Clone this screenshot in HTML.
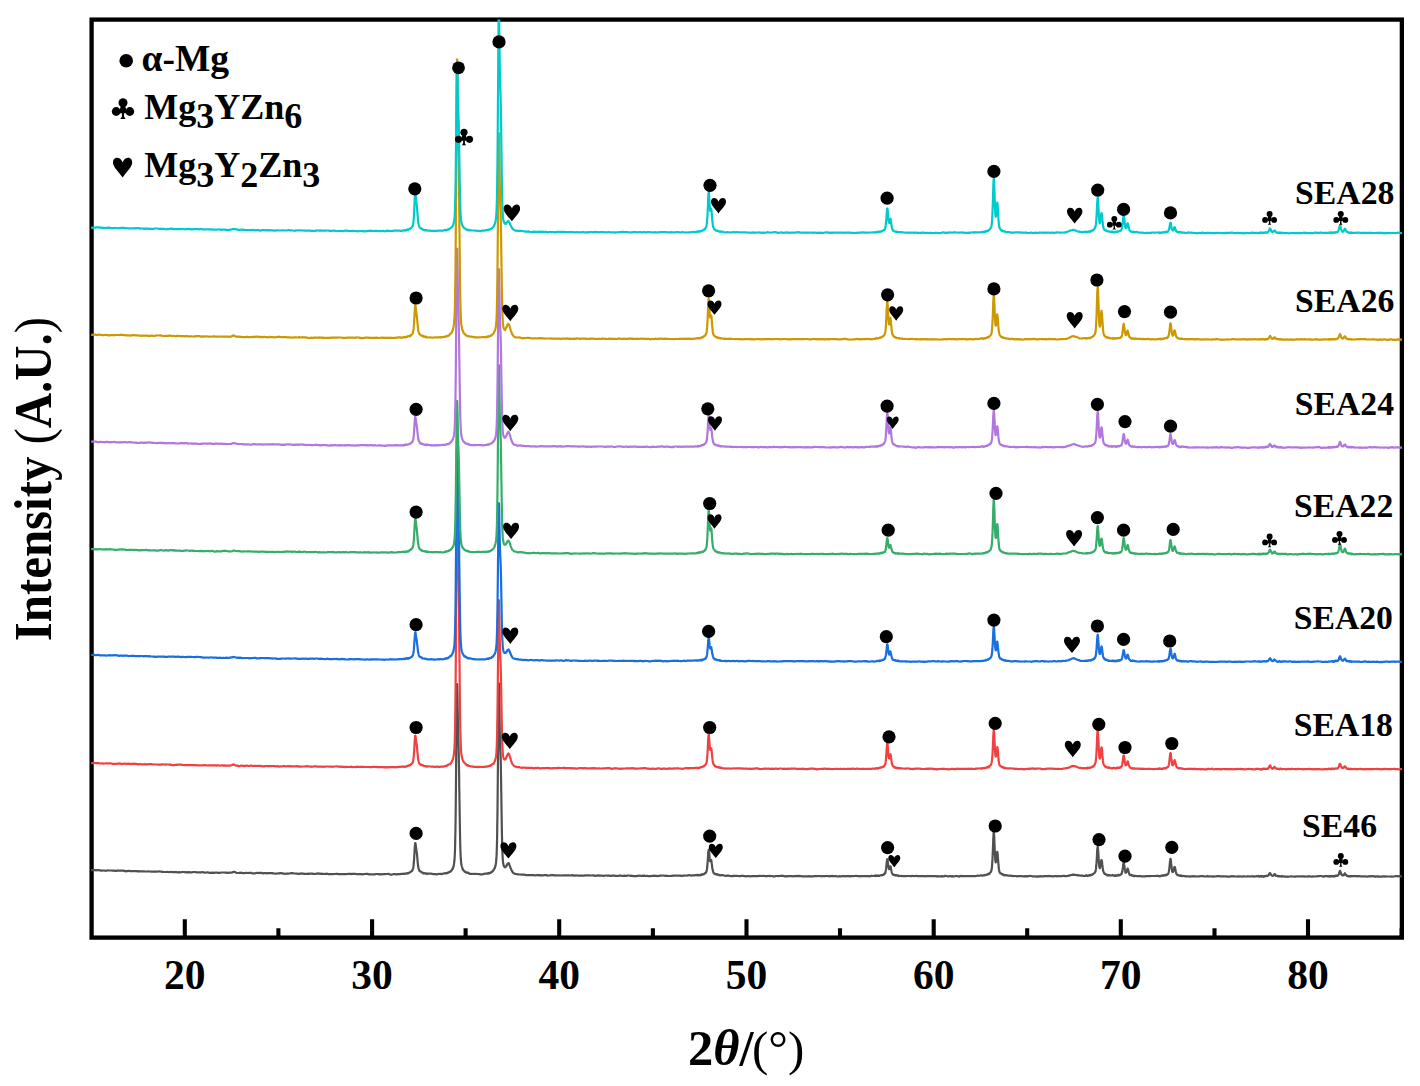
<!DOCTYPE html>
<html><head><meta charset="utf-8"><style>
html,body{margin:0;padding:0;background:#fff;}
svg{display:block;}
text{font-family:"Liberation Serif",serif;font-weight:bold;fill:#000;}
</style></head><body>
<svg width="1420" height="1086" viewBox="0 0 1420 1086">
<defs>
<clipPath id="pa"><rect x="91.2" y="19.4" width="1310.7" height="918"/></clipPath>
<g id="club"><circle cx="0" cy="-5.9" r="4.5"/><circle cx="-6.8" cy="2.9" r="4.4"/><circle cx="6.8" cy="2.9" r="4.4"/><path d="M-2.2 -2.5 L2.2 -2.5 L3 0.5 L3 4.6 L-3 4.6 L-3 0.5 Z"/><path d="M-1.05 4 L1.05 4 L1.15 8.1 L2.6 10.3 L-2.8 10.3 L-1.15 8.1 Z"/></g>
<path id="heart" d="M0 -5.2 C-1.2 -8.6 -3.6 -9.8 -5.6 -9.8 C-8.4 -9.8 -9.6 -7.4 -9.6 -5 C-9.6 -0.6 -4.6 3.6 0 9.9 C4.6 3.6 9.6 -0.6 9.6 -5 C9.6 -7.4 8.4 -9.8 5.6 -9.8 C3.6 -9.8 1.2 -8.6 0 -5.2 Z"/>
</defs>
<rect width="1420" height="1086" fill="#fff"/>
<rect x="91.6" y="19.6" width="1310.25" height="918" fill="none" stroke="#000" stroke-width="4.3"/>
<g clip-path="url(#pa)" fill="none" stroke-width="2.2" stroke-linejoin="round"><path d="M89.2 869.9L90.2 870.0 91.2 870.2 92.2 870.1 93.2 870.0 94.2 870.1 95.2 870.2 96.2 870.4 97.2 870.2 98.2 870.0 99.2 870.3 100.2 870.4 101.2 870.6 102.2 870.6 103.2 870.5 104.2 870.5 105.2 870.8 106.2 870.7 107.2 870.5 108.2 870.4 109.2 870.5 110.2 870.5 111.2 870.5 112.2 870.6 113.2 870.6 114.2 870.7 115.2 870.9 116.2 870.8 117.2 870.6 118.2 870.7 119.2 870.6 120.2 870.6 121.2 870.5 122.2 870.6 123.2 870.6 124.2 870.8 125.2 871.3 126.2 871.1 127.2 871.2 128.2 870.9 129.2 870.9 130.2 871.1 131.2 871.0 132.2 871.1 133.2 871.1 134.2 871.0 135.2 871.1 136.2 871.0 137.2 871.3 138.2 871.2 139.2 871.3 140.2 871.3 141.2 871.4 142.2 871.3 143.2 871.4 144.2 871.4 145.2 871.5 146.2 871.5 147.2 871.5 148.2 871.3 149.2 871.5 150.2 871.5 151.2 871.7 152.2 871.6 153.2 871.6 154.2 871.7 155.2 871.6 156.2 871.6 157.2 871.6 158.2 871.5 159.2 871.4 160.2 871.5 161.2 871.6 162.2 871.8 163.2 871.9 164.2 872.0 165.2 872.0 166.2 872.0 167.2 871.9 168.2 872.0 169.2 872.2 170.2 872.0 171.2 871.8 172.2 872.1 173.2 872.0 174.2 872.1 175.2 872.2 176.2 871.9 177.2 872.3 178.2 872.4 179.2 872.2 180.2 872.3 181.2 872.2 182.2 872.0 183.2 872.0 184.2 872.1 185.2 872.2 186.2 872.3 187.2 872.2 188.2 872.4 189.2 872.2 190.2 872.3 191.2 872.4 192.2 872.3 193.2 872.0 194.2 872.0 195.2 872.1 196.2 872.2 197.2 872.5 198.2 872.3 199.2 872.3 200.2 872.4 201.2 872.4 202.2 872.0 203.2 872.3 204.2 872.6 205.2 872.7 206.2 872.5 207.2 872.4 208.2 872.4 209.2 872.8 210.2 872.8 211.2 872.7 212.2 872.8 213.2 872.7 214.2 872.9 215.2 872.7 216.2 872.6 217.2 872.7 218.2 872.8 219.2 872.8 220.2 872.8 221.2 872.5 222.2 872.5 223.2 872.5 224.2 872.5 225.2 872.6 226.2 872.6 227.2 872.8 228.2 872.8 229.2 872.7 230.2 872.7 231.2 872.7 232.2 872.5 233.2 871.9 234.2 871.9 235.2 872.1 236.2 872.7 237.2 873.0 238.2 873.0 239.2 872.9 240.2 872.7 241.2 872.8 242.2 872.9 243.2 873.2 244.2 873.2 245.2 873.0 246.2 872.7 247.2 873.0 248.2 873.0 249.2 872.8 250.2 872.9 251.2 872.8 252.2 873.4 253.2 873.4 254.2 873.4 255.2 873.3 256.2 872.9 257.2 873.0 258.2 872.8 259.2 873.1 260.2 872.8 261.2 872.8 262.2 873.2 263.2 873.4 264.2 873.2 265.2 873.0 266.2 873.2 267.2 873.4 268.2 873.2 269.2 873.2 270.2 873.1 271.2 873.0 272.2 873.1 273.2 873.4 274.2 873.5 275.2 873.7 276.2 873.6 277.2 873.5 278.2 873.3 279.2 873.4 280.2 873.2 281.2 873.1 282.2 873.3 283.2 873.6 284.2 873.7 285.2 873.8 286.2 873.7 287.2 873.5 288.2 873.6 289.2 873.5 290.2 873.4 291.2 873.2 292.2 873.2 293.2 873.3 294.2 873.5 295.2 873.5 296.2 873.7 297.2 873.7 298.2 873.8 299.2 873.9 300.2 873.7 301.2 873.4 302.2 873.6 303.2 873.6 304.2 873.8 305.2 873.8 306.2 873.9 307.2 874.0 308.2 873.6 309.2 873.8 310.2 873.7 311.2 873.6 312.2 873.6 313.2 873.8 314.2 873.9 315.2 874.0 316.2 873.7 317.2 873.7 318.2 873.4 319.2 873.6 320.2 873.8 321.2 873.7 322.2 873.8 323.2 873.9 324.2 874.0 325.2 873.9 326.2 873.8 327.2 873.7 328.2 874.1 329.2 874.2 330.2 874.1 331.2 874.1 332.2 874.1 333.2 874.1 334.2 874.0 335.2 874.0 336.2 873.8 337.2 873.8 338.2 874.1 339.2 874.2 340.2 874.1 341.2 874.1 342.2 874.1 343.2 874.1 344.2 874.0 345.2 874.1 346.2 874.1 347.2 874.0 348.2 873.9 349.2 873.9 350.2 873.8 351.2 874.1 352.2 873.8 353.2 873.9 354.2 873.9 355.2 873.9 356.2 874.0 357.2 874.3 358.2 874.2 359.2 874.2 360.2 874.1 361.2 874.1 362.2 874.3 363.2 874.2 364.2 874.1 365.2 874.0 366.2 873.9 367.2 873.9 368.2 874.2 369.2 874.3 370.2 874.2 371.2 874.5 372.2 874.3 373.2 874.4 374.2 874.5 375.2 874.2 376.2 874.0 377.2 874.0 378.2 874.2 379.2 874.4 380.2 874.2 381.2 874.4 382.2 874.3 383.2 874.2 384.2 874.2 385.2 874.2 386.2 874.0 387.2 874.0 388.2 873.9 389.2 874.1 390.2 874.5 391.2 874.8 392.2 874.5 393.2 874.2 394.2 874.1 395.2 874.0 396.2 874.4 397.2 874.4 398.2 874.1 399.2 874.2 400.2 874.2 401.2 873.9 402.2 873.8 403.2 873.8 403.2 873.8 403.4 873.8 403.6 873.8 403.8 873.8 404.0 873.7 404.2 873.6 404.2 873.9 404.4 873.9 404.6 873.9 404.8 873.6 405.0 873.6 405.2 873.7 405.2 873.5 405.4 873.7 405.6 873.6 405.8 873.6 406.0 873.5 406.2 873.5 406.2 873.7 406.4 873.5 406.6 873.7 406.8 873.4 407.0 873.2 407.2 873.3 407.2 873.2 407.4 873.1 407.6 873.2 407.8 873.3 408.0 873.0 408.2 873.0 408.2 873.3 408.4 873.3 408.6 873.1 408.8 872.8 409.0 872.7 409.2 872.5 409.2 872.5 409.4 872.5 409.6 872.4 409.8 872.5 410.0 872.3 410.2 872.0 410.2 872.2 410.4 871.9 410.6 871.8 410.8 871.7 411.0 871.5 411.2 871.3 411.2 871.3 411.4 871.5 411.6 871.2 411.8 871.0 412.0 870.9 412.2 870.7 412.2 870.6 412.4 870.4 412.6 869.7 412.8 869.2 413.0 868.6 413.2 867.9 413.2 867.8 413.4 866.9 413.6 865.2 413.8 863.1 414.0 860.5 414.2 857.4 414.2 856.7 414.4 854.0 414.6 850.3 414.8 846.8 415.0 844.4 415.2 843.1 415.2 843.0 415.4 843.0 415.6 844.0 415.6 844.1 415.8 845.4 415.8 845.5 416.0 846.9 416.0 847.1 416.2 848.5 416.2 848.8 416.2 848.8 416.4 850.0 416.4 850.4 416.6 851.3 416.6 851.4 416.8 852.7 416.8 852.9 417.0 854.4 417.0 854.7 417.2 856.4 417.2 856.6 417.2 856.9 417.4 858.6 417.4 858.9 417.6 861.0 417.6 861.5 417.8 863.5 417.8 863.7 418.0 864.9 418.0 865.2 418.2 866.6 418.2 866.8 418.4 867.7 418.6 868.6 418.8 869.2 419.0 869.8 419.2 870.1 419.2 870.1 419.4 870.5 419.6 870.9 419.8 871.1 420.0 871.1 420.2 871.1 420.2 871.3 420.4 871.5 420.6 871.4 420.8 871.7 421.0 871.7 421.2 871.9 421.2 872.1 421.4 872.2 421.6 872.4 421.8 872.5 422.0 872.4 422.2 872.5 422.2 872.5 422.4 872.6 422.6 872.8 422.8 872.9 423.0 873.2 423.2 872.8 423.2 873.0 423.4 873.0 423.6 873.4 423.8 873.5 424.0 873.2 424.2 873.3 424.2 873.2 424.4 873.4 424.6 873.3 424.8 873.4 425.0 873.4 425.2 873.4 425.2 873.4 425.4 873.2 425.6 873.4 425.8 873.7 426.0 873.7 426.2 873.5 426.2 873.6 426.4 873.7 426.6 873.7 426.8 873.7 427.0 874.0 427.2 873.7 427.2 873.7 428.2 873.5 429.2 873.7 430.2 873.7 431.2 873.7 432.2 873.8 433.2 874.2 434.2 874.1 435.2 874.1 436.2 874.4 437.2 874.3 438.2 873.9 439.2 874.0 440.2 873.8 441.2 874.1 442.2 873.8 443.2 873.6 444.2 873.3 445.0 873.4 445.2 873.2 445.2 873.3 445.4 873.3 445.6 873.2 445.8 873.4 446.0 873.5 446.2 873.4 446.2 873.2 446.4 873.1 446.6 873.1 446.8 873.4 447.0 873.2 447.2 873.0 447.2 872.9 447.4 872.8 447.6 872.6 447.8 872.7 448.0 872.9 448.2 872.8 448.2 872.6 448.4 872.4 448.6 872.4 448.8 872.4 449.0 872.1 449.2 872.0 449.2 872.1 449.4 872.2 449.6 872.1 449.8 872.0 450.0 871.8 450.2 871.7 450.2 871.6 450.4 871.8 450.6 871.3 450.8 871.1 451.0 871.1 451.2 870.8 451.2 870.9 451.4 870.6 451.6 870.4 451.8 870.0 452.0 869.5 452.2 869.1 452.2 869.5 452.4 869.2 452.6 868.9 452.8 868.5 453.0 868.0 453.2 867.5 453.2 867.2 453.4 866.6 453.6 866.1 453.8 865.1 454.0 863.9 454.2 862.6 454.2 862.2 454.4 861.0 454.6 858.4 454.8 854.8 455.0 849.7 455.2 842.6 455.2 840.3 455.4 832.3 455.6 818.6 455.8 801.3 456.0 780.6 456.2 757.4 456.2 751.0 456.4 733.0 456.6 710.5 456.8 693.1 457.0 684.2 457.2 684.2 457.2 685.7 457.4 692.0 457.6 701.0 457.6 703.6 457.8 713.7 457.8 716.1 458.0 724.8 458.0 726.9 458.2 734.2 458.2 735.7 458.2 737.9 458.4 741.7 458.4 743.0 458.6 748.3 458.6 749.7 458.8 756.1 458.8 758.1 459.0 766.7 459.0 769.0 459.2 779.3 459.2 781.9 459.2 785.5 459.4 793.2 459.4 796.1 459.6 807.1 459.6 809.8 459.8 820.1 459.8 822.4 460.0 831.7 460.0 833.7 460.2 842.6 460.2 844.3 460.4 849.7 460.6 855.0 460.8 858.7 461.0 861.2 461.2 863.1 461.2 863.6 461.4 864.5 461.6 865.4 461.8 866.2 462.0 866.9 462.2 867.5 462.2 867.7 462.4 868.1 462.6 869.0 462.8 869.5 463.0 869.5 463.2 869.9 463.2 869.9 463.4 870.1 463.6 870.5 463.8 870.6 464.0 870.8 464.2 870.9 464.2 871.0 464.4 871.3 464.6 871.6 464.8 871.5 465.0 871.6 465.2 871.7 465.2 871.9 465.4 872.0 465.6 872.2 465.8 872.3 466.0 872.1 466.2 872.3 466.2 872.4 466.4 872.6 466.6 872.5 466.8 872.6 467.0 872.6 467.2 872.7 467.2 872.8 467.4 872.9 467.6 872.9 467.8 872.7 468.0 872.6 468.2 872.8 468.2 873.1 468.4 873.2 468.6 872.9 468.8 873.0 469.0 873.2 469.2 873.6 470.2 873.9 471.2 873.9 472.2 874.0 473.2 873.9 474.2 873.9 475.2 874.0 476.2 873.9 477.2 874.0 478.2 874.0 479.2 874.1 480.2 874.3 481.2 874.3 482.2 874.3 483.2 874.1 484.2 873.8 485.2 873.7 486.2 873.7 486.8 873.5 487.0 873.7 487.2 873.6 487.2 873.6 487.4 873.5 487.6 873.3 487.8 873.6 488.0 873.4 488.2 873.5 488.2 873.3 488.4 873.4 488.6 873.2 488.8 873.1 489.0 873.2 489.2 873.4 489.2 873.2 489.4 873.1 489.6 873.1 489.8 872.9 490.0 872.9 490.2 872.7 490.2 872.8 490.4 872.8 490.6 872.8 490.8 872.7 491.0 872.3 491.2 872.3 491.2 872.1 491.4 872.2 491.6 872.3 491.8 872.1 492.0 871.8 492.2 871.8 492.2 871.7 492.4 871.3 492.6 871.2 492.8 871.2 493.0 870.9 493.2 870.7 493.2 870.5 493.4 870.1 493.6 869.9 493.8 869.7 494.0 869.5 494.2 869.1 494.2 868.7 494.4 868.7 494.6 868.4 494.8 868.0 495.0 867.6 495.2 866.8 495.2 866.5 495.4 866.0 495.6 865.4 495.8 864.0 496.0 862.7 496.2 860.8 496.2 860.4 496.4 858.7 496.6 855.0 496.8 849.6 497.0 842.2 497.2 831.8 497.2 828.4 497.4 817.9 497.6 800.3 497.8 779.4 498.0 755.6 498.2 731.4 498.2 725.3 498.4 709.0 498.6 691.6 498.8 683.3 499.0 684.2 499.2 692.9 499.2 696.0 499.4 706.1 499.5 711.6 499.6 719.7 499.7 724.9 499.8 731.7 499.9 735.2 500.0 740.2 500.1 743.0 500.2 746.5 500.2 747.8 500.3 748.4 500.4 751.5 500.5 753.3 500.6 756.6 500.7 759.5 500.8 764.5 500.9 768.4 501.0 775.0 501.1 780.1 501.2 788.0 501.2 791.1 501.3 793.0 501.4 801.4 501.5 806.9 501.6 814.8 501.7 819.9 501.8 826.8 501.9 831.3 502.0 837.0 502.2 845.0 502.2 846.8 502.4 851.4 502.6 856.1 502.8 859.5 503.0 861.6 503.2 863.3 503.2 863.6 503.4 864.2 503.6 865.0 503.8 865.9 504.0 866.4 504.2 866.6 504.2 866.3 504.4 866.5 504.6 866.6 504.8 866.9 505.0 867.3 505.2 867.3 505.2 867.2 505.4 866.9 505.6 866.7 505.8 866.5 506.0 866.3 506.2 866.5 506.2 866.2 506.4 865.8 506.6 865.7 506.8 865.3 507.0 864.7 507.2 864.6 507.2 864.4 507.4 864.0 507.6 863.8 507.8 863.6 508.0 863.4 508.2 863.4 508.2 863.5 508.4 863.3 508.6 863.1 508.8 863.1 509.0 863.5 509.2 864.2 509.2 864.5 509.4 864.9 509.6 865.6 509.8 865.9 510.0 866.5 510.2 866.8 510.2 867.0 510.4 867.5 510.6 868.0 510.8 868.4 511.2 869.4 512.2 871.5 513.2 872.9 514.2 873.5 515.2 873.9 516.2 874.0 517.2 874.3 518.2 874.3 519.2 874.5 520.2 874.5 521.2 874.7 522.2 874.7 523.2 874.6 524.2 874.7 525.2 874.9 526.2 875.2 527.2 875.1 528.2 875.2 529.2 875.2 530.2 875.2 531.2 875.0 532.2 875.1 533.2 875.0 534.2 875.2 535.2 875.3 536.2 875.3 537.2 874.9 538.2 875.1 539.2 875.3 540.2 875.1 541.2 875.3 542.2 875.3 543.2 875.3 544.2 875.2 545.2 875.1 546.2 875.1 547.2 875.6 548.2 875.5 549.2 875.5 550.2 875.3 551.2 875.2 552.2 875.2 553.2 875.1 554.2 875.4 555.2 875.3 556.2 875.5 557.2 875.3 558.2 875.5 559.2 875.4 560.2 875.5 561.2 875.5 562.2 875.3 563.2 875.5 564.2 875.4 565.2 875.4 566.2 875.3 567.2 875.4 568.2 875.4 569.2 875.4 570.2 875.5 571.2 875.4 572.2 875.2 573.2 875.4 574.2 875.6 575.2 875.6 576.2 875.4 577.2 875.5 578.2 875.6 579.2 875.6 580.2 875.6 581.2 875.6 582.2 875.6 583.2 875.7 584.2 875.6 585.2 875.4 586.2 875.4 587.2 875.5 588.2 875.3 589.2 875.3 590.2 875.5 591.2 875.5 592.2 875.5 593.2 875.4 594.2 875.6 595.2 875.8 596.2 875.7 597.2 875.6 598.2 875.4 599.2 875.6 600.2 875.6 601.2 875.5 602.2 875.7 603.2 875.8 604.2 875.8 605.2 875.5 606.2 875.5 607.2 875.7 608.2 875.5 609.2 875.7 610.2 875.9 611.2 875.9 612.2 875.7 613.2 875.6 614.2 875.7 615.2 875.9 616.2 875.9 617.2 876.0 618.2 875.9 619.2 875.7 620.2 875.5 621.2 875.7 622.2 876.0 623.2 875.8 624.2 875.7 625.2 875.8 626.2 875.8 627.2 875.6 628.2 875.5 629.2 875.5 630.2 875.8 631.2 875.7 632.2 875.8 633.2 876.1 634.2 876.2 635.2 876.2 636.2 876.2 637.2 875.9 638.2 875.8 639.2 875.7 640.2 875.7 641.2 876.1 642.2 875.7 643.2 875.8 644.2 875.6 645.2 875.9 646.2 876.0 647.2 875.8 648.2 876.1 649.2 876.0 650.2 876.1 651.2 876.0 652.2 875.8 653.2 875.8 654.2 875.7 655.2 875.8 656.2 875.8 657.2 876.1 658.2 876.0 659.2 875.8 660.2 875.7 661.2 875.6 662.2 875.5 663.2 875.5 664.2 875.7 665.2 875.8 666.2 875.7 667.2 875.8 668.2 876.0 669.2 876.0 670.2 876.0 671.2 875.8 672.2 875.8 673.2 875.7 674.2 875.7 675.2 875.6 676.2 875.6 677.2 875.7 678.2 875.7 679.2 875.7 680.2 875.6 681.2 875.9 682.2 875.8 683.2 875.6 684.2 875.7 685.2 875.5 686.2 875.5 687.2 875.6 688.2 875.4 689.2 875.0 690.2 875.3 691.2 875.6 692.2 875.3 693.2 875.3 694.2 875.4 695.2 875.2 696.2 875.1 696.7 875.0 696.9 875.1 697.1 874.9 697.2 875.2 697.3 875.3 697.5 875.3 697.7 875.3 697.9 875.0 698.1 875.1 698.2 874.9 698.3 875.1 698.5 875.0 698.7 875.0 698.9 875.1 699.1 875.2 699.2 875.3 699.3 875.1 699.5 875.1 699.7 875.3 699.9 875.2 700.1 875.0 700.2 875.0 700.3 874.9 700.5 875.1 700.7 875.0 700.9 875.0 701.1 875.2 701.2 874.8 701.3 874.7 701.5 874.4 701.7 874.3 701.9 874.5 702.1 874.6 702.2 874.8 702.3 874.4 702.5 874.3 702.7 874.5 702.9 874.5 703.1 874.5 703.2 874.5 703.3 874.4 703.5 874.2 703.7 874.1 703.9 874.1 704.1 873.9 704.2 873.8 704.3 874.0 704.5 873.6 704.7 873.4 704.9 873.4 705.1 873.2 705.2 873.0 705.3 873.3 705.5 873.1 705.7 872.7 705.9 872.6 706.1 872.6 706.2 871.9 706.3 871.7 706.5 871.2 706.7 870.4 706.9 869.7 707.1 868.3 707.2 866.8 707.3 866.3 707.5 863.9 707.7 861.1 707.9 858.2 708.1 855.4 708.2 852.9 708.3 852.3 708.5 850.5 708.7 849.7 708.9 850.4 709.1 851.9 709.2 853.5 709.3 854.0 709.5 856.3 709.7 858.7 709.9 860.1 710.0 860.8 710.1 861.1 710.2 861.3 710.2 861.1 710.3 861.3 710.4 861.4 710.5 861.3 710.6 861.2 710.7 860.9 710.8 860.5 710.9 860.4 711.0 860.3 711.1 860.1 711.2 860.0 711.2 860.1 711.3 860.5 711.4 861.1 711.5 861.3 711.6 862.1 711.7 862.8 711.8 863.9 711.9 864.4 712.0 865.3 712.1 866.2 712.2 867.4 712.2 867.7 712.3 867.7 712.4 868.5 712.5 869.0 712.7 870.1 712.9 870.9 713.1 871.5 713.2 872.0 713.3 872.3 713.5 872.7 713.7 873.0 713.9 873.2 714.1 873.2 714.2 873.3 714.3 873.5 714.5 873.7 714.7 874.1 714.9 874.1 715.1 874.1 715.2 873.8 715.3 874.0 715.5 873.8 715.7 874.2 715.9 874.2 716.1 874.3 716.2 874.2 716.3 874.2 716.5 874.2 716.7 874.6 716.9 874.7 717.1 874.5 717.2 874.4 717.3 874.5 717.5 874.6 717.7 874.5 717.9 874.8 718.1 874.8 718.2 874.9 718.3 874.8 718.5 874.8 718.7 874.9 718.9 874.7 719.1 875.0 719.2 875.1 719.3 874.9 719.5 875.0 719.7 875.3 719.9 875.3 720.1 875.5 720.2 875.4 720.3 875.3 720.5 875.1 720.7 875.1 721.2 875.0 722.2 875.1 723.2 875.3 724.2 875.5 725.2 875.8 726.2 875.8 727.2 875.6 728.2 875.7 729.2 875.7 730.2 876.0 731.2 876.2 732.2 876.2 733.2 875.9 734.2 875.8 735.2 875.9 736.2 875.8 737.2 875.9 738.2 876.0 739.2 876.1 740.2 876.1 741.2 875.9 742.2 875.8 743.2 875.8 744.2 876.1 745.2 876.2 746.2 876.3 747.2 876.2 748.2 876.2 749.2 876.2 750.2 876.3 751.2 876.3 752.2 876.0 753.2 876.1 754.2 876.1 755.2 876.0 756.2 876.1 757.2 876.1 758.2 876.1 759.2 875.8 760.2 875.9 761.2 876.0 762.2 876.0 763.2 875.8 764.2 876.0 765.2 876.1 766.2 876.1 767.2 876.1 768.2 876.0 769.2 875.9 770.2 876.1 771.2 876.0 772.2 876.0 773.2 876.5 774.2 876.4 775.2 876.3 776.2 876.0 777.2 876.0 778.2 876.1 779.2 876.0 780.2 876.0 781.2 875.7 782.2 875.9 783.2 875.9 784.2 876.1 785.2 876.3 786.2 876.2 787.2 876.3 788.2 876.2 789.2 876.1 790.2 876.1 791.2 876.0 792.2 876.2 793.2 876.3 794.2 876.1 795.2 876.2 796.2 876.1 797.2 875.9 798.2 876.1 799.2 875.9 800.2 876.2 801.2 876.2 802.2 876.3 803.2 876.3 804.2 876.4 805.2 876.3 806.2 876.3 807.2 876.3 808.2 876.4 809.2 876.2 810.2 876.3 811.2 876.4 812.2 876.3 813.2 876.3 814.2 876.2 815.2 876.1 816.2 876.1 817.2 876.1 818.2 876.0 819.2 876.0 820.2 876.1 821.2 876.2 822.2 876.3 823.2 876.0 824.2 876.2 825.2 876.2 826.2 876.0 827.2 876.0 828.2 876.1 829.2 876.3 830.2 876.2 831.2 876.2 832.2 875.9 833.2 876.1 834.2 876.1 835.2 876.0 836.2 876.2 837.2 876.4 838.2 876.5 839.2 876.2 840.2 876.4 841.2 876.3 842.2 876.2 843.2 876.1 844.2 876.2 845.2 876.3 846.2 876.2 847.2 876.2 848.2 876.1 849.2 876.1 850.2 876.3 851.2 876.1 852.2 876.1 853.2 876.1 854.2 876.0 855.2 876.0 856.2 875.9 857.2 876.0 858.2 876.2 859.2 876.1 860.2 876.3 861.2 876.1 862.2 876.2 863.2 876.2 864.2 876.1 865.2 876.1 866.2 876.2 867.2 876.2 868.2 876.2 869.2 876.3 870.2 876.2 871.2 875.9 872.2 875.8 873.2 876.0 874.2 875.9 875.2 875.7 875.3 875.5 875.5 875.7 875.7 876.0 875.9 875.7 876.1 875.5 876.2 875.7 876.3 875.7 876.5 875.7 876.7 875.7 876.9 875.6 877.1 875.7 877.2 875.9 877.3 875.9 877.5 875.7 877.7 875.9 877.9 875.8 878.1 875.8 878.2 875.6 878.3 875.7 878.5 875.8 878.7 875.9 878.9 875.8 879.1 875.8 879.2 875.6 879.3 875.7 879.5 875.7 879.7 875.8 879.9 875.6 880.1 875.4 880.2 875.4 880.3 875.4 880.5 875.3 880.7 875.4 880.9 875.5 881.1 875.4 881.2 875.5 881.3 875.5 881.5 875.2 881.7 875.1 881.9 875.0 882.1 875.1 882.2 875.2 882.3 875.1 882.5 875.2 882.7 874.9 882.9 874.8 883.1 874.9 883.2 874.9 883.3 874.9 883.5 874.5 883.7 874.2 883.9 874.1 884.1 874.2 884.2 874.4 884.3 874.2 884.5 873.8 884.7 873.6 884.9 873.3 885.1 873.1 885.2 872.7 885.3 872.9 885.5 872.2 885.7 871.1 885.9 869.9 886.1 868.4 886.2 867.2 886.3 866.8 886.5 864.7 886.7 862.7 886.9 860.9 887.1 859.5 887.2 859.0 887.3 859.0 887.5 859.3 887.7 860.4 887.9 862.3 888.1 864.1 888.2 865.3 888.3 865.8 888.5 867.1 888.7 868.3 888.9 868.8 889.1 869.1 889.2 868.9 889.2 868.9 889.3 869.0 889.4 868.8 889.5 868.4 889.6 868.4 889.7 867.9 889.8 867.8 889.9 867.3 890.0 866.7 890.1 866.8 890.2 866.4 890.2 866.5 890.3 866.5 890.4 866.3 890.5 866.4 890.6 866.6 890.7 867.0 890.8 867.4 890.9 867.7 891.0 868.2 891.1 868.9 891.2 869.4 891.2 869.8 891.3 869.9 891.4 870.4 891.5 871.0 891.6 871.5 891.7 872.0 891.9 872.8 892.1 873.4 892.2 873.7 892.3 873.7 892.5 873.8 892.7 874.2 892.9 874.6 893.1 874.7 893.2 874.6 893.3 874.6 893.5 874.9 893.7 874.9 893.9 874.8 894.1 874.9 894.2 874.8 894.3 874.9 894.5 874.8 894.7 874.9 894.9 875.2 895.1 875.4 895.2 875.1 895.3 875.0 895.5 875.1 895.7 875.2 895.9 875.1 896.1 875.4 896.2 875.2 896.3 875.4 896.5 875.5 896.7 875.5 896.9 875.4 897.1 875.5 897.2 875.6 897.3 875.3 897.5 875.3 897.7 875.5 897.9 875.6 898.1 875.6 898.2 875.5 898.3 875.5 898.5 875.5 898.7 876.0 898.9 875.7 899.1 876.0 899.2 876.0 899.3 875.9 900.2 876.0 901.2 875.9 902.2 876.2 903.2 876.2 904.2 876.1 905.2 876.1 906.2 876.1 907.2 876.0 908.2 876.0 909.2 876.0 910.2 876.1 911.2 876.2 912.2 875.9 913.2 876.0 914.2 876.2 915.2 876.0 916.2 875.9 917.2 876.2 918.2 876.2 919.2 876.1 920.2 876.0 921.2 876.1 922.2 876.1 923.2 876.2 924.2 876.2 925.2 876.3 926.2 876.2 927.2 876.2 928.2 876.2 929.2 876.2 930.2 876.2 931.2 876.2 932.2 876.2 933.2 876.1 934.2 876.1 935.2 876.2 936.2 876.3 937.2 876.2 938.2 876.3 939.2 876.3 940.2 876.3 941.2 876.4 942.2 876.2 943.2 876.3 944.2 876.3 945.2 875.8 946.2 876.0 947.2 876.2 948.2 876.5 949.2 876.2 950.2 876.2 951.2 876.3 952.2 876.1 953.2 876.3 954.2 876.3 955.2 876.2 956.2 876.0 957.2 876.0 958.2 876.4 959.2 876.6 960.2 876.1 961.2 875.9 962.2 876.1 963.2 876.1 964.2 876.0 965.2 876.2 966.2 876.2 967.2 876.2 968.2 876.2 969.2 876.0 970.2 876.2 971.2 876.1 972.2 876.2 973.2 876.2 974.2 876.2 975.2 876.1 976.2 876.0 977.2 875.7 978.2 875.7 979.2 875.8 980.2 875.5 981.2 875.3 981.8 875.6 982.0 875.7 982.2 875.4 982.2 875.5 982.4 875.5 982.6 875.7 982.8 875.6 983.0 875.5 983.2 875.4 983.2 875.4 983.4 875.4 983.6 875.3 983.8 875.3 984.0 875.2 984.2 875.3 984.2 875.2 984.4 875.0 984.6 874.9 984.8 875.2 985.0 875.1 985.2 875.2 985.2 875.2 985.4 875.1 985.6 875.2 985.8 875.1 986.0 875.0 986.2 874.8 986.2 874.8 986.4 874.6 986.6 874.6 986.8 874.5 987.0 874.6 987.2 874.6 987.2 874.5 987.4 874.6 987.6 874.6 987.8 874.4 988.0 874.2 988.2 874.2 988.2 873.8 988.4 873.7 988.6 873.8 988.8 874.0 989.0 873.7 989.2 873.7 989.2 873.9 989.4 873.9 989.6 873.2 989.8 873.2 990.0 872.9 990.2 872.8 990.2 872.6 990.4 872.3 990.6 872.0 990.8 872.0 991.0 871.6 991.2 871.0 991.2 870.9 991.4 870.5 991.6 869.6 991.8 868.3 992.0 866.4 992.2 863.9 992.2 863.2 992.4 860.8 992.6 856.6 992.8 851.9 993.0 846.9 993.2 841.4 993.2 840.1 993.4 836.7 993.6 833.5 993.8 832.3 994.0 833.3 994.2 836.3 994.2 837.4 994.4 840.8 994.6 845.9 994.8 850.9 995.0 855.1 995.2 858.4 995.2 859.2 995.4 860.9 995.6 862.1 995.8 862.4 996.0 861.7 996.1 861.3 996.2 860.6 996.2 860.1 996.3 859.5 996.4 858.5 996.5 857.7 996.6 856.3 996.7 855.5 996.8 853.8 996.9 853.1 997.0 852.5 997.1 852.4 997.2 852.2 997.2 851.9 997.3 851.9 997.4 852.3 997.5 852.5 997.6 853.8 997.7 854.5 997.8 856.0 997.9 856.9 998.0 858.6 998.1 859.8 998.2 861.6 998.2 862.0 998.3 862.5 998.4 864.2 998.5 864.9 998.6 866.3 998.8 868.1 999.0 869.5 999.2 870.5 999.2 870.9 999.4 871.6 999.6 872.1 999.8 872.5 1000.0 872.6 1000.2 872.9 1000.2 873.2 1000.4 873.4 1000.6 873.3 1000.8 873.2 1001.0 873.3 1001.2 873.6 1001.2 873.6 1001.4 873.7 1001.6 874.0 1001.8 874.2 1002.0 874.3 1002.2 874.5 1002.2 874.3 1002.4 874.4 1002.6 874.6 1002.8 874.4 1003.0 874.7 1003.2 874.5 1003.2 874.4 1003.4 875.0 1003.6 875.1 1003.8 875.1 1004.0 875.3 1004.2 875.4 1004.2 875.1 1004.4 875.2 1004.6 875.4 1004.8 875.3 1005.0 875.3 1005.2 875.2 1005.2 875.3 1005.4 875.2 1005.6 875.2 1005.8 875.1 1006.2 875.1 1007.2 875.4 1008.2 875.6 1009.2 875.7 1010.2 875.6 1011.2 875.8 1012.2 875.9 1013.2 876.2 1014.2 876.0 1015.2 876.0 1016.2 876.1 1017.2 876.3 1018.2 876.2 1019.2 876.2 1020.2 876.1 1021.2 876.0 1022.2 876.2 1023.2 876.3 1024.2 876.4 1025.2 876.1 1026.2 876.3 1027.2 876.1 1028.2 876.3 1029.2 875.9 1030.2 876.0 1031.2 876.0 1032.2 876.3 1033.2 876.3 1034.2 876.5 1035.2 876.3 1036.2 876.6 1037.2 876.4 1038.2 876.6 1039.2 876.4 1040.2 876.2 1041.2 876.4 1042.2 876.3 1043.2 876.3 1044.2 876.1 1045.2 876.1 1046.2 876.2 1047.2 876.1 1048.2 876.2 1049.2 875.9 1050.2 876.2 1051.2 876.1 1052.2 876.4 1053.2 876.3 1054.2 876.2 1055.2 876.1 1056.2 876.2 1057.2 876.3 1058.2 876.2 1059.2 876.1 1060.2 876.2 1061.2 876.3 1062.2 876.0 1063.2 875.9 1064.2 875.8 1065.2 876.1 1066.2 876.1 1067.2 876.0 1068.2 875.9 1069.2 875.4 1070.2 875.4 1071.2 875.0 1072.2 874.7 1073.2 874.9 1074.2 874.6 1075.2 875.0 1076.2 875.1 1077.2 875.2 1078.2 875.4 1079.2 875.4 1080.2 875.6 1081.2 875.6 1082.2 875.5 1083.2 876.0 1084.2 875.8 1085.2 875.9 1085.7 875.8 1085.9 875.8 1086.1 875.6 1086.2 875.5 1086.3 875.1 1086.5 875.4 1086.7 875.6 1086.9 875.4 1087.1 875.6 1087.2 875.7 1087.3 876.0 1087.5 875.9 1087.7 875.8 1087.9 875.8 1088.1 875.8 1088.2 875.6 1088.3 875.5 1088.5 875.5 1088.7 875.6 1088.9 875.3 1089.1 875.2 1089.2 875.2 1089.3 875.5 1089.5 875.3 1089.7 875.0 1089.9 875.2 1090.1 875.2 1090.2 875.4 1090.3 875.3 1090.5 875.5 1090.7 875.1 1090.9 875.2 1091.1 875.0 1091.2 874.8 1091.3 874.7 1091.5 874.9 1091.7 874.9 1091.9 874.7 1092.1 874.8 1092.2 874.7 1092.3 874.7 1092.5 874.6 1092.7 874.4 1092.9 874.2 1093.1 874.0 1093.2 874.0 1093.3 873.8 1093.5 873.7 1093.7 873.6 1093.9 873.5 1094.1 873.5 1094.2 873.2 1094.3 873.1 1094.5 873.0 1094.7 872.7 1094.9 872.5 1095.1 872.1 1095.2 872.0 1095.3 871.8 1095.5 871.0 1095.7 870.4 1095.9 869.4 1096.1 867.5 1096.2 866.0 1096.3 865.5 1096.5 863.1 1096.7 860.1 1096.9 856.6 1097.1 852.8 1097.2 850.5 1097.3 850.0 1097.5 847.7 1097.7 846.8 1097.9 847.4 1098.1 849.9 1098.2 851.8 1098.3 852.3 1098.5 855.9 1098.7 859.2 1098.9 862.2 1099.1 864.6 1099.2 866.1 1099.3 866.6 1099.5 867.5 1099.7 868.2 1099.9 868.1 1100.1 867.5 1100.2 867.2 1100.3 866.9 1100.4 866.3 1100.5 865.6 1100.6 865.1 1100.7 864.4 1100.8 863.9 1100.9 862.8 1101.0 862.2 1101.1 861.4 1101.2 860.9 1101.2 860.5 1101.3 860.1 1101.4 860.0 1101.5 860.0 1101.6 860.0 1101.7 860.3 1101.8 860.6 1101.9 861.0 1102.0 861.5 1102.1 862.6 1102.2 863.2 1102.2 863.8 1102.3 864.4 1102.4 864.9 1102.5 866.1 1102.6 866.8 1102.7 867.7 1102.8 868.4 1102.9 869.3 1103.1 870.5 1103.2 871.2 1103.3 871.1 1103.5 871.7 1103.7 872.2 1103.9 872.9 1104.1 873.1 1104.2 873.4 1104.3 873.3 1104.5 873.4 1104.7 873.6 1104.9 874.0 1105.1 873.8 1105.2 874.0 1105.3 874.1 1105.5 874.3 1105.7 874.3 1105.9 874.5 1106.1 874.6 1106.2 874.5 1106.3 874.6 1106.5 874.6 1106.7 874.6 1106.9 874.9 1107.1 875.3 1107.2 875.4 1107.3 875.2 1107.5 875.0 1107.7 875.0 1107.9 875.3 1108.1 875.3 1108.2 875.0 1108.3 875.3 1108.5 875.3 1108.7 875.5 1108.9 875.5 1109.1 875.1 1109.2 875.1 1109.3 875.2 1109.5 875.2 1109.7 875.5 1110.2 875.4 1111.2 875.5 1111.7 875.5 1111.9 875.5 1112.1 875.4 1112.2 875.3 1112.3 875.0 1112.5 875.3 1112.7 875.4 1112.9 875.5 1113.1 875.4 1113.2 875.5 1113.3 875.4 1113.5 875.3 1113.7 875.5 1113.9 875.6 1114.1 875.7 1114.2 875.6 1114.3 875.6 1114.5 875.8 1114.7 875.9 1114.9 875.7 1115.1 875.5 1115.2 875.6 1115.3 875.6 1115.5 875.4 1115.7 875.8 1115.9 875.4 1116.1 875.3 1116.2 875.4 1116.3 875.6 1116.5 875.3 1116.7 875.3 1116.9 875.6 1117.1 875.7 1117.2 875.5 1117.3 875.5 1117.5 875.3 1117.7 875.4 1117.9 875.2 1118.1 874.9 1118.2 874.9 1118.3 875.0 1118.5 874.9 1118.7 875.2 1118.9 875.3 1119.1 875.4 1119.2 875.3 1119.3 875.4 1119.5 875.2 1119.7 875.2 1119.9 875.1 1120.1 875.1 1120.2 874.8 1120.3 874.7 1120.5 874.5 1120.7 874.6 1120.9 874.5 1121.1 874.2 1121.2 874.0 1121.3 873.9 1121.5 873.9 1121.7 873.5 1121.9 872.9 1122.1 872.1 1122.2 871.5 1122.3 871.5 1122.5 870.1 1122.7 868.7 1122.9 867.4 1123.1 865.8 1123.2 864.4 1123.3 864.3 1123.5 863.0 1123.7 862.7 1123.9 862.7 1124.1 863.7 1124.2 864.9 1124.3 865.3 1124.5 866.7 1124.7 868.3 1124.9 869.7 1125.1 870.8 1125.2 871.4 1125.3 871.9 1125.5 872.6 1125.7 872.8 1125.9 872.7 1126.1 872.5 1126.2 872.3 1126.3 872.3 1126.5 872.1 1126.5 871.9 1126.7 871.4 1126.7 871.2 1126.9 870.6 1126.9 870.4 1127.1 869.9 1127.1 870.0 1127.2 869.4 1127.3 869.3 1127.3 869.2 1127.5 868.7 1127.5 869.0 1127.7 868.6 1127.7 868.7 1127.9 868.8 1127.9 869.2 1128.1 869.5 1128.1 869.6 1128.2 870.4 1128.3 870.4 1128.3 870.4 1128.5 871.1 1128.5 871.3 1128.7 871.8 1128.7 872.0 1128.9 872.6 1128.9 872.8 1129.1 873.5 1129.2 874.0 1129.3 874.0 1129.5 874.4 1129.7 874.6 1129.9 874.9 1130.1 875.0 1130.2 875.0 1130.3 875.2 1130.5 875.0 1130.7 874.9 1130.9 875.0 1131.1 875.1 1131.2 875.0 1131.3 875.0 1131.5 874.9 1131.7 875.1 1131.9 875.2 1132.1 875.6 1132.2 875.7 1132.3 875.5 1132.5 875.7 1132.7 875.7 1132.9 875.8 1133.1 875.6 1133.2 875.8 1133.3 875.9 1133.5 875.8 1133.7 875.7 1133.9 875.7 1134.1 875.8 1134.2 876.1 1134.3 876.2 1134.5 876.3 1134.7 876.1 1134.9 876.0 1135.1 876.0 1135.2 875.9 1135.3 875.8 1135.5 875.8 1135.7 876.0 1136.2 876.0 1137.2 876.1 1138.2 876.0 1139.2 876.1 1140.2 876.0 1141.2 876.3 1142.2 876.3 1143.2 876.4 1144.2 876.3 1145.2 876.4 1146.2 876.1 1147.2 876.1 1148.2 876.1 1149.2 876.1 1150.2 876.1 1151.2 876.0 1152.2 876.0 1153.2 876.0 1154.2 876.0 1155.2 876.0 1156.2 875.9 1157.2 875.9 1158.2 875.9 1158.5 875.8 1158.7 875.9 1158.9 876.1 1159.1 876.0 1159.2 876.1 1159.3 876.1 1159.5 876.0 1159.7 876.1 1159.9 876.4 1160.1 876.1 1160.2 876.3 1160.3 876.1 1160.5 876.2 1160.7 875.8 1160.9 876.0 1161.1 876.0 1161.2 875.7 1161.3 875.7 1161.5 875.6 1161.7 875.5 1161.9 875.7 1162.1 875.7 1162.2 875.4 1162.3 875.5 1162.5 875.6 1162.7 875.7 1162.9 875.9 1163.1 875.5 1163.2 875.6 1163.3 875.6 1163.5 875.7 1163.7 875.5 1163.9 875.3 1164.1 875.3 1164.2 875.4 1164.3 875.2 1164.5 875.3 1164.7 875.3 1164.9 875.4 1165.1 875.0 1165.2 875.1 1165.3 875.0 1165.5 875.0 1165.7 875.1 1165.9 875.3 1166.1 875.2 1166.2 875.0 1166.3 875.2 1166.5 874.9 1166.7 874.8 1166.9 874.6 1167.1 874.4 1167.2 874.4 1167.3 874.7 1167.5 874.5 1167.7 874.3 1167.9 874.1 1168.1 873.9 1168.2 873.6 1168.3 873.3 1168.5 872.9 1168.7 872.4 1168.9 871.4 1169.1 870.3 1169.2 869.0 1169.3 868.9 1169.5 866.9 1169.7 864.9 1169.9 862.7 1170.1 860.9 1170.2 859.7 1170.3 859.2 1170.5 858.8 1170.7 859.1 1170.9 860.7 1171.1 862.5 1171.2 863.9 1171.3 864.5 1171.5 866.0 1171.7 868.1 1171.9 869.4 1172.1 870.7 1172.2 871.6 1172.3 871.4 1172.5 871.8 1172.7 872.1 1172.9 872.1 1173.1 871.6 1173.2 871.3 1173.3 871.4 1173.5 870.8 1173.5 870.8 1173.7 869.9 1173.7 869.7 1173.9 868.8 1173.9 868.8 1174.1 868.3 1174.1 868.1 1174.2 867.5 1174.3 867.5 1174.3 867.4 1174.5 866.9 1174.5 866.9 1174.7 867.0 1174.7 867.2 1174.9 867.2 1174.9 867.1 1175.1 868.0 1175.1 868.2 1175.2 869.0 1175.3 869.0 1175.3 869.1 1175.5 870.0 1175.5 870.3 1175.7 871.2 1175.7 871.1 1175.9 872.0 1175.9 872.0 1176.1 872.7 1176.2 873.2 1176.3 873.3 1176.5 874.1 1176.7 874.4 1176.9 874.6 1177.1 874.7 1177.2 874.8 1177.3 874.8 1177.5 874.9 1177.7 875.1 1177.9 875.3 1178.1 875.1 1178.2 875.1 1178.3 875.1 1178.5 875.0 1178.7 875.2 1178.9 875.3 1179.1 875.4 1179.2 875.5 1179.3 875.4 1179.5 875.7 1179.7 875.8 1179.9 875.6 1180.1 875.7 1180.2 875.8 1180.3 875.6 1180.5 875.6 1180.7 875.8 1180.9 875.4 1181.1 875.4 1181.2 875.6 1181.3 875.8 1181.5 875.7 1181.7 875.9 1181.9 876.2 1182.1 876.1 1182.2 876.0 1182.3 876.0 1182.5 875.8 1183.2 876.0 1184.2 876.1 1185.2 876.2 1186.2 876.4 1187.2 876.3 1188.2 876.3 1189.2 876.3 1190.2 876.6 1191.2 876.3 1192.2 876.3 1193.2 876.2 1194.2 876.3 1195.2 876.4 1196.2 876.4 1197.2 876.5 1198.2 876.5 1199.2 876.3 1200.2 876.2 1201.2 876.1 1202.2 876.2 1203.2 876.2 1204.2 876.4 1205.2 876.5 1206.2 876.4 1207.2 876.2 1208.2 876.4 1209.2 876.3 1210.2 876.3 1211.2 876.5 1212.2 876.4 1213.2 876.6 1214.2 876.4 1215.2 876.5 1216.2 876.4 1217.2 876.0 1218.2 876.2 1219.2 876.2 1220.2 876.4 1221.2 876.4 1222.2 876.3 1223.2 876.3 1224.2 876.3 1225.2 876.5 1226.2 876.4 1227.2 876.6 1228.2 876.6 1229.2 876.5 1230.2 876.6 1231.2 876.2 1232.2 876.3 1233.2 876.2 1234.2 876.3 1235.2 876.5 1236.2 876.5 1237.2 876.4 1238.2 876.6 1239.2 876.4 1240.2 876.3 1241.2 876.5 1242.2 876.6 1243.2 876.3 1244.2 876.4 1245.2 876.5 1246.2 876.5 1247.2 876.4 1248.2 876.4 1249.2 876.5 1250.2 876.3 1251.2 876.5 1252.2 876.2 1253.2 876.3 1254.2 876.6 1255.2 876.4 1256.2 876.4 1257.2 876.1 1258.0 876.1 1258.2 876.0 1258.2 876.2 1258.4 876.2 1258.6 876.5 1258.8 876.3 1259.0 876.4 1259.2 876.4 1259.2 876.5 1259.4 876.6 1259.6 876.3 1259.8 876.6 1260.0 876.5 1260.2 876.3 1260.2 876.1 1260.4 876.2 1260.6 876.0 1260.8 876.2 1261.0 876.2 1261.2 876.3 1261.2 876.2 1261.4 876.3 1261.6 876.6 1261.8 876.7 1262.0 876.6 1262.2 876.3 1262.2 876.5 1262.4 876.2 1262.6 876.1 1262.8 876.3 1263.0 876.2 1263.2 876.5 1263.2 876.5 1263.4 876.7 1263.6 876.8 1263.8 876.7 1264.0 876.4 1264.2 876.4 1264.2 876.6 1264.4 876.5 1264.6 876.0 1264.8 876.0 1265.0 876.0 1265.2 876.1 1265.2 876.1 1265.4 876.3 1265.6 876.1 1265.8 876.2 1266.0 875.9 1266.2 875.7 1266.2 875.7 1266.4 875.8 1266.6 875.8 1266.8 875.8 1267.0 876.0 1267.2 876.0 1267.2 876.0 1267.4 876.0 1267.6 875.9 1267.8 875.7 1268.0 875.5 1268.2 875.4 1268.2 875.3 1268.4 875.2 1268.6 875.2 1268.8 874.9 1269.0 874.7 1269.2 874.1 1269.2 873.7 1269.4 873.4 1269.6 873.4 1269.8 873.2 1270.0 873.0 1270.2 873.3 1270.2 873.2 1270.4 873.6 1270.6 873.8 1270.8 874.1 1271.0 874.6 1271.2 874.7 1271.2 874.8 1271.4 875.3 1271.6 875.5 1271.8 875.5 1272.0 875.6 1272.2 875.7 1272.2 875.6 1272.4 875.7 1272.6 875.9 1272.8 875.8 1273.0 875.8 1273.2 875.7 1273.2 875.6 1273.4 875.4 1273.4 875.5 1273.6 875.5 1273.6 875.3 1273.8 875.0 1273.8 875.1 1274.0 874.9 1274.0 875.0 1274.2 874.9 1274.2 874.8 1274.2 874.5 1274.4 874.6 1274.4 874.6 1274.6 874.4 1274.6 874.2 1274.8 874.2 1274.8 874.4 1275.0 874.6 1275.0 874.2 1275.2 874.5 1275.2 874.6 1275.2 874.8 1275.4 875.0 1275.4 875.1 1275.6 875.4 1275.6 875.5 1275.8 875.6 1275.8 875.8 1276.0 875.9 1276.2 875.8 1276.2 875.9 1276.4 875.7 1276.6 875.9 1276.8 875.8 1277.0 875.9 1277.2 876.0 1277.2 875.7 1277.4 876.0 1277.6 876.1 1277.8 876.1 1278.0 876.3 1278.2 876.3 1278.2 876.2 1278.4 876.1 1278.6 876.3 1278.8 876.4 1279.0 876.1 1279.2 876.1 1279.2 876.0 1279.4 876.2 1279.6 876.2 1279.8 876.1 1280.0 876.4 1280.2 876.4 1280.2 876.4 1280.4 876.4 1280.6 876.4 1280.8 876.4 1281.0 876.5 1281.2 876.5 1281.2 876.4 1281.4 876.4 1281.6 876.6 1281.8 876.4 1282.0 876.2 1282.2 876.3 1283.2 876.2 1284.2 876.6 1285.2 876.6 1286.2 876.6 1287.2 876.6 1288.2 876.8 1289.2 876.5 1290.2 876.5 1291.2 876.2 1292.2 876.5 1293.2 876.5 1294.2 876.7 1295.2 876.6 1296.2 876.4 1297.2 876.3 1298.2 876.5 1299.2 876.4 1300.2 876.4 1301.2 876.3 1302.2 876.3 1303.2 876.3 1304.2 876.6 1305.2 876.4 1306.2 876.5 1307.2 876.6 1308.2 876.4 1309.2 876.2 1310.2 876.5 1311.2 876.7 1312.2 876.6 1313.2 876.4 1314.2 876.5 1315.2 876.5 1316.2 876.4 1317.2 876.3 1318.2 876.0 1319.2 876.1 1320.2 876.0 1321.2 876.0 1322.2 876.3 1323.2 876.4 1324.2 876.6 1325.2 876.1 1326.2 876.2 1327.2 876.1 1328.0 876.4 1328.2 876.5 1328.2 876.5 1328.4 876.5 1328.6 876.3 1328.8 876.3 1329.0 876.2 1329.2 875.9 1329.2 876.4 1329.4 876.5 1329.6 876.7 1329.8 876.7 1330.0 876.6 1330.2 876.6 1330.2 876.3 1330.4 876.2 1330.6 876.3 1330.8 876.3 1331.0 876.1 1331.2 876.2 1331.2 876.0 1331.4 876.1 1331.6 876.4 1331.8 876.2 1332.0 876.2 1332.2 876.3 1332.2 876.3 1332.4 876.3 1332.6 876.2 1332.8 876.1 1333.0 875.8 1333.2 876.0 1333.2 876.3 1333.4 876.1 1333.6 876.1 1333.8 876.2 1334.0 876.4 1334.2 876.5 1334.2 876.2 1334.4 876.1 1334.6 876.4 1334.8 876.2 1335.0 876.2 1335.2 876.0 1335.2 876.0 1335.4 875.6 1335.6 875.7 1335.8 875.5 1336.0 875.5 1336.2 875.6 1336.2 875.9 1336.4 876.0 1336.6 876.0 1336.8 875.9 1337.0 875.6 1337.2 875.7 1337.2 875.6 1337.4 875.6 1337.6 875.7 1337.8 875.6 1338.0 875.4 1338.2 875.0 1338.2 875.2 1338.4 875.0 1338.6 874.7 1338.8 874.3 1339.0 873.4 1339.2 872.8 1339.2 872.7 1339.4 872.2 1339.6 871.7 1339.8 871.3 1340.0 870.8 1340.2 871.0 1340.2 871.3 1340.4 871.6 1340.6 872.1 1340.8 872.8 1341.0 873.2 1341.2 873.9 1341.2 874.2 1341.4 874.4 1341.6 874.7 1341.8 875.0 1342.0 875.2 1342.2 875.2 1342.2 875.3 1342.4 875.1 1342.6 875.4 1342.8 875.2 1343.0 875.2 1343.2 875.3 1343.2 875.2 1343.4 875.2 1343.6 875.2 1343.7 875.2 1343.8 875.2 1343.9 874.8 1344.0 874.7 1344.1 874.2 1344.2 874.2 1344.2 874.3 1344.3 874.0 1344.4 873.9 1344.5 873.9 1344.6 873.7 1344.7 873.5 1344.8 873.7 1344.9 873.4 1345.0 873.5 1345.1 873.7 1345.2 873.8 1345.2 874.0 1345.3 874.2 1345.4 874.3 1345.5 874.5 1345.6 874.7 1345.7 874.5 1345.8 874.6 1345.9 874.8 1346.0 875.0 1346.1 874.9 1346.2 875.4 1346.2 875.2 1346.4 875.2 1346.6 875.5 1346.8 875.7 1347.0 876.0 1347.2 876.1 1347.2 876.1 1347.4 876.1 1347.6 876.0 1347.8 875.9 1348.0 875.9 1348.2 876.1 1348.2 876.1 1348.4 876.3 1348.6 876.1 1348.8 876.3 1349.0 876.2 1349.2 876.3 1349.2 876.3 1349.4 876.3 1349.6 876.2 1349.8 876.4 1350.0 876.3 1350.2 876.4 1350.2 876.4 1350.4 876.2 1350.6 876.1 1350.8 876.2 1351.0 876.4 1351.2 876.2 1351.2 876.1 1351.4 876.0 1351.6 876.1 1351.8 876.0 1352.0 876.0 1352.2 876.2 1353.2 876.1 1354.2 876.2 1355.2 876.1 1356.2 876.2 1357.2 876.4 1358.2 876.1 1359.2 876.2 1360.2 876.4 1361.2 876.4 1362.2 876.4 1363.2 876.5 1364.2 876.3 1365.2 876.3 1366.2 876.5 1367.2 876.7 1368.2 876.4 1369.2 876.3 1370.2 876.2 1371.2 876.3 1372.2 876.2 1373.2 876.2 1374.2 876.4 1375.2 876.8 1376.2 876.3 1377.2 876.6 1378.2 876.4 1379.2 876.6 1380.2 876.6 1381.2 876.7 1382.2 876.6 1383.2 876.4 1384.2 876.4 1385.2 876.6 1386.2 876.4 1387.2 876.5 1388.2 876.5 1389.2 876.5 1390.2 876.5 1391.2 876.6 1392.2 876.7 1393.2 876.5 1394.2 876.5 1395.2 876.2 1396.2 876.2 1397.2 876.1 1398.2 876.3 1399.2 876.2 1400.2 876.2 1401.2 876.4 1402.2 876.6 1403.2 876.7" stroke="#515151"/><path d="M89.2 762.9L90.2 763.0 91.2 763.2 92.2 763.1 93.2 763.1 94.2 763.0 95.2 763.0 96.2 763.2 97.2 763.2 98.2 763.2 99.2 763.2 100.2 763.5 101.2 763.5 102.2 763.3 103.2 763.6 104.2 763.5 105.2 763.5 106.2 763.4 107.2 763.4 108.2 763.5 109.2 763.3 110.2 763.4 111.2 763.4 112.2 763.8 113.2 763.8 114.2 763.8 115.2 763.8 116.2 763.8 117.2 763.8 118.2 763.4 119.2 763.6 120.2 763.6 121.2 763.8 122.2 763.9 123.2 763.8 124.2 763.7 125.2 763.6 126.2 763.8 127.2 763.8 128.2 763.7 129.2 763.8 130.2 763.9 131.2 763.9 132.2 763.9 133.2 763.9 134.2 763.6 135.2 763.8 136.2 763.9 137.2 764.1 138.2 764.3 139.2 764.1 140.2 764.2 141.2 764.3 142.2 764.3 143.2 764.4 144.2 764.4 145.2 764.2 146.2 764.4 147.2 764.4 148.2 764.3 149.2 764.2 150.2 764.2 151.2 764.1 152.2 764.4 153.2 764.5 154.2 764.3 155.2 764.5 156.2 764.5 157.2 764.5 158.2 764.7 159.2 764.6 160.2 764.5 161.2 764.6 162.2 764.4 163.2 764.3 164.2 764.5 165.2 764.7 166.2 764.4 167.2 764.5 168.2 764.5 169.2 764.6 170.2 764.7 171.2 764.9 172.2 765.1 173.2 765.1 174.2 765.1 175.2 765.0 176.2 764.7 177.2 764.8 178.2 764.7 179.2 764.6 180.2 764.7 181.2 764.6 182.2 765.0 183.2 765.0 184.2 765.1 185.2 765.1 186.2 765.1 187.2 765.1 188.2 765.2 189.2 765.0 190.2 765.1 191.2 765.1 192.2 765.2 193.2 765.0 194.2 765.1 195.2 765.1 196.2 765.2 197.2 765.3 198.2 765.3 199.2 765.3 200.2 765.3 201.2 765.5 202.2 765.4 203.2 765.4 204.2 765.2 205.2 765.2 206.2 765.4 207.2 765.5 208.2 765.3 209.2 765.3 210.2 765.3 211.2 765.3 212.2 765.3 213.2 765.3 214.2 765.3 215.2 765.4 216.2 765.6 217.2 765.4 218.2 765.3 219.2 765.5 220.2 765.6 221.2 765.5 222.2 765.4 223.2 765.6 224.2 765.4 225.2 765.6 226.2 765.7 227.2 765.6 228.2 765.6 229.2 765.7 230.2 765.6 231.2 765.3 232.2 765.0 233.2 764.4 234.2 764.6 235.2 765.2 236.2 765.7 237.2 765.5 238.2 765.9 239.2 766.1 240.2 766.0 241.2 765.6 242.2 765.6 243.2 765.8 244.2 766.1 245.2 765.9 246.2 765.7 247.2 765.6 248.2 766.0 249.2 766.0 250.2 765.7 251.2 765.5 252.2 765.8 253.2 766.0 254.2 765.9 255.2 765.9 256.2 766.0 257.2 765.9 258.2 765.9 259.2 765.9 260.2 765.9 261.2 766.1 262.2 766.2 263.2 766.3 264.2 766.5 265.2 766.0 266.2 766.0 267.2 766.2 268.2 766.2 269.2 766.1 270.2 766.2 271.2 766.1 272.2 766.0 273.2 766.0 274.2 766.1 275.2 766.2 276.2 766.3 277.2 766.3 278.2 766.2 279.2 766.7 280.2 766.5 281.2 766.4 282.2 766.3 283.2 766.2 284.2 766.0 285.2 766.2 286.2 766.5 287.2 766.2 288.2 766.1 289.2 766.3 290.2 766.2 291.2 766.4 292.2 766.4 293.2 766.3 294.2 766.3 295.2 766.3 296.2 766.4 297.2 766.1 298.2 766.3 299.2 766.6 300.2 766.6 301.2 766.6 302.2 766.5 303.2 766.5 304.2 766.5 305.2 766.4 306.2 766.3 307.2 766.1 308.2 766.3 309.2 766.5 310.2 766.7 311.2 766.7 312.2 766.8 313.2 766.5 314.2 766.3 315.2 766.4 316.2 766.4 317.2 766.6 318.2 766.6 319.2 766.6 320.2 766.6 321.2 766.7 322.2 766.7 323.2 766.8 324.2 766.7 325.2 766.7 326.2 766.5 327.2 766.5 328.2 766.5 329.2 766.7 330.2 766.6 331.2 766.5 332.2 766.8 333.2 766.7 334.2 766.5 335.2 766.5 336.2 766.5 337.2 766.3 338.2 766.4 339.2 766.8 340.2 766.7 341.2 766.7 342.2 766.9 343.2 766.9 344.2 766.9 345.2 767.1 346.2 766.8 347.2 766.9 348.2 767.0 349.2 767.0 350.2 766.8 351.2 766.7 352.2 767.1 353.2 767.0 354.2 767.0 355.2 767.1 356.2 766.8 357.2 766.9 358.2 766.7 359.2 767.0 360.2 766.9 361.2 766.9 362.2 766.8 363.2 766.9 364.2 767.0 365.2 767.0 366.2 767.0 367.2 767.0 368.2 767.0 369.2 767.0 370.2 767.1 371.2 767.2 372.2 767.0 373.2 766.9 374.2 766.8 375.2 767.0 376.2 766.8 377.2 767.1 378.2 767.1 379.2 767.1 380.2 767.2 381.2 767.1 382.2 767.1 383.2 767.2 384.2 767.3 385.2 767.1 386.2 767.3 387.2 767.3 388.2 767.2 389.2 767.3 390.2 767.2 391.2 767.1 392.2 767.2 393.2 767.1 394.2 767.2 395.2 767.3 396.2 767.2 397.2 767.1 398.2 766.9 399.2 766.8 400.2 767.0 401.2 766.7 402.2 766.7 403.2 766.7 403.2 766.5 403.4 766.5 403.6 766.4 403.8 766.8 404.0 766.7 404.2 766.8 404.2 767.0 404.4 766.9 404.6 766.9 404.8 766.7 405.0 766.5 405.2 766.6 405.2 766.8 405.4 766.5 405.6 766.6 405.8 766.5 406.0 766.5 406.2 766.5 406.2 766.7 406.4 766.4 406.6 766.3 406.8 766.4 407.0 766.2 407.2 766.2 407.2 766.1 407.4 765.8 407.6 765.8 407.8 765.9 408.0 765.8 408.2 765.5 408.2 765.6 408.4 765.6 408.6 765.7 408.8 765.6 409.0 765.6 409.2 765.4 409.2 765.3 409.4 765.2 409.6 765.1 409.8 765.1 410.0 765.2 410.2 765.0 410.2 765.1 410.4 765.1 410.6 764.7 410.8 764.5 411.0 764.4 411.2 764.0 411.2 764.4 411.4 763.9 411.6 763.6 411.8 763.7 412.0 763.4 412.2 763.3 412.2 763.0 412.4 763.0 412.6 762.5 412.8 762.2 413.0 761.7 413.2 760.5 413.2 760.2 413.4 759.1 413.6 757.5 413.8 755.7 414.0 753.2 414.2 750.2 414.2 749.5 414.4 747.0 414.6 743.3 414.8 739.8 415.0 737.1 415.2 735.6 415.2 735.6 415.4 735.7 415.6 736.5 415.6 736.7 415.8 737.9 415.8 738.5 416.0 739.8 416.0 740.4 416.2 741.4 416.2 741.7 416.2 741.7 416.4 742.8 416.4 742.9 416.6 744.0 416.6 744.3 416.8 745.4 416.8 745.5 417.0 746.8 417.0 747.3 417.2 749.1 417.2 749.6 417.2 749.8 417.4 751.5 417.4 751.7 417.6 753.7 417.6 754.1 417.8 755.6 417.8 755.9 418.0 757.6 418.0 757.9 418.2 758.8 418.2 759.5 418.4 760.2 418.6 761.4 418.8 762.2 419.0 762.5 419.2 763.1 419.2 763.3 419.4 763.6 419.6 763.8 419.8 764.0 420.0 764.1 420.2 764.2 420.2 764.3 420.4 764.5 420.6 764.6 420.8 765.0 421.0 764.8 421.2 764.9 421.2 764.7 421.4 764.6 421.6 764.9 421.8 765.1 422.0 765.1 422.2 765.1 422.2 765.2 422.4 765.1 422.6 765.3 422.8 765.4 423.0 765.4 423.2 765.6 423.2 765.4 423.4 765.7 423.6 765.8 423.8 766.0 424.0 766.0 424.2 766.2 424.2 766.1 424.4 766.0 424.6 766.1 424.8 766.0 425.0 766.1 425.2 766.2 425.2 766.1 425.4 766.3 425.6 766.1 425.8 766.4 426.0 766.4 426.2 766.7 426.2 766.7 426.4 766.7 426.6 766.7 426.8 766.6 427.0 766.4 427.2 766.4 427.2 766.3 428.2 766.4 429.2 766.5 430.2 766.5 431.2 766.7 432.2 766.7 433.2 766.7 434.2 766.8 435.2 766.9 436.2 766.7 437.2 766.6 438.2 767.1 439.2 766.9 440.2 766.8 441.2 766.5 442.2 766.6 443.2 766.6 444.2 766.4 445.0 766.2 445.2 766.1 445.2 765.8 445.4 765.9 445.6 765.8 445.8 765.9 446.0 765.9 446.2 765.8 446.2 766.1 446.4 766.0 446.6 765.7 446.8 765.7 447.0 765.7 447.2 765.6 447.2 765.7 447.4 765.5 447.6 765.1 447.8 764.9 448.0 765.0 448.2 764.8 448.2 764.9 448.4 764.6 448.6 764.7 448.8 764.6 449.0 764.4 449.2 764.3 449.2 764.3 449.4 764.3 449.6 764.2 449.8 764.0 450.0 763.9 450.2 763.8 450.2 763.7 450.4 763.8 450.6 763.3 450.8 763.2 451.0 762.9 451.2 762.5 451.2 762.5 451.4 762.3 451.6 762.1 451.8 761.7 452.0 761.1 452.2 760.7 452.2 760.7 452.4 760.5 452.6 759.9 452.8 759.3 453.0 758.8 453.2 757.9 453.2 757.6 453.4 757.0 453.6 756.1 453.8 754.9 454.0 753.2 454.2 751.3 454.2 751.0 454.4 748.9 454.6 745.5 454.8 740.4 455.0 732.8 455.2 722.2 455.2 718.6 455.4 706.8 455.6 686.8 455.8 661.8 456.0 631.4 456.2 597.4 456.2 588.5 456.4 562.0 456.6 529.1 456.8 503.8 457.0 490.5 457.2 490.7 457.2 492.4 457.4 501.8 457.6 515.7 457.6 519.3 457.8 533.9 457.8 537.6 458.0 550.8 458.0 553.7 458.2 564.4 458.2 566.9 458.2 569.4 458.4 575.0 458.4 576.9 458.6 584.7 458.6 587.0 458.8 596.4 458.8 599.1 459.0 611.6 459.0 615.0 459.2 629.9 459.2 634.0 459.2 638.9 459.4 650.4 459.4 654.5 459.6 670.7 459.6 674.6 459.8 689.4 459.8 692.9 460.0 705.9 460.0 709.0 460.2 722.1 460.2 724.8 460.4 732.3 460.6 739.9 460.8 745.4 461.0 749.3 461.2 752.0 461.2 752.7 461.4 754.0 461.6 755.3 461.8 756.6 462.0 757.6 462.2 758.4 462.2 758.6 462.4 758.9 462.6 759.5 462.8 760.1 463.0 760.6 463.2 760.9 463.2 761.2 463.4 761.2 463.6 761.9 463.8 762.1 464.0 762.4 464.2 762.5 464.2 762.5 464.4 762.8 464.6 762.9 464.8 763.2 465.0 763.5 465.2 763.7 465.2 763.8 465.4 763.8 465.6 763.8 465.8 763.9 466.0 764.4 466.2 764.6 466.2 764.4 466.4 764.8 466.6 765.0 466.8 765.2 467.0 765.4 467.2 765.5 467.2 765.2 467.4 765.3 467.6 765.2 467.8 765.6 468.0 765.7 468.2 765.7 468.2 765.6 468.4 765.4 468.6 765.6 468.8 765.6 469.0 765.9 469.2 766.0 470.2 766.2 471.2 766.3 472.2 766.6 473.2 766.6 474.2 766.8 475.2 766.9 476.2 766.8 477.2 766.9 478.2 767.1 479.2 766.8 480.2 766.9 481.2 767.0 482.2 766.9 483.2 767.0 484.2 766.9 485.2 766.8 486.2 766.5 486.8 766.5 487.0 766.3 487.2 766.4 487.2 766.7 487.4 766.4 487.6 766.5 487.8 766.3 488.0 766.2 488.2 766.3 488.2 766.0 488.4 766.1 488.6 766.0 488.8 765.9 489.0 766.0 489.2 765.9 489.2 766.0 489.4 765.9 489.6 765.9 489.8 766.0 490.0 765.9 490.2 765.7 490.2 765.6 490.4 765.7 490.6 765.6 490.8 765.1 491.0 765.1 491.2 765.1 491.2 765.5 491.4 765.2 491.6 765.0 491.8 764.7 492.0 764.6 492.2 764.2 492.2 764.2 492.4 764.2 492.6 763.9 492.8 763.8 493.0 763.6 493.2 763.7 493.2 763.8 493.4 763.9 493.6 763.5 493.8 763.2 494.0 763.1 494.2 762.5 494.2 762.6 494.4 762.0 494.6 761.7 494.8 761.0 495.0 760.5 495.2 760.0 495.2 759.8 495.4 759.1 495.6 758.5 495.8 757.6 496.0 756.7 496.2 755.2 496.2 754.3 496.4 752.7 496.6 749.8 496.8 745.2 497.0 738.5 497.2 729.3 497.2 726.6 497.4 717.2 497.6 702.0 497.8 683.6 498.0 663.3 498.2 641.9 498.2 636.8 498.4 622.3 498.6 607.5 498.8 600.1 499.0 600.9 499.2 608.5 499.2 611.2 499.4 620.0 499.5 624.8 499.6 631.9 499.7 636.3 499.8 642.3 499.9 645.5 500.0 649.9 500.1 652.4 500.2 655.1 500.2 656.4 500.3 657.0 500.4 659.0 500.5 660.6 500.6 663.5 500.7 665.9 500.8 670.3 500.9 673.9 501.0 679.8 501.1 684.1 501.2 690.9 501.2 693.7 501.3 695.5 501.4 702.6 501.5 707.6 501.6 714.2 501.7 718.8 501.8 724.5 501.9 728.4 502.0 733.6 502.2 740.6 502.2 742.1 502.4 746.3 502.6 750.1 502.8 753.0 503.0 755.1 503.2 756.6 503.2 756.7 503.4 757.6 503.6 758.2 503.8 758.8 504.0 758.9 504.2 759.3 504.2 759.3 504.4 759.5 504.6 759.5 504.8 759.6 505.0 759.5 505.2 759.0 505.2 759.4 505.4 759.1 505.6 758.9 505.8 758.5 506.0 758.0 506.2 757.6 506.2 757.6 506.4 757.4 506.6 756.9 506.8 756.1 507.0 755.8 507.2 755.0 507.2 755.3 507.4 754.9 507.6 754.6 507.8 754.1 508.0 753.8 508.2 753.5 508.2 753.7 508.4 753.6 508.6 753.7 508.8 753.8 509.0 754.1 509.2 754.5 509.2 754.6 509.4 754.9 509.6 755.7 509.8 756.4 510.0 756.8 510.2 757.5 510.2 757.6 510.4 758.4 510.6 758.9 510.8 759.7 511.2 761.2 512.2 763.7 513.2 764.9 514.2 766.1 515.2 766.5 516.2 766.9 517.2 767.2 518.2 767.1 519.2 767.1 520.2 767.5 521.2 767.8 522.2 767.6 523.2 767.6 524.2 767.7 525.2 767.7 526.2 767.9 527.2 767.9 528.2 767.9 529.2 767.9 530.2 767.8 531.2 768.0 532.2 767.9 533.2 768.1 534.2 768.3 535.2 767.9 536.2 768.2 537.2 767.9 538.2 767.9 539.2 768.2 540.2 768.3 541.2 768.3 542.2 768.2 543.2 768.2 544.2 768.2 545.2 768.1 546.2 768.0 547.2 767.9 548.2 768.2 549.2 768.2 550.2 768.4 551.2 768.4 552.2 768.3 553.2 768.1 554.2 768.1 555.2 768.1 556.2 768.1 557.2 768.1 558.2 767.8 559.2 767.9 560.2 768.0 561.2 768.0 562.2 768.0 563.2 767.9 564.2 767.9 565.2 768.2 566.2 768.1 567.2 768.1 568.2 768.0 569.2 768.1 570.2 768.1 571.2 768.4 572.2 768.2 573.2 768.4 574.2 768.3 575.2 768.3 576.2 768.7 577.2 768.5 578.2 768.4 579.2 768.0 580.2 768.0 581.2 768.1 582.2 768.2 583.2 768.3 584.2 768.1 585.2 768.1 586.2 768.3 587.2 768.3 588.2 768.3 589.2 768.4 590.2 768.4 591.2 768.4 592.2 768.2 593.2 768.3 594.2 768.1 595.2 768.4 596.2 768.3 597.2 768.5 598.2 768.4 599.2 768.4 600.2 768.5 601.2 768.5 602.2 768.5 603.2 768.4 604.2 768.4 605.2 768.3 606.2 768.2 607.2 768.0 608.2 768.1 609.2 768.1 610.2 768.4 611.2 768.7 612.2 768.9 613.2 768.5 614.2 768.4 615.2 768.4 616.2 768.2 617.2 768.5 618.2 768.6 619.2 768.6 620.2 768.8 621.2 768.7 622.2 768.6 623.2 768.6 624.2 768.5 625.2 768.5 626.2 768.3 627.2 768.4 628.2 768.4 629.2 768.4 630.2 768.4 631.2 768.4 632.2 768.2 633.2 768.4 634.2 768.4 635.2 768.7 636.2 768.6 637.2 768.7 638.2 768.6 639.2 768.5 640.2 768.4 641.2 768.3 642.2 768.3 643.2 768.1 644.2 768.2 645.2 768.2 646.2 768.4 647.2 768.6 648.2 768.5 649.2 768.7 650.2 768.8 651.2 768.8 652.2 768.6 653.2 768.6 654.2 768.8 655.2 768.9 656.2 768.9 657.2 768.5 658.2 768.2 659.2 768.6 660.2 768.7 661.2 768.8 662.2 768.8 663.2 768.6 664.2 768.7 665.2 768.6 666.2 768.8 667.2 768.8 668.2 768.6 669.2 768.4 670.2 768.6 671.2 768.7 672.2 768.7 673.2 768.7 674.2 768.4 675.2 768.3 676.2 768.5 677.2 768.2 678.2 768.4 679.2 768.5 680.2 768.6 681.2 768.7 682.2 768.8 683.2 768.7 684.2 768.5 685.2 768.2 686.2 768.0 687.2 768.2 688.2 768.4 689.2 768.1 690.2 768.2 691.2 768.1 692.2 768.1 693.2 768.2 694.2 768.1 695.2 767.9 696.2 768.0 696.7 768.0 696.9 767.7 697.1 767.9 697.2 768.1 697.3 768.0 697.5 768.2 697.7 767.8 697.9 767.8 698.1 768.0 698.2 768.1 698.3 768.0 698.5 768.1 698.7 767.9 698.9 767.9 699.1 767.9 699.2 767.9 699.3 767.9 699.5 767.9 699.7 767.8 699.9 767.8 700.1 767.4 700.2 767.5 700.3 767.4 700.5 767.3 700.7 767.3 700.9 767.3 701.1 767.1 701.2 767.0 701.3 767.1 701.5 767.1 701.7 767.0 701.9 767.0 702.1 767.0 702.2 766.8 702.3 766.9 702.5 766.9 702.7 766.6 702.9 766.7 703.1 766.4 703.2 766.4 703.3 766.5 703.5 766.5 703.7 766.1 703.9 765.9 704.1 765.7 704.2 765.8 704.3 765.8 704.5 765.4 704.7 765.4 704.9 765.4 705.1 765.1 705.2 765.0 705.3 764.9 705.5 764.5 705.7 764.3 705.9 764.1 706.1 763.6 706.2 763.3 706.3 763.2 706.5 762.7 706.7 761.7 706.9 760.3 707.1 758.4 707.2 756.8 707.3 756.1 707.5 753.1 707.7 749.7 707.9 745.9 708.1 741.6 708.2 738.8 708.3 738.1 708.5 735.4 708.7 734.5 708.9 735.0 709.1 737.3 709.2 739.2 709.3 739.7 709.5 742.8 709.7 746.0 709.9 748.1 710.0 748.9 710.1 749.3 710.2 749.7 710.2 749.8 710.3 749.9 710.4 749.8 710.5 749.6 710.6 749.5 710.7 749.3 710.8 748.9 710.9 748.8 711.0 748.4 711.1 748.4 711.2 748.7 711.2 748.5 711.3 748.8 711.4 749.0 711.5 749.3 711.6 750.3 711.7 751.1 711.8 752.3 711.9 753.3 712.0 754.8 712.1 755.6 712.2 756.8 712.2 757.0 712.3 757.4 712.4 758.6 712.5 759.3 712.7 761.0 712.9 762.2 713.1 762.8 713.2 763.5 713.3 763.5 713.5 764.1 713.7 764.4 713.9 764.6 714.1 764.9 714.2 765.0 714.3 765.1 714.5 765.3 714.7 765.7 714.9 766.0 715.1 766.3 715.2 766.1 715.3 766.1 715.5 766.4 715.7 766.3 715.9 766.4 716.1 766.6 716.2 766.9 716.3 766.9 716.5 767.0 716.7 766.9 716.9 767.1 717.1 767.1 717.2 767.2 717.3 767.1 717.5 767.1 717.7 767.1 717.9 767.0 718.1 767.1 718.2 767.1 718.3 767.1 718.5 767.2 718.7 767.1 718.9 767.4 719.1 767.5 719.2 767.8 719.3 767.4 719.5 767.3 719.7 767.3 719.9 767.4 720.1 767.6 720.2 767.5 720.3 767.5 720.5 767.8 720.7 767.8 721.2 767.7 722.2 768.0 723.2 768.4 724.2 768.5 725.2 768.4 726.2 768.6 727.2 768.5 728.2 768.4 729.2 768.5 730.2 768.7 731.2 768.6 732.2 768.5 733.2 768.4 734.2 768.5 735.2 768.4 736.2 768.4 737.2 768.3 738.2 768.3 739.2 768.3 740.2 768.3 741.2 768.3 742.2 768.6 743.2 768.7 744.2 768.7 745.2 768.5 746.2 768.7 747.2 768.7 748.2 768.8 749.2 768.9 750.2 768.7 751.2 768.8 752.2 768.8 753.2 768.7 754.2 768.7 755.2 768.6 756.2 768.2 757.2 768.3 758.2 768.7 759.2 768.9 760.2 769.2 761.2 769.0 762.2 769.0 763.2 768.8 764.2 768.7 765.2 768.6 766.2 768.7 767.2 768.8 768.2 768.5 769.2 768.7 770.2 768.9 771.2 768.9 772.2 768.7 773.2 768.8 774.2 768.8 775.2 768.6 776.2 768.5 777.2 768.9 778.2 768.8 779.2 768.7 780.2 768.5 781.2 768.5 782.2 768.8 783.2 768.9 784.2 768.7 785.2 768.8 786.2 768.8 787.2 768.9 788.2 768.7 789.2 768.8 790.2 768.7 791.2 768.7 792.2 768.6 793.2 768.6 794.2 768.7 795.2 768.5 796.2 768.7 797.2 769.1 798.2 768.9 799.2 768.8 800.2 768.8 801.2 769.0 802.2 768.7 803.2 768.9 804.2 768.8 805.2 769.1 806.2 769.0 807.2 769.2 808.2 768.9 809.2 768.9 810.2 768.7 811.2 768.7 812.2 768.6 813.2 768.6 814.2 768.9 815.2 768.8 816.2 769.2 817.2 769.3 818.2 769.1 819.2 769.0 820.2 769.0 821.2 768.8 822.2 768.9 823.2 768.9 824.2 768.6 825.2 768.7 826.2 768.8 827.2 768.9 828.2 768.9 829.2 768.9 830.2 768.8 831.2 769.0 832.2 769.1 833.2 769.0 834.2 769.0 835.2 768.8 836.2 769.0 837.2 768.8 838.2 768.9 839.2 769.0 840.2 768.9 841.2 768.9 842.2 769.0 843.2 768.9 844.2 768.9 845.2 769.0 846.2 769.0 847.2 768.8 848.2 768.8 849.2 768.8 850.2 768.8 851.2 768.9 852.2 768.7 853.2 768.7 854.2 768.8 855.2 769.0 856.2 768.7 857.2 768.7 858.2 768.8 859.2 768.8 860.2 769.0 861.2 768.9 862.2 768.8 863.2 768.8 864.2 768.9 865.2 769.0 866.2 768.9 867.2 768.8 868.2 768.9 869.2 768.9 870.2 768.8 871.2 768.8 872.2 768.7 873.2 768.5 874.2 768.6 875.2 768.7 875.3 768.8 875.5 768.6 875.7 768.4 875.9 768.4 876.1 768.3 876.2 768.1 876.3 768.2 876.5 768.2 876.7 768.2 876.9 768.2 877.1 768.3 877.2 768.4 877.3 768.4 877.5 768.5 877.7 768.3 877.9 768.6 878.1 768.2 878.2 768.3 878.3 768.4 878.5 768.2 878.7 768.2 878.9 767.9 879.1 767.9 879.2 768.0 879.3 767.8 879.5 767.6 879.7 767.6 879.9 767.6 880.1 767.5 880.2 767.6 880.3 767.5 880.5 767.7 880.7 767.8 880.9 767.7 881.1 767.6 881.2 767.5 881.3 767.5 881.5 767.3 881.7 767.2 881.9 767.3 882.1 767.1 882.2 767.0 882.3 767.0 882.5 766.8 882.7 766.9 882.9 766.6 883.1 766.7 883.2 766.8 883.3 766.7 883.5 766.7 883.7 766.6 883.9 766.3 884.1 766.1 884.2 765.8 884.3 765.8 884.5 765.5 884.7 765.3 884.9 765.0 885.1 764.8 885.2 764.2 885.3 764.0 885.5 762.9 885.7 761.7 885.9 759.8 886.1 757.5 886.2 755.5 886.3 754.8 886.5 751.8 886.7 748.9 886.9 746.4 887.1 744.4 887.2 743.5 887.3 743.2 887.5 743.9 887.7 745.6 887.9 748.1 888.1 750.9 888.2 753.0 888.3 753.7 888.5 756.0 888.7 757.4 888.9 758.3 889.1 758.5 889.2 758.4 889.2 758.4 889.3 758.2 889.4 758.1 889.5 757.6 889.6 757.5 889.7 756.6 889.8 756.3 889.9 755.5 890.0 755.1 890.1 754.6 890.2 754.4 890.2 754.4 890.3 754.3 890.4 754.2 890.5 754.3 890.6 754.6 890.7 755.1 890.8 755.7 890.9 756.5 891.0 757.4 891.1 758.1 891.2 758.6 891.2 759.1 891.3 759.7 891.4 760.3 891.5 761.1 891.6 761.7 891.7 762.2 891.9 763.4 892.1 764.1 892.2 764.6 892.3 764.5 892.5 765.0 892.7 765.6 892.9 765.9 893.1 766.1 893.2 766.4 893.3 766.3 893.5 766.4 893.7 766.6 893.9 766.7 894.1 766.9 894.2 767.0 894.3 767.2 894.5 767.3 894.7 767.3 894.9 767.7 895.1 767.4 895.2 767.5 895.3 767.4 895.5 767.8 895.7 767.8 895.9 767.9 896.1 767.9 896.2 768.1 896.3 767.9 896.5 768.0 896.7 767.7 896.9 767.9 897.1 768.1 897.2 768.2 897.3 768.2 897.5 767.9 897.7 768.0 897.9 768.0 898.1 768.3 898.2 768.3 898.3 768.3 898.5 768.5 898.7 768.4 898.9 768.2 899.1 768.1 899.2 767.9 899.3 768.2 900.2 768.3 901.2 768.2 902.2 768.5 903.2 768.5 904.2 768.5 905.2 768.8 906.2 768.5 907.2 768.4 908.2 768.5 909.2 768.6 910.2 768.8 911.2 768.8 912.2 768.9 913.2 769.1 914.2 768.8 915.2 768.6 916.2 768.6 917.2 768.7 918.2 768.6 919.2 768.7 920.2 768.7 921.2 768.9 922.2 769.0 923.2 769.0 924.2 769.0 925.2 769.0 926.2 768.7 927.2 768.8 928.2 768.6 929.2 768.9 930.2 768.7 931.2 768.7 932.2 768.7 933.2 769.1 934.2 768.9 935.2 769.1 936.2 769.1 937.2 769.3 938.2 769.1 939.2 769.0 940.2 769.0 941.2 768.9 942.2 768.8 943.2 768.9 944.2 768.9 945.2 769.0 946.2 769.1 947.2 769.1 948.2 769.3 949.2 769.3 950.2 769.0 951.2 769.1 952.2 768.7 953.2 769.0 954.2 769.1 955.2 768.9 956.2 769.1 957.2 768.7 958.2 768.9 959.2 768.9 960.2 768.8 961.2 768.8 962.2 768.8 963.2 768.9 964.2 768.9 965.2 768.9 966.2 768.9 967.2 768.8 968.2 768.7 969.2 768.8 970.2 768.9 971.2 768.7 972.2 768.8 973.2 769.0 974.2 768.9 975.2 769.0 976.2 768.5 977.2 768.7 978.2 768.5 979.2 768.5 980.2 768.3 981.2 768.7 981.8 768.4 982.0 768.5 982.2 768.2 982.2 768.2 982.4 768.3 982.6 768.2 982.8 768.1 983.0 768.3 983.2 768.1 983.2 768.1 983.4 768.1 983.6 768.0 983.8 768.1 984.0 768.1 984.2 768.0 984.2 768.1 984.4 768.0 984.6 768.1 984.8 768.2 985.0 768.1 985.2 768.0 985.2 767.8 985.4 768.0 985.6 768.0 985.8 767.9 986.0 767.8 986.2 767.6 986.2 767.6 986.4 767.6 986.6 767.4 986.8 767.2 987.0 767.2 987.2 767.5 987.2 767.4 987.4 767.1 987.6 767.3 987.8 767.2 988.0 767.2 988.2 766.9 988.2 766.9 988.4 767.1 988.6 767.0 988.8 767.4 989.0 766.7 989.2 766.2 989.2 766.2 989.4 766.0 989.6 765.8 989.8 765.8 990.0 765.8 990.2 765.3 990.2 765.4 990.4 765.3 990.6 765.1 990.8 764.9 991.0 764.7 991.2 764.0 991.2 763.9 991.4 763.4 991.6 762.5 991.8 761.4 992.0 760.0 992.2 758.0 992.2 757.3 992.4 755.5 992.6 752.0 992.8 747.9 993.0 743.1 993.2 738.6 993.2 737.4 993.4 734.2 993.6 731.2 993.8 729.9 994.0 731.0 994.2 733.6 994.2 734.7 994.4 737.7 994.6 742.3 994.8 746.5 995.0 750.4 995.2 753.1 995.2 753.7 995.4 755.3 995.6 756.4 995.8 756.6 996.0 756.0 996.1 755.2 996.2 754.6 996.2 754.2 996.3 753.9 996.4 753.1 996.5 752.0 996.6 750.9 996.7 750.4 996.8 749.4 996.9 748.7 997.0 747.8 997.1 747.5 997.2 747.0 997.2 747.0 997.3 747.2 997.4 747.4 997.5 747.9 997.6 748.7 997.7 749.4 997.8 750.5 997.9 751.4 998.0 752.9 998.1 753.9 998.2 755.5 998.2 756.2 998.3 756.6 998.4 758.0 998.5 758.6 998.6 760.0 998.8 761.6 999.0 762.9 999.2 763.6 999.2 763.9 999.4 764.7 999.6 765.1 999.8 765.5 1000.0 765.6 1000.2 765.8 1000.2 765.8 1000.4 766.0 1000.6 766.2 1000.8 766.3 1001.0 766.3 1001.2 766.3 1001.2 766.4 1001.4 766.9 1001.6 766.8 1001.8 767.0 1002.0 767.2 1002.2 767.1 1002.2 766.9 1002.4 767.1 1002.6 767.2 1002.8 767.2 1003.0 767.5 1003.2 767.6 1003.2 767.6 1003.4 767.4 1003.6 767.7 1003.8 767.8 1004.0 767.9 1004.2 768.1 1004.2 767.8 1004.4 767.7 1004.6 767.9 1004.8 768.0 1005.0 768.0 1005.2 767.9 1005.2 768.1 1005.4 768.1 1005.6 768.2 1005.8 768.0 1006.2 768.1 1007.2 768.3 1008.2 768.5 1009.2 768.3 1010.2 768.4 1011.2 768.4 1012.2 768.5 1013.2 768.6 1014.2 768.7 1015.2 768.9 1016.2 768.9 1017.2 768.8 1018.2 769.0 1019.2 769.1 1020.2 769.0 1021.2 768.9 1022.2 769.1 1023.2 769.2 1024.2 769.4 1025.2 769.1 1026.2 769.0 1027.2 768.9 1028.2 768.9 1029.2 768.7 1030.2 768.9 1031.2 768.7 1032.2 768.4 1033.2 768.6 1034.2 768.6 1035.2 768.8 1036.2 768.7 1037.2 768.6 1038.2 768.5 1039.2 768.5 1040.2 768.6 1041.2 769.1 1042.2 769.1 1043.2 769.0 1044.2 769.1 1045.2 769.1 1046.2 768.8 1047.2 768.6 1048.2 768.5 1049.2 768.6 1050.2 768.7 1051.2 768.7 1052.2 768.7 1053.2 768.7 1054.2 768.8 1055.2 768.9 1056.2 768.8 1057.2 769.0 1058.2 768.8 1059.2 768.8 1060.2 769.0 1061.2 769.0 1062.2 768.9 1063.2 768.5 1064.2 768.5 1065.2 768.3 1066.2 768.2 1067.2 768.1 1068.2 767.7 1069.2 767.6 1070.2 767.0 1071.2 766.5 1072.2 766.1 1073.2 765.9 1074.2 766.1 1075.2 766.3 1076.2 766.5 1077.2 766.9 1078.2 767.5 1079.2 767.8 1080.2 767.9 1081.2 768.1 1082.2 768.2 1083.2 768.3 1084.2 768.2 1085.2 768.2 1085.7 768.0 1085.9 768.0 1086.1 768.0 1086.2 768.3 1086.3 768.2 1086.5 768.4 1086.7 768.3 1086.9 768.4 1087.1 768.2 1087.2 767.9 1087.3 767.7 1087.5 767.7 1087.7 768.1 1087.9 768.0 1088.1 767.9 1088.2 768.0 1088.3 767.9 1088.5 767.8 1088.7 767.9 1088.9 767.9 1089.1 767.7 1089.2 767.6 1089.3 767.9 1089.5 767.7 1089.7 767.5 1089.9 767.5 1090.1 767.5 1090.2 767.5 1090.3 767.7 1090.5 767.8 1090.7 767.6 1090.9 767.5 1091.1 767.5 1091.2 767.3 1091.3 767.3 1091.5 767.0 1091.7 767.0 1091.9 766.9 1092.1 766.6 1092.2 766.7 1092.3 767.0 1092.5 766.8 1092.7 766.5 1092.9 766.6 1093.1 766.4 1093.2 766.3 1093.3 766.4 1093.5 766.3 1093.7 766.3 1093.9 765.8 1094.1 765.5 1094.2 765.3 1094.3 765.3 1094.5 764.8 1094.7 764.6 1094.9 764.1 1095.1 763.7 1095.2 763.4 1095.3 763.3 1095.5 762.6 1095.7 761.4 1095.9 760.0 1096.1 757.9 1096.2 755.9 1096.3 755.1 1096.5 751.6 1096.7 747.8 1096.9 743.3 1097.1 738.5 1097.2 735.4 1097.3 734.2 1097.5 731.1 1097.7 729.9 1097.9 731.0 1098.1 733.8 1098.2 736.6 1098.3 737.5 1098.5 742.0 1098.7 746.6 1098.9 750.6 1099.1 753.6 1099.2 755.7 1099.3 756.1 1099.5 757.6 1099.7 758.5 1099.9 758.6 1100.1 758.1 1100.2 757.4 1100.3 757.2 1100.4 756.8 1100.5 755.6 1100.6 754.9 1100.7 753.6 1100.8 752.8 1100.9 751.5 1101.0 750.8 1101.1 749.7 1101.2 748.9 1101.2 748.4 1101.3 748.2 1101.4 747.8 1101.5 747.4 1101.6 747.5 1101.7 747.7 1101.8 748.1 1101.9 749.1 1102.0 749.4 1102.1 751.0 1102.2 751.9 1102.2 752.9 1102.3 753.3 1102.4 754.2 1102.5 755.9 1102.6 756.8 1102.7 758.1 1102.8 758.8 1102.9 760.2 1103.1 761.8 1103.2 762.8 1103.3 762.8 1103.5 763.8 1103.7 764.4 1103.9 764.8 1104.1 765.4 1104.2 765.4 1104.3 765.4 1104.5 765.6 1104.7 765.8 1104.9 766.0 1105.1 766.3 1105.2 766.6 1105.3 766.6 1105.5 766.9 1105.7 767.0 1105.9 767.1 1106.1 767.0 1106.2 767.2 1106.3 767.1 1106.5 767.3 1106.7 767.3 1106.9 767.2 1107.1 767.4 1107.2 767.5 1107.3 767.5 1107.5 767.6 1107.7 767.6 1107.9 767.5 1108.1 767.6 1108.2 767.9 1108.3 767.6 1108.5 767.4 1108.7 767.6 1108.9 767.5 1109.1 767.8 1109.2 767.9 1109.3 767.7 1109.5 767.8 1109.7 767.7 1110.2 767.9 1111.2 768.2 1111.7 768.3 1111.9 768.4 1112.1 768.3 1112.2 768.4 1112.3 768.4 1112.5 768.1 1112.7 768.3 1112.9 768.1 1113.1 768.1 1113.2 767.9 1113.3 767.9 1113.5 767.7 1113.7 767.7 1113.9 767.8 1114.1 767.8 1114.2 767.9 1114.3 768.1 1114.5 768.1 1114.7 768.2 1114.9 768.4 1115.1 768.2 1115.2 768.4 1115.3 768.3 1115.5 768.2 1115.7 768.3 1115.9 768.4 1116.1 768.1 1116.2 768.3 1116.3 768.1 1116.5 768.1 1116.7 768.0 1116.9 767.7 1117.1 768.0 1117.2 768.1 1117.3 767.9 1117.5 767.8 1117.7 767.7 1117.9 767.8 1118.1 768.1 1118.2 768.0 1118.3 767.7 1118.5 767.9 1118.7 767.7 1118.9 767.5 1119.1 767.6 1119.2 767.7 1119.3 767.7 1119.5 767.8 1119.7 767.8 1119.9 767.4 1120.1 767.4 1120.2 767.5 1120.3 767.6 1120.5 767.3 1120.7 767.0 1120.9 766.8 1121.1 766.8 1121.2 766.7 1121.3 766.8 1121.5 766.5 1121.7 766.0 1121.9 765.4 1122.1 764.7 1122.2 764.2 1122.3 764.2 1122.5 762.8 1122.7 761.4 1122.9 759.8 1123.1 758.1 1123.2 756.9 1123.3 756.8 1123.5 755.7 1123.7 755.3 1123.9 755.8 1124.1 756.8 1124.2 757.8 1124.3 758.0 1124.5 759.5 1124.7 761.1 1124.9 762.5 1125.1 763.5 1125.2 763.9 1125.3 764.3 1125.5 765.0 1125.7 765.4 1125.9 765.4 1126.1 765.1 1126.2 764.9 1126.3 765.1 1126.5 764.7 1126.5 764.6 1126.7 763.8 1126.7 763.7 1126.9 763.3 1126.9 763.3 1127.1 762.6 1127.1 762.7 1127.2 762.2 1127.3 762.2 1127.3 762.0 1127.5 761.7 1127.5 761.7 1127.7 761.6 1127.7 761.4 1127.9 761.6 1127.9 761.6 1128.1 762.2 1128.1 762.5 1128.2 763.0 1128.3 763.0 1128.3 763.2 1128.5 763.9 1128.5 763.9 1128.7 764.7 1128.7 764.8 1128.9 765.4 1128.9 765.3 1129.1 765.7 1129.2 766.0 1129.3 766.0 1129.5 766.7 1129.7 767.2 1129.9 767.2 1130.1 767.6 1130.2 767.5 1130.3 767.5 1130.5 767.9 1130.7 767.8 1130.9 767.9 1131.1 768.1 1131.2 768.2 1131.3 768.2 1131.5 768.2 1131.7 768.4 1131.9 768.3 1132.1 768.3 1132.2 768.3 1132.3 768.2 1132.5 768.2 1132.7 768.4 1132.9 768.6 1133.1 768.6 1133.2 768.5 1133.3 768.4 1133.5 768.4 1133.7 768.3 1133.9 768.3 1134.1 768.4 1134.2 768.4 1134.3 768.6 1134.5 768.4 1134.7 768.4 1134.9 768.6 1135.1 768.5 1135.2 768.5 1135.3 768.6 1135.5 768.6 1135.7 768.5 1136.2 768.6 1137.2 768.7 1138.2 768.5 1139.2 768.8 1140.2 768.6 1141.2 768.8 1142.2 768.6 1143.2 768.8 1144.2 768.8 1145.2 769.0 1146.2 768.9 1147.2 768.9 1148.2 768.8 1149.2 768.9 1150.2 768.8 1151.2 769.0 1152.2 769.0 1153.2 769.1 1154.2 769.1 1155.2 769.0 1156.2 768.9 1157.2 768.9 1158.2 769.0 1158.5 768.7 1158.7 768.8 1158.9 768.7 1159.1 768.8 1159.2 768.8 1159.3 768.5 1159.5 768.6 1159.7 768.8 1159.9 768.5 1160.1 768.6 1160.2 768.6 1160.3 768.6 1160.5 768.7 1160.7 768.8 1160.9 768.7 1161.1 768.9 1161.2 769.0 1161.3 768.8 1161.5 768.9 1161.7 768.9 1161.9 769.0 1162.1 768.9 1162.2 768.8 1162.3 768.7 1162.5 768.7 1162.7 768.8 1162.9 768.7 1163.1 768.5 1163.2 768.3 1163.3 768.7 1163.5 768.5 1163.7 768.4 1163.9 768.2 1164.1 768.4 1164.2 768.4 1164.3 768.0 1164.5 768.1 1164.7 768.4 1164.9 768.2 1165.1 768.2 1165.2 768.5 1165.3 768.3 1165.5 768.1 1165.7 768.1 1165.9 768.3 1166.1 768.1 1166.2 767.7 1166.3 767.7 1166.5 767.6 1166.7 767.7 1166.9 767.5 1167.1 767.4 1167.2 767.2 1167.3 767.0 1167.5 767.0 1167.7 767.2 1167.9 766.8 1168.1 766.4 1168.2 766.4 1168.3 766.4 1168.5 766.0 1168.7 765.3 1168.9 764.4 1169.1 763.2 1169.2 762.2 1169.3 762.0 1169.5 760.2 1169.7 758.2 1169.9 756.3 1170.1 754.5 1170.2 753.8 1170.3 753.4 1170.5 753.0 1170.7 753.2 1170.9 754.5 1171.1 756.2 1171.2 757.6 1171.3 757.8 1171.5 759.6 1171.7 760.9 1171.9 762.7 1172.1 763.7 1172.2 764.5 1172.3 764.9 1172.5 765.3 1172.7 765.3 1172.9 765.2 1173.1 765.0 1173.2 764.4 1173.3 764.5 1173.5 764.2 1173.5 764.1 1173.7 763.4 1173.7 763.2 1173.9 762.3 1173.9 762.0 1174.1 761.4 1174.1 761.2 1174.2 760.9 1174.3 760.9 1174.3 760.4 1174.5 760.3 1174.5 760.3 1174.7 760.1 1174.7 760.1 1174.9 760.7 1174.9 760.7 1175.1 761.2 1175.1 761.1 1175.2 761.8 1175.3 762.0 1175.3 762.2 1175.5 762.9 1175.5 763.1 1175.7 763.7 1175.7 763.6 1175.9 764.6 1175.9 764.7 1176.1 765.3 1176.2 765.9 1176.3 766.3 1176.5 766.7 1176.7 767.2 1176.9 767.3 1177.1 767.1 1177.2 767.5 1177.3 767.4 1177.5 767.8 1177.7 767.8 1177.9 767.9 1178.1 767.8 1178.2 767.8 1178.3 767.9 1178.5 768.2 1178.7 768.4 1178.9 768.2 1179.1 768.3 1179.2 768.4 1179.3 768.4 1179.5 768.2 1179.7 768.6 1179.9 768.4 1180.1 768.3 1180.2 768.4 1180.3 768.4 1180.5 768.4 1180.7 768.2 1180.9 768.2 1181.1 768.3 1181.2 768.2 1181.3 768.5 1181.5 768.6 1181.7 768.6 1181.9 768.7 1182.1 768.5 1182.2 768.5 1182.3 768.7 1182.5 768.6 1183.2 768.9 1184.2 769.0 1185.2 769.1 1186.2 769.0 1187.2 768.8 1188.2 768.9 1189.2 768.8 1190.2 768.8 1191.2 768.8 1192.2 768.8 1193.2 769.1 1194.2 768.9 1195.2 768.9 1196.2 769.1 1197.2 769.1 1198.2 769.2 1199.2 769.0 1200.2 769.1 1201.2 769.3 1202.2 769.2 1203.2 769.2 1204.2 769.3 1205.2 769.3 1206.2 769.4 1207.2 769.1 1208.2 768.9 1209.2 768.8 1210.2 769.0 1211.2 768.9 1212.2 768.7 1213.2 769.1 1214.2 769.3 1215.2 769.2 1216.2 769.1 1217.2 769.0 1218.2 769.2 1219.2 769.2 1220.2 769.2 1221.2 769.4 1222.2 769.2 1223.2 769.0 1224.2 769.0 1225.2 769.1 1226.2 769.1 1227.2 769.2 1228.2 769.0 1229.2 769.3 1230.2 769.0 1231.2 769.1 1232.2 769.2 1233.2 769.3 1234.2 769.2 1235.2 769.1 1236.2 769.1 1237.2 768.9 1238.2 769.0 1239.2 769.0 1240.2 768.8 1241.2 769.2 1242.2 769.1 1243.2 769.2 1244.2 769.4 1245.2 769.3 1246.2 769.2 1247.2 769.0 1248.2 769.0 1249.2 768.9 1250.2 769.0 1251.2 769.2 1252.2 769.2 1253.2 769.4 1254.2 769.3 1255.2 769.3 1256.2 768.8 1257.2 768.9 1258.0 769.0 1258.2 768.8 1258.2 768.9 1258.4 768.9 1258.6 768.9 1258.8 769.0 1259.0 769.0 1259.2 769.0 1259.2 769.1 1259.4 769.1 1259.6 769.0 1259.8 769.2 1260.0 769.1 1260.2 769.2 1260.2 769.4 1260.4 769.5 1260.6 769.6 1260.8 769.4 1261.0 769.3 1261.2 769.3 1261.2 769.2 1261.4 769.1 1261.6 769.2 1261.8 769.3 1262.0 769.5 1262.2 769.2 1262.2 769.2 1262.4 769.0 1262.6 769.0 1262.8 768.7 1263.0 769.1 1263.2 768.8 1263.2 768.9 1263.4 768.7 1263.6 768.8 1263.8 768.7 1264.0 768.5 1264.2 768.6 1264.2 768.7 1264.4 768.8 1264.6 768.6 1264.8 768.8 1265.0 768.8 1265.2 768.7 1265.2 769.0 1265.4 768.9 1265.6 768.9 1265.8 769.1 1266.0 769.0 1266.2 768.9 1266.2 769.0 1266.4 768.9 1266.6 768.8 1266.8 768.8 1267.0 768.7 1267.2 768.8 1267.2 768.8 1267.4 768.9 1267.6 768.8 1267.8 768.5 1268.0 768.5 1268.2 768.3 1268.2 768.2 1268.4 768.3 1268.6 768.0 1268.8 767.4 1269.0 767.4 1269.2 766.9 1269.2 766.5 1269.4 766.3 1269.6 766.0 1269.8 765.6 1270.0 765.4 1270.2 765.4 1270.2 765.6 1270.4 765.8 1270.6 766.5 1270.8 766.9 1271.0 767.3 1271.2 767.5 1271.2 767.7 1271.4 767.7 1271.6 768.0 1271.8 768.3 1272.0 768.2 1272.2 768.2 1272.2 768.4 1272.4 768.7 1272.6 768.7 1272.8 768.8 1273.0 768.6 1273.2 768.4 1273.2 768.2 1273.4 768.0 1273.4 768.1 1273.6 767.9 1273.6 767.8 1273.8 767.7 1273.8 767.8 1274.0 767.5 1274.0 767.5 1274.2 767.4 1274.2 767.4 1274.2 767.3 1274.4 767.2 1274.4 766.9 1274.6 766.9 1274.6 767.2 1274.8 767.3 1274.8 767.3 1275.0 767.5 1275.0 767.4 1275.2 767.6 1275.2 767.6 1275.2 767.7 1275.4 768.0 1275.4 768.0 1275.6 768.1 1275.6 768.2 1275.8 768.4 1275.8 768.1 1276.0 768.5 1276.2 768.7 1276.2 768.6 1276.4 768.6 1276.6 768.6 1276.8 768.7 1277.0 768.6 1277.2 768.8 1277.2 768.9 1277.4 768.8 1277.6 768.9 1277.8 768.7 1278.0 768.7 1278.2 768.7 1278.2 768.9 1278.4 769.0 1278.6 768.8 1278.8 768.9 1279.0 769.0 1279.2 769.0 1279.2 769.3 1279.4 769.0 1279.6 769.2 1279.8 769.3 1280.0 769.1 1280.2 768.9 1280.2 769.1 1280.4 768.8 1280.6 768.9 1280.8 768.7 1281.0 768.9 1281.2 768.9 1281.2 768.8 1281.4 769.0 1281.6 769.2 1281.8 768.9 1282.0 769.1 1282.2 769.1 1283.2 769.0 1284.2 769.0 1285.2 769.1 1286.2 769.3 1287.2 769.2 1288.2 768.8 1289.2 769.1 1290.2 769.1 1291.2 768.9 1292.2 768.9 1293.2 769.0 1294.2 769.0 1295.2 769.1 1296.2 769.0 1297.2 769.2 1298.2 768.8 1299.2 769.0 1300.2 769.0 1301.2 769.0 1302.2 769.2 1303.2 769.4 1304.2 769.1 1305.2 769.1 1306.2 769.0 1307.2 769.1 1308.2 769.0 1309.2 768.9 1310.2 769.2 1311.2 769.2 1312.2 769.2 1313.2 769.4 1314.2 769.0 1315.2 769.1 1316.2 769.4 1317.2 769.2 1318.2 769.1 1319.2 769.0 1320.2 769.2 1321.2 769.3 1322.2 769.3 1323.2 769.4 1324.2 769.2 1325.2 769.1 1326.2 769.2 1327.2 769.0 1328.0 769.1 1328.2 769.1 1328.2 768.9 1328.4 769.0 1328.6 768.9 1328.8 768.9 1329.0 768.7 1329.2 768.6 1329.2 768.7 1329.4 768.9 1329.6 768.9 1329.8 768.8 1330.0 768.9 1330.2 769.2 1330.2 769.2 1330.4 769.2 1330.6 768.8 1330.8 768.8 1331.0 769.1 1331.2 768.8 1331.2 768.8 1331.4 768.8 1331.6 768.8 1331.8 769.0 1332.0 768.7 1332.2 768.9 1332.2 768.6 1332.4 768.6 1332.6 768.8 1332.8 768.7 1333.0 768.7 1333.2 768.7 1333.2 769.0 1333.4 768.8 1333.6 769.0 1333.8 769.2 1334.0 769.0 1334.2 768.8 1334.2 768.8 1334.4 768.7 1334.6 768.7 1334.8 768.6 1335.0 768.5 1335.2 768.4 1335.2 768.6 1335.4 768.6 1335.6 768.5 1335.8 768.7 1336.0 768.7 1336.2 768.6 1336.2 768.5 1336.4 768.6 1336.6 768.5 1336.8 768.5 1337.0 768.4 1337.2 768.5 1337.2 768.5 1337.4 768.6 1337.6 768.6 1337.8 768.2 1338.0 767.9 1338.2 767.6 1338.2 767.5 1338.4 767.5 1338.6 767.1 1338.8 766.6 1339.0 766.1 1339.2 765.1 1339.2 765.2 1339.4 764.7 1339.6 764.3 1339.8 763.8 1340.0 763.8 1340.2 764.0 1340.2 764.0 1340.4 764.3 1340.6 764.7 1340.8 765.3 1341.0 765.8 1341.2 766.4 1341.2 766.4 1341.4 766.7 1341.6 767.2 1341.8 767.4 1342.0 767.8 1342.2 767.8 1342.2 767.9 1342.4 767.9 1342.6 768.2 1342.8 768.2 1343.0 768.1 1343.2 767.9 1343.2 768.0 1343.4 767.9 1343.6 767.5 1343.7 767.5 1343.8 767.5 1343.9 767.3 1344.0 767.1 1344.1 767.2 1344.2 766.9 1344.2 766.9 1344.3 767.0 1344.4 767.0 1344.5 766.5 1344.6 766.4 1344.7 766.3 1344.8 766.6 1344.9 766.6 1345.0 766.6 1345.1 766.7 1345.2 766.7 1345.2 766.5 1345.3 766.8 1345.4 766.6 1345.5 766.9 1345.6 767.1 1345.7 767.3 1345.8 767.5 1345.9 767.6 1346.0 767.8 1346.1 767.9 1346.2 767.9 1346.2 768.1 1346.4 768.1 1346.6 768.4 1346.8 768.3 1347.0 768.5 1347.2 768.7 1347.2 768.8 1347.4 768.6 1347.6 768.6 1347.8 768.7 1348.0 768.6 1348.2 768.7 1348.2 769.1 1348.4 769.1 1348.6 769.1 1348.8 768.9 1349.0 768.9 1349.2 769.0 1349.2 769.2 1349.4 769.0 1349.6 769.2 1349.8 769.0 1350.0 768.9 1350.2 768.9 1350.2 768.9 1350.4 768.7 1350.6 768.8 1350.8 769.1 1351.0 768.8 1351.2 769.0 1351.2 769.1 1351.4 769.0 1351.6 768.9 1351.8 769.1 1352.0 769.0 1352.2 769.1 1353.2 769.0 1354.2 768.9 1355.2 769.1 1356.2 769.2 1357.2 769.0 1358.2 769.2 1359.2 769.0 1360.2 768.9 1361.2 769.1 1362.2 769.1 1363.2 769.1 1364.2 769.3 1365.2 769.1 1366.2 769.2 1367.2 769.1 1368.2 769.2 1369.2 769.1 1370.2 769.0 1371.2 769.1 1372.2 769.0 1373.2 769.1 1374.2 769.0 1375.2 769.0 1376.2 769.1 1377.2 768.9 1378.2 769.0 1379.2 769.2 1380.2 769.2 1381.2 769.3 1382.2 769.1 1383.2 769.2 1384.2 769.2 1385.2 768.8 1386.2 769.0 1387.2 769.2 1388.2 769.2 1389.2 769.2 1390.2 769.2 1391.2 769.1 1392.2 769.0 1393.2 769.0 1394.2 768.7 1395.2 769.2 1396.2 769.2 1397.2 769.2 1398.2 769.3 1399.2 769.3 1400.2 769.3 1401.2 769.0 1402.2 768.9 1403.2 769.2" stroke="#F14040"/><path d="M89.2 655.0L90.2 655.1 91.2 654.9 92.2 654.9 93.2 655.0 94.2 654.9 95.2 655.2 96.2 655.1 97.2 655.0 98.2 654.9 99.2 655.1 100.2 655.3 101.2 655.3 102.2 655.3 103.2 655.3 104.2 655.4 105.2 655.4 106.2 655.6 107.2 655.5 108.2 655.4 109.2 655.4 110.2 655.2 111.2 655.3 112.2 655.4 113.2 655.3 114.2 655.2 115.2 655.2 116.2 655.3 117.2 655.3 118.2 655.6 119.2 655.8 120.2 655.7 121.2 655.7 122.2 655.6 123.2 655.9 124.2 655.7 125.2 655.6 126.2 655.7 127.2 655.7 128.2 656.1 129.2 656.0 130.2 656.0 131.2 655.8 132.2 655.9 133.2 655.9 134.2 655.9 135.2 656.1 136.2 656.0 137.2 656.1 138.2 656.0 139.2 656.2 140.2 656.1 141.2 656.0 142.2 656.0 143.2 656.3 144.2 656.2 145.2 656.1 146.2 656.2 147.2 656.1 148.2 656.3 149.2 656.2 150.2 656.3 151.2 656.5 152.2 656.5 153.2 656.7 154.2 656.6 155.2 656.8 156.2 656.9 157.2 656.7 158.2 656.7 159.2 656.6 160.2 656.5 161.2 656.6 162.2 656.5 163.2 656.6 164.2 656.6 165.2 656.9 166.2 656.9 167.2 656.8 168.2 656.7 169.2 656.6 170.2 656.6 171.2 656.6 172.2 656.7 173.2 656.5 174.2 656.6 175.2 656.8 176.2 656.8 177.2 656.7 178.2 656.7 179.2 656.9 180.2 656.8 181.2 657.1 182.2 656.8 183.2 656.8 184.2 657.0 185.2 657.2 186.2 657.1 187.2 656.9 188.2 656.9 189.2 656.9 190.2 656.9 191.2 656.9 192.2 657.0 193.2 657.0 194.2 657.1 195.2 657.1 196.2 656.9 197.2 657.0 198.2 656.8 199.2 657.0 200.2 657.1 201.2 657.0 202.2 657.5 203.2 657.7 204.2 657.7 205.2 657.6 206.2 657.5 207.2 657.5 208.2 657.7 209.2 657.6 210.2 657.5 211.2 657.4 212.2 657.5 213.2 657.6 214.2 657.5 215.2 657.6 216.2 657.6 217.2 657.9 218.2 657.8 219.2 657.9 220.2 657.7 221.2 658.0 222.2 657.9 223.2 657.8 224.2 658.0 225.2 657.9 226.2 657.6 227.2 657.8 228.2 657.8 229.2 657.8 230.2 657.7 231.2 657.4 232.2 657.4 233.2 656.9 234.2 657.0 235.2 657.3 236.2 657.5 237.2 657.8 238.2 657.7 239.2 657.9 240.2 657.7 241.2 657.9 242.2 658.1 243.2 658.0 244.2 658.0 245.2 658.1 246.2 658.0 247.2 658.0 248.2 658.0 249.2 658.4 250.2 658.2 251.2 658.1 252.2 658.1 253.2 658.0 254.2 657.9 255.2 657.9 256.2 658.1 257.2 658.3 258.2 658.5 259.2 658.2 260.2 658.1 261.2 658.1 262.2 658.0 263.2 658.0 264.2 658.1 265.2 658.1 266.2 658.1 267.2 658.2 268.2 658.1 269.2 658.2 270.2 658.3 271.2 658.4 272.2 658.4 273.2 658.6 274.2 658.5 275.2 658.3 276.2 658.6 277.2 658.9 278.2 658.8 279.2 658.9 280.2 658.9 281.2 658.7 282.2 658.7 283.2 658.5 284.2 658.5 285.2 658.6 286.2 658.6 287.2 658.5 288.2 658.3 289.2 658.6 290.2 658.6 291.2 658.6 292.2 658.5 293.2 658.5 294.2 658.5 295.2 658.3 296.2 658.6 297.2 658.7 298.2 658.8 299.2 658.9 300.2 658.8 301.2 658.8 302.2 658.6 303.2 658.6 304.2 658.8 305.2 658.7 306.2 658.6 307.2 658.8 308.2 658.8 309.2 658.9 310.2 658.7 311.2 658.7 312.2 658.6 313.2 658.7 314.2 658.8 315.2 658.7 316.2 658.5 317.2 658.5 318.2 658.8 319.2 658.8 320.2 658.7 321.2 658.8 322.2 658.7 323.2 659.0 324.2 659.1 325.2 659.1 326.2 659.0 327.2 658.7 328.2 658.9 329.2 659.2 330.2 659.2 331.2 659.1 332.2 659.2 333.2 659.1 334.2 658.9 335.2 659.0 336.2 659.1 337.2 658.8 338.2 659.1 339.2 659.3 340.2 659.2 341.2 659.1 342.2 658.9 343.2 659.1 344.2 659.1 345.2 659.3 346.2 659.5 347.2 659.5 348.2 659.4 349.2 659.1 350.2 659.3 351.2 659.2 352.2 659.2 353.2 659.3 354.2 659.4 355.2 659.2 356.2 659.2 357.2 659.2 358.2 659.2 359.2 659.1 360.2 659.4 361.2 659.3 362.2 659.4 363.2 659.5 364.2 659.7 365.2 659.7 366.2 659.4 367.2 659.3 368.2 659.5 369.2 659.7 370.2 659.3 371.2 659.6 372.2 659.4 373.2 659.4 374.2 659.3 375.2 659.4 376.2 659.4 377.2 659.4 378.2 659.3 379.2 659.5 380.2 659.5 381.2 659.5 382.2 659.7 383.2 659.7 384.2 659.8 385.2 659.6 386.2 659.5 387.2 659.5 388.2 659.6 389.2 659.5 390.2 659.2 391.2 659.4 392.2 659.3 393.2 659.4 394.2 659.5 395.2 659.4 396.2 659.5 397.2 659.4 398.2 659.3 399.2 659.2 400.2 659.2 401.2 659.1 402.2 659.2 403.2 658.8 403.2 659.0 403.4 659.0 403.6 658.9 403.8 659.0 404.0 659.0 404.2 659.1 404.2 659.2 404.4 659.1 404.6 658.8 404.8 658.6 405.0 658.7 405.2 658.6 405.2 659.0 405.4 658.9 405.6 658.6 405.8 658.4 406.0 658.4 406.2 658.2 406.2 658.5 406.4 658.2 406.6 658.5 406.8 658.5 407.0 658.7 407.2 658.4 407.2 658.4 407.4 658.6 407.6 658.3 407.8 658.4 408.0 658.6 408.2 658.3 408.2 658.3 408.4 658.5 408.6 658.6 408.8 658.6 409.0 658.3 409.2 658.1 409.2 658.0 409.4 657.9 409.6 658.0 409.8 658.0 410.0 657.9 410.2 657.6 410.2 657.7 410.4 657.6 410.6 657.5 410.8 657.5 411.0 657.2 411.2 657.1 411.2 657.2 411.4 656.9 411.6 656.8 411.8 656.7 412.0 656.7 412.2 656.5 412.2 656.2 412.4 656.2 412.6 655.7 412.8 655.1 413.0 654.5 413.2 653.8 413.2 653.5 413.4 652.9 413.6 651.6 413.8 649.9 414.0 647.4 414.2 645.0 414.2 644.3 414.4 642.1 414.6 638.9 414.8 636.0 415.0 633.8 415.2 632.4 415.2 632.4 415.4 632.2 415.6 632.7 415.6 633.0 415.8 634.2 415.8 634.6 416.0 635.8 416.0 636.1 416.2 637.2 416.2 637.4 416.2 637.6 416.4 638.5 416.4 638.6 416.6 639.2 416.6 639.6 416.8 640.7 416.8 641.2 417.0 642.5 417.0 642.8 417.2 644.3 417.2 644.5 417.2 644.5 417.4 646.1 417.4 646.2 417.6 647.8 417.6 648.0 417.8 649.3 417.8 650.1 418.0 651.0 418.0 651.6 418.2 652.5 418.2 652.7 418.4 653.3 418.6 654.3 418.8 655.0 419.0 655.6 419.2 655.8 419.2 656.2 419.4 656.3 419.6 656.6 419.8 656.8 420.0 657.0 420.2 657.0 420.2 657.1 420.4 657.0 420.6 657.2 420.8 657.2 421.0 657.2 421.2 657.3 421.2 657.4 421.4 657.5 421.6 657.6 421.8 657.7 422.0 657.8 422.2 658.2 422.2 658.2 422.4 658.3 422.6 658.4 422.8 658.5 423.0 658.5 423.2 658.6 423.2 658.6 423.4 658.5 423.6 658.5 423.8 658.5 424.0 658.5 424.2 658.6 424.2 658.6 424.4 658.5 424.6 658.6 424.8 658.7 425.0 658.7 425.2 658.6 425.2 658.6 425.4 658.8 425.6 658.8 425.8 659.0 426.0 658.9 426.2 658.9 426.2 659.0 426.4 659.1 426.6 659.0 426.8 659.2 427.0 659.2 427.2 659.2 427.2 659.3 428.2 659.4 429.2 659.3 430.2 659.3 431.2 659.1 432.2 659.4 433.2 659.4 434.2 659.6 435.2 659.6 436.2 659.5 437.2 659.3 438.2 659.2 439.2 659.3 440.2 659.2 441.2 659.2 442.2 659.3 443.2 659.2 444.2 659.0 445.0 658.9 445.2 658.5 445.2 658.6 445.4 658.6 445.6 658.6 445.8 658.3 446.0 658.3 446.2 658.6 446.2 658.5 446.4 658.3 446.6 658.3 446.8 658.2 447.0 658.1 447.2 658.1 447.2 658.1 447.4 658.2 447.6 658.4 447.8 658.3 448.0 658.1 448.2 658.1 448.2 657.7 448.4 657.9 448.6 657.6 448.8 657.4 449.0 657.3 449.2 657.0 449.2 657.0 449.4 657.0 449.6 657.0 449.8 656.7 450.0 656.2 450.2 656.4 450.2 656.2 450.4 656.2 450.6 656.2 450.8 656.1 451.0 655.8 451.2 655.5 451.2 655.9 451.4 655.6 451.6 655.1 451.8 654.6 452.0 654.4 452.2 654.3 452.2 654.2 452.4 653.8 452.6 653.2 452.8 652.7 453.0 652.2 453.2 651.7 453.2 651.6 453.4 651.3 453.6 650.2 453.8 649.1 454.0 648.1 454.2 646.8 454.2 646.3 454.4 644.9 454.6 642.1 454.8 638.3 455.0 632.5 455.2 624.1 455.2 621.7 455.4 612.8 455.6 597.3 455.8 577.8 456.0 554.4 456.2 528.0 456.2 521.6 456.4 501.1 456.6 475.8 456.8 456.3 457.0 445.9 457.2 446.0 457.2 447.6 457.4 454.8 457.6 465.1 457.6 467.8 457.8 479.2 457.8 482.2 458.0 492.5 458.0 494.7 458.2 502.8 458.2 504.4 458.2 506.8 458.4 511.0 458.4 512.4 458.6 518.4 458.6 520.0 458.8 527.4 458.8 529.5 459.0 539.3 459.0 541.9 459.2 553.5 459.2 556.3 459.2 560.5 459.4 569.2 459.4 572.4 459.6 584.7 459.6 587.7 459.8 599.1 459.8 601.8 460.0 611.7 460.0 614.2 460.2 624.3 460.2 626.4 460.4 632.0 460.6 638.0 460.8 642.1 461.0 645.2 461.2 647.2 461.2 647.9 461.4 648.9 461.6 650.1 461.8 651.2 462.0 651.9 462.2 652.4 462.2 652.6 462.4 653.2 462.6 653.2 462.8 653.7 463.0 654.1 463.2 654.6 463.2 654.4 463.4 654.9 463.6 655.2 463.8 655.5 464.0 655.6 464.2 656.0 464.2 656.4 464.4 656.4 464.6 656.5 464.8 656.5 465.0 656.2 465.2 656.5 465.2 656.7 465.4 656.9 465.6 657.1 465.8 657.0 466.0 656.9 466.2 657.3 466.2 657.5 466.4 657.6 466.6 657.6 466.8 657.8 467.0 657.8 467.2 657.7 467.2 658.0 467.4 657.8 467.6 657.9 467.8 658.2 468.0 658.3 468.2 658.4 468.2 658.6 468.4 658.5 468.6 658.3 468.8 658.1 469.0 658.0 469.2 658.3 470.2 658.4 471.2 658.7 472.2 658.9 473.2 659.1 474.2 659.1 475.2 659.4 476.2 659.4 477.2 659.5 478.2 659.4 479.2 659.4 480.2 659.4 481.2 659.4 482.2 659.4 483.2 659.3 484.2 659.3 485.2 659.5 486.2 658.9 486.8 658.9 487.0 658.9 487.2 658.8 487.2 658.7 487.4 658.6 487.6 658.7 487.8 658.6 488.0 658.8 488.2 658.8 488.2 659.0 488.4 658.8 488.6 658.5 488.8 658.5 489.0 658.5 489.2 658.6 489.2 658.2 489.4 658.2 489.6 658.4 489.8 658.3 490.0 657.9 490.2 658.0 490.2 658.1 490.4 658.2 490.6 658.2 490.8 657.8 491.0 657.9 491.2 657.9 491.2 657.9 491.4 657.7 491.6 657.7 491.8 657.2 492.0 656.9 492.2 657.0 492.2 657.2 492.4 657.1 492.6 656.9 492.8 656.7 493.0 656.4 493.2 656.4 493.2 656.0 493.4 656.0 493.6 656.0 493.8 655.4 494.0 654.9 494.2 654.6 494.2 654.6 494.4 654.5 494.6 654.1 494.8 653.9 495.0 653.3 495.2 652.6 495.2 652.7 495.4 652.2 495.6 651.4 495.8 650.4 496.0 649.0 496.2 647.6 496.2 647.5 496.4 645.8 496.6 642.8 496.8 638.5 497.0 632.6 497.2 624.3 497.2 621.9 497.4 612.9 497.6 598.8 497.8 581.8 498.0 562.5 498.2 542.7 498.2 537.9 498.4 524.4 498.6 510.2 498.8 503.2 499.0 504.1 499.2 511.3 499.2 514.1 499.4 522.1 499.5 526.5 499.6 533.2 499.7 537.3 499.8 542.5 499.9 545.8 500.0 549.9 500.1 551.8 500.2 554.8 500.2 556.0 500.3 556.3 500.4 558.5 500.5 560.1 500.6 562.9 500.7 565.1 500.8 569.3 500.9 572.3 501.0 577.8 501.1 581.9 501.2 588.4 501.2 591.4 501.3 593.1 501.4 599.6 501.5 604.0 501.6 610.6 501.7 614.9 501.8 620.6 501.9 623.9 502.0 628.7 502.2 635.2 502.2 636.4 502.4 640.1 502.6 643.8 502.8 646.4 503.0 648.3 503.2 649.6 503.2 649.9 503.4 650.8 503.6 651.3 503.8 651.9 504.0 652.3 504.2 652.7 504.2 652.7 504.4 652.9 504.6 652.8 504.8 652.6 505.0 652.7 505.2 652.8 505.2 652.7 505.4 652.7 505.6 652.6 505.8 652.8 506.0 652.5 506.2 652.4 506.2 652.3 506.4 652.1 506.6 651.9 506.8 651.4 507.0 651.0 507.2 650.5 507.2 650.5 507.4 650.4 507.6 650.0 507.8 649.8 508.0 649.6 508.2 649.6 508.2 649.5 508.4 649.6 508.6 649.5 508.8 649.8 509.0 650.3 509.2 650.4 509.2 650.6 509.4 650.8 509.6 651.2 509.8 652.0 510.0 652.5 510.2 653.0 510.2 653.3 510.4 653.6 510.6 653.9 510.8 654.0 511.2 655.2 512.2 657.3 513.2 658.2 514.2 658.6 515.2 658.8 516.2 659.2 517.2 659.1 518.2 659.4 519.2 659.7 520.2 659.7 521.2 659.7 522.2 659.8 523.2 660.1 524.2 659.9 525.2 659.9 526.2 660.1 527.2 660.0 528.2 660.3 529.2 660.2 530.2 660.0 531.2 659.9 532.2 660.0 533.2 660.3 534.2 660.3 535.2 660.2 536.2 660.1 537.2 660.2 538.2 660.2 539.2 660.6 540.2 660.4 541.2 660.2 542.2 660.1 543.2 660.3 544.2 660.4 545.2 660.5 546.2 660.6 547.2 660.7 548.2 660.5 549.2 660.7 550.2 660.5 551.2 660.6 552.2 660.5 553.2 660.7 554.2 660.6 555.2 660.6 556.2 660.3 557.2 660.4 558.2 660.5 559.2 660.7 560.2 660.4 561.2 660.3 562.2 660.5 563.2 660.9 564.2 660.8 565.2 660.4 566.2 660.2 567.2 660.3 568.2 660.3 569.2 660.5 570.2 660.7 571.2 660.8 572.2 660.6 573.2 660.5 574.2 660.5 575.2 660.7 576.2 660.7 577.2 660.7 578.2 660.8 579.2 660.9 580.2 660.8 581.2 660.8 582.2 661.0 583.2 661.0 584.2 660.8 585.2 660.7 586.2 660.9 587.2 660.9 588.2 660.8 589.2 660.7 590.2 660.7 591.2 660.7 592.2 661.0 593.2 660.7 594.2 660.7 595.2 660.6 596.2 660.5 597.2 660.9 598.2 660.7 599.2 660.9 600.2 661.0 601.2 661.0 602.2 660.9 603.2 660.9 604.2 660.9 605.2 660.9 606.2 660.9 607.2 661.0 608.2 660.7 609.2 660.6 610.2 660.7 611.2 660.7 612.2 660.6 613.2 660.8 614.2 660.9 615.2 660.9 616.2 661.0 617.2 661.0 618.2 660.9 619.2 660.8 620.2 661.0 621.2 660.9 622.2 660.8 623.2 660.7 624.2 660.9 625.2 660.9 626.2 660.9 627.2 661.0 628.2 660.8 629.2 661.0 630.2 660.9 631.2 660.9 632.2 660.8 633.2 660.9 634.2 661.1 635.2 660.9 636.2 661.1 637.2 661.2 638.2 661.1 639.2 660.9 640.2 660.8 641.2 660.8 642.2 661.3 643.2 661.1 644.2 661.1 645.2 660.9 646.2 661.0 647.2 661.0 648.2 661.1 649.2 661.3 650.2 661.3 651.2 661.1 652.2 661.0 653.2 660.8 654.2 660.8 655.2 660.7 656.2 660.9 657.2 660.6 658.2 660.9 659.2 660.9 660.2 660.7 661.2 660.9 662.2 661.1 663.2 661.3 664.2 661.1 665.2 661.2 666.2 661.1 667.2 661.3 668.2 661.1 669.2 661.2 670.2 661.0 671.2 660.9 672.2 660.8 673.2 660.8 674.2 660.7 675.2 660.8 676.2 660.8 677.2 660.7 678.2 660.8 679.2 661.0 680.2 661.1 681.2 661.1 682.2 661.0 683.2 660.9 684.2 660.7 685.2 661.1 686.2 660.8 687.2 660.7 688.2 660.6 689.2 660.6 690.2 660.7 691.2 660.6 692.2 660.6 693.2 660.7 694.2 660.5 695.2 660.4 696.2 660.6 696.7 660.5 696.9 660.3 697.1 660.5 697.2 660.3 697.3 660.4 697.5 660.5 697.7 660.5 697.9 660.6 698.1 660.5 698.2 660.5 698.3 660.3 698.5 660.4 698.7 660.1 698.9 660.4 699.1 660.3 699.2 660.4 699.3 660.4 699.5 660.5 699.7 660.3 699.9 660.3 700.1 660.3 700.2 660.4 700.3 660.3 700.5 659.9 700.7 660.0 700.9 660.2 701.1 660.3 701.2 660.2 701.3 660.3 701.5 659.7 701.7 659.7 701.9 659.7 702.1 660.1 702.2 659.9 702.3 660.3 702.5 660.1 702.7 659.8 702.9 659.7 703.1 659.5 703.2 659.5 703.3 659.5 703.5 659.3 703.7 659.6 703.9 659.6 704.1 659.3 704.2 659.3 704.3 659.2 704.5 659.0 704.7 658.8 704.9 658.6 705.1 658.8 705.2 658.9 705.3 658.7 705.5 658.4 705.7 658.4 705.9 658.0 706.1 657.8 706.2 657.3 706.3 657.3 706.5 656.9 706.7 656.4 706.9 655.6 707.1 654.4 707.2 653.0 707.3 652.3 707.5 650.0 707.7 647.6 707.9 645.0 708.1 642.3 708.2 640.9 708.3 640.3 708.5 638.5 708.7 637.6 708.9 638.0 709.1 639.5 709.2 641.1 709.3 641.6 709.5 643.8 709.7 645.9 709.9 647.3 710.0 647.9 710.1 648.1 710.2 648.5 710.2 648.6 710.3 648.5 710.4 648.5 710.5 648.5 710.6 648.2 710.7 647.7 710.8 647.7 710.9 647.4 711.0 647.3 711.1 647.2 711.2 647.2 711.2 647.1 711.3 647.3 711.4 647.7 711.5 648.2 711.6 648.8 711.7 649.3 711.8 650.3 711.9 650.8 712.0 651.6 712.1 652.3 712.2 653.1 712.2 653.2 712.3 653.4 712.4 654.1 712.5 654.6 712.7 655.4 712.9 656.2 713.1 656.9 713.2 657.3 713.3 657.5 713.5 658.0 713.7 658.2 713.9 658.7 714.1 658.8 714.2 658.6 714.3 658.7 714.5 658.7 714.7 659.0 714.9 659.4 715.1 659.2 715.2 659.3 715.3 659.2 715.5 659.2 715.7 659.5 715.9 659.7 716.1 659.6 716.2 659.7 716.3 659.5 716.5 659.6 716.7 659.7 716.9 659.8 717.1 660.0 717.2 660.1 717.3 660.1 717.5 660.1 717.7 660.2 717.9 660.3 718.1 660.1 718.2 660.1 718.3 660.2 718.5 660.2 718.7 660.0 718.9 660.0 719.1 660.0 719.2 660.1 719.3 660.2 719.5 660.4 719.7 660.2 719.9 660.4 720.1 660.5 720.2 660.9 720.3 660.7 720.5 660.8 720.7 660.4 721.2 660.7 722.2 661.0 723.2 661.0 724.2 660.8 725.2 661.1 726.2 660.9 727.2 661.2 728.2 660.9 729.2 661.0 730.2 661.1 731.2 661.1 732.2 661.0 733.2 660.9 734.2 661.1 735.2 661.2 736.2 661.0 737.2 660.9 738.2 661.1 739.2 661.3 740.2 661.2 741.2 661.1 742.2 661.2 743.2 661.2 744.2 661.4 745.2 661.3 746.2 661.1 747.2 661.1 748.2 660.9 749.2 660.9 750.2 660.9 751.2 661.0 752.2 661.1 753.2 660.9 754.2 661.0 755.2 661.3 756.2 661.0 757.2 661.1 758.2 661.0 759.2 661.2 760.2 661.1 761.2 661.5 762.2 661.3 763.2 661.3 764.2 661.3 765.2 661.5 766.2 661.4 767.2 661.1 768.2 661.2 769.2 661.1 770.2 661.3 771.2 661.4 772.2 661.4 773.2 661.3 774.2 661.2 775.2 661.4 776.2 661.4 777.2 661.7 778.2 661.5 779.2 661.5 780.2 661.3 781.2 661.3 782.2 661.3 783.2 661.1 784.2 661.1 785.2 661.2 786.2 661.2 787.2 661.2 788.2 661.2 789.2 661.2 790.2 661.2 791.2 661.0 792.2 661.1 793.2 661.4 794.2 661.3 795.2 661.3 796.2 661.2 797.2 661.1 798.2 661.1 799.2 661.0 800.2 661.1 801.2 661.0 802.2 661.2 803.2 661.2 804.2 661.1 805.2 661.5 806.2 661.4 807.2 661.4 808.2 661.3 809.2 661.1 810.2 661.2 811.2 661.3 812.2 661.0 813.2 661.1 814.2 661.2 815.2 661.5 816.2 661.2 817.2 661.1 818.2 661.4 819.2 661.2 820.2 661.4 821.2 661.2 822.2 661.1 823.2 661.3 824.2 661.2 825.2 661.1 826.2 661.2 827.2 661.4 828.2 661.4 829.2 661.7 830.2 661.4 831.2 661.6 832.2 661.5 833.2 661.6 834.2 661.6 835.2 661.4 836.2 661.4 837.2 661.2 838.2 661.1 839.2 661.1 840.2 661.3 841.2 661.3 842.2 661.4 843.2 661.3 844.2 661.7 845.2 661.4 846.2 661.3 847.2 661.4 848.2 661.1 849.2 661.2 850.2 661.1 851.2 661.1 852.2 661.2 853.2 661.5 854.2 661.6 855.2 661.6 856.2 661.6 857.2 661.5 858.2 661.4 859.2 661.4 860.2 661.3 861.2 661.4 862.2 661.5 863.2 661.2 864.2 661.1 865.2 661.4 866.2 661.2 867.2 661.4 868.2 661.7 869.2 661.7 870.2 661.5 871.2 661.4 872.2 661.3 873.2 661.4 874.2 661.7 875.2 661.5 875.3 661.3 875.5 661.4 875.7 661.3 875.9 661.4 876.1 661.3 876.2 661.2 876.3 661.2 876.5 661.1 876.7 661.0 876.9 661.0 877.1 661.0 877.2 660.9 877.3 661.0 877.5 661.0 877.7 661.0 877.9 660.9 878.1 660.9 878.2 661.0 878.3 660.9 878.5 660.8 878.7 660.9 878.9 660.9 879.1 660.7 879.2 660.9 879.3 660.9 879.5 661.1 879.7 660.8 879.9 660.5 880.1 660.6 880.2 660.9 880.3 660.9 880.5 660.8 880.7 660.6 880.9 660.6 881.1 660.4 881.2 660.3 881.3 660.4 881.5 660.3 881.7 660.2 881.9 660.1 882.1 660.1 882.2 660.2 882.3 660.2 882.5 660.2 882.7 660.0 882.9 659.7 883.1 659.7 883.2 659.8 883.3 659.9 883.5 659.6 883.7 659.7 883.9 659.6 884.1 659.3 884.2 659.2 884.3 659.1 884.5 659.2 884.7 659.0 884.9 658.7 885.1 658.3 885.2 657.8 885.3 657.6 885.5 656.8 885.7 656.0 885.9 654.9 886.1 653.7 886.2 652.3 886.3 652.0 886.5 650.0 886.7 648.0 886.9 646.2 887.1 644.8 887.2 644.3 887.3 644.4 887.5 644.6 887.7 645.6 887.9 647.3 888.1 649.0 888.2 650.4 888.3 650.8 888.5 652.3 888.7 653.4 888.9 654.3 889.1 654.5 889.2 654.6 889.2 654.5 889.3 654.4 889.4 654.0 889.5 653.9 889.6 653.6 889.7 653.5 889.8 653.0 889.9 652.5 890.0 652.4 890.1 651.9 890.2 651.4 890.2 651.5 890.3 651.4 890.4 651.3 890.5 651.5 890.6 651.7 890.7 652.3 890.8 653.0 890.9 653.6 891.0 653.8 891.1 654.4 891.2 654.7 891.2 654.9 891.3 655.1 891.4 655.6 891.5 656.2 891.6 656.6 891.7 657.2 891.9 657.7 892.1 658.3 892.2 658.4 892.3 658.7 892.5 659.2 892.7 659.6 892.9 659.8 893.1 659.8 893.2 659.8 893.3 659.7 893.5 659.9 893.7 659.8 893.9 659.8 894.1 660.1 894.2 660.2 894.3 660.3 894.5 660.2 894.7 660.4 894.9 660.3 895.1 660.4 895.2 660.5 895.3 660.5 895.5 660.4 895.7 660.6 895.9 660.5 896.1 660.8 896.2 660.9 896.3 660.7 896.5 660.8 896.7 660.9 896.9 660.8 897.1 660.7 897.2 660.8 897.3 660.7 897.5 660.7 897.7 661.1 897.9 661.0 898.1 660.8 898.2 660.9 898.3 661.1 898.5 660.9 898.7 660.9 898.9 660.8 899.1 660.9 899.2 661.1 899.3 661.4 900.2 661.3 901.2 661.3 902.2 661.4 903.2 661.3 904.2 661.4 905.2 661.3 906.2 661.7 907.2 661.4 908.2 661.5 909.2 661.7 910.2 661.7 911.2 661.8 912.2 661.7 913.2 661.6 914.2 661.6 915.2 661.6 916.2 661.6 917.2 661.6 918.2 661.5 919.2 661.3 920.2 661.6 921.2 661.5 922.2 661.7 923.2 661.9 924.2 661.6 925.2 661.8 926.2 661.7 927.2 661.6 928.2 661.3 929.2 661.3 930.2 661.3 931.2 661.3 932.2 661.2 933.2 661.0 934.2 661.2 935.2 661.3 936.2 661.5 937.2 661.3 938.2 661.1 939.2 661.5 940.2 661.5 941.2 661.4 942.2 661.6 943.2 661.4 944.2 661.4 945.2 661.5 946.2 661.5 947.2 661.6 948.2 661.5 949.2 661.7 950.2 661.4 951.2 661.1 952.2 661.2 953.2 661.3 954.2 661.3 955.2 661.1 956.2 661.0 957.2 661.1 958.2 661.4 959.2 661.5 960.2 661.7 961.2 661.4 962.2 661.3 963.2 661.1 964.2 661.0 965.2 661.0 966.2 661.1 967.2 661.1 968.2 661.2 969.2 661.4 970.2 661.3 971.2 661.3 972.2 661.3 973.2 661.2 974.2 661.2 975.2 661.1 976.2 661.1 977.2 661.0 978.2 661.1 979.2 661.1 980.2 661.1 981.2 661.1 981.8 661.0 982.0 660.9 982.2 660.8 982.2 660.9 982.4 660.7 982.6 660.8 982.8 661.0 983.0 660.8 983.2 660.8 983.2 660.9 983.4 660.8 983.6 660.9 983.8 660.7 984.0 660.5 984.2 660.6 984.2 660.6 984.4 660.6 984.6 660.7 984.8 660.4 985.0 660.3 985.2 660.5 985.2 660.4 985.4 660.5 985.6 660.5 985.8 660.1 986.0 660.0 986.2 660.4 986.2 660.3 986.4 660.3 986.6 660.0 986.8 659.9 987.0 659.7 987.2 659.7 987.2 659.8 987.4 659.6 987.6 659.4 987.8 659.5 988.0 659.6 988.2 659.4 988.2 659.3 988.4 659.4 988.6 659.2 988.8 659.3 989.0 659.2 989.2 658.9 989.2 659.0 989.4 658.6 989.6 658.4 989.8 658.3 990.0 658.3 990.2 658.2 990.2 658.2 990.4 657.8 990.6 657.6 990.8 657.6 991.0 657.3 991.2 656.9 991.2 656.7 991.4 656.1 991.6 655.4 991.8 654.6 992.0 653.1 992.2 651.4 992.2 650.9 992.4 648.7 992.6 645.7 992.8 642.1 993.0 638.1 993.2 634.3 993.2 633.0 993.4 630.2 993.6 627.6 993.8 626.7 994.0 627.6 994.2 630.1 994.2 630.8 994.4 633.4 994.6 637.6 994.8 641.3 995.0 644.6 995.2 647.2 995.2 647.6 995.4 648.7 995.6 649.8 995.8 650.4 996.0 649.5 996.1 649.3 996.2 648.4 996.2 648.2 996.3 648.1 996.4 647.1 996.5 646.3 996.6 645.3 996.7 644.9 996.8 643.8 996.9 643.3 997.0 642.6 997.1 642.2 997.2 641.9 997.2 641.7 997.3 642.1 997.4 642.3 997.5 642.7 997.6 643.4 997.7 643.9 997.8 645.2 997.9 645.9 998.0 647.2 998.1 647.9 998.2 649.6 998.2 650.0 998.3 650.3 998.4 651.6 998.5 652.1 998.6 653.1 998.8 654.3 999.0 655.4 999.2 656.4 999.2 656.8 999.4 657.2 999.6 657.5 999.8 657.8 1000.0 658.2 1000.2 658.3 1000.2 658.3 1000.4 658.5 1000.6 658.8 1000.8 658.8 1001.0 658.7 1001.2 658.9 1001.2 659.0 1001.4 659.1 1001.6 659.3 1001.8 659.6 1002.0 659.6 1002.2 659.7 1002.2 659.6 1002.4 659.7 1002.6 659.8 1002.8 659.7 1003.0 660.0 1003.2 659.9 1003.2 659.9 1003.4 660.1 1003.6 660.2 1003.8 660.2 1004.0 660.2 1004.2 660.5 1004.2 660.4 1004.4 660.4 1004.6 660.4 1004.8 660.4 1005.0 660.4 1005.2 660.4 1005.2 660.3 1005.4 660.2 1005.6 660.5 1005.8 660.8 1006.2 660.8 1007.2 660.9 1008.2 660.9 1009.2 660.9 1010.2 661.3 1011.2 661.3 1012.2 661.3 1013.2 661.4 1014.2 661.0 1015.2 661.2 1016.2 661.2 1017.2 661.3 1018.2 661.3 1019.2 661.4 1020.2 661.5 1021.2 661.7 1022.2 661.5 1023.2 661.5 1024.2 661.6 1025.2 661.4 1026.2 661.4 1027.2 661.5 1028.2 661.5 1029.2 661.5 1030.2 661.5 1031.2 661.8 1032.2 661.6 1033.2 661.4 1034.2 661.4 1035.2 661.2 1036.2 661.2 1037.2 661.0 1038.2 661.4 1039.2 661.5 1040.2 661.5 1041.2 661.1 1042.2 661.1 1043.2 661.1 1044.2 661.6 1045.2 661.4 1046.2 661.4 1047.2 661.5 1048.2 661.6 1049.2 661.5 1050.2 661.4 1051.2 661.5 1052.2 661.5 1053.2 661.2 1054.2 661.2 1055.2 661.2 1056.2 661.5 1057.2 661.4 1058.2 661.1 1059.2 661.2 1060.2 661.3 1061.2 661.2 1062.2 661.1 1063.2 660.9 1064.2 661.0 1065.2 660.9 1066.2 660.7 1067.2 660.5 1068.2 660.3 1069.2 659.8 1070.2 659.4 1071.2 659.0 1072.2 658.6 1073.2 658.2 1074.2 658.4 1075.2 658.7 1076.2 659.2 1077.2 659.6 1078.2 660.2 1079.2 660.2 1080.2 660.8 1081.2 660.9 1082.2 661.0 1083.2 660.9 1084.2 660.9 1085.2 660.9 1085.7 660.9 1085.9 660.7 1086.1 660.7 1086.2 660.5 1086.3 660.9 1086.5 660.8 1086.7 660.7 1086.9 660.6 1087.1 660.8 1087.2 660.9 1087.3 660.9 1087.5 660.6 1087.7 660.6 1087.9 660.7 1088.1 660.7 1088.2 660.8 1088.3 660.7 1088.5 660.6 1088.7 660.3 1088.9 660.4 1089.1 660.5 1089.2 660.5 1089.3 660.4 1089.5 660.4 1089.7 660.4 1089.9 660.3 1090.1 660.2 1090.2 660.3 1090.3 660.4 1090.5 660.6 1090.7 660.3 1090.9 660.2 1091.1 660.3 1091.2 660.1 1091.3 660.2 1091.5 659.9 1091.7 660.1 1091.9 660.1 1092.1 660.0 1092.2 659.7 1092.3 659.7 1092.5 659.5 1092.7 659.7 1092.9 659.5 1093.1 659.5 1093.2 659.5 1093.3 659.3 1093.5 659.1 1093.7 658.7 1093.9 658.9 1094.1 659.0 1094.2 658.8 1094.3 658.6 1094.5 658.5 1094.7 658.3 1094.9 657.7 1095.1 657.5 1095.2 657.0 1095.3 657.1 1095.5 656.5 1095.7 656.0 1095.9 654.8 1096.1 653.5 1096.2 652.2 1096.3 651.5 1096.5 649.3 1096.7 646.5 1096.9 643.3 1097.1 640.1 1097.2 638.0 1097.3 637.4 1097.5 635.4 1097.7 634.7 1097.9 635.6 1098.1 637.4 1098.2 639.4 1098.3 640.3 1098.5 643.1 1098.7 646.2 1098.9 648.8 1099.1 650.6 1099.2 652.1 1099.3 652.4 1099.5 653.3 1099.7 653.9 1099.9 654.0 1100.1 653.8 1100.2 653.6 1100.3 653.0 1100.4 652.7 1100.5 652.0 1100.6 651.5 1100.7 650.6 1100.8 650.1 1100.9 649.5 1101.0 649.0 1101.1 648.1 1101.2 647.7 1101.2 647.1 1101.3 646.9 1101.4 646.7 1101.5 646.4 1101.6 646.6 1101.7 646.9 1101.8 647.2 1101.9 647.7 1102.0 648.2 1102.1 649.1 1102.2 649.7 1102.2 650.4 1102.3 650.8 1102.4 651.2 1102.5 652.4 1102.6 653.0 1102.7 654.0 1102.8 654.4 1102.9 655.2 1103.1 656.3 1103.2 656.9 1103.3 657.1 1103.5 657.6 1103.7 658.0 1103.9 658.4 1104.1 658.6 1104.2 658.4 1104.3 658.7 1104.5 658.9 1104.7 659.1 1104.9 659.4 1105.1 659.5 1105.2 659.5 1105.3 659.6 1105.5 659.4 1105.7 659.7 1105.9 659.7 1106.1 659.7 1106.2 659.9 1106.3 659.8 1106.5 659.8 1106.7 659.9 1106.9 659.9 1107.1 660.1 1107.2 660.0 1107.3 660.1 1107.5 660.4 1107.7 660.4 1107.9 660.7 1108.1 660.8 1108.2 660.7 1108.3 660.4 1108.5 660.5 1108.7 660.7 1108.9 660.8 1109.1 660.8 1109.2 660.8 1109.3 660.7 1109.5 660.7 1109.7 660.8 1110.2 660.8 1111.2 661.0 1111.7 660.8 1111.9 661.0 1112.1 660.8 1112.2 660.7 1112.3 660.7 1112.5 660.6 1112.7 660.7 1112.9 660.8 1113.1 661.0 1113.2 661.1 1113.3 660.6 1113.5 660.9 1113.7 660.8 1113.9 660.9 1114.1 661.0 1114.2 661.1 1114.3 661.3 1114.5 661.1 1114.7 660.9 1114.9 660.7 1115.1 661.0 1115.2 660.9 1115.3 660.9 1115.5 660.8 1115.7 660.7 1115.9 660.9 1116.1 661.1 1116.2 661.0 1116.3 661.0 1116.5 660.8 1116.7 660.8 1116.9 660.7 1117.1 660.8 1117.2 661.0 1117.3 660.8 1117.5 660.5 1117.7 660.7 1117.9 660.9 1118.1 660.7 1118.2 660.9 1118.3 660.8 1118.5 660.7 1118.7 660.4 1118.9 660.4 1119.1 660.2 1119.2 660.4 1119.3 660.7 1119.5 660.6 1119.7 660.4 1119.9 660.2 1120.1 660.2 1120.2 660.2 1120.3 660.4 1120.5 660.2 1120.7 660.1 1120.9 659.8 1121.1 659.6 1121.2 659.6 1121.3 659.6 1121.5 659.3 1121.7 659.1 1121.9 658.9 1122.1 658.0 1122.2 657.6 1122.3 657.4 1122.5 656.3 1122.7 654.9 1122.9 653.4 1123.1 652.2 1123.2 651.3 1123.3 651.1 1123.5 650.3 1123.7 650.1 1123.9 650.5 1124.1 651.4 1124.2 652.1 1124.3 652.4 1124.5 653.5 1124.7 654.6 1124.9 655.8 1125.1 656.6 1125.2 657.5 1125.3 657.5 1125.5 658.2 1125.7 658.3 1125.9 658.4 1126.1 658.5 1126.2 658.3 1126.3 658.4 1126.5 657.8 1126.5 657.8 1126.7 657.3 1126.7 657.3 1126.9 656.5 1126.9 656.4 1127.1 655.9 1127.1 656.0 1127.2 655.4 1127.3 655.3 1127.3 655.1 1127.5 654.9 1127.5 655.2 1127.7 655.0 1127.7 654.8 1127.9 654.9 1127.9 655.0 1128.1 655.5 1128.1 655.7 1128.2 656.4 1128.3 656.3 1128.3 656.5 1128.5 657.1 1128.5 657.3 1128.7 658.0 1128.7 658.1 1128.9 658.3 1128.9 658.5 1129.1 659.0 1129.2 659.0 1129.3 659.3 1129.5 659.6 1129.7 659.7 1129.9 659.7 1130.1 660.1 1130.2 660.3 1130.3 660.4 1130.5 660.5 1130.7 660.8 1130.9 660.7 1131.1 660.7 1131.2 660.7 1131.3 660.9 1131.5 661.0 1131.7 660.9 1131.9 661.0 1132.1 660.9 1132.2 661.0 1132.3 660.7 1132.5 660.5 1132.7 660.8 1132.9 661.0 1133.1 660.9 1133.2 660.7 1133.3 660.7 1133.5 660.8 1133.7 661.0 1133.9 661.0 1134.1 660.8 1134.2 660.8 1134.3 660.8 1134.5 660.8 1134.7 660.8 1134.9 661.1 1135.1 661.3 1135.2 661.2 1135.3 661.1 1135.5 661.0 1135.7 661.1 1136.2 661.4 1137.2 661.5 1138.2 661.5 1139.2 661.6 1140.2 661.4 1141.2 661.4 1142.2 661.4 1143.2 661.3 1144.2 661.5 1145.2 661.4 1146.2 661.2 1147.2 661.4 1148.2 661.4 1149.2 661.4 1150.2 661.6 1151.2 661.7 1152.2 661.5 1153.2 661.6 1154.2 661.3 1155.2 661.5 1156.2 661.5 1157.2 661.4 1158.2 661.6 1158.5 661.5 1158.7 661.2 1158.9 661.3 1159.1 661.4 1159.2 661.5 1159.3 661.6 1159.5 661.4 1159.7 661.2 1159.9 661.0 1160.1 661.0 1160.2 661.0 1160.3 661.1 1160.5 661.4 1160.7 661.3 1160.9 661.1 1161.1 661.1 1161.2 661.2 1161.3 661.3 1161.5 661.4 1161.7 661.4 1161.9 661.3 1162.1 661.1 1162.2 661.2 1162.3 661.3 1162.5 661.2 1162.7 661.3 1162.9 661.2 1163.1 661.2 1163.2 660.9 1163.3 661.1 1163.5 661.0 1163.7 660.9 1163.9 660.9 1164.1 661.0 1164.2 660.8 1164.3 660.7 1164.5 660.8 1164.7 660.9 1164.9 660.8 1165.1 660.8 1165.2 660.7 1165.3 660.4 1165.5 660.4 1165.7 660.4 1165.9 660.4 1166.1 660.1 1166.2 660.1 1166.3 660.1 1166.5 660.0 1166.7 659.9 1166.9 660.2 1167.1 660.1 1167.2 660.0 1167.3 660.0 1167.5 659.8 1167.7 659.8 1167.9 659.6 1168.1 659.3 1168.2 659.2 1168.3 659.3 1168.5 658.9 1168.7 658.2 1168.9 657.6 1169.1 656.6 1169.2 655.7 1169.3 655.5 1169.5 654.2 1169.7 652.7 1169.9 651.0 1170.1 649.9 1170.2 649.1 1170.3 648.9 1170.5 648.6 1170.7 648.9 1170.9 649.9 1171.1 651.3 1171.2 652.2 1171.3 652.6 1171.5 654.2 1171.7 655.5 1171.9 656.7 1172.1 657.5 1172.2 657.7 1172.3 657.8 1172.5 658.0 1172.7 658.1 1172.9 658.4 1173.1 658.3 1173.2 658.2 1173.3 657.8 1173.5 657.5 1173.5 657.3 1173.7 656.9 1173.7 656.8 1173.9 656.4 1173.9 656.0 1174.1 655.6 1174.1 655.5 1174.2 655.0 1174.3 654.7 1174.3 654.4 1174.5 654.0 1174.5 653.8 1174.7 654.0 1174.7 653.9 1174.9 654.1 1174.9 654.4 1175.1 654.8 1175.1 655.1 1175.2 655.8 1175.3 655.7 1175.3 656.0 1175.5 656.8 1175.5 656.8 1175.7 657.6 1175.7 657.6 1175.9 658.2 1175.9 658.4 1176.1 658.9 1176.2 659.2 1176.3 659.4 1176.5 659.8 1176.7 659.9 1176.9 660.2 1177.1 660.3 1177.2 660.4 1177.3 660.6 1177.5 660.5 1177.7 660.4 1177.9 660.3 1178.1 660.5 1178.2 660.7 1178.3 660.5 1178.5 660.7 1178.7 660.6 1178.9 660.7 1179.1 661.1 1179.2 661.2 1179.3 661.1 1179.5 661.2 1179.7 661.2 1179.9 660.8 1180.1 660.8 1180.2 661.0 1180.3 661.1 1180.5 660.9 1180.7 661.1 1180.9 661.2 1181.1 661.1 1181.2 661.2 1181.3 661.4 1181.5 661.4 1181.7 661.5 1181.9 661.1 1182.1 661.1 1182.2 661.3 1182.3 661.3 1182.5 661.3 1183.2 661.2 1184.2 661.3 1185.2 661.4 1186.2 661.2 1187.2 661.7 1188.2 661.6 1189.2 661.3 1190.2 661.2 1191.2 661.2 1192.2 661.3 1193.2 661.3 1194.2 661.4 1195.2 661.7 1196.2 661.5 1197.2 661.7 1198.2 661.8 1199.2 661.5 1200.2 661.4 1201.2 661.6 1202.2 661.7 1203.2 661.8 1204.2 661.8 1205.2 661.6 1206.2 661.7 1207.2 661.5 1208.2 661.7 1209.2 661.8 1210.2 661.8 1211.2 661.9 1212.2 661.9 1213.2 661.9 1214.2 661.8 1215.2 662.0 1216.2 661.9 1217.2 662.0 1218.2 661.8 1219.2 661.6 1220.2 661.6 1221.2 661.6 1222.2 661.6 1223.2 661.5 1224.2 661.7 1225.2 661.7 1226.2 661.8 1227.2 661.7 1228.2 661.7 1229.2 661.6 1230.2 661.5 1231.2 661.7 1232.2 661.8 1233.2 661.8 1234.2 661.9 1235.2 661.7 1236.2 661.9 1237.2 661.8 1238.2 661.7 1239.2 661.6 1240.2 661.8 1241.2 661.6 1242.2 661.8 1243.2 662.0 1244.2 661.6 1245.2 661.6 1246.2 661.5 1247.2 661.5 1248.2 661.5 1249.2 661.5 1250.2 661.7 1251.2 661.7 1252.2 661.5 1253.2 661.4 1254.2 661.3 1255.2 661.2 1256.2 661.5 1257.2 661.5 1258.0 661.6 1258.2 661.3 1258.2 661.4 1258.4 661.2 1258.6 661.3 1258.8 661.4 1259.0 661.5 1259.2 661.6 1259.2 661.7 1259.4 661.6 1259.6 661.7 1259.8 661.5 1260.0 661.8 1260.2 661.8 1260.2 661.5 1260.4 661.6 1260.6 661.7 1260.8 661.6 1261.0 661.7 1261.2 661.6 1261.2 661.8 1261.4 661.7 1261.6 661.5 1261.8 661.6 1262.0 661.7 1262.2 661.4 1262.2 661.3 1262.4 661.5 1262.6 661.3 1262.8 661.2 1263.0 661.3 1263.2 661.3 1263.2 661.4 1263.4 661.4 1263.6 661.5 1263.8 661.3 1264.0 661.2 1264.2 661.3 1264.2 661.3 1264.4 661.3 1264.6 661.4 1264.8 661.3 1265.0 661.1 1265.2 661.3 1265.2 661.6 1265.4 661.6 1265.6 661.5 1265.8 661.5 1266.0 661.4 1266.2 661.2 1266.2 661.0 1266.4 661.1 1266.6 661.0 1266.8 661.0 1267.0 661.1 1267.2 661.3 1267.2 661.5 1267.4 661.1 1267.6 661.0 1267.8 660.9 1268.0 660.9 1268.2 660.8 1268.2 660.8 1268.4 660.6 1268.6 660.2 1268.8 659.7 1269.0 659.7 1269.2 659.2 1269.2 659.3 1269.4 659.0 1269.6 658.7 1269.8 658.4 1270.0 658.4 1270.2 658.2 1270.2 658.4 1270.4 658.6 1270.6 658.8 1270.8 659.1 1271.0 659.5 1271.2 660.1 1271.2 660.1 1271.4 660.4 1271.6 660.5 1271.8 660.7 1272.0 660.9 1272.2 661.0 1272.2 660.9 1272.4 660.9 1272.6 661.1 1272.8 661.2 1273.0 661.1 1273.2 660.8 1273.2 660.8 1273.4 660.9 1273.4 660.7 1273.6 660.5 1273.6 660.5 1273.8 660.3 1273.8 660.2 1274.0 660.2 1274.0 660.1 1274.2 659.9 1274.2 659.9 1274.2 659.7 1274.4 659.7 1274.4 659.9 1274.6 660.0 1274.6 659.6 1274.8 659.7 1274.8 660.0 1275.0 659.9 1275.0 659.8 1275.2 660.1 1275.2 660.1 1275.2 660.0 1275.4 660.2 1275.4 660.3 1275.6 660.6 1275.6 660.6 1275.8 660.6 1275.8 660.4 1276.0 660.8 1276.2 661.0 1276.2 661.1 1276.4 661.2 1276.6 661.5 1276.8 661.6 1277.0 661.4 1277.2 661.5 1277.2 661.5 1277.4 661.7 1277.6 661.7 1277.8 661.9 1278.0 662.0 1278.2 661.8 1278.2 661.6 1278.4 661.6 1278.6 661.4 1278.8 661.5 1279.0 661.6 1279.2 661.5 1279.2 661.2 1279.4 661.2 1279.6 661.2 1279.8 661.1 1280.0 661.4 1280.2 661.5 1280.2 661.5 1280.4 661.7 1280.6 661.6 1280.8 661.9 1281.0 661.8 1281.2 661.8 1281.2 661.6 1281.4 661.7 1281.6 661.6 1281.8 661.4 1282.0 661.5 1282.2 661.4 1283.2 661.6 1284.2 661.4 1285.2 661.2 1286.2 661.6 1287.2 661.7 1288.2 661.6 1289.2 661.4 1290.2 661.4 1291.2 661.5 1292.2 661.9 1293.2 661.7 1294.2 661.9 1295.2 661.6 1296.2 661.8 1297.2 661.9 1298.2 661.7 1299.2 661.9 1300.2 661.8 1301.2 661.6 1302.2 661.6 1303.2 661.7 1304.2 661.6 1305.2 661.5 1306.2 661.6 1307.2 661.6 1308.2 661.4 1309.2 661.7 1310.2 662.0 1311.2 661.8 1312.2 661.8 1313.2 661.7 1314.2 661.6 1315.2 661.6 1316.2 661.5 1317.2 661.3 1318.2 661.4 1319.2 661.5 1320.2 661.5 1321.2 661.7 1322.2 661.8 1323.2 661.8 1324.2 662.0 1325.2 661.7 1326.2 661.8 1327.2 661.8 1328.0 661.8 1328.2 661.6 1328.2 661.7 1328.4 661.7 1328.6 661.7 1328.8 661.7 1329.0 661.5 1329.2 661.3 1329.2 661.4 1329.4 661.7 1329.6 661.7 1329.8 661.6 1330.0 661.5 1330.2 661.6 1330.2 661.6 1330.4 661.6 1330.6 661.5 1330.8 661.4 1331.0 661.3 1331.2 661.3 1331.2 661.3 1331.4 661.2 1331.6 661.4 1331.8 661.4 1332.0 661.4 1332.2 661.4 1332.2 661.6 1332.4 661.4 1332.6 661.5 1332.8 661.2 1333.0 661.5 1333.2 661.6 1333.2 661.8 1333.4 661.9 1333.6 661.7 1333.8 661.7 1334.0 661.6 1334.2 661.2 1334.2 661.4 1334.4 661.5 1334.6 661.6 1334.8 661.5 1335.0 661.3 1335.2 661.2 1335.2 660.7 1335.4 661.0 1335.6 661.0 1335.8 661.0 1336.0 661.2 1336.2 661.2 1336.2 660.8 1336.4 661.1 1336.6 660.9 1336.8 660.8 1337.0 660.7 1337.2 661.0 1337.2 660.8 1337.4 660.9 1337.6 660.9 1337.8 660.5 1338.0 660.6 1338.2 660.3 1338.2 660.5 1338.4 660.1 1338.6 659.9 1338.8 659.7 1339.0 658.6 1339.2 657.8 1339.2 657.6 1339.4 657.4 1339.6 657.0 1339.8 656.5 1340.0 656.4 1340.2 656.5 1340.2 656.4 1340.4 656.6 1340.6 657.3 1340.8 658.1 1341.0 658.6 1341.2 659.2 1341.2 659.2 1341.4 659.4 1341.6 659.9 1341.8 660.2 1342.0 660.4 1342.2 660.4 1342.2 660.4 1342.4 660.6 1342.6 660.5 1342.8 660.4 1343.0 660.3 1343.2 660.3 1343.2 660.6 1343.4 660.4 1343.6 660.1 1343.7 660.0 1343.8 659.9 1343.9 659.7 1344.0 659.5 1344.1 659.4 1344.2 659.5 1344.2 659.4 1344.3 659.2 1344.4 659.2 1344.5 659.1 1344.6 659.0 1344.7 658.8 1344.8 658.8 1344.9 658.6 1345.0 658.6 1345.1 658.7 1345.2 658.8 1345.2 658.9 1345.3 659.4 1345.4 659.3 1345.5 659.3 1345.6 659.3 1345.7 659.6 1345.8 659.7 1345.9 660.0 1346.0 660.2 1346.1 660.3 1346.2 660.4 1346.2 660.8 1346.4 661.0 1346.6 661.1 1346.8 661.3 1347.0 661.2 1347.2 661.0 1347.2 660.8 1347.4 661.1 1347.6 661.2 1347.8 661.2 1348.0 661.1 1348.2 661.3 1348.2 661.2 1348.4 661.1 1348.6 661.3 1348.8 661.4 1349.0 661.2 1349.2 661.5 1349.2 661.4 1349.4 661.3 1349.6 661.2 1349.8 661.3 1350.0 661.6 1350.2 661.5 1350.2 661.6 1350.4 661.4 1350.6 661.6 1350.8 661.7 1351.0 661.8 1351.2 661.9 1351.2 661.8 1351.4 661.4 1351.6 661.3 1351.8 661.3 1352.0 661.5 1352.2 661.5 1353.2 661.6 1354.2 661.6 1355.2 661.6 1356.2 661.6 1357.2 661.5 1358.2 661.6 1359.2 661.7 1360.2 661.9 1361.2 662.0 1362.2 661.8 1363.2 661.7 1364.2 661.6 1365.2 661.4 1366.2 661.6 1367.2 661.8 1368.2 661.8 1369.2 661.7 1370.2 661.8 1371.2 661.9 1372.2 662.0 1373.2 661.6 1374.2 662.0 1375.2 661.8 1376.2 661.9 1377.2 661.7 1378.2 661.9 1379.2 662.2 1380.2 662.1 1381.2 661.9 1382.2 662.1 1383.2 661.9 1384.2 661.8 1385.2 661.7 1386.2 661.7 1387.2 661.7 1388.2 661.6 1389.2 661.8 1390.2 661.8 1391.2 661.6 1392.2 661.5 1393.2 661.6 1394.2 661.6 1395.2 661.8 1396.2 661.6 1397.2 661.7 1398.2 661.7 1399.2 661.6 1400.2 661.8 1401.2 661.8 1402.2 661.7 1403.2 661.6" stroke="#1A6FDF"/><path d="M89.2 549.2L90.2 549.2 91.2 549.1 92.2 549.0 93.2 549.1 94.2 549.1 95.2 549.3 96.2 549.2 97.2 549.3 98.2 549.3 99.2 549.1 100.2 549.2 101.2 549.3 102.2 549.4 103.2 549.4 104.2 549.6 105.2 549.3 106.2 549.2 107.2 549.3 108.2 549.3 109.2 549.3 110.2 549.2 111.2 549.3 112.2 549.5 113.2 549.5 114.2 549.6 115.2 549.8 116.2 549.9 117.2 549.8 118.2 549.5 119.2 549.6 120.2 549.3 121.2 549.3 122.2 549.6 123.2 549.3 124.2 549.6 125.2 549.6 126.2 549.8 127.2 550.0 128.2 550.0 129.2 549.8 130.2 549.9 131.2 549.8 132.2 549.8 133.2 549.9 134.2 550.1 135.2 549.8 136.2 549.9 137.2 550.2 138.2 550.1 139.2 550.4 140.2 550.4 141.2 550.1 142.2 550.2 143.2 550.2 144.2 550.1 145.2 550.1 146.2 549.9 147.2 550.2 148.2 550.3 149.2 550.2 150.2 550.4 151.2 550.5 152.2 550.4 153.2 550.4 154.2 550.4 155.2 550.4 156.2 550.6 157.2 550.6 158.2 550.6 159.2 550.4 160.2 550.1 161.2 550.1 162.2 550.5 163.2 550.5 164.2 550.6 165.2 550.3 166.2 550.2 167.2 550.4 168.2 550.6 169.2 550.4 170.2 550.2 171.2 550.2 172.2 550.4 173.2 550.1 174.2 550.6 175.2 550.4 176.2 550.6 177.2 550.7 178.2 550.7 179.2 550.7 180.2 550.6 181.2 550.9 182.2 551.0 183.2 550.9 184.2 550.7 185.2 550.7 186.2 550.4 187.2 550.5 188.2 550.5 189.2 550.8 190.2 550.9 191.2 550.7 192.2 550.6 193.2 550.8 194.2 550.9 195.2 551.0 196.2 551.0 197.2 551.0 198.2 551.0 199.2 551.2 200.2 551.1 201.2 550.9 202.2 551.1 203.2 551.1 204.2 551.0 205.2 551.2 206.2 551.2 207.2 551.0 208.2 550.9 209.2 551.2 210.2 551.3 211.2 551.0 212.2 550.9 213.2 551.2 214.2 551.6 215.2 551.6 216.2 551.4 217.2 551.2 218.2 551.3 219.2 551.5 220.2 551.4 221.2 551.3 222.2 551.1 223.2 550.9 224.2 550.9 225.2 550.7 226.2 551.0 227.2 551.0 228.2 551.4 229.2 551.5 230.2 551.3 231.2 551.5 232.2 551.2 233.2 550.6 234.2 550.5 235.2 550.8 236.2 551.0 237.2 551.2 238.2 551.2 239.2 551.2 240.2 551.3 241.2 551.3 242.2 551.6 243.2 551.5 244.2 551.4 245.2 551.5 246.2 551.5 247.2 551.4 248.2 551.4 249.2 551.4 250.2 551.3 251.2 551.5 252.2 551.6 253.2 551.5 254.2 551.7 255.2 551.7 256.2 551.7 257.2 551.7 258.2 551.8 259.2 551.8 260.2 551.6 261.2 551.7 262.2 551.7 263.2 551.6 264.2 551.6 265.2 551.8 266.2 551.8 267.2 552.1 268.2 551.9 269.2 551.9 270.2 552.0 271.2 551.8 272.2 551.8 273.2 551.9 274.2 552.1 275.2 552.0 276.2 551.9 277.2 551.9 278.2 552.0 279.2 551.8 280.2 552.0 281.2 552.0 282.2 551.9 283.2 551.8 284.2 551.9 285.2 551.6 286.2 551.6 287.2 551.4 288.2 551.6 289.2 551.7 290.2 551.7 291.2 551.7 292.2 551.9 293.2 551.6 294.2 551.5 295.2 551.7 296.2 552.0 297.2 552.0 298.2 551.8 299.2 551.6 300.2 551.9 301.2 551.9 302.2 552.0 303.2 551.8 304.2 551.5 305.2 551.8 306.2 552.2 307.2 552.2 308.2 552.2 309.2 552.2 310.2 552.1 311.2 552.1 312.2 552.1 313.2 552.0 314.2 552.1 315.2 551.9 316.2 552.0 317.2 552.3 318.2 552.4 319.2 552.2 320.2 552.3 321.2 552.3 322.2 552.4 323.2 552.4 324.2 552.3 325.2 552.4 326.2 552.5 327.2 552.2 328.2 552.2 329.2 552.2 330.2 552.0 331.2 552.1 332.2 552.1 333.2 551.9 334.2 552.3 335.2 552.3 336.2 552.3 337.2 552.3 338.2 552.2 339.2 552.1 340.2 552.4 341.2 552.3 342.2 552.1 343.2 552.2 344.2 552.4 345.2 552.2 346.2 552.2 347.2 552.4 348.2 552.5 349.2 552.3 350.2 552.2 351.2 552.2 352.2 552.2 353.2 552.1 354.2 552.2 355.2 552.1 356.2 552.3 357.2 552.4 358.2 552.3 359.2 552.3 360.2 552.3 361.2 552.4 362.2 552.5 363.2 552.6 364.2 552.2 365.2 552.4 366.2 552.4 367.2 552.3 368.2 552.2 369.2 552.4 370.2 552.7 371.2 552.6 372.2 552.5 373.2 552.4 374.2 552.5 375.2 552.5 376.2 552.4 377.2 552.6 378.2 552.6 379.2 552.6 380.2 552.5 381.2 552.4 382.2 552.3 383.2 552.3 384.2 552.3 385.2 552.5 386.2 552.3 387.2 552.6 388.2 552.7 389.2 552.5 390.2 552.3 391.2 552.1 392.2 552.3 393.2 552.4 394.2 552.6 395.2 552.5 396.2 552.5 397.2 552.3 398.2 552.1 399.2 552.2 400.2 552.1 401.2 552.1 402.2 551.9 403.2 552.0 403.2 551.7 403.4 551.6 403.6 551.9 403.8 552.0 404.0 551.8 404.2 551.8 404.2 551.9 404.4 552.0 404.6 552.1 404.8 552.1 405.0 551.8 405.2 552.1 405.2 551.9 405.4 551.9 405.6 551.9 405.8 552.0 406.0 551.9 406.2 551.5 406.2 551.3 406.4 551.4 406.6 551.3 406.8 551.4 407.0 551.6 407.2 551.7 407.2 551.4 407.4 551.4 407.6 551.4 407.8 551.4 408.0 551.4 408.2 551.6 408.2 551.5 408.4 551.3 408.6 551.2 408.8 551.0 409.0 550.8 409.2 550.7 409.2 550.5 409.4 550.4 409.6 550.4 409.8 550.2 410.0 550.1 410.2 549.9 410.2 549.8 410.4 549.5 410.6 549.6 410.8 549.8 411.0 549.6 411.2 549.3 411.2 549.5 411.4 549.4 411.6 548.9 411.8 548.7 412.0 548.5 412.2 548.2 412.2 548.2 412.4 547.8 412.6 547.5 412.8 547.2 413.0 546.2 413.2 545.5 413.2 545.4 413.4 544.2 413.6 542.4 413.8 540.3 414.0 537.6 414.2 534.3 414.2 533.4 414.4 530.5 414.6 526.5 414.8 523.0 415.0 520.4 415.2 519.0 415.2 518.9 415.4 518.8 415.6 519.7 415.6 519.9 415.8 521.4 415.8 521.5 416.0 523.1 416.0 523.6 416.2 524.8 416.2 525.3 416.2 525.5 416.4 526.2 416.4 526.5 416.6 527.7 416.6 527.7 416.8 529.2 416.8 529.7 417.0 531.3 417.0 531.7 417.2 533.6 417.2 534.0 417.2 534.1 417.4 535.9 417.4 536.4 417.6 538.0 417.6 538.6 417.8 540.4 417.8 540.9 418.0 542.4 418.0 542.6 418.2 543.8 418.2 544.2 418.4 545.1 418.6 546.2 418.8 547.0 419.0 547.5 419.2 548.0 419.2 548.1 419.4 548.3 419.6 548.8 419.8 549.1 420.0 549.3 420.2 549.3 420.2 549.5 420.4 549.7 420.6 549.6 420.8 549.7 421.0 550.1 421.2 550.3 421.2 550.2 421.4 550.3 421.6 550.4 421.8 550.1 422.0 550.5 422.2 550.8 422.2 550.7 422.4 550.7 422.6 550.9 422.8 551.0 423.0 551.2 423.2 551.1 423.2 551.1 423.4 551.0 423.6 551.1 423.8 551.0 424.0 551.0 424.2 551.1 424.2 551.1 424.4 551.2 424.6 551.3 424.8 551.4 425.0 551.5 425.2 551.5 425.2 551.4 425.4 551.4 425.6 551.5 425.8 551.7 426.0 551.9 426.2 551.6 426.2 551.4 426.4 551.4 426.6 551.6 426.8 551.4 427.0 551.7 427.2 551.7 427.2 551.9 428.2 552.0 429.2 551.9 430.2 552.0 431.2 552.1 432.2 552.3 433.2 552.2 434.2 552.1 435.2 552.2 436.2 552.1 437.2 552.2 438.2 552.2 439.2 552.3 440.2 552.1 441.2 552.2 442.2 552.5 443.2 552.4 444.2 552.1 445.0 551.8 445.2 551.5 445.2 551.6 445.4 551.9 445.6 551.8 445.8 551.8 446.0 551.6 446.2 551.4 446.2 551.7 446.4 551.6 446.6 551.7 446.8 551.5 447.0 551.4 447.2 551.2 447.2 551.2 447.4 551.2 447.6 551.1 447.8 551.0 448.0 551.0 448.2 550.8 448.2 550.8 448.4 551.1 448.6 550.8 448.8 550.8 449.0 550.5 449.2 550.3 449.2 550.5 449.4 550.3 449.6 550.4 449.8 550.5 450.0 550.2 450.2 550.2 450.2 550.2 450.4 549.7 450.6 549.6 450.8 549.4 451.0 549.5 451.2 549.2 451.2 549.0 451.4 548.7 451.6 548.7 451.8 548.5 452.0 548.4 452.2 547.9 452.2 548.0 452.4 547.8 452.6 547.3 452.8 546.8 453.0 546.8 453.2 546.4 453.2 546.2 453.4 545.9 453.6 545.1 453.8 544.7 454.0 543.8 454.2 542.4 454.2 542.1 454.4 541.0 454.6 539.1 454.8 536.1 455.0 532.3 455.2 526.4 455.2 524.8 455.4 518.4 455.6 507.7 455.8 494.1 456.0 477.4 456.2 458.9 456.2 454.1 456.4 439.7 456.6 421.8 456.8 408.4 457.0 401.1 457.2 401.0 457.2 401.8 457.4 406.6 457.6 414.0 457.6 415.9 457.8 423.8 457.8 426.0 458.0 433.3 458.0 434.8 458.2 440.6 458.2 442.0 458.2 443.6 458.4 446.8 458.4 447.7 458.6 451.8 458.6 453.0 458.8 458.4 458.8 459.7 459.0 466.3 459.0 468.2 459.2 476.5 459.2 478.8 459.2 481.3 459.4 487.6 459.4 489.8 459.6 498.8 459.6 500.7 459.8 508.8 459.8 510.8 460.0 517.9 460.0 519.3 460.2 526.5 460.2 528.1 460.4 532.0 460.6 536.3 460.8 539.4 461.0 541.5 461.2 543.0 461.2 543.2 461.4 544.0 461.6 544.8 461.8 545.4 462.0 546.2 462.2 546.7 462.2 546.9 462.4 547.2 462.6 547.7 462.8 547.7 463.0 548.3 463.2 548.4 463.2 548.3 463.4 548.5 463.6 548.6 463.8 548.9 464.0 549.3 464.2 549.4 464.2 549.6 464.4 549.6 464.6 549.8 464.8 550.1 465.0 550.1 465.2 550.1 465.2 550.2 465.4 550.3 465.6 550.4 465.8 550.4 466.0 550.6 466.2 550.6 466.2 550.6 466.4 550.6 466.6 550.8 466.8 550.9 467.0 551.0 467.2 551.1 467.2 551.1 467.4 551.0 467.6 551.3 467.8 551.2 468.0 551.3 468.2 551.2 468.2 551.3 468.4 551.2 468.6 551.2 468.8 551.5 469.0 551.6 469.2 551.7 470.2 551.8 471.2 552.0 472.2 552.0 473.2 552.1 474.2 552.0 475.2 552.0 476.2 552.1 477.2 551.8 478.2 551.8 479.2 551.8 480.2 552.2 481.2 552.0 482.2 551.7 483.2 551.9 484.2 551.8 485.2 551.8 486.2 551.7 486.8 551.9 487.0 551.8 487.2 551.8 487.2 551.7 487.4 551.6 487.6 551.6 487.8 551.5 488.0 551.7 488.2 551.8 488.2 551.6 488.4 551.5 488.6 551.4 488.8 551.4 489.0 551.4 489.2 551.3 489.2 551.0 489.4 551.3 489.6 551.4 489.8 551.2 490.0 551.1 490.2 551.1 490.2 551.2 490.4 551.0 490.6 550.8 490.8 550.6 491.0 550.7 491.2 550.5 491.2 550.3 491.4 550.4 491.6 550.3 491.8 550.0 492.0 550.0 492.2 549.8 492.2 549.7 492.4 549.6 492.6 549.4 492.8 549.2 493.0 549.0 493.2 548.8 493.2 548.8 493.4 548.4 493.6 548.4 493.8 548.1 494.0 547.8 494.2 547.4 494.2 547.5 494.4 547.1 494.6 546.4 494.8 546.0 495.0 545.1 495.2 544.6 495.2 544.7 495.4 544.0 495.6 543.0 495.8 542.0 496.0 540.9 496.2 539.4 496.2 538.8 496.4 536.8 496.6 533.1 496.8 528.3 497.0 520.9 497.2 510.8 497.2 507.8 497.4 497.2 497.6 479.8 497.8 459.2 498.0 436.1 498.2 412.4 498.2 406.7 498.4 390.4 498.6 373.6 498.8 365.0 499.0 366.1 499.2 375.1 499.2 378.0 499.4 387.8 499.5 393.4 499.6 401.3 499.7 406.3 499.8 413.1 499.9 416.5 500.0 421.3 500.1 423.9 500.2 427.3 500.2 428.4 500.3 429.1 500.4 431.4 500.5 433.3 500.6 436.6 500.7 439.2 500.8 444.3 500.9 448.2 501.0 454.9 501.1 459.9 501.2 467.7 501.2 471.0 501.3 473.0 501.4 480.9 501.5 486.1 501.6 493.8 501.7 499.0 501.8 505.6 501.9 509.7 502.0 515.6 502.2 523.5 502.2 525.3 502.4 529.5 502.6 534.2 502.8 537.4 503.0 539.3 503.2 540.8 503.2 541.1 503.4 542.0 503.6 542.9 503.8 543.6 504.0 544.1 504.2 544.5 504.2 544.6 504.4 544.6 504.6 544.6 504.8 544.6 505.0 544.8 505.2 544.7 505.2 544.5 505.4 544.5 505.6 544.5 505.8 544.1 506.0 543.9 506.2 543.8 506.2 543.8 506.4 543.3 506.6 543.0 506.8 542.6 507.0 542.6 507.2 542.1 507.2 541.7 507.4 541.4 507.6 541.1 507.8 540.8 508.0 540.8 508.2 540.6 508.2 540.6 508.4 541.1 508.6 541.1 508.8 541.2 509.0 541.4 509.2 541.4 509.2 541.8 509.4 542.1 509.6 542.7 509.8 543.0 510.0 543.6 510.2 544.4 510.2 544.4 510.4 545.1 510.6 545.8 510.8 546.3 511.2 547.4 512.2 549.6 513.2 550.5 514.2 551.4 515.2 551.5 516.2 551.8 517.2 552.3 518.2 552.4 519.2 552.2 520.2 552.2 521.2 552.2 522.2 552.4 523.2 552.4 524.2 552.7 525.2 552.8 526.2 553.1 527.2 553.2 528.2 553.0 529.2 553.2 530.2 553.3 531.2 553.0 532.2 553.0 533.2 552.9 534.2 552.8 535.2 553.0 536.2 553.1 537.2 553.0 538.2 552.8 539.2 553.1 540.2 553.3 541.2 553.4 542.2 553.1 543.2 553.1 544.2 553.1 545.2 553.1 546.2 553.3 547.2 553.1 548.2 553.1 549.2 553.2 550.2 553.3 551.2 553.3 552.2 553.3 553.2 553.4 554.2 553.4 555.2 553.4 556.2 553.4 557.2 553.4 558.2 553.5 559.2 553.5 560.2 553.5 561.2 553.5 562.2 553.3 563.2 553.3 564.2 553.3 565.2 553.2 566.2 553.2 567.2 553.2 568.2 553.2 569.2 553.3 570.2 553.7 571.2 553.9 572.2 553.7 573.2 553.6 574.2 553.5 575.2 553.4 576.2 553.5 577.2 553.5 578.2 553.5 579.2 553.6 580.2 553.5 581.2 553.6 582.2 553.5 583.2 553.4 584.2 553.6 585.2 553.4 586.2 553.5 587.2 553.4 588.2 553.3 589.2 553.5 590.2 553.6 591.2 553.5 592.2 553.4 593.2 553.2 594.2 553.2 595.2 553.3 596.2 553.5 597.2 553.5 598.2 553.6 599.2 553.5 600.2 553.6 601.2 553.7 602.2 553.6 603.2 553.7 604.2 553.8 605.2 553.5 606.2 553.3 607.2 553.3 608.2 553.3 609.2 553.3 610.2 553.4 611.2 553.3 612.2 553.6 613.2 553.6 614.2 553.6 615.2 553.5 616.2 553.5 617.2 553.5 618.2 553.5 619.2 553.6 620.2 553.7 621.2 553.5 622.2 553.3 623.2 553.3 624.2 553.4 625.2 553.2 626.2 553.4 627.2 553.5 628.2 553.3 629.2 553.5 630.2 553.6 631.2 553.6 632.2 553.7 633.2 553.7 634.2 553.8 635.2 553.9 636.2 553.7 637.2 553.6 638.2 553.6 639.2 553.5 640.2 553.5 641.2 553.6 642.2 553.7 643.2 553.4 644.2 553.4 645.2 553.1 646.2 553.3 647.2 553.4 648.2 553.6 649.2 553.7 650.2 553.6 651.2 553.6 652.2 553.6 653.2 553.7 654.2 553.8 655.2 553.7 656.2 553.5 657.2 553.6 658.2 553.6 659.2 553.4 660.2 553.5 661.2 553.4 662.2 553.5 663.2 553.7 664.2 553.7 665.2 553.5 666.2 553.6 667.2 553.6 668.2 553.6 669.2 553.7 670.2 553.7 671.2 553.7 672.2 553.7 673.2 553.7 674.2 553.5 675.2 553.4 676.2 553.6 677.2 553.8 678.2 553.6 679.2 553.7 680.2 553.7 681.2 553.6 682.2 553.6 683.2 553.7 684.2 553.8 685.2 553.9 686.2 553.7 687.2 553.7 688.2 553.5 689.2 553.5 690.2 553.4 691.2 553.4 692.2 553.3 693.2 553.4 694.2 553.4 695.2 553.4 696.2 553.5 696.7 553.1 696.9 553.0 697.1 553.0 697.2 552.9 697.3 552.9 697.5 552.7 697.7 552.7 697.9 553.0 698.1 552.9 698.2 552.8 698.3 552.9 698.5 552.9 698.7 552.7 698.9 552.6 699.1 552.8 699.2 552.7 699.3 552.5 699.5 552.8 699.7 552.7 699.9 552.5 700.1 552.2 700.2 552.2 700.3 552.1 700.5 552.2 700.7 552.4 700.9 552.4 701.1 552.3 701.2 552.3 701.3 552.2 701.5 551.8 701.7 552.0 701.9 551.8 702.1 551.7 702.2 551.9 702.3 551.9 702.5 551.9 702.7 551.9 702.9 551.8 703.1 551.6 703.2 551.8 703.3 551.4 703.5 551.4 703.7 551.5 703.9 551.2 704.1 550.9 704.2 550.9 704.3 550.9 704.5 550.7 704.7 550.4 704.9 550.2 705.1 549.7 705.2 549.8 705.3 549.9 705.5 549.5 705.7 549.2 705.9 548.8 706.1 548.3 706.2 547.8 706.3 547.6 706.5 547.1 706.7 545.7 706.9 544.1 707.1 541.5 707.2 539.3 707.3 538.4 707.5 534.4 707.7 530.0 707.9 525.0 708.1 519.9 708.2 516.2 708.3 514.9 708.5 511.5 708.7 510.1 708.9 511.2 709.1 513.5 709.2 516.4 709.3 517.5 709.5 521.8 709.7 525.3 709.9 528.4 710.0 529.6 710.1 529.8 710.2 530.7 710.2 530.4 710.3 530.4 710.4 530.3 710.5 530.2 710.6 529.7 710.7 529.4 710.8 528.8 710.9 528.6 711.0 528.3 711.1 528.5 711.2 528.3 711.2 528.3 711.3 528.5 711.4 529.3 711.5 530.0 711.6 531.5 711.7 532.4 711.8 533.9 711.9 535.2 712.0 537.1 712.1 538.3 712.2 540.1 712.2 540.1 712.3 540.9 712.4 542.3 712.5 543.0 712.7 544.9 712.9 546.3 713.1 547.2 713.2 547.9 713.3 547.9 713.5 548.6 713.7 549.2 713.9 549.4 714.1 549.7 714.2 549.7 714.3 549.8 714.5 550.1 714.7 550.3 714.9 550.6 715.1 550.8 715.2 550.9 715.3 550.7 715.5 551.2 715.7 551.3 715.9 551.6 716.1 551.5 716.2 551.4 716.3 551.6 716.5 551.6 716.7 551.8 716.9 552.0 717.1 552.1 717.2 552.2 717.3 552.2 717.5 552.0 717.7 552.2 717.9 552.5 718.1 552.5 718.2 552.6 718.3 552.6 718.5 552.6 718.7 552.7 718.9 552.5 719.1 552.2 719.2 552.4 719.3 552.6 719.5 552.7 719.7 552.7 719.9 552.7 720.1 552.6 720.2 552.7 720.3 552.8 720.5 553.0 720.7 552.9 721.2 553.2 722.2 553.1 723.2 553.3 724.2 553.2 725.2 553.5 726.2 553.6 727.2 553.4 728.2 553.5 729.2 553.4 730.2 553.7 731.2 553.8 732.2 553.8 733.2 553.8 734.2 553.7 735.2 553.6 736.2 553.5 737.2 553.6 738.2 553.8 739.2 553.8 740.2 553.9 741.2 554.0 742.2 554.0 743.2 553.7 744.2 553.6 745.2 553.6 746.2 553.4 747.2 553.3 748.2 553.5 749.2 553.8 750.2 554.1 751.2 554.0 752.2 554.0 753.2 554.0 754.2 553.8 755.2 553.9 756.2 553.9 757.2 553.9 758.2 553.6 759.2 553.7 760.2 553.9 761.2 553.8 762.2 553.8 763.2 553.9 764.2 554.1 765.2 554.2 766.2 554.1 767.2 553.9 768.2 554.0 769.2 553.8 770.2 553.7 771.2 553.6 772.2 553.7 773.2 553.7 774.2 553.6 775.2 553.9 776.2 553.7 777.2 553.6 778.2 553.7 779.2 553.9 780.2 553.8 781.2 553.7 782.2 554.1 783.2 553.9 784.2 554.3 785.2 554.0 786.2 554.1 787.2 553.9 788.2 554.1 789.2 554.1 790.2 554.0 791.2 553.9 792.2 554.1 793.2 554.2 794.2 554.1 795.2 554.0 796.2 553.9 797.2 554.0 798.2 553.9 799.2 554.0 800.2 553.7 801.2 553.8 802.2 554.0 803.2 554.0 804.2 554.2 805.2 554.0 806.2 554.1 807.2 554.1 808.2 554.0 809.2 554.0 810.2 554.2 811.2 553.8 812.2 553.9 813.2 553.9 814.2 554.0 815.2 554.0 816.2 553.9 817.2 554.0 818.2 554.1 819.2 553.9 820.2 554.0 821.2 553.9 822.2 553.9 823.2 553.9 824.2 554.2 825.2 554.0 826.2 554.1 827.2 554.1 828.2 554.2 829.2 554.1 830.2 553.9 831.2 554.0 832.2 553.7 833.2 553.8 834.2 554.0 835.2 554.1 836.2 554.1 837.2 554.0 838.2 553.9 839.2 554.1 840.2 553.8 841.2 553.7 842.2 553.7 843.2 553.8 844.2 553.9 845.2 553.9 846.2 553.9 847.2 553.9 848.2 554.1 849.2 554.1 850.2 553.8 851.2 554.0 852.2 554.0 853.2 554.0 854.2 554.1 855.2 554.1 856.2 554.1 857.2 554.1 858.2 553.8 859.2 553.9 860.2 553.9 861.2 553.8 862.2 553.8 863.2 553.9 864.2 553.8 865.2 553.7 866.2 553.8 867.2 553.7 868.2 553.8 869.2 554.0 870.2 554.2 871.2 554.0 872.2 554.0 873.2 553.8 874.2 553.8 875.2 553.8 875.3 553.7 875.5 553.8 875.7 553.7 875.9 553.7 876.1 553.7 876.2 553.7 876.3 553.7 876.5 553.7 876.7 553.6 876.9 553.6 877.1 553.7 877.2 553.8 877.3 553.6 877.5 553.5 877.7 553.5 877.9 553.3 878.1 553.5 878.2 553.7 878.3 553.6 878.5 553.5 878.7 553.4 878.9 553.4 879.1 553.3 879.2 553.6 879.3 553.4 879.5 553.5 879.7 553.6 879.9 553.5 880.1 553.6 880.2 553.2 880.3 552.9 880.5 553.1 880.7 553.2 880.9 553.2 881.1 553.2 881.2 553.0 881.3 552.9 881.5 552.9 881.7 552.9 881.9 553.0 882.1 553.2 882.2 553.0 882.3 552.7 882.5 552.9 882.7 552.7 882.9 552.6 883.1 552.7 883.2 552.3 883.3 552.2 883.5 552.6 883.7 552.4 883.9 552.4 884.1 552.4 884.2 552.1 884.3 552.1 884.5 552.1 884.7 552.0 884.9 551.8 885.1 551.8 885.2 551.5 885.3 551.2 885.5 550.3 885.7 549.6 885.9 548.3 886.1 546.6 886.2 545.3 886.3 545.0 886.5 543.3 886.7 541.4 886.9 539.9 887.1 538.7 887.2 538.2 887.3 538.2 887.5 538.5 887.7 539.7 887.9 541.2 888.1 543.0 888.2 544.1 888.3 544.5 888.5 545.9 888.7 546.8 888.9 547.4 889.1 547.7 889.2 547.8 889.2 547.3 889.3 547.5 889.4 547.3 889.5 547.1 889.6 547.0 889.7 546.7 889.8 546.1 889.9 545.7 890.0 545.6 890.1 545.2 890.2 545.1 890.2 545.2 890.3 545.3 890.4 545.1 890.5 544.9 890.6 545.1 890.7 545.4 890.8 546.0 890.9 546.4 891.0 547.0 891.1 547.5 891.2 547.7 891.2 548.0 891.3 548.2 891.4 548.7 891.5 549.0 891.6 549.6 891.7 549.8 891.9 550.5 892.1 551.2 892.2 551.5 892.3 551.4 892.5 552.0 892.7 552.1 892.9 552.4 893.1 552.5 893.2 552.3 893.3 552.3 893.5 552.5 893.7 552.6 893.9 552.9 894.1 552.7 894.2 552.7 894.3 552.8 894.5 553.1 894.7 553.2 894.9 553.0 895.1 553.1 895.2 553.2 895.3 553.4 895.5 553.6 895.7 553.5 895.9 553.5 896.1 553.5 896.2 553.4 896.3 553.4 896.5 553.4 896.7 553.4 896.9 553.5 897.1 553.5 897.2 553.4 897.3 553.6 897.5 553.7 897.7 553.5 897.9 553.6 898.1 553.4 898.2 553.5 898.3 553.4 898.5 553.4 898.7 553.5 898.9 553.4 899.1 553.6 899.2 553.8 899.3 553.7 900.2 553.6 901.2 553.7 902.2 553.7 903.2 553.6 904.2 554.0 905.2 553.9 906.2 554.1 907.2 554.2 908.2 554.2 909.2 554.1 910.2 554.0 911.2 554.1 912.2 553.9 913.2 554.0 914.2 553.9 915.2 553.9 916.2 553.5 917.2 553.6 918.2 553.8 919.2 553.9 920.2 554.0 921.2 554.0 922.2 554.3 923.2 554.1 924.2 553.5 925.2 553.8 926.2 553.9 927.2 553.9 928.2 554.1 929.2 554.3 930.2 554.2 931.2 554.0 932.2 554.1 933.2 554.0 934.2 553.8 935.2 553.7 936.2 553.8 937.2 553.7 938.2 553.8 939.2 553.9 940.2 553.6 941.2 554.0 942.2 554.2 943.2 554.1 944.2 554.1 945.2 554.0 946.2 553.6 947.2 553.8 948.2 553.7 949.2 553.8 950.2 553.7 951.2 553.7 952.2 553.7 953.2 553.7 954.2 553.5 955.2 553.8 956.2 553.7 957.2 554.0 958.2 554.1 959.2 554.0 960.2 554.0 961.2 554.0 962.2 554.0 963.2 554.0 964.2 554.0 965.2 553.9 966.2 554.1 967.2 553.9 968.2 553.6 969.2 553.4 970.2 553.5 971.2 553.8 972.2 554.1 973.2 553.9 974.2 553.8 975.2 553.7 976.2 553.7 977.2 553.6 978.2 553.7 979.2 553.7 980.2 553.6 981.2 553.5 981.8 553.5 982.0 553.4 982.2 553.5 982.2 553.6 982.4 553.6 982.6 553.7 982.8 553.4 983.0 553.4 983.2 553.3 983.2 553.2 983.4 553.2 983.6 553.1 983.8 553.2 984.0 553.1 984.2 553.2 984.2 553.1 984.4 553.0 984.6 553.1 984.8 553.2 985.0 553.1 985.2 552.7 985.2 552.9 985.4 552.9 985.6 552.7 985.8 552.4 986.0 552.2 986.2 552.1 986.2 552.5 986.4 552.4 986.6 552.4 986.8 552.4 987.0 552.5 987.2 552.4 987.2 552.3 987.4 552.3 987.6 552.3 987.8 552.2 988.0 551.9 988.2 551.6 988.2 551.8 988.4 551.5 988.6 551.4 988.8 551.0 989.0 550.8 989.2 550.9 989.2 550.8 989.4 550.9 989.6 550.7 989.8 550.4 990.0 550.4 990.2 550.1 990.2 550.0 990.4 550.0 990.6 549.5 990.8 549.0 991.0 548.6 991.2 548.1 991.2 547.6 991.4 547.1 991.6 546.1 991.8 544.5 992.0 542.5 992.2 539.2 992.2 538.6 992.4 535.7 992.6 531.0 992.8 524.8 993.0 518.3 993.2 511.4 993.2 509.6 993.4 505.3 993.6 500.9 993.8 499.2 994.0 500.6 994.2 504.8 994.2 506.2 994.4 510.7 994.6 517.1 994.8 523.4 995.0 528.7 995.2 532.8 995.2 533.8 995.4 535.9 995.6 537.5 995.8 537.9 996.0 537.2 996.1 536.5 996.2 535.3 996.2 534.7 996.3 534.3 996.4 533.0 996.5 531.8 996.6 530.1 996.7 529.3 996.8 527.3 996.9 526.4 997.0 525.2 997.1 524.6 997.2 524.1 997.2 524.1 997.3 524.1 997.4 524.6 997.5 525.0 997.6 526.5 997.7 527.8 997.8 529.4 997.9 530.8 998.0 532.7 998.1 534.3 998.2 536.3 998.2 537.2 998.3 537.6 998.4 539.3 998.5 540.6 998.6 542.2 998.8 544.2 999.0 546.1 999.2 547.2 999.2 547.8 999.4 548.5 999.6 549.3 999.8 549.6 1000.0 550.3 1000.2 550.5 1000.2 550.5 1000.4 550.6 1000.6 550.7 1000.8 550.9 1001.0 551.1 1001.2 551.1 1001.2 551.4 1001.4 551.3 1001.6 551.5 1001.8 551.8 1002.0 551.9 1002.2 552.0 1002.2 552.0 1002.4 551.9 1002.6 552.3 1002.8 552.1 1003.0 552.3 1003.2 552.2 1003.2 552.4 1003.4 552.5 1003.6 552.7 1003.8 552.7 1004.0 552.7 1004.2 552.7 1004.2 552.7 1004.4 552.7 1004.6 552.9 1004.8 552.9 1005.0 552.9 1005.2 553.2 1005.2 553.0 1005.4 553.0 1005.6 553.4 1005.8 553.1 1006.2 553.3 1007.2 553.4 1008.2 553.6 1009.2 553.7 1010.2 553.5 1011.2 553.7 1012.2 553.7 1013.2 553.5 1014.2 553.7 1015.2 553.6 1016.2 553.7 1017.2 553.8 1018.2 553.6 1019.2 553.8 1020.2 554.0 1021.2 554.0 1022.2 554.1 1023.2 554.0 1024.2 554.2 1025.2 554.0 1026.2 554.0 1027.2 554.1 1028.2 554.1 1029.2 553.8 1030.2 553.9 1031.2 554.1 1032.2 554.0 1033.2 553.8 1034.2 553.9 1035.2 553.8 1036.2 554.1 1037.2 553.9 1038.2 553.6 1039.2 553.6 1040.2 553.6 1041.2 553.7 1042.2 553.8 1043.2 553.9 1044.2 554.1 1045.2 553.9 1046.2 553.9 1047.2 554.0 1048.2 554.0 1049.2 554.1 1050.2 553.9 1051.2 553.9 1052.2 554.0 1053.2 554.0 1054.2 554.0 1055.2 554.0 1056.2 553.7 1057.2 553.6 1058.2 553.9 1059.2 553.8 1060.2 553.8 1061.2 554.1 1062.2 553.7 1063.2 553.5 1064.2 553.5 1065.2 553.5 1066.2 553.3 1067.2 553.1 1068.2 552.6 1069.2 552.2 1070.2 552.0 1071.2 551.4 1072.2 551.0 1073.2 550.9 1074.2 551.1 1075.2 551.2 1076.2 551.8 1077.2 552.2 1078.2 552.6 1079.2 552.8 1080.2 553.0 1081.2 553.0 1082.2 553.3 1083.2 553.4 1084.2 553.5 1085.2 553.5 1085.7 553.3 1085.9 553.4 1086.1 553.3 1086.2 553.0 1086.3 553.3 1086.5 553.3 1086.7 553.3 1086.9 553.5 1087.1 553.2 1087.2 553.4 1087.3 553.3 1087.5 553.3 1087.7 553.3 1087.9 553.1 1088.1 552.9 1088.2 553.2 1088.3 553.1 1088.5 553.1 1088.7 553.1 1088.9 553.1 1089.1 553.0 1089.2 553.0 1089.3 553.1 1089.5 553.3 1089.7 553.0 1089.9 552.9 1090.1 552.9 1090.2 552.8 1090.3 552.8 1090.5 552.9 1090.7 552.8 1090.9 552.6 1091.1 552.7 1091.2 552.7 1091.3 552.7 1091.5 552.6 1091.7 552.3 1091.9 552.4 1092.1 552.2 1092.2 552.4 1092.3 552.1 1092.5 552.1 1092.7 552.1 1092.9 551.9 1093.1 551.9 1093.2 551.9 1093.3 551.7 1093.5 551.7 1093.7 551.6 1093.9 551.5 1094.1 551.2 1094.2 551.0 1094.3 550.9 1094.5 550.7 1094.7 550.5 1094.9 550.4 1095.1 550.2 1095.2 549.7 1095.3 549.6 1095.5 549.2 1095.7 548.3 1095.9 547.2 1096.1 545.7 1096.2 544.2 1096.3 543.6 1096.5 541.1 1096.7 538.4 1096.9 535.2 1097.1 532.0 1097.2 529.6 1097.3 528.8 1097.5 526.7 1097.7 526.0 1097.9 526.8 1098.1 528.7 1098.2 530.8 1098.3 531.6 1098.5 534.7 1098.7 537.7 1098.9 540.5 1099.1 542.7 1099.2 543.8 1099.3 544.4 1099.5 545.3 1099.7 545.8 1099.9 545.8 1100.1 545.4 1100.2 545.2 1100.3 545.1 1100.4 544.9 1100.5 544.2 1100.6 543.7 1100.7 542.6 1100.8 542.2 1100.9 541.3 1101.0 540.8 1101.1 539.7 1101.2 539.6 1101.2 539.0 1101.3 538.9 1101.4 538.7 1101.5 538.6 1101.6 538.8 1101.7 538.9 1101.8 539.0 1101.9 539.8 1102.0 540.3 1102.1 541.0 1102.2 541.6 1102.2 542.2 1102.3 542.8 1102.4 543.6 1102.5 544.5 1102.6 545.0 1102.7 545.9 1102.8 546.5 1102.9 547.5 1103.1 548.4 1103.2 548.9 1103.3 549.3 1103.5 550.0 1103.7 550.4 1103.9 550.8 1104.1 551.3 1104.2 551.6 1104.3 551.6 1104.5 551.6 1104.7 551.8 1104.9 551.9 1105.1 551.9 1105.2 552.2 1105.3 552.3 1105.5 552.6 1105.7 552.5 1105.9 552.4 1106.1 552.4 1106.2 552.4 1106.3 552.3 1106.5 552.2 1106.7 552.6 1106.9 552.7 1107.1 552.8 1107.2 552.9 1107.3 552.7 1107.5 552.7 1107.7 552.7 1107.9 553.0 1108.1 552.9 1108.2 553.0 1108.3 552.9 1108.5 553.0 1108.7 553.1 1108.9 553.1 1109.1 553.0 1109.2 553.3 1109.3 553.1 1109.5 553.0 1109.7 553.1 1110.2 553.0 1111.2 553.0 1111.7 553.2 1111.9 553.3 1112.1 553.6 1112.2 553.7 1112.3 553.6 1112.5 553.7 1112.7 553.4 1112.9 553.3 1113.1 553.1 1113.2 553.4 1113.3 553.2 1113.5 553.3 1113.7 553.2 1113.9 553.3 1114.1 553.2 1114.2 553.3 1114.3 553.5 1114.5 553.3 1114.7 553.3 1114.9 553.2 1115.1 553.1 1115.2 553.4 1115.3 553.1 1115.5 552.9 1115.7 552.8 1115.9 553.1 1116.1 553.2 1116.2 553.3 1116.3 553.1 1116.5 553.1 1116.7 553.4 1116.9 553.1 1117.1 552.8 1117.2 552.7 1117.3 552.8 1117.5 553.0 1117.7 553.1 1117.9 553.0 1118.1 553.0 1118.2 552.9 1118.3 552.8 1118.5 553.0 1118.7 552.9 1118.9 552.8 1119.1 552.7 1119.2 552.7 1119.3 552.7 1119.5 552.8 1119.7 552.6 1119.9 552.6 1120.1 552.4 1120.2 552.2 1120.3 552.5 1120.5 552.2 1120.7 552.3 1120.9 551.9 1121.1 551.9 1121.2 551.5 1121.3 551.5 1121.5 551.2 1121.7 550.7 1121.9 550.1 1122.1 549.2 1122.2 548.5 1122.3 548.1 1122.5 546.6 1122.7 545.1 1122.9 543.3 1123.1 541.3 1123.2 539.9 1123.3 539.7 1123.5 538.5 1123.7 538.0 1123.9 538.3 1124.1 539.4 1124.2 540.8 1124.3 541.3 1124.5 543.0 1124.7 544.8 1124.9 546.4 1125.1 547.7 1125.2 548.2 1125.3 548.6 1125.5 549.4 1125.7 549.6 1125.9 549.8 1126.1 549.6 1126.2 549.4 1126.3 549.2 1126.5 548.9 1126.5 548.8 1126.7 548.2 1126.7 548.1 1126.9 547.3 1126.9 547.2 1127.1 546.8 1127.1 546.7 1127.2 546.0 1127.3 545.8 1127.3 545.7 1127.5 545.3 1127.5 545.2 1127.7 545.0 1127.7 545.1 1127.9 545.5 1127.9 545.5 1128.1 546.2 1128.1 546.3 1128.2 546.6 1128.3 547.1 1128.3 547.3 1128.5 548.0 1128.5 548.2 1128.7 549.1 1128.7 549.2 1128.9 550.1 1128.9 549.9 1129.1 550.6 1129.2 551.0 1129.3 551.2 1129.5 551.6 1129.7 552.0 1129.9 552.1 1130.1 552.4 1130.2 552.6 1130.3 552.6 1130.5 552.7 1130.7 552.9 1130.9 553.0 1131.1 552.9 1131.2 553.1 1131.3 553.1 1131.5 552.9 1131.7 552.9 1131.9 552.7 1132.1 552.8 1132.2 552.9 1132.3 553.2 1132.5 553.2 1132.7 553.2 1132.9 553.2 1133.1 553.1 1133.2 553.2 1133.3 553.5 1133.5 553.5 1133.7 553.3 1133.9 553.3 1134.1 553.3 1134.2 553.2 1134.3 553.2 1134.5 553.6 1134.7 553.4 1134.9 553.4 1135.1 553.4 1135.2 553.6 1135.3 553.9 1135.5 553.9 1135.7 553.8 1136.2 553.7 1137.2 553.7 1138.2 554.0 1139.2 553.8 1140.2 553.9 1141.2 553.8 1142.2 553.8 1143.2 553.8 1144.2 554.0 1145.2 553.7 1146.2 553.6 1147.2 553.7 1148.2 553.8 1149.2 554.0 1150.2 553.8 1151.2 554.0 1152.2 554.0 1153.2 554.0 1154.2 554.1 1155.2 553.9 1156.2 554.1 1157.2 554.1 1158.2 554.0 1158.5 553.9 1158.7 553.8 1158.9 553.8 1159.1 553.9 1159.2 553.8 1159.3 553.8 1159.5 553.8 1159.7 553.6 1159.9 553.7 1160.1 553.7 1160.2 553.9 1160.3 553.9 1160.5 553.8 1160.7 553.8 1160.9 553.8 1161.1 553.6 1161.2 553.7 1161.3 553.6 1161.5 553.8 1161.7 553.9 1161.9 553.7 1162.1 553.7 1162.2 553.8 1162.3 553.6 1162.5 553.5 1162.7 553.5 1162.9 553.7 1163.1 553.5 1163.2 553.7 1163.3 553.7 1163.5 553.6 1163.7 553.5 1163.9 553.5 1164.1 553.5 1164.2 553.5 1164.3 553.3 1164.5 553.2 1164.7 553.0 1164.9 553.3 1165.1 553.4 1165.2 553.3 1165.3 553.3 1165.5 553.1 1165.7 553.1 1165.9 553.1 1166.1 552.8 1166.2 552.9 1166.3 552.7 1166.5 552.9 1166.7 552.8 1166.9 552.7 1167.1 552.5 1167.2 552.6 1167.3 552.6 1167.5 552.4 1167.7 552.2 1167.9 552.0 1168.1 552.0 1168.2 551.7 1168.3 551.9 1168.5 551.4 1168.7 550.7 1168.9 549.9 1169.1 549.0 1169.2 548.2 1169.3 548.2 1169.5 546.8 1169.7 545.1 1169.9 543.1 1170.1 541.8 1170.2 541.1 1170.3 540.5 1170.5 540.1 1170.7 540.5 1170.9 541.8 1171.1 543.2 1171.2 544.3 1171.3 544.3 1171.5 546.1 1171.7 547.3 1171.9 548.4 1172.1 549.2 1172.2 549.9 1172.3 550.3 1172.5 550.7 1172.7 550.9 1172.9 550.7 1173.1 550.3 1173.2 550.2 1173.3 549.8 1173.5 549.4 1173.5 549.4 1173.7 548.8 1173.7 548.9 1173.9 548.6 1173.9 548.5 1174.1 548.0 1174.1 547.6 1174.2 547.0 1174.3 547.0 1174.3 546.9 1174.5 546.4 1174.5 546.3 1174.7 546.4 1174.7 546.5 1174.9 546.9 1174.9 547.1 1175.1 547.5 1175.1 547.4 1175.2 547.9 1175.3 547.8 1175.3 548.2 1175.5 549.0 1175.5 549.3 1175.7 549.8 1175.7 550.1 1175.9 550.5 1175.9 550.6 1176.1 551.1 1176.2 551.6 1176.3 551.7 1176.5 552.1 1176.7 552.0 1176.9 552.4 1177.1 552.7 1177.2 552.9 1177.3 552.7 1177.5 552.6 1177.7 552.9 1177.9 553.0 1178.1 553.0 1178.2 552.9 1178.3 552.9 1178.5 552.9 1178.7 553.0 1178.9 553.2 1179.1 553.0 1179.2 553.4 1179.3 553.6 1179.5 553.3 1179.7 553.4 1179.9 553.4 1180.1 553.6 1180.2 553.1 1180.3 553.5 1180.5 553.7 1180.7 553.6 1180.9 553.5 1181.1 553.7 1181.2 553.7 1181.3 553.9 1181.5 553.7 1181.7 553.5 1181.9 553.5 1182.1 553.6 1182.2 553.6 1182.3 553.7 1182.5 553.6 1183.2 553.8 1184.2 553.7 1185.2 554.0 1186.2 554.1 1187.2 554.1 1188.2 553.9 1189.2 553.9 1190.2 553.8 1191.2 553.7 1192.2 553.7 1193.2 554.0 1194.2 554.0 1195.2 554.2 1196.2 554.1 1197.2 554.1 1198.2 553.9 1199.2 553.9 1200.2 554.0 1201.2 553.9 1202.2 553.9 1203.2 553.8 1204.2 554.1 1205.2 553.9 1206.2 554.1 1207.2 553.9 1208.2 553.9 1209.2 554.3 1210.2 554.1 1211.2 554.2 1212.2 554.0 1213.2 554.3 1214.2 554.4 1215.2 554.5 1216.2 554.2 1217.2 554.0 1218.2 553.9 1219.2 553.8 1220.2 554.1 1221.2 554.1 1222.2 554.1 1223.2 554.0 1224.2 554.1 1225.2 554.1 1226.2 554.0 1227.2 554.1 1228.2 554.0 1229.2 553.8 1230.2 554.1 1231.2 554.4 1232.2 554.0 1233.2 554.1 1234.2 553.9 1235.2 553.9 1236.2 554.0 1237.2 554.2 1238.2 553.9 1239.2 554.2 1240.2 554.2 1241.2 554.4 1242.2 554.2 1243.2 553.9 1244.2 554.1 1245.2 554.0 1246.2 554.4 1247.2 554.3 1248.2 554.4 1249.2 554.1 1250.2 554.1 1251.2 554.1 1252.2 553.9 1253.2 553.8 1254.2 553.9 1255.2 554.1 1256.2 554.0 1257.2 554.3 1258.0 554.4 1258.2 554.0 1258.2 553.9 1258.4 553.8 1258.6 553.8 1258.8 553.8 1259.0 553.6 1259.2 553.9 1259.2 554.1 1259.4 554.3 1259.6 554.0 1259.8 554.0 1260.0 554.1 1260.2 554.0 1260.2 554.3 1260.4 554.3 1260.6 554.4 1260.8 554.2 1261.0 554.2 1261.2 554.3 1261.2 554.0 1261.4 553.8 1261.6 553.9 1261.8 553.8 1262.0 554.0 1262.2 553.8 1262.2 554.0 1262.4 553.8 1262.6 554.1 1262.8 554.1 1263.0 553.9 1263.2 553.9 1263.2 553.9 1263.4 553.6 1263.6 553.6 1263.8 553.8 1264.0 553.7 1264.2 553.7 1264.2 554.0 1264.4 554.1 1264.6 554.0 1264.8 554.0 1265.0 554.2 1265.2 554.1 1265.2 553.8 1265.4 553.8 1265.6 553.6 1265.8 553.6 1266.0 553.6 1266.2 553.7 1266.2 553.7 1266.4 553.8 1266.6 553.7 1266.8 553.7 1267.0 553.8 1267.2 553.6 1267.2 553.6 1267.4 553.5 1267.6 553.3 1267.8 553.2 1268.0 553.2 1268.2 553.1 1268.2 552.8 1268.4 552.8 1268.6 552.6 1268.8 552.3 1269.0 552.0 1269.2 551.3 1269.2 551.2 1269.4 550.7 1269.6 550.0 1269.8 549.7 1270.0 549.7 1270.2 549.8 1270.2 549.8 1270.4 550.0 1270.6 550.4 1270.8 550.9 1271.0 551.5 1271.2 552.0 1271.2 552.1 1271.4 552.1 1271.6 552.6 1271.8 552.8 1272.0 553.3 1272.2 553.6 1272.2 553.6 1272.4 553.4 1272.6 553.3 1272.8 553.0 1273.0 553.2 1273.2 553.0 1273.2 553.1 1273.4 552.9 1273.4 553.1 1273.6 552.8 1273.6 552.7 1273.8 552.4 1273.8 552.1 1274.0 552.0 1274.0 551.9 1274.2 551.9 1274.2 552.1 1274.2 552.0 1274.4 552.2 1274.4 552.0 1274.6 552.0 1274.6 551.8 1274.8 551.9 1274.8 551.9 1275.0 552.2 1275.0 552.1 1275.2 552.0 1275.2 552.2 1275.2 552.5 1275.4 552.4 1275.4 552.5 1275.6 552.8 1275.6 552.9 1275.8 553.0 1275.8 552.9 1276.0 553.1 1276.2 553.2 1276.2 553.2 1276.4 553.4 1276.6 553.4 1276.8 553.6 1277.0 553.5 1277.2 553.6 1277.2 553.6 1277.4 553.8 1277.6 553.8 1277.8 553.8 1278.0 553.9 1278.2 553.7 1278.2 553.8 1278.4 553.9 1278.6 553.9 1278.8 553.7 1279.0 553.9 1279.2 554.0 1279.2 554.0 1279.4 553.9 1279.6 554.1 1279.8 554.3 1280.0 554.3 1280.2 554.2 1280.2 554.4 1280.4 554.1 1280.6 553.8 1280.8 553.8 1281.0 553.8 1281.2 553.8 1281.2 553.9 1281.4 554.0 1281.6 553.9 1281.8 553.8 1282.0 553.9 1282.2 554.0 1283.2 553.9 1284.2 553.8 1285.2 553.8 1286.2 553.9 1287.2 554.4 1288.2 554.4 1289.2 554.2 1290.2 554.1 1291.2 554.0 1292.2 554.2 1293.2 554.5 1294.2 554.4 1295.2 554.2 1296.2 554.2 1297.2 554.6 1298.2 554.3 1299.2 554.1 1300.2 554.1 1301.2 554.0 1302.2 553.7 1303.2 553.8 1304.2 553.9 1305.2 554.1 1306.2 554.0 1307.2 553.9 1308.2 553.9 1309.2 553.8 1310.2 553.7 1311.2 553.9 1312.2 554.0 1313.2 554.0 1314.2 554.1 1315.2 554.2 1316.2 554.3 1317.2 554.2 1318.2 554.2 1319.2 554.1 1320.2 554.1 1321.2 554.2 1322.2 554.4 1323.2 554.3 1324.2 554.1 1325.2 554.0 1326.2 553.9 1327.2 554.0 1328.0 554.2 1328.2 554.0 1328.2 553.9 1328.4 553.9 1328.6 553.7 1328.8 553.7 1329.0 553.9 1329.2 553.8 1329.2 553.9 1329.4 554.0 1329.6 554.2 1329.8 554.0 1330.0 554.2 1330.2 554.0 1330.2 554.0 1330.4 554.1 1330.6 554.0 1330.8 553.8 1331.0 553.9 1331.2 553.8 1331.2 553.6 1331.4 553.9 1331.6 553.8 1331.8 553.9 1332.0 553.9 1332.2 553.7 1332.2 553.8 1332.4 553.6 1332.6 553.8 1332.8 553.7 1333.0 553.7 1333.2 554.0 1333.2 553.9 1333.4 553.8 1333.6 553.6 1333.8 553.8 1334.0 553.8 1334.2 553.7 1334.2 553.5 1334.4 553.5 1334.6 553.5 1334.8 553.4 1335.0 553.3 1335.2 553.1 1335.2 553.1 1335.4 553.5 1335.6 553.5 1335.8 553.5 1336.0 553.3 1336.2 553.4 1336.2 553.3 1336.4 553.2 1336.6 553.2 1336.8 553.1 1337.0 553.1 1337.2 552.8 1337.2 552.9 1337.4 552.6 1337.6 552.9 1337.8 552.4 1338.0 552.3 1338.2 552.1 1338.2 551.8 1338.4 551.3 1338.6 550.6 1338.8 549.8 1339.0 548.8 1339.2 547.6 1339.2 547.4 1339.4 546.5 1339.6 545.2 1339.8 544.5 1340.0 544.1 1340.2 544.3 1340.2 544.5 1340.4 545.1 1340.6 545.8 1340.8 547.2 1341.0 548.4 1341.2 549.5 1341.2 549.6 1341.4 550.2 1341.6 550.9 1341.8 551.4 1342.0 552.0 1342.2 552.0 1342.2 552.0 1342.4 552.1 1342.6 552.3 1342.8 552.0 1343.0 552.1 1343.2 551.9 1343.2 552.1 1343.4 552.0 1343.6 551.5 1343.7 551.2 1343.8 550.9 1343.9 550.6 1344.0 550.5 1344.1 550.5 1344.2 549.9 1344.2 549.7 1344.3 549.6 1344.4 549.4 1344.5 549.3 1344.6 548.8 1344.7 548.9 1344.8 548.7 1344.9 548.8 1345.0 548.8 1345.1 548.7 1345.2 549.1 1345.2 549.2 1345.3 549.2 1345.4 549.4 1345.5 549.7 1345.6 550.2 1345.7 550.7 1345.8 551.0 1345.9 551.1 1346.0 551.4 1346.1 551.7 1346.2 551.8 1346.2 551.9 1346.4 552.3 1346.6 552.5 1346.8 552.7 1347.0 552.8 1347.2 552.9 1347.2 553.0 1347.4 553.2 1347.6 553.3 1347.8 553.3 1348.0 553.4 1348.2 553.6 1348.2 553.3 1348.4 553.4 1348.6 553.2 1348.8 553.6 1349.0 553.7 1349.2 553.7 1349.2 553.7 1349.4 553.5 1349.6 553.7 1349.8 553.7 1350.0 553.7 1350.2 553.5 1350.2 553.6 1350.4 553.4 1350.6 553.4 1350.8 553.9 1351.0 553.8 1351.2 554.1 1351.2 554.2 1351.4 554.3 1351.6 553.8 1351.8 554.1 1352.0 554.0 1352.2 553.9 1353.2 554.2 1354.2 554.3 1355.2 554.3 1356.2 554.1 1357.2 554.0 1358.2 554.1 1359.2 554.1 1360.2 553.8 1361.2 554.0 1362.2 554.0 1363.2 554.0 1364.2 554.1 1365.2 554.0 1366.2 554.3 1367.2 554.0 1368.2 553.9 1369.2 554.1 1370.2 554.3 1371.2 554.4 1372.2 554.5 1373.2 554.2 1374.2 554.3 1375.2 554.2 1376.2 554.4 1377.2 554.4 1378.2 554.2 1379.2 554.2 1380.2 554.2 1381.2 554.0 1382.2 553.9 1383.2 553.9 1384.2 554.1 1385.2 554.3 1386.2 554.3 1387.2 554.3 1388.2 554.2 1389.2 554.4 1390.2 554.1 1391.2 554.2 1392.2 554.4 1393.2 554.5 1394.2 554.2 1395.2 554.1 1396.2 554.1 1397.2 554.2 1398.2 554.3 1399.2 554.2 1400.2 554.3 1401.2 554.3 1402.2 554.2 1403.2 554.4" stroke="#37AD6B"/><path d="M89.2 441.5L90.2 441.6 91.2 441.5 92.2 441.6 93.2 441.6 94.2 441.7 95.2 441.7 96.2 441.7 97.2 442.1 98.2 442.0 99.2 442.1 100.2 441.9 101.2 441.9 102.2 442.0 103.2 442.1 104.2 442.1 105.2 442.2 106.2 441.8 107.2 441.9 108.2 442.1 109.2 442.2 110.2 442.3 111.2 442.1 112.2 442.1 113.2 442.0 114.2 441.8 115.2 442.2 116.2 442.3 117.2 442.5 118.2 442.3 119.2 442.3 120.2 442.2 121.2 442.4 122.2 442.3 123.2 442.2 124.2 442.2 125.2 442.2 126.2 442.2 127.2 442.5 128.2 442.3 129.2 442.2 130.2 442.1 131.2 442.4 132.2 442.3 133.2 442.5 134.2 442.7 135.2 442.7 136.2 442.9 137.2 442.7 138.2 443.0 139.2 443.0 140.2 442.6 141.2 442.7 142.2 442.7 143.2 442.9 144.2 442.6 145.2 442.8 146.2 442.6 147.2 442.7 148.2 442.5 149.2 442.3 150.2 442.6 151.2 442.5 152.2 442.8 153.2 442.9 154.2 442.8 155.2 443.0 156.2 443.2 157.2 443.1 158.2 442.9 159.2 443.0 160.2 442.8 161.2 442.8 162.2 442.8 163.2 443.1 164.2 442.9 165.2 443.2 166.2 443.3 167.2 443.2 168.2 443.2 169.2 443.0 170.2 443.3 171.2 443.2 172.2 443.2 173.2 443.2 174.2 443.2 175.2 443.3 176.2 443.4 177.2 443.5 178.2 443.4 179.2 443.5 180.2 443.2 181.2 443.2 182.2 443.0 183.2 443.3 184.2 443.3 185.2 443.2 186.2 443.2 187.2 443.4 188.2 443.6 189.2 443.5 190.2 443.5 191.2 443.4 192.2 443.8 193.2 443.5 194.2 443.6 195.2 443.6 196.2 443.5 197.2 443.7 198.2 444.0 199.2 444.0 200.2 443.9 201.2 443.9 202.2 443.7 203.2 443.7 204.2 443.5 205.2 443.5 206.2 443.6 207.2 443.7 208.2 443.6 209.2 443.6 210.2 443.3 211.2 443.7 212.2 443.9 213.2 443.9 214.2 443.9 215.2 443.7 216.2 443.6 217.2 443.7 218.2 443.7 219.2 443.8 220.2 443.8 221.2 443.5 222.2 443.8 223.2 443.8 224.2 443.9 225.2 443.9 226.2 444.1 227.2 444.1 228.2 444.0 229.2 444.0 230.2 444.0 231.2 443.9 232.2 443.4 233.2 443.0 234.2 443.1 235.2 443.5 236.2 443.6 237.2 443.9 238.2 444.0 239.2 444.1 240.2 444.0 241.2 444.0 242.2 444.1 243.2 444.3 244.2 444.5 245.2 444.4 246.2 444.4 247.2 444.4 248.2 444.4 249.2 444.5 250.2 444.6 251.2 444.5 252.2 444.6 253.2 444.2 254.2 444.1 255.2 444.3 256.2 444.5 257.2 444.3 258.2 444.5 259.2 444.4 260.2 444.4 261.2 444.4 262.2 444.4 263.2 444.6 264.2 444.5 265.2 444.4 266.2 444.5 267.2 444.4 268.2 444.4 269.2 444.4 270.2 444.4 271.2 444.3 272.2 444.3 273.2 444.2 274.2 444.4 275.2 444.5 276.2 444.4 277.2 444.3 278.2 444.3 279.2 444.3 280.2 444.7 281.2 444.8 282.2 444.6 283.2 444.8 284.2 444.8 285.2 444.6 286.2 444.4 287.2 444.5 288.2 444.4 289.2 444.4 290.2 444.5 291.2 444.7 292.2 444.5 293.2 444.9 294.2 444.8 295.2 444.7 296.2 444.6 297.2 444.6 298.2 444.8 299.2 444.7 300.2 444.4 301.2 444.5 302.2 444.7 303.2 444.6 304.2 444.7 305.2 445.0 306.2 445.1 307.2 444.9 308.2 445.0 309.2 445.0 310.2 444.9 311.2 445.2 312.2 445.0 313.2 445.1 314.2 445.0 315.2 444.9 316.2 444.8 317.2 444.9 318.2 445.0 319.2 445.3 320.2 445.1 321.2 445.3 322.2 445.1 323.2 444.9 324.2 445.0 325.2 445.2 326.2 445.1 327.2 445.3 328.2 445.5 329.2 445.6 330.2 445.4 331.2 445.2 332.2 445.4 333.2 445.4 334.2 445.2 335.2 445.1 336.2 445.2 337.2 445.5 338.2 445.4 339.2 445.2 340.2 445.3 341.2 445.2 342.2 445.3 343.2 445.5 344.2 445.2 345.2 445.3 346.2 445.2 347.2 445.3 348.2 445.2 349.2 445.1 350.2 445.4 351.2 445.3 352.2 445.3 353.2 445.4 354.2 445.5 355.2 445.6 356.2 445.4 357.2 445.3 358.2 445.4 359.2 445.3 360.2 445.2 361.2 445.1 362.2 445.1 363.2 445.0 364.2 445.1 365.2 445.1 366.2 445.4 367.2 445.2 368.2 445.3 369.2 445.3 370.2 445.2 371.2 445.1 372.2 445.3 373.2 445.4 374.2 445.4 375.2 445.2 376.2 445.5 377.2 445.5 378.2 445.5 379.2 445.2 380.2 445.3 381.2 445.6 382.2 445.6 383.2 445.5 384.2 445.8 385.2 445.8 386.2 445.6 387.2 445.4 388.2 445.3 389.2 445.3 390.2 445.3 391.2 445.4 392.2 445.3 393.2 445.5 394.2 445.3 395.2 445.1 396.2 445.3 397.2 445.2 398.2 445.3 399.2 445.3 400.2 445.3 401.2 445.4 402.2 445.4 403.2 445.2 403.2 445.1 403.4 445.3 403.6 445.2 403.8 445.2 404.0 445.2 404.2 445.0 404.2 445.1 404.4 445.4 404.6 445.1 404.8 445.1 405.0 444.7 405.2 444.7 405.2 444.7 405.4 444.8 405.6 444.8 405.8 444.6 406.0 444.5 406.2 444.6 406.2 444.5 406.4 444.5 406.6 444.6 406.8 444.6 407.0 444.8 407.2 444.7 407.2 444.7 407.4 444.5 407.6 444.6 407.8 444.7 408.0 444.5 408.2 444.4 408.2 444.4 408.4 444.5 408.6 444.5 408.8 444.2 409.0 444.2 409.2 444.1 409.2 443.9 409.4 443.8 409.6 443.9 409.8 444.0 410.0 443.8 410.2 443.5 410.2 443.5 410.4 443.4 410.6 443.1 410.8 443.2 411.0 442.9 411.2 442.8 411.2 442.8 411.4 442.7 411.6 442.7 411.8 442.3 412.0 442.0 412.2 441.9 412.2 441.8 412.4 441.5 412.6 441.4 412.8 441.0 413.0 440.2 413.2 439.5 413.2 439.4 413.4 438.7 413.6 437.1 413.8 435.2 414.0 432.8 414.2 430.1 414.2 429.2 414.4 426.9 414.6 423.6 414.8 420.5 415.0 418.1 415.2 416.8 415.2 416.8 415.4 417.0 415.6 417.7 415.6 418.0 415.8 419.1 415.8 419.4 416.0 420.4 416.0 420.6 416.2 422.0 416.2 422.6 416.2 422.5 416.4 423.5 416.4 423.7 416.6 424.7 416.6 424.7 416.8 425.8 416.8 426.4 417.0 427.9 417.0 427.9 417.2 429.3 417.2 429.6 417.2 430.0 417.4 431.5 417.4 431.7 417.6 433.3 417.6 433.7 417.8 434.9 417.8 435.3 418.0 436.8 418.0 436.8 418.2 438.2 418.2 438.6 418.4 439.5 418.6 440.0 418.8 440.8 419.0 441.2 419.2 441.4 419.2 441.5 419.4 441.9 419.6 442.2 419.8 442.8 420.0 443.0 420.2 443.2 420.2 443.2 420.4 443.2 420.6 443.3 420.8 443.7 421.0 443.6 421.2 443.5 421.2 443.6 421.4 443.6 421.6 443.7 421.8 443.6 422.0 443.7 422.2 443.8 422.2 443.8 422.4 444.0 422.6 444.3 422.8 444.3 423.0 444.4 423.2 444.3 423.2 444.1 423.4 444.3 423.6 444.4 423.8 444.3 424.0 444.3 424.2 444.5 424.2 444.6 424.4 444.6 424.6 444.7 424.8 444.5 425.0 444.6 425.2 444.9 425.2 444.8 425.4 444.8 425.6 444.8 425.8 444.9 426.0 444.7 426.2 444.6 426.2 444.8 426.4 444.9 426.6 445.1 426.8 444.9 427.0 445.0 427.2 445.0 427.2 444.7 428.2 444.7 429.2 445.0 430.2 445.3 431.2 445.2 432.2 445.5 433.2 445.2 434.2 445.3 435.2 445.3 436.2 445.1 437.2 445.3 438.2 445.1 439.2 445.2 440.2 445.3 441.2 445.0 442.2 444.9 443.2 444.8 444.2 444.7 445.0 444.9 445.2 444.8 445.2 444.6 445.4 444.6 445.6 444.5 445.8 444.5 446.0 444.6 446.2 444.6 446.2 444.4 446.4 444.5 446.6 444.5 446.8 444.5 447.0 444.2 447.2 444.4 447.2 444.5 447.4 444.2 447.6 444.2 447.8 444.2 448.0 444.1 448.2 444.0 448.2 443.9 448.4 443.8 448.6 444.1 448.8 444.2 449.0 443.7 449.2 443.8 449.2 443.7 449.4 443.5 449.6 443.4 449.8 443.3 450.0 443.1 450.2 442.9 450.2 443.0 450.4 442.6 450.6 442.2 450.8 442.2 451.0 442.2 451.2 441.9 451.2 441.8 451.4 441.6 451.6 441.3 451.8 441.0 452.0 441.0 452.2 440.4 452.2 440.2 452.4 439.8 452.6 439.6 452.8 439.4 453.0 438.6 453.2 437.7 453.2 437.8 453.4 437.4 453.6 436.7 453.8 435.9 454.0 434.9 454.2 433.5 454.2 433.1 454.4 431.7 454.6 429.1 454.8 425.5 455.0 420.3 455.2 412.8 455.2 410.6 455.4 402.4 455.6 388.2 455.8 370.5 456.0 348.9 456.2 324.7 456.2 318.1 456.4 299.6 456.6 276.4 456.8 258.5 457.0 248.7 457.2 248.9 457.2 250.1 457.4 256.8 457.6 266.5 457.6 269.1 457.8 279.5 457.8 282.1 458.0 291.7 458.0 293.6 458.2 301.1 458.2 302.6 458.2 304.5 458.4 308.7 458.4 309.9 458.6 315.5 458.6 316.8 458.8 323.8 458.8 325.7 459.0 334.6 459.0 337.0 459.2 347.7 459.2 350.3 459.2 354.0 459.4 361.6 459.4 364.8 459.6 376.2 459.6 379.0 459.8 389.8 459.8 392.2 460.0 401.5 460.0 403.4 460.2 412.6 460.2 414.8 460.4 419.9 460.6 425.2 460.8 429.2 461.0 432.0 461.2 433.8 461.2 434.2 461.4 435.6 461.6 436.5 461.8 437.2 462.0 438.1 462.2 438.6 462.2 438.7 462.4 439.4 462.6 439.8 462.8 440.0 463.0 440.5 463.2 440.7 463.2 441.2 463.4 441.3 463.6 441.5 463.8 441.6 464.0 441.8 464.2 441.9 464.2 442.1 464.4 442.5 464.6 442.3 464.8 442.5 465.0 442.8 465.2 442.9 465.2 443.1 465.4 443.3 465.6 443.3 465.8 443.3 466.0 443.5 466.2 443.5 466.2 443.4 466.4 443.5 466.6 443.7 466.8 443.7 467.0 443.8 467.2 443.9 467.2 444.1 467.4 444.0 467.6 443.9 467.8 443.9 468.0 444.0 468.2 444.2 468.2 444.3 468.4 444.3 468.6 444.2 468.8 444.1 469.0 444.4 469.2 444.6 470.2 444.9 471.2 445.1 472.2 445.1 473.2 445.1 474.2 445.0 475.2 445.1 476.2 445.1 477.2 445.0 478.2 445.0 479.2 445.0 480.2 445.1 481.2 445.2 482.2 445.4 483.2 445.3 484.2 445.1 485.2 445.1 486.2 445.0 486.8 444.6 487.0 444.6 487.2 444.4 487.2 444.4 487.4 444.3 487.6 444.6 487.8 444.8 488.0 444.6 488.2 444.6 488.2 444.7 488.4 444.6 488.6 444.8 488.8 444.6 489.0 444.4 489.2 444.1 489.2 444.0 489.4 444.1 489.6 443.8 489.8 444.0 490.0 443.7 490.2 443.6 490.2 443.6 490.4 443.6 490.6 443.5 490.8 443.5 491.0 443.7 491.2 443.5 491.2 443.5 491.4 443.3 491.6 443.4 491.8 443.2 492.0 443.0 492.2 442.7 492.2 442.6 492.4 442.5 492.6 442.2 492.8 442.2 493.0 442.1 493.2 441.4 493.2 441.6 493.4 441.6 493.6 441.3 493.8 441.1 494.0 441.0 494.2 440.6 494.2 440.4 494.4 440.4 494.6 439.9 494.8 439.6 495.0 438.8 495.2 438.2 495.2 438.1 495.4 437.6 495.6 436.9 495.8 436.0 496.0 434.6 496.2 432.9 496.2 432.3 496.4 430.6 496.6 427.4 496.8 422.4 497.0 415.6 497.2 406.0 497.2 403.0 497.4 393.2 497.6 377.1 497.8 357.6 498.0 335.7 498.2 313.6 498.2 308.4 498.4 292.9 498.6 277.1 498.8 269.1 499.0 270.0 499.2 278.1 499.2 280.9 499.4 290.2 499.5 295.2 499.6 302.6 499.7 307.6 499.8 313.7 499.9 317.4 500.0 321.8 500.1 324.2 500.2 327.1 500.2 328.4 500.3 329.1 500.4 331.1 500.5 333.0 500.6 336.4 500.7 339.1 500.8 343.8 500.9 347.2 501.0 353.5 501.1 358.0 501.2 365.3 501.2 368.5 501.3 370.6 501.4 377.8 501.5 383.0 501.6 390.5 501.7 394.8 501.8 401.2 501.9 405.3 502.0 410.6 502.2 418.2 502.2 419.7 502.4 423.9 502.6 428.5 502.8 431.4 503.0 433.3 503.2 434.6 503.2 434.9 503.4 435.4 503.6 436.0 503.8 436.6 504.0 437.1 504.2 437.3 504.2 437.4 504.4 437.4 504.6 437.7 504.8 437.8 505.0 437.7 505.2 437.4 505.2 437.4 505.4 437.2 505.6 437.0 505.8 436.5 506.0 436.4 506.2 436.0 506.2 436.2 506.4 435.9 506.6 435.1 506.8 434.5 507.0 434.1 507.2 433.7 507.2 433.6 507.4 433.2 507.6 432.9 507.8 432.7 508.0 432.2 508.2 432.0 508.2 431.8 508.4 431.7 508.6 431.8 508.8 432.2 509.0 432.8 509.2 433.4 509.2 433.4 509.4 433.7 509.6 434.2 509.8 434.9 510.0 435.5 510.2 436.2 510.2 436.2 510.4 436.7 510.6 437.5 510.8 438.2 511.2 439.7 512.2 442.2 513.2 443.8 514.2 444.6 515.2 444.8 516.2 445.2 517.2 445.7 518.2 445.6 519.2 445.4 520.2 445.3 521.2 445.7 522.2 445.9 523.2 445.9 524.2 445.9 525.2 446.2 526.2 446.0 527.2 446.2 528.2 446.1 529.2 446.2 530.2 446.4 531.2 446.4 532.2 446.5 533.2 446.3 534.2 446.4 535.2 446.4 536.2 446.6 537.2 446.5 538.2 446.5 539.2 446.3 540.2 446.4 541.2 446.1 542.2 446.2 543.2 446.4 544.2 446.3 545.2 446.3 546.2 446.4 547.2 446.3 548.2 446.4 549.2 446.3 550.2 446.3 551.2 446.5 552.2 446.3 553.2 446.1 554.2 446.0 555.2 446.3 556.2 446.3 557.2 446.6 558.2 446.3 559.2 446.4 560.2 446.1 561.2 446.6 562.2 446.7 563.2 446.5 564.2 446.5 565.2 446.5 566.2 446.2 567.2 446.0 568.2 446.1 569.2 446.2 570.2 446.2 571.2 446.5 572.2 446.2 573.2 446.4 574.2 446.3 575.2 446.4 576.2 446.4 577.2 446.5 578.2 446.6 579.2 446.4 580.2 446.7 581.2 446.5 582.2 446.3 583.2 446.4 584.2 446.6 585.2 446.7 586.2 446.6 587.2 446.8 588.2 446.6 589.2 446.5 590.2 446.8 591.2 446.9 592.2 446.7 593.2 446.7 594.2 446.6 595.2 446.7 596.2 446.7 597.2 446.5 598.2 446.4 599.2 446.5 600.2 446.5 601.2 446.5 602.2 446.5 603.2 446.5 604.2 446.8 605.2 446.8 606.2 446.7 607.2 446.7 608.2 446.6 609.2 446.5 610.2 446.6 611.2 446.5 612.2 446.5 613.2 446.8 614.2 447.0 615.2 447.0 616.2 446.7 617.2 446.5 618.2 446.5 619.2 446.4 620.2 446.4 621.2 446.5 622.2 446.6 623.2 447.0 624.2 446.8 625.2 446.7 626.2 446.5 627.2 446.8 628.2 446.9 629.2 446.9 630.2 446.7 631.2 446.7 632.2 446.8 633.2 446.5 634.2 446.6 635.2 446.7 636.2 446.6 637.2 446.9 638.2 446.8 639.2 446.8 640.2 446.9 641.2 447.0 642.2 446.7 643.2 446.8 644.2 446.9 645.2 446.8 646.2 446.6 647.2 446.7 648.2 446.9 649.2 447.0 650.2 447.1 651.2 447.1 652.2 446.7 653.2 446.8 654.2 446.7 655.2 447.0 656.2 447.0 657.2 446.8 658.2 446.6 659.2 446.7 660.2 446.6 661.2 446.4 662.2 446.4 663.2 446.7 664.2 446.8 665.2 446.7 666.2 446.7 667.2 446.7 668.2 446.6 669.2 446.8 670.2 447.0 671.2 447.1 672.2 446.9 673.2 447.1 674.2 446.8 675.2 446.5 676.2 446.5 677.2 446.6 678.2 446.8 679.2 446.6 680.2 446.7 681.2 446.8 682.2 446.8 683.2 446.7 684.2 446.7 685.2 446.6 686.2 446.6 687.2 446.5 688.2 446.7 689.2 446.7 690.2 446.6 691.2 446.6 692.2 446.6 693.2 446.7 694.2 446.7 695.2 446.3 696.2 446.5 696.7 446.5 696.9 446.5 697.1 446.6 697.2 446.4 697.3 446.2 697.5 446.4 697.7 446.6 697.9 446.3 698.1 446.0 698.2 446.2 698.3 446.3 698.5 446.2 698.7 446.0 698.9 446.3 699.1 446.1 699.2 446.1 699.3 446.0 699.5 446.2 699.7 446.1 699.9 446.2 700.1 446.2 700.2 446.1 700.3 446.0 700.5 445.9 700.7 445.7 700.9 445.6 701.1 445.4 701.2 445.6 701.3 445.7 701.5 445.7 701.7 445.2 701.9 445.1 702.1 444.9 702.2 445.0 702.3 445.3 702.5 445.1 702.7 445.0 702.9 445.0 703.1 444.9 703.2 445.0 703.3 445.1 703.5 445.0 703.7 444.8 703.9 444.4 704.1 444.4 704.2 444.2 704.3 444.3 704.5 444.2 704.7 443.9 704.9 443.8 705.1 443.7 705.2 443.3 705.3 443.3 705.5 443.3 705.7 442.8 705.9 442.6 706.1 442.5 706.2 442.0 706.3 441.8 706.5 441.0 706.7 440.5 706.9 439.3 707.1 437.6 707.2 436.0 707.3 435.4 707.5 432.8 707.7 429.6 707.9 425.7 708.1 422.2 708.2 420.0 708.3 419.3 708.5 416.8 708.7 415.7 708.9 416.1 709.1 418.0 709.2 419.9 709.3 420.6 709.5 423.6 709.7 426.2 709.9 428.0 710.0 428.8 710.1 429.3 710.2 429.8 710.2 429.9 710.3 429.8 710.4 429.9 710.5 429.7 710.6 429.5 710.7 429.1 710.8 428.9 710.9 428.6 711.0 428.4 711.1 428.3 711.2 428.4 711.2 428.3 711.3 428.6 711.4 429.1 711.5 429.8 711.6 430.6 711.7 431.1 711.8 432.1 711.9 432.8 712.0 434.3 712.1 435.1 712.2 436.4 712.2 436.7 712.3 437.2 712.4 437.9 712.5 438.6 712.7 439.8 712.9 441.1 713.1 441.8 713.2 442.4 713.3 442.4 713.5 442.9 713.7 443.5 713.9 443.7 714.1 444.1 714.2 443.7 714.3 443.7 714.5 443.8 714.7 444.1 714.9 444.2 715.1 444.6 715.2 444.7 715.3 444.8 715.5 445.2 715.7 445.0 715.9 445.0 716.1 445.2 716.2 445.1 716.3 445.2 716.5 445.1 716.7 445.3 716.9 445.2 717.1 445.4 717.2 445.3 717.3 445.6 717.5 445.5 717.7 445.7 717.9 445.6 718.1 445.7 718.2 445.5 718.3 445.2 718.5 445.3 718.7 445.7 718.9 445.9 719.1 446.2 719.2 446.2 719.3 445.9 719.5 446.0 719.7 446.1 719.9 446.1 720.1 446.2 720.2 446.3 720.3 446.1 720.5 446.4 720.7 446.2 721.2 446.2 722.2 446.3 723.2 446.4 724.2 446.4 725.2 446.7 726.2 446.7 727.2 446.7 728.2 446.6 729.2 446.7 730.2 446.8 731.2 446.7 732.2 446.8 733.2 447.1 734.2 447.0 735.2 446.8 736.2 446.9 737.2 447.1 738.2 447.0 739.2 446.9 740.2 447.0 741.2 446.9 742.2 447.1 743.2 447.1 744.2 447.1 745.2 447.0 746.2 447.1 747.2 447.1 748.2 447.0 749.2 447.0 750.2 447.0 751.2 447.2 752.2 447.1 753.2 447.1 754.2 447.2 755.2 447.0 756.2 447.0 757.2 447.1 758.2 447.3 759.2 447.3 760.2 446.9 761.2 447.0 762.2 447.1 763.2 447.0 764.2 447.1 765.2 447.0 766.2 447.2 767.2 447.3 768.2 447.3 769.2 446.9 770.2 447.2 771.2 447.1 772.2 447.1 773.2 446.9 774.2 446.9 775.2 447.1 776.2 447.0 777.2 447.0 778.2 447.2 779.2 447.1 780.2 447.3 781.2 447.1 782.2 447.0 783.2 447.1 784.2 446.9 785.2 446.9 786.2 447.0 787.2 447.1 788.2 447.2 789.2 447.1 790.2 447.2 791.2 447.3 792.2 447.3 793.2 447.1 794.2 447.1 795.2 447.4 796.2 447.2 797.2 447.1 798.2 447.2 799.2 447.1 800.2 447.0 801.2 447.1 802.2 447.3 803.2 447.3 804.2 447.4 805.2 447.3 806.2 447.1 807.2 447.3 808.2 447.2 809.2 447.3 810.2 447.4 811.2 447.3 812.2 447.3 813.2 447.2 814.2 446.8 815.2 446.9 816.2 447.0 817.2 447.0 818.2 447.2 819.2 447.1 820.2 447.0 821.2 447.2 822.2 447.0 823.2 447.2 824.2 447.2 825.2 447.3 826.2 447.5 827.2 447.5 828.2 447.5 829.2 447.3 830.2 447.6 831.2 447.4 832.2 447.4 833.2 447.2 834.2 447.1 835.2 447.3 836.2 447.4 837.2 447.5 838.2 447.2 839.2 447.3 840.2 447.0 841.2 446.9 842.2 447.2 843.2 447.2 844.2 447.5 845.2 447.6 846.2 447.2 847.2 446.9 848.2 447.3 849.2 447.1 850.2 447.1 851.2 447.2 852.2 447.3 853.2 447.3 854.2 447.1 855.2 447.1 856.2 447.1 857.2 447.3 858.2 447.1 859.2 447.3 860.2 447.4 861.2 447.2 862.2 447.1 863.2 447.3 864.2 447.4 865.2 447.1 866.2 446.8 867.2 446.8 868.2 447.0 869.2 446.9 870.2 446.6 871.2 446.6 872.2 446.7 873.2 446.6 874.2 446.7 875.2 446.6 875.3 446.6 875.5 446.3 875.7 446.1 875.9 446.3 876.1 446.4 876.2 446.5 876.3 446.7 876.5 446.6 876.7 446.5 876.9 446.5 877.1 446.6 877.2 446.5 877.3 446.6 877.5 446.6 877.7 446.0 877.9 446.2 878.1 446.4 878.2 446.3 878.3 446.4 878.5 446.3 878.7 446.3 878.9 446.1 879.1 446.1 879.2 445.8 879.3 445.7 879.5 445.6 879.7 445.9 879.9 446.0 880.1 445.9 880.2 445.9 880.3 445.7 880.5 445.5 880.7 445.6 880.9 445.4 881.1 445.1 881.2 444.9 881.3 445.3 881.5 445.2 881.7 445.1 881.9 445.1 882.1 445.2 882.2 444.8 882.3 444.7 882.5 444.5 882.7 444.8 882.9 444.4 883.1 444.0 883.2 444.0 883.3 444.0 883.5 444.0 883.7 443.8 883.9 443.6 884.1 443.6 884.2 443.0 884.3 442.8 884.5 442.7 884.7 442.1 884.9 441.6 885.1 441.0 885.2 440.6 885.3 440.3 885.5 439.0 885.7 437.2 885.9 434.6 886.1 431.8 886.2 429.1 886.3 427.8 886.5 423.8 886.7 419.7 886.9 416.3 887.1 413.8 887.2 413.1 887.3 413.0 887.5 413.5 887.7 415.6 887.9 419.0 888.1 422.8 888.2 425.3 888.3 426.1 888.5 429.2 888.7 431.3 888.9 432.8 889.1 433.3 889.2 433.0 889.2 433.1 889.3 433.2 889.4 432.7 889.5 432.2 889.6 431.6 889.7 430.9 889.8 429.9 889.9 429.2 890.0 428.5 890.1 428.0 890.2 427.4 890.2 427.4 890.3 427.2 890.4 427.5 890.5 427.7 890.6 428.0 890.7 428.8 890.8 429.8 890.9 430.6 891.0 431.7 891.1 432.7 891.2 433.7 891.2 434.2 891.3 434.9 891.4 435.9 891.5 436.8 891.6 437.6 891.7 438.7 891.9 440.2 892.1 441.1 892.2 441.8 892.3 442.1 892.5 442.7 892.7 443.1 892.9 443.7 893.1 443.9 893.2 443.9 893.3 443.9 893.5 444.0 893.7 444.2 893.9 444.4 894.1 444.6 894.2 444.7 894.3 444.5 894.5 444.6 894.7 444.9 894.9 445.0 895.1 445.2 895.2 445.2 895.3 445.5 895.5 445.5 895.7 445.6 895.9 445.5 896.1 445.7 896.2 445.6 896.3 445.7 896.5 445.8 896.7 445.8 896.9 445.8 897.1 446.0 897.2 446.3 897.3 446.4 897.5 446.2 897.7 446.4 897.9 446.2 898.1 446.2 898.2 446.4 898.3 446.3 898.5 446.3 898.7 446.5 898.9 446.4 899.1 446.5 899.2 446.1 899.3 446.2 900.2 446.4 901.2 446.5 902.2 446.5 903.2 446.6 904.2 446.7 905.2 446.8 906.2 446.9 907.2 446.5 908.2 446.6 909.2 446.9 910.2 447.0 911.2 447.2 912.2 447.3 913.2 447.5 914.2 447.3 915.2 447.8 916.2 447.6 917.2 447.4 918.2 447.2 919.2 447.2 920.2 447.3 921.2 447.5 922.2 447.5 923.2 447.2 924.2 447.3 925.2 447.1 926.2 447.0 927.2 447.3 928.2 447.2 929.2 447.4 930.2 447.2 931.2 447.3 932.2 447.1 933.2 447.3 934.2 447.5 935.2 447.4 936.2 447.3 937.2 447.1 938.2 446.9 939.2 447.2 940.2 447.2 941.2 447.0 942.2 447.2 943.2 447.2 944.2 447.3 945.2 447.1 946.2 447.2 947.2 447.0 948.2 447.1 949.2 447.1 950.2 447.3 951.2 447.1 952.2 447.2 953.2 447.7 954.2 447.7 955.2 447.2 956.2 447.0 957.2 447.3 958.2 447.2 959.2 447.2 960.2 447.2 961.2 447.2 962.2 447.3 963.2 447.1 964.2 447.2 965.2 447.4 966.2 447.2 967.2 447.0 968.2 447.0 969.2 447.3 970.2 447.0 971.2 447.0 972.2 446.8 973.2 446.9 974.2 447.1 975.2 447.2 976.2 447.0 977.2 446.8 978.2 447.0 979.2 446.9 980.2 446.9 981.2 446.5 981.8 446.5 982.0 446.1 982.2 446.3 982.2 446.5 982.4 446.6 982.6 446.6 982.8 446.7 983.0 446.8 983.2 446.6 983.2 446.7 983.4 446.8 983.6 446.9 983.8 446.5 984.0 446.6 984.2 446.7 984.2 446.7 984.4 446.4 984.6 446.4 984.8 446.3 985.0 446.3 985.2 446.2 985.2 446.0 985.4 446.0 985.6 446.1 985.8 446.1 986.0 446.2 986.2 446.1 986.2 446.1 986.4 445.9 986.6 445.8 986.8 445.8 987.0 445.5 987.2 445.7 987.2 445.5 987.4 445.8 987.6 445.8 987.8 445.6 988.0 445.5 988.2 445.3 988.2 445.3 988.4 444.9 988.6 444.9 988.8 444.6 989.0 444.7 989.2 444.6 989.2 444.4 989.4 444.5 989.6 444.5 989.8 444.3 990.0 443.8 990.2 443.8 990.2 443.9 990.4 443.8 990.6 443.8 990.8 443.2 991.0 442.7 991.2 442.4 991.2 442.1 991.4 441.7 991.6 441.0 991.8 440.1 992.0 438.7 992.2 436.6 992.2 435.9 992.4 433.8 992.6 430.7 992.8 426.8 993.0 422.4 993.2 418.0 993.2 416.9 993.4 414.1 993.6 411.2 993.8 410.2 994.0 411.3 994.2 413.8 994.2 414.6 994.4 417.5 994.6 421.5 994.8 425.4 995.0 429.2 995.2 432.0 995.2 432.6 995.4 434.1 995.6 435.2 995.8 435.1 996.0 434.7 996.1 434.3 996.2 433.7 996.2 433.3 996.3 433.0 996.4 432.2 996.5 431.4 996.6 430.2 996.7 429.7 996.8 428.6 996.9 428.0 997.0 427.2 997.1 426.6 997.2 426.4 997.2 426.6 997.3 426.3 997.4 426.7 997.5 427.2 997.6 428.0 997.7 428.7 997.8 430.0 997.9 431.1 998.0 432.2 998.1 433.1 998.2 434.6 998.2 435.0 998.3 435.2 998.4 436.9 998.5 437.7 998.6 438.5 998.8 440.0 999.0 441.3 999.2 442.3 999.2 442.5 999.4 442.8 999.6 443.2 999.8 443.7 1000.0 443.9 1000.2 444.0 1000.2 444.2 1000.4 444.4 1000.6 444.4 1000.8 444.5 1001.0 444.7 1001.2 445.0 1001.2 445.0 1001.4 444.9 1001.6 444.8 1001.8 444.9 1002.0 444.9 1002.2 445.2 1002.2 445.1 1002.4 445.4 1002.6 445.3 1002.8 445.5 1003.0 445.8 1003.2 445.8 1003.2 445.7 1003.4 445.8 1003.6 446.1 1003.8 446.0 1004.0 445.9 1004.2 446.2 1004.2 446.1 1004.4 445.9 1004.6 445.9 1004.8 446.2 1005.0 446.1 1005.2 446.1 1005.2 446.3 1005.4 446.3 1005.6 446.1 1005.8 446.2 1006.2 446.5 1007.2 446.4 1008.2 446.7 1009.2 446.8 1010.2 446.9 1011.2 447.0 1012.2 447.0 1013.2 446.8 1014.2 446.9 1015.2 447.1 1016.2 447.4 1017.2 447.2 1018.2 447.0 1019.2 447.2 1020.2 447.0 1021.2 447.0 1022.2 447.0 1023.2 447.0 1024.2 447.0 1025.2 447.1 1026.2 446.9 1027.2 446.9 1028.2 447.1 1029.2 447.2 1030.2 447.1 1031.2 447.0 1032.2 447.2 1033.2 447.3 1034.2 447.0 1035.2 447.2 1036.2 447.4 1037.2 447.3 1038.2 447.3 1039.2 447.4 1040.2 447.7 1041.2 447.4 1042.2 446.9 1043.2 447.1 1044.2 447.2 1045.2 446.8 1046.2 447.0 1047.2 447.2 1048.2 447.2 1049.2 447.2 1050.2 447.1 1051.2 447.1 1052.2 447.2 1053.2 447.4 1054.2 447.3 1055.2 447.2 1056.2 447.1 1057.2 447.0 1058.2 447.0 1059.2 447.2 1060.2 447.1 1061.2 447.2 1062.2 446.9 1063.2 447.2 1064.2 447.1 1065.2 446.8 1066.2 446.6 1067.2 446.1 1068.2 445.9 1069.2 445.4 1070.2 445.3 1071.2 444.9 1072.2 444.5 1073.2 444.2 1074.2 444.1 1075.2 444.3 1076.2 445.0 1077.2 445.2 1078.2 445.6 1079.2 445.9 1080.2 446.2 1081.2 446.5 1082.2 446.7 1083.2 446.8 1084.2 446.7 1085.2 446.5 1085.7 446.4 1085.9 446.3 1086.1 446.4 1086.2 446.6 1086.3 446.6 1086.5 446.6 1086.7 446.6 1086.9 446.4 1087.1 446.3 1087.2 446.5 1087.3 446.5 1087.5 446.5 1087.7 446.4 1087.9 446.4 1088.1 446.4 1088.2 446.2 1088.3 446.2 1088.5 446.1 1088.7 446.0 1088.9 446.1 1089.1 445.9 1089.2 446.1 1089.3 446.0 1089.5 446.1 1089.7 445.9 1089.9 445.8 1090.1 446.1 1090.2 446.2 1090.3 446.1 1090.5 446.1 1090.7 446.0 1090.9 445.9 1091.1 445.8 1091.2 445.9 1091.3 445.9 1091.5 445.5 1091.7 445.4 1091.9 445.1 1092.1 445.0 1092.2 445.0 1092.3 445.1 1092.5 445.1 1092.7 444.9 1092.9 444.8 1093.1 444.8 1093.2 444.6 1093.3 444.5 1093.5 444.3 1093.7 444.4 1093.9 444.1 1094.1 443.9 1094.2 443.7 1094.3 443.7 1094.5 443.4 1094.7 443.3 1094.9 443.1 1095.1 442.6 1095.2 442.0 1095.3 442.0 1095.5 441.3 1095.7 440.2 1095.9 438.5 1096.1 436.8 1096.2 435.0 1096.3 433.9 1096.5 431.0 1096.7 427.7 1096.9 423.6 1097.1 419.3 1097.2 416.2 1097.3 415.2 1097.5 412.7 1097.7 411.6 1097.9 412.3 1098.1 414.7 1098.2 417.5 1098.3 418.5 1098.5 422.8 1098.7 426.9 1098.9 430.3 1099.1 433.2 1099.2 434.9 1099.3 435.1 1099.5 436.7 1099.7 437.6 1099.9 437.5 1100.1 437.0 1100.2 436.4 1100.3 436.1 1100.4 435.8 1100.5 434.9 1100.6 434.4 1100.7 433.2 1100.8 432.5 1100.9 431.4 1101.0 430.7 1101.1 429.6 1101.2 429.1 1101.2 428.3 1101.3 427.8 1101.4 427.5 1101.5 427.3 1101.6 427.4 1101.7 427.7 1101.8 427.9 1101.9 428.7 1102.0 429.4 1102.1 430.6 1102.2 431.6 1102.2 432.8 1102.3 433.1 1102.4 433.8 1102.5 435.1 1102.6 435.9 1102.7 437.1 1102.8 437.7 1102.9 438.8 1103.1 440.2 1103.2 441.1 1103.3 441.5 1103.5 442.1 1103.7 443.0 1103.9 443.4 1104.1 443.6 1104.2 443.6 1104.3 443.7 1104.5 443.8 1104.7 444.1 1104.9 444.7 1105.1 444.7 1105.2 444.9 1105.3 444.9 1105.5 444.9 1105.7 445.3 1105.9 445.4 1106.1 445.2 1106.2 445.3 1106.3 445.1 1106.5 445.3 1106.7 445.4 1106.9 445.7 1107.1 445.7 1107.2 445.6 1107.3 445.7 1107.5 445.8 1107.7 445.7 1107.9 445.8 1108.1 446.0 1108.2 446.4 1108.3 446.3 1108.5 446.1 1108.7 446.2 1108.9 446.1 1109.1 446.0 1109.2 446.1 1109.3 445.9 1109.5 446.5 1109.7 446.5 1110.2 446.4 1111.2 446.6 1111.7 446.4 1111.9 446.0 1112.1 446.3 1112.2 446.5 1112.3 446.4 1112.5 446.4 1112.7 446.5 1112.9 446.4 1113.1 446.6 1113.2 446.6 1113.3 446.6 1113.5 446.3 1113.7 446.3 1113.9 446.3 1114.1 446.4 1114.2 446.3 1114.3 446.3 1114.5 446.2 1114.7 446.3 1114.9 446.1 1115.1 446.1 1115.2 446.4 1115.3 446.5 1115.5 446.7 1115.7 446.8 1115.9 446.9 1116.1 446.8 1116.2 446.6 1116.3 446.4 1116.5 446.5 1116.7 446.6 1116.9 446.4 1117.1 446.5 1117.2 446.5 1117.3 446.5 1117.5 446.3 1117.7 446.0 1117.9 445.9 1118.1 446.0 1118.2 446.2 1118.3 446.2 1118.5 446.4 1118.7 446.1 1118.9 446.3 1119.1 446.3 1119.2 446.1 1119.3 446.0 1119.5 446.1 1119.7 445.9 1119.9 445.7 1120.1 445.7 1120.2 445.8 1120.3 445.7 1120.5 445.6 1120.7 445.7 1120.9 445.5 1121.1 445.4 1121.2 445.5 1121.3 445.5 1121.5 445.0 1121.7 444.4 1121.9 443.8 1122.1 443.3 1122.2 442.7 1122.3 442.4 1122.5 441.2 1122.7 439.7 1122.9 438.3 1123.1 436.9 1123.2 435.6 1123.3 435.2 1123.5 434.4 1123.7 434.0 1123.9 434.3 1124.1 435.2 1124.2 435.9 1124.3 436.2 1124.5 437.8 1124.7 439.4 1124.9 440.6 1125.1 441.8 1125.2 442.5 1125.3 442.5 1125.5 443.2 1125.7 443.6 1125.9 443.7 1126.1 443.6 1126.2 443.5 1126.3 443.7 1126.5 442.9 1126.5 443.1 1126.7 442.6 1126.7 442.5 1126.9 441.8 1126.9 441.7 1127.1 441.1 1127.1 441.0 1127.2 440.8 1127.3 440.7 1127.3 440.4 1127.5 440.2 1127.5 440.0 1127.7 439.8 1127.7 439.7 1127.9 440.1 1127.9 440.2 1128.1 440.8 1128.1 440.6 1128.2 441.0 1128.3 441.2 1128.3 441.5 1128.5 442.1 1128.5 442.5 1128.7 443.1 1128.7 443.0 1128.9 443.8 1128.9 443.9 1129.1 444.6 1129.2 444.9 1129.3 444.8 1129.5 445.3 1129.7 445.5 1129.9 445.5 1130.1 445.7 1130.2 445.9 1130.3 445.8 1130.5 446.1 1130.7 446.0 1130.9 446.0 1131.1 446.3 1131.2 446.4 1131.3 446.5 1131.5 446.7 1131.7 446.6 1131.9 446.8 1132.1 446.4 1132.2 446.4 1132.3 446.8 1132.5 446.5 1132.7 446.3 1132.9 446.4 1133.1 446.4 1133.2 446.5 1133.3 446.5 1133.5 446.5 1133.7 446.7 1133.9 446.7 1134.1 446.8 1134.2 446.8 1134.3 446.7 1134.5 446.8 1134.7 446.7 1134.9 446.7 1135.1 446.9 1135.2 446.8 1135.3 447.0 1135.5 446.9 1135.7 446.9 1136.2 447.0 1137.2 447.1 1138.2 447.1 1139.2 446.8 1140.2 447.0 1141.2 447.4 1142.2 447.1 1143.2 447.0 1144.2 447.0 1145.2 447.2 1146.2 447.1 1147.2 447.1 1148.2 447.1 1149.2 446.9 1150.2 447.0 1151.2 447.3 1152.2 447.3 1153.2 447.2 1154.2 447.2 1155.2 447.1 1156.2 446.9 1157.2 447.0 1158.2 447.1 1158.5 446.9 1158.7 446.7 1158.9 446.9 1159.1 447.2 1159.2 447.3 1159.3 447.3 1159.5 447.1 1159.7 447.3 1159.9 447.2 1160.1 447.0 1160.2 446.9 1160.3 447.1 1160.5 447.1 1160.7 447.2 1160.9 447.0 1161.1 447.0 1161.2 446.9 1161.3 447.1 1161.5 446.8 1161.7 447.0 1161.9 446.8 1162.1 446.8 1162.2 446.7 1162.3 447.0 1162.5 446.9 1162.7 446.9 1162.9 446.8 1163.1 446.7 1163.2 446.8 1163.3 446.8 1163.5 446.7 1163.7 446.8 1163.9 446.9 1164.1 446.9 1164.2 446.8 1164.3 446.8 1164.5 446.6 1164.7 446.7 1164.9 446.5 1165.1 446.4 1165.2 446.6 1165.3 446.3 1165.5 446.3 1165.7 446.3 1165.9 446.4 1166.1 446.5 1166.2 446.4 1166.3 446.8 1166.5 446.4 1166.7 446.2 1166.9 446.0 1167.1 446.0 1167.2 446.1 1167.3 446.1 1167.5 445.9 1167.7 445.9 1167.9 445.8 1168.1 445.7 1168.2 445.1 1168.3 445.1 1168.5 444.9 1168.7 444.4 1168.9 443.4 1169.1 442.6 1169.2 441.7 1169.3 441.4 1169.5 440.4 1169.7 438.6 1169.9 437.0 1170.1 435.6 1170.2 434.7 1170.3 434.6 1170.5 434.0 1170.7 434.5 1170.9 435.2 1171.1 436.9 1171.2 438.1 1171.3 438.5 1171.5 440.1 1171.7 441.4 1171.9 442.3 1172.1 443.0 1172.2 443.5 1172.3 443.6 1172.5 443.8 1172.7 443.7 1172.9 443.9 1173.1 443.9 1173.2 443.8 1173.3 443.5 1173.5 443.1 1173.5 442.8 1173.7 442.6 1173.7 442.4 1173.9 441.8 1173.9 441.6 1174.1 441.0 1174.1 441.1 1174.2 440.5 1174.3 440.4 1174.3 440.5 1174.5 440.0 1174.5 440.0 1174.7 440.0 1174.7 440.0 1174.9 440.4 1174.9 440.4 1175.1 440.9 1175.1 441.0 1175.2 441.8 1175.3 441.8 1175.3 442.1 1175.5 442.7 1175.5 442.6 1175.7 443.2 1175.7 443.4 1175.9 443.9 1175.9 443.8 1176.1 444.5 1176.2 444.8 1176.3 445.1 1176.5 445.4 1176.7 445.7 1176.9 445.8 1177.1 445.8 1177.2 446.0 1177.3 446.1 1177.5 446.1 1177.7 446.1 1177.9 446.1 1178.1 445.9 1178.2 446.3 1178.3 446.3 1178.5 446.2 1178.7 446.4 1178.9 446.5 1179.1 446.9 1179.2 446.9 1179.3 447.0 1179.5 446.9 1179.7 447.1 1179.9 447.0 1180.1 447.1 1180.2 447.0 1180.3 446.9 1180.5 446.7 1180.7 446.9 1180.9 447.0 1181.1 447.2 1181.2 447.0 1181.3 446.6 1181.5 446.9 1181.7 446.6 1181.9 446.7 1182.1 446.7 1182.2 446.7 1182.3 446.6 1182.5 446.6 1183.2 446.6 1184.2 446.9 1185.2 446.9 1186.2 447.1 1187.2 446.9 1188.2 447.4 1189.2 447.6 1190.2 447.5 1191.2 447.5 1192.2 447.6 1193.2 447.4 1194.2 447.4 1195.2 447.6 1196.2 447.2 1197.2 447.3 1198.2 447.4 1199.2 447.3 1200.2 447.5 1201.2 447.5 1202.2 447.4 1203.2 447.5 1204.2 447.4 1205.2 447.5 1206.2 447.6 1207.2 447.4 1208.2 447.7 1209.2 447.5 1210.2 447.5 1211.2 447.4 1212.2 447.6 1213.2 447.4 1214.2 447.3 1215.2 447.4 1216.2 447.2 1217.2 447.3 1218.2 447.4 1219.2 447.7 1220.2 447.4 1221.2 447.2 1222.2 447.2 1223.2 447.4 1224.2 447.5 1225.2 447.4 1226.2 447.6 1227.2 447.4 1228.2 447.5 1229.2 447.4 1230.2 447.7 1231.2 447.8 1232.2 447.8 1233.2 447.6 1234.2 447.3 1235.2 447.3 1236.2 447.3 1237.2 447.2 1238.2 447.2 1239.2 447.3 1240.2 447.4 1241.2 447.6 1242.2 447.7 1243.2 447.8 1244.2 447.4 1245.2 447.5 1246.2 447.8 1247.2 447.8 1248.2 447.8 1249.2 447.8 1250.2 447.6 1251.2 447.5 1252.2 447.4 1253.2 447.3 1254.2 447.3 1255.2 447.3 1256.2 447.5 1257.2 447.6 1258.0 447.6 1258.2 447.8 1258.2 447.7 1258.4 447.7 1258.6 447.5 1258.8 447.5 1259.0 447.6 1259.2 447.3 1259.2 447.5 1259.4 447.4 1259.6 447.4 1259.8 447.6 1260.0 447.5 1260.2 447.5 1260.2 447.5 1260.4 447.4 1260.6 447.2 1260.8 447.4 1261.0 447.5 1261.2 447.4 1261.2 447.4 1261.4 447.4 1261.6 447.4 1261.8 447.5 1262.0 447.5 1262.2 447.5 1262.2 447.6 1262.4 447.4 1262.6 447.5 1262.8 447.3 1263.0 447.3 1263.2 447.5 1263.2 447.3 1263.4 447.4 1263.6 447.4 1263.8 447.3 1264.0 447.3 1264.2 447.2 1264.2 447.0 1264.4 447.3 1264.6 447.4 1264.8 447.3 1265.0 447.1 1265.2 447.0 1265.2 447.3 1265.4 447.1 1265.6 447.1 1265.8 447.4 1266.0 447.0 1266.2 446.9 1266.2 446.9 1266.4 446.9 1266.6 446.7 1266.8 446.8 1267.0 446.7 1267.2 446.6 1267.2 446.8 1267.4 446.8 1267.6 446.9 1267.8 446.7 1268.0 446.9 1268.2 446.6 1268.2 446.6 1268.4 446.3 1268.6 446.3 1268.8 445.7 1269.0 445.4 1269.2 445.1 1269.2 444.9 1269.4 444.6 1269.6 444.2 1269.8 443.9 1270.0 443.9 1270.2 444.3 1270.2 444.3 1270.4 444.5 1270.6 444.7 1270.8 445.0 1271.0 445.4 1271.2 445.7 1271.2 446.1 1271.4 446.2 1271.6 446.6 1271.8 446.7 1272.0 446.9 1272.2 446.6 1272.2 446.9 1272.4 446.7 1272.6 446.8 1272.8 446.7 1273.0 446.6 1273.2 446.6 1273.2 446.4 1273.4 446.5 1273.4 446.2 1273.6 445.9 1273.6 446.2 1273.8 446.2 1273.8 446.0 1274.0 445.9 1274.0 445.8 1274.2 445.9 1274.2 445.9 1274.2 446.0 1274.4 445.8 1274.4 446.0 1274.6 445.7 1274.6 445.9 1274.8 445.9 1274.8 445.6 1275.0 445.9 1275.0 445.9 1275.2 446.2 1275.2 446.0 1275.2 446.0 1275.4 446.0 1275.4 446.3 1275.6 446.5 1275.6 446.1 1275.8 446.5 1275.8 446.6 1276.0 447.1 1276.2 447.1 1276.2 447.1 1276.4 447.0 1276.6 446.6 1276.8 447.0 1277.0 447.0 1277.2 447.2 1277.2 447.2 1277.4 446.9 1277.6 447.0 1277.8 447.2 1278.0 447.4 1278.2 447.5 1278.2 447.3 1278.4 447.1 1278.6 447.2 1278.8 447.1 1279.0 447.4 1279.2 447.3 1279.2 447.4 1279.4 447.4 1279.6 447.5 1279.8 447.5 1280.0 447.5 1280.2 447.5 1280.2 447.3 1280.4 447.1 1280.6 447.0 1280.8 447.3 1281.0 447.2 1281.2 447.3 1281.2 447.1 1281.4 447.1 1281.6 447.6 1281.8 447.8 1282.0 447.7 1282.2 447.6 1283.2 447.6 1284.2 447.9 1285.2 447.5 1286.2 447.5 1287.2 447.4 1288.2 447.0 1289.2 447.2 1290.2 447.5 1291.2 447.4 1292.2 447.3 1293.2 447.5 1294.2 447.4 1295.2 447.4 1296.2 447.4 1297.2 447.4 1298.2 447.4 1299.2 447.6 1300.2 447.6 1301.2 447.9 1302.2 447.5 1303.2 447.6 1304.2 447.5 1305.2 447.8 1306.2 447.5 1307.2 447.5 1308.2 447.6 1309.2 447.4 1310.2 447.5 1311.2 447.5 1312.2 447.6 1313.2 447.6 1314.2 447.4 1315.2 447.5 1316.2 447.2 1317.2 447.1 1318.2 447.1 1319.2 447.2 1320.2 447.4 1321.2 447.9 1322.2 447.9 1323.2 447.7 1324.2 447.7 1325.2 447.8 1326.2 447.7 1327.2 447.6 1328.0 447.2 1328.2 447.0 1328.2 447.2 1328.4 447.5 1328.6 447.4 1328.8 447.8 1329.0 447.7 1329.2 447.4 1329.2 447.5 1329.4 447.3 1329.6 447.5 1329.8 447.4 1330.0 447.3 1330.2 447.3 1330.2 447.6 1330.4 447.3 1330.6 447.5 1330.8 447.7 1331.0 447.7 1331.2 447.5 1331.2 447.6 1331.4 447.4 1331.6 447.3 1331.8 447.5 1332.0 447.2 1332.2 447.3 1332.2 447.2 1332.4 447.2 1332.6 447.2 1332.8 447.2 1333.0 447.4 1333.2 447.2 1333.2 447.1 1333.4 446.9 1333.6 447.1 1333.8 447.1 1334.0 447.2 1334.2 447.2 1334.2 447.0 1334.4 447.1 1334.6 447.3 1334.8 447.0 1335.0 447.0 1335.2 447.0 1335.2 447.0 1335.4 446.9 1335.6 446.9 1335.8 446.8 1336.0 447.1 1336.2 446.9 1336.2 446.8 1336.4 446.6 1336.6 446.8 1336.8 446.6 1337.0 446.8 1337.2 446.8 1337.2 446.8 1337.4 446.9 1337.6 446.8 1337.8 446.6 1338.0 446.4 1338.2 446.3 1338.2 446.1 1338.4 445.8 1338.6 445.7 1338.8 445.2 1339.0 444.8 1339.2 444.1 1339.2 443.6 1339.4 443.1 1339.6 442.3 1339.8 442.0 1340.0 441.9 1340.2 442.2 1340.2 442.3 1340.4 442.5 1340.6 443.3 1340.8 443.7 1341.0 444.1 1341.2 444.9 1341.2 445.1 1341.4 445.5 1341.6 445.7 1341.8 446.1 1342.0 446.4 1342.2 446.4 1342.2 446.4 1342.4 446.4 1342.6 446.5 1342.8 446.3 1343.0 446.5 1343.2 446.2 1343.2 446.1 1343.4 446.2 1343.6 446.0 1343.7 445.7 1343.8 445.6 1343.9 445.5 1344.0 445.4 1344.1 445.1 1344.2 445.0 1344.2 444.9 1344.3 445.2 1344.4 444.8 1344.5 444.9 1344.6 444.8 1344.7 444.8 1344.8 444.6 1344.9 444.6 1345.0 444.5 1345.1 444.7 1345.2 444.5 1345.2 444.9 1345.3 444.8 1345.4 444.9 1345.5 445.1 1345.6 445.6 1345.7 445.6 1345.8 446.0 1345.9 446.0 1346.0 446.1 1346.1 446.0 1346.2 446.2 1346.2 446.2 1346.4 446.3 1346.6 446.4 1346.8 446.5 1347.0 446.8 1347.2 447.0 1347.2 447.2 1347.4 446.9 1347.6 447.2 1347.8 447.3 1348.0 447.2 1348.2 447.4 1348.2 447.3 1348.4 447.0 1348.6 447.2 1348.8 447.0 1349.0 447.2 1349.2 447.0 1349.2 446.8 1349.4 447.1 1349.6 447.1 1349.8 447.1 1350.0 447.4 1350.2 447.4 1350.2 447.5 1350.4 447.4 1350.6 447.3 1350.8 447.0 1351.0 447.3 1351.2 447.3 1351.2 447.4 1351.4 447.3 1351.6 447.0 1351.8 447.2 1352.0 447.4 1352.2 447.1 1353.2 447.0 1354.2 447.4 1355.2 447.6 1356.2 447.5 1357.2 447.5 1358.2 447.6 1359.2 447.6 1360.2 447.4 1361.2 447.6 1362.2 447.8 1363.2 447.7 1364.2 447.6 1365.2 447.5 1366.2 447.6 1367.2 447.6 1368.2 447.5 1369.2 447.2 1370.2 447.1 1371.2 447.3 1372.2 447.4 1373.2 447.4 1374.2 447.1 1375.2 447.1 1376.2 447.5 1377.2 447.3 1378.2 447.3 1379.2 447.5 1380.2 447.7 1381.2 447.5 1382.2 447.5 1383.2 447.6 1384.2 447.6 1385.2 447.5 1386.2 447.5 1387.2 447.6 1388.2 447.8 1389.2 447.7 1390.2 447.4 1391.2 447.3 1392.2 447.2 1393.2 447.4 1394.2 447.7 1395.2 447.7 1396.2 447.4 1397.2 447.4 1398.2 447.4 1399.2 447.6 1400.2 447.6 1401.2 447.7 1402.2 447.5 1403.2 447.8" stroke="#B177DE"/><path d="M89.2 334.5L90.2 334.6 91.2 334.8 92.2 334.9 93.2 334.7 94.2 334.6 95.2 334.6 96.2 334.8 97.2 335.0 98.2 334.7 99.2 334.7 100.2 334.8 101.2 335.0 102.2 335.1 103.2 335.2 104.2 335.0 105.2 334.9 106.2 335.0 107.2 335.0 108.2 335.4 109.2 335.3 110.2 335.2 111.2 335.0 112.2 335.1 113.2 335.0 114.2 335.2 115.2 335.1 116.2 335.0 117.2 335.0 118.2 335.0 119.2 335.1 120.2 334.7 121.2 334.8 122.2 335.0 123.2 334.9 124.2 335.2 125.2 335.2 126.2 335.3 127.2 335.4 128.2 335.3 129.2 335.5 130.2 335.6 131.2 335.3 132.2 335.3 133.2 335.2 134.2 335.2 135.2 335.3 136.2 335.3 137.2 335.3 138.2 335.5 139.2 335.7 140.2 335.7 141.2 335.8 142.2 335.6 143.2 335.6 144.2 335.7 145.2 335.6 146.2 335.7 147.2 335.7 148.2 335.8 149.2 335.9 150.2 335.8 151.2 335.7 152.2 335.6 153.2 335.9 154.2 336.0 155.2 335.7 156.2 335.5 157.2 335.3 158.2 335.5 159.2 335.5 160.2 335.3 161.2 335.6 162.2 335.7 163.2 336.0 164.2 336.0 165.2 335.8 166.2 335.8 167.2 335.9 168.2 335.8 169.2 335.6 170.2 335.7 171.2 335.8 172.2 336.0 173.2 335.9 174.2 336.0 175.2 336.3 176.2 336.1 177.2 335.9 178.2 335.9 179.2 336.0 180.2 335.9 181.2 336.2 182.2 336.1 183.2 336.0 184.2 336.1 185.2 336.3 186.2 336.2 187.2 336.2 188.2 336.3 189.2 336.5 190.2 336.3 191.2 336.4 192.2 336.5 193.2 336.5 194.2 336.4 195.2 336.4 196.2 336.2 197.2 336.2 198.2 336.2 199.2 336.2 200.2 336.3 201.2 336.6 202.2 336.6 203.2 336.4 204.2 336.6 205.2 336.4 206.2 336.5 207.2 336.4 208.2 336.5 209.2 336.8 210.2 336.6 211.2 336.5 212.2 336.5 213.2 336.6 214.2 336.2 215.2 336.7 216.2 336.5 217.2 336.6 218.2 336.7 219.2 336.5 220.2 336.5 221.2 336.7 222.2 336.6 223.2 336.7 224.2 336.7 225.2 336.7 226.2 336.7 227.2 336.7 228.2 336.6 229.2 336.8 230.2 336.7 231.2 336.6 232.2 336.0 233.2 335.4 234.2 335.7 235.2 336.3 236.2 336.6 237.2 336.9 238.2 336.6 239.2 336.7 240.2 336.8 241.2 336.9 242.2 337.0 243.2 337.1 244.2 337.0 245.2 337.1 246.2 336.9 247.2 336.9 248.2 337.1 249.2 337.0 250.2 337.2 251.2 337.0 252.2 336.9 253.2 337.1 254.2 336.8 255.2 336.9 256.2 336.6 257.2 336.6 258.2 336.8 259.2 336.9 260.2 337.1 261.2 336.9 262.2 337.2 263.2 337.1 264.2 336.9 265.2 337.0 266.2 337.1 267.2 337.2 268.2 337.3 269.2 337.1 270.2 336.8 271.2 337.2 272.2 337.2 273.2 337.2 274.2 337.4 275.2 337.4 276.2 337.2 277.2 336.9 278.2 336.8 279.2 336.7 280.2 337.0 281.2 337.1 282.2 337.1 283.2 337.1 284.2 337.1 285.2 337.1 286.2 337.2 287.2 337.3 288.2 337.3 289.2 337.4 290.2 337.3 291.2 337.5 292.2 337.7 293.2 337.5 294.2 337.4 295.2 337.4 296.2 337.3 297.2 337.5 298.2 337.5 299.2 337.1 300.2 337.4 301.2 337.5 302.2 337.2 303.2 337.3 304.2 337.3 305.2 337.4 306.2 337.4 307.2 337.8 308.2 337.8 309.2 338.0 310.2 337.9 311.2 337.7 312.2 337.8 313.2 337.9 314.2 337.7 315.2 337.7 316.2 337.7 317.2 337.7 318.2 337.8 319.2 337.4 320.2 337.6 321.2 337.7 322.2 337.6 323.2 337.8 324.2 337.7 325.2 338.0 326.2 337.9 327.2 337.8 328.2 337.8 329.2 337.8 330.2 337.9 331.2 337.7 332.2 337.6 333.2 337.5 334.2 337.7 335.2 337.6 336.2 337.7 337.2 337.6 338.2 337.5 339.2 337.5 340.2 337.5 341.2 337.5 342.2 337.8 343.2 337.8 344.2 337.9 345.2 337.8 346.2 337.8 347.2 337.5 348.2 337.6 349.2 337.5 350.2 337.7 351.2 337.7 352.2 337.7 353.2 337.5 354.2 337.7 355.2 337.8 356.2 337.4 357.2 337.5 358.2 337.5 359.2 337.6 360.2 338.1 361.2 337.9 362.2 338.1 363.2 338.1 364.2 337.9 365.2 337.7 366.2 337.6 367.2 337.7 368.2 337.7 369.2 337.9 370.2 337.9 371.2 337.9 372.2 337.8 373.2 337.9 374.2 337.8 375.2 337.8 376.2 337.7 377.2 337.8 378.2 337.9 379.2 338.0 380.2 337.9 381.2 337.7 382.2 337.7 383.2 337.8 384.2 337.7 385.2 337.8 386.2 337.8 387.2 337.9 388.2 337.7 389.2 338.0 390.2 337.7 391.2 337.9 392.2 337.9 393.2 338.0 394.2 337.8 395.2 337.8 396.2 337.6 397.2 337.6 398.2 337.3 399.2 337.4 400.2 337.4 401.2 337.6 402.2 337.7 403.2 337.4 403.2 337.5 403.4 337.5 403.6 337.3 403.8 337.0 404.0 337.1 404.2 337.1 404.2 337.3 404.4 337.2 404.6 337.4 404.8 337.1 405.0 337.1 405.2 337.1 405.2 337.4 405.4 337.4 405.6 337.1 405.8 337.2 406.0 337.1 406.2 337.1 406.2 337.0 406.4 336.8 406.6 336.7 406.8 336.5 407.0 336.6 407.2 336.7 407.2 336.6 407.4 336.8 407.6 336.5 407.8 336.4 408.0 336.4 408.2 336.2 408.2 336.1 408.4 336.2 408.6 336.2 408.8 336.2 409.0 336.1 409.2 335.9 409.2 336.1 409.4 336.0 409.6 336.1 409.8 336.3 410.0 336.2 410.2 335.8 410.2 336.3 410.4 335.9 410.6 335.7 410.8 335.3 411.0 334.8 411.2 334.7 411.2 334.8 411.4 334.7 411.6 334.7 411.8 334.5 412.0 334.3 412.2 334.3 412.2 334.0 412.4 333.8 412.6 333.4 412.8 332.8 413.0 332.2 413.2 331.5 413.2 330.9 413.4 330.0 413.6 328.4 413.8 326.4 414.0 323.7 414.2 320.6 414.2 319.8 414.4 317.3 414.6 313.4 414.8 310.0 415.0 307.2 415.2 305.8 415.2 305.4 415.4 305.2 415.6 306.1 415.6 306.4 415.8 307.7 415.8 308.1 416.0 309.6 416.0 310.0 416.2 311.2 416.2 311.8 416.2 311.9 416.4 312.9 416.4 313.3 416.6 314.3 416.6 314.5 416.8 315.8 416.8 316.1 417.0 317.5 417.0 317.7 417.2 319.3 417.2 319.7 417.2 320.0 417.4 321.7 417.4 322.2 417.6 323.8 417.6 324.4 417.8 326.1 417.8 326.7 418.0 328.2 418.0 328.2 418.2 329.7 418.2 330.3 418.4 331.2 418.6 332.0 418.8 332.6 419.0 333.0 419.2 333.5 419.2 333.8 419.4 334.0 419.6 334.3 419.8 334.5 420.0 334.5 420.2 334.5 420.2 334.7 420.4 334.7 420.6 334.9 420.8 335.3 421.0 335.3 421.2 335.3 421.2 335.4 421.4 335.5 421.6 335.6 421.8 335.8 422.0 335.9 422.2 336.1 422.2 336.3 422.4 336.1 422.6 335.8 422.8 335.9 423.0 335.9 423.2 335.9 423.2 336.3 423.4 336.4 423.6 336.5 423.8 336.5 424.0 336.7 424.2 336.9 424.2 336.6 424.4 336.8 424.6 336.8 424.8 336.6 425.0 336.6 425.2 336.7 425.2 336.8 425.4 336.7 425.6 337.0 425.8 337.0 426.0 337.1 426.2 336.9 426.2 336.9 426.4 337.3 426.6 337.0 426.8 337.1 427.0 337.1 427.2 337.2 427.2 337.3 428.2 337.5 429.2 337.5 430.2 337.2 431.2 337.5 432.2 337.8 433.2 337.5 434.2 337.4 435.2 337.5 436.2 337.3 437.2 337.3 438.2 337.4 439.2 337.3 440.2 337.2 441.2 337.3 442.2 337.1 443.2 337.2 444.2 336.9 445.0 336.6 445.2 336.7 445.2 336.8 445.4 336.5 445.6 336.3 445.8 336.3 446.0 336.4 446.2 336.3 446.2 336.3 446.4 336.2 446.6 336.4 446.8 336.0 447.0 335.9 447.2 335.8 447.2 336.0 447.4 336.2 447.6 336.2 447.8 336.0 448.0 335.8 448.2 335.8 448.2 335.7 448.4 335.5 448.6 335.5 448.8 335.4 449.0 335.4 449.2 335.0 449.2 334.9 449.4 334.8 449.6 334.7 449.8 334.6 450.0 334.3 450.2 333.9 450.2 333.9 450.4 333.6 450.6 333.8 450.8 333.6 451.0 333.1 451.2 332.8 451.2 332.8 451.4 332.8 451.6 332.7 451.8 332.4 452.0 331.7 452.2 331.4 452.2 331.1 452.4 330.8 452.6 330.3 452.8 329.9 453.0 329.1 453.2 328.5 453.2 328.3 453.4 327.4 453.6 326.3 453.8 325.2 454.0 323.9 454.2 321.9 454.2 321.4 454.4 319.2 454.6 316.0 454.8 310.7 455.0 303.3 455.2 292.5 455.2 289.3 455.4 277.7 455.6 257.3 455.8 232.0 456.0 201.4 456.2 166.9 456.2 158.2 456.4 131.5 456.6 98.6 456.8 72.8 457.0 59.4 457.2 59.5 457.2 61.4 457.4 71.1 457.6 84.7 457.6 88.5 457.8 103.2 457.8 106.7 458.0 120.0 458.0 123.0 458.2 133.6 458.2 136.2 458.2 138.8 458.4 144.6 458.4 146.4 458.6 154.6 458.6 156.5 458.8 165.9 458.8 168.7 459.0 181.2 459.0 184.6 459.2 199.9 459.2 203.9 459.2 209.1 459.4 220.2 459.4 224.6 459.6 240.6 459.6 244.6 459.8 259.7 459.8 263.1 460.0 276.3 460.0 279.2 460.2 292.3 460.2 295.0 460.4 302.7 460.6 310.5 460.8 315.9 461.0 319.9 461.2 322.5 461.2 323.3 461.4 324.8 461.6 326.1 461.8 327.1 462.0 328.3 462.2 328.9 462.2 329.2 462.4 329.9 462.6 330.2 462.8 330.8 463.0 331.4 463.2 331.9 463.2 332.2 463.4 332.2 463.6 332.6 463.8 333.0 464.0 333.4 464.2 333.6 464.2 333.7 464.4 333.6 464.6 333.9 464.8 334.1 465.0 334.4 465.2 334.3 465.2 334.3 465.4 334.6 465.6 334.7 465.8 335.0 466.0 335.3 466.2 335.3 466.2 335.5 466.4 335.6 466.6 335.7 466.8 335.7 467.0 336.0 467.2 335.9 467.2 336.0 467.4 336.1 467.6 336.0 467.8 336.1 468.0 336.2 468.2 336.1 468.2 336.1 468.4 336.2 468.6 336.2 468.8 336.2 469.0 336.3 469.2 336.4 470.2 336.6 471.2 336.7 472.2 336.8 473.2 336.9 474.2 337.2 475.2 337.4 476.2 337.3 477.2 337.3 478.2 337.4 479.2 337.4 480.2 337.5 481.2 337.2 482.2 337.1 483.2 337.2 484.2 337.1 485.2 337.2 486.2 336.9 486.8 336.6 487.0 337.1 487.2 337.2 487.2 337.0 487.4 337.1 487.6 336.9 487.8 336.7 488.0 336.8 488.2 336.4 488.2 336.3 488.4 336.2 488.6 336.5 488.8 336.3 489.0 336.3 489.2 336.3 489.2 336.4 489.4 336.3 489.6 336.4 489.8 336.3 490.0 336.1 490.2 336.0 490.2 336.0 490.4 336.0 490.6 336.1 490.8 335.8 491.0 335.6 491.2 335.2 491.2 335.3 491.4 335.3 491.6 335.3 491.8 335.0 492.0 334.9 492.2 334.6 492.2 334.5 492.4 334.3 492.6 334.2 492.8 334.0 493.0 334.0 493.2 333.8 493.2 333.8 493.4 333.5 493.6 333.3 493.8 332.9 494.0 332.4 494.2 332.0 494.2 331.9 494.4 331.8 494.6 331.1 494.8 331.0 495.0 330.3 495.2 329.5 495.2 329.4 495.4 328.7 495.6 327.9 495.8 326.6 496.0 325.4 496.2 323.5 496.2 323.3 496.4 321.1 496.6 317.2 496.8 311.8 497.0 303.5 497.2 292.5 497.2 289.2 497.4 277.5 497.6 258.6 497.8 236.4 498.0 211.0 498.2 184.9 498.2 178.6 498.4 160.5 498.6 142.3 498.8 133.1 499.0 134.4 499.2 144.0 499.2 147.0 499.4 157.8 499.5 163.4 499.6 172.3 499.7 177.7 499.8 185.2 499.9 189.5 500.0 194.5 500.1 197.5 500.2 201.0 500.2 202.2 500.3 203.0 500.4 205.9 500.5 208.1 500.6 211.6 500.7 214.9 500.8 219.8 500.9 224.0 501.0 231.3 501.1 236.5 501.2 244.7 501.2 248.3 501.3 250.7 501.4 259.5 501.5 265.7 501.6 274.0 501.7 279.4 501.8 286.7 501.9 291.2 502.0 297.7 502.2 306.2 502.2 308.1 502.4 313.1 502.6 317.9 502.8 321.5 503.0 324.1 503.2 325.7 503.2 326.1 503.4 327.0 503.6 327.8 503.8 328.6 504.0 328.8 504.2 329.3 504.2 329.1 504.4 329.3 504.6 329.5 504.8 329.7 505.0 330.0 505.2 329.7 505.2 329.7 505.4 329.1 505.6 329.0 505.8 328.4 506.0 327.9 506.2 327.5 506.2 327.7 506.4 327.5 506.6 327.0 506.8 326.5 507.0 325.9 507.2 325.4 507.2 325.4 507.4 324.7 507.6 324.6 507.8 324.3 508.0 324.1 508.2 323.9 508.2 324.1 508.4 324.0 508.6 324.3 508.8 324.3 509.0 324.7 509.2 325.2 509.2 325.3 509.4 325.7 509.6 326.1 509.8 327.0 510.0 327.4 510.2 328.4 510.2 328.8 510.4 329.1 510.6 329.8 510.8 330.6 511.2 331.7 512.2 334.1 513.2 335.8 514.2 336.8 515.2 337.3 516.2 337.4 517.2 337.5 518.2 337.5 519.2 337.4 520.2 337.6 521.2 338.1 522.2 338.1 523.2 338.3 524.2 338.2 525.2 338.1 526.2 338.0 527.2 337.9 528.2 337.9 529.2 337.8 530.2 338.0 531.2 338.4 532.2 338.3 533.2 338.4 534.2 338.4 535.2 338.4 536.2 338.4 537.2 338.5 538.2 338.2 539.2 338.3 540.2 338.1 541.2 338.3 542.2 338.2 543.2 338.4 544.2 338.5 545.2 338.6 546.2 338.5 547.2 338.5 548.2 338.5 549.2 338.5 550.2 338.4 551.2 338.6 552.2 338.6 553.2 338.6 554.2 338.6 555.2 338.5 556.2 338.8 557.2 338.6 558.2 338.7 559.2 338.7 560.2 338.8 561.2 338.8 562.2 338.6 563.2 338.7 564.2 338.5 565.2 338.6 566.2 338.7 567.2 338.4 568.2 338.6 569.2 338.8 570.2 338.6 571.2 338.8 572.2 338.9 573.2 338.8 574.2 338.6 575.2 338.8 576.2 338.7 577.2 338.4 578.2 338.5 579.2 338.6 580.2 338.9 581.2 338.7 582.2 338.7 583.2 338.7 584.2 338.7 585.2 338.7 586.2 338.9 587.2 338.9 588.2 339.0 589.2 338.7 590.2 338.9 591.2 338.7 592.2 338.6 593.2 338.7 594.2 338.8 595.2 339.0 596.2 338.8 597.2 338.8 598.2 339.0 599.2 338.7 600.2 339.0 601.2 338.9 602.2 338.6 603.2 338.6 604.2 338.8 605.2 338.8 606.2 338.9 607.2 339.0 608.2 338.9 609.2 338.7 610.2 338.8 611.2 338.6 612.2 338.8 613.2 338.9 614.2 338.9 615.2 338.9 616.2 339.0 617.2 338.8 618.2 338.6 619.2 338.5 620.2 338.6 621.2 339.0 622.2 338.9 623.2 338.8 624.2 338.7 625.2 338.8 626.2 338.8 627.2 338.9 628.2 338.9 629.2 338.6 630.2 338.4 631.2 338.7 632.2 338.8 633.2 338.7 634.2 338.8 635.2 339.0 636.2 338.7 637.2 338.8 638.2 338.8 639.2 338.8 640.2 338.8 641.2 338.5 642.2 338.7 643.2 338.9 644.2 338.8 645.2 338.8 646.2 338.8 647.2 338.8 648.2 338.9 649.2 338.9 650.2 339.3 651.2 339.2 652.2 338.9 653.2 339.0 654.2 339.1 655.2 338.7 656.2 338.9 657.2 338.8 658.2 338.8 659.2 338.8 660.2 338.6 661.2 338.7 662.2 338.8 663.2 338.8 664.2 338.7 665.2 338.8 666.2 338.8 667.2 338.7 668.2 339.0 669.2 339.0 670.2 339.1 671.2 339.0 672.2 339.0 673.2 339.2 674.2 339.1 675.2 339.0 676.2 338.9 677.2 339.0 678.2 339.0 679.2 338.9 680.2 338.8 681.2 338.9 682.2 338.8 683.2 338.8 684.2 338.9 685.2 338.6 686.2 338.8 687.2 338.8 688.2 338.7 689.2 338.8 690.2 338.8 691.2 338.7 692.2 338.8 693.2 338.8 694.2 338.7 695.2 338.7 696.2 338.4 696.7 338.3 696.9 338.4 697.1 338.3 697.2 338.2 697.3 338.4 697.5 338.5 697.7 338.5 697.9 338.4 698.1 338.5 698.2 338.3 698.3 338.1 698.5 338.1 698.7 338.1 698.9 338.1 699.1 338.0 699.2 338.2 699.3 338.1 699.5 338.2 699.7 338.2 699.9 338.5 700.1 338.1 700.2 338.0 700.3 338.0 700.5 338.0 700.7 337.9 700.9 337.8 701.1 337.9 701.2 337.9 701.3 337.9 701.5 337.4 701.7 337.3 701.9 337.2 702.1 337.1 702.2 337.1 702.3 337.4 702.5 337.3 702.7 337.0 702.9 337.0 703.1 337.0 703.2 337.1 703.3 336.9 703.5 336.7 703.7 336.4 703.9 336.3 704.1 336.2 704.2 335.9 704.3 335.8 704.5 336.0 704.7 336.0 704.9 335.5 705.1 335.5 705.2 335.4 705.3 335.0 705.5 334.8 705.7 334.6 705.9 333.9 706.1 333.5 706.2 333.1 706.3 333.2 706.5 332.3 706.7 331.2 706.9 329.7 707.1 327.4 707.2 325.2 707.3 324.6 707.5 321.2 707.7 317.1 707.9 312.4 708.1 307.5 708.2 303.9 708.3 303.4 708.5 299.9 708.7 298.7 708.9 299.5 709.1 301.8 709.2 304.5 709.3 305.6 709.5 309.5 709.7 312.8 709.9 315.3 710.0 316.4 710.1 317.0 710.2 317.4 710.2 317.0 710.3 317.1 710.4 317.1 710.5 317.0 710.6 316.8 710.7 316.4 710.8 315.7 710.9 315.5 711.0 315.4 711.1 315.4 711.2 315.7 711.2 315.8 711.3 316.0 711.4 316.8 711.5 317.4 711.6 318.3 711.7 319.5 711.8 320.9 711.9 321.9 712.0 323.3 712.1 324.3 712.2 325.6 712.2 326.1 712.3 326.6 712.4 328.0 712.5 328.6 712.7 330.6 712.9 332.0 713.1 333.2 713.2 333.8 713.3 334.0 713.5 334.5 713.7 334.9 713.9 335.3 714.1 335.5 714.2 335.5 714.3 335.6 714.5 335.8 714.7 336.3 714.9 336.4 715.1 336.3 715.2 336.3 715.3 336.4 715.5 336.8 715.7 337.0 715.9 336.9 716.1 336.9 716.2 337.1 716.3 337.1 716.5 337.2 716.7 337.2 716.9 337.3 717.1 337.6 717.2 337.8 717.3 337.7 717.5 337.6 717.7 337.6 717.9 337.4 718.1 337.6 718.2 337.5 718.3 337.7 718.5 337.7 718.7 337.9 718.9 338.1 719.1 338.1 719.2 338.1 719.3 338.1 719.5 337.8 719.7 338.0 719.9 338.2 720.1 338.3 720.2 338.3 720.3 338.5 720.5 338.2 720.7 338.4 721.2 338.4 722.2 338.5 723.2 338.6 724.2 338.9 725.2 338.7 726.2 338.9 727.2 338.9 728.2 338.9 729.2 338.9 730.2 338.7 731.2 338.8 732.2 339.0 733.2 339.0 734.2 339.0 735.2 339.2 736.2 339.0 737.2 339.0 738.2 339.2 739.2 339.0 740.2 339.1 741.2 339.2 742.2 339.3 743.2 339.3 744.2 339.0 745.2 339.2 746.2 339.1 747.2 339.2 748.2 339.1 749.2 339.2 750.2 338.9 751.2 339.3 752.2 339.2 753.2 339.4 754.2 339.4 755.2 339.4 756.2 339.0 757.2 339.0 758.2 339.2 759.2 339.2 760.2 339.2 761.2 339.4 762.2 339.3 763.2 339.2 764.2 339.1 765.2 339.0 766.2 339.1 767.2 339.2 768.2 339.1 769.2 339.1 770.2 339.1 771.2 339.2 772.2 339.3 773.2 339.2 774.2 339.1 775.2 339.0 776.2 339.0 777.2 339.0 778.2 339.1 779.2 339.1 780.2 339.1 781.2 339.3 782.2 339.2 783.2 339.0 784.2 339.0 785.2 339.0 786.2 339.1 787.2 339.2 788.2 339.3 789.2 339.3 790.2 339.1 791.2 339.3 792.2 339.2 793.2 339.1 794.2 339.2 795.2 339.2 796.2 339.2 797.2 339.0 798.2 339.2 799.2 339.1 800.2 339.0 801.2 339.1 802.2 339.1 803.2 339.2 804.2 339.1 805.2 339.0 806.2 339.0 807.2 339.0 808.2 339.2 809.2 339.3 810.2 339.4 811.2 339.4 812.2 339.0 813.2 339.0 814.2 338.9 815.2 339.1 816.2 339.0 817.2 339.1 818.2 339.3 819.2 339.2 820.2 339.2 821.2 339.3 822.2 339.2 823.2 339.1 824.2 339.3 825.2 339.2 826.2 339.3 827.2 339.1 828.2 339.2 829.2 339.3 830.2 339.1 831.2 339.0 832.2 339.0 833.2 339.2 834.2 339.1 835.2 339.2 836.2 339.0 837.2 339.3 838.2 339.4 839.2 339.4 840.2 339.3 841.2 339.3 842.2 339.0 843.2 339.1 844.2 338.8 845.2 338.9 846.2 339.0 847.2 339.3 848.2 339.4 849.2 339.5 850.2 339.6 851.2 339.5 852.2 339.5 853.2 339.3 854.2 339.3 855.2 339.3 856.2 338.9 857.2 339.0 858.2 339.3 859.2 339.1 860.2 339.2 861.2 339.4 862.2 339.2 863.2 339.2 864.2 339.1 865.2 338.9 866.2 339.1 867.2 339.0 868.2 338.9 869.2 339.1 870.2 339.1 871.2 339.1 872.2 339.3 873.2 339.0 874.2 338.9 875.2 338.6 875.3 338.6 875.5 338.7 875.7 338.7 875.9 338.7 876.1 338.7 876.2 338.6 876.3 338.5 876.5 338.5 876.7 338.4 876.9 338.0 877.1 338.2 877.2 338.4 877.3 338.3 877.5 338.1 877.7 338.3 877.9 338.3 878.1 338.3 878.2 338.3 878.3 338.3 878.5 338.1 878.7 338.1 878.9 338.1 879.1 338.0 879.2 337.9 879.3 338.0 879.5 337.9 879.7 337.9 879.9 337.7 880.1 337.9 880.2 337.7 880.3 337.5 880.5 337.3 880.7 337.4 880.9 337.4 881.1 337.4 881.2 337.4 881.3 337.4 881.5 337.5 881.7 337.3 881.9 337.1 882.1 336.8 882.2 336.9 882.3 336.5 882.5 336.5 882.7 336.7 882.9 336.3 883.1 336.1 883.2 336.0 883.3 336.1 883.5 336.1 883.7 335.7 883.9 335.6 884.1 335.3 884.2 335.1 884.3 335.0 884.5 334.6 884.7 334.2 884.9 333.7 885.1 333.0 885.2 332.1 885.3 331.8 885.5 330.4 885.7 328.3 885.9 325.7 886.1 322.3 886.2 319.5 886.3 318.4 886.5 314.1 886.7 309.5 886.9 305.5 887.1 302.4 887.2 301.2 887.3 301.5 887.5 302.6 887.7 305.1 887.9 308.9 888.1 312.6 888.2 315.7 888.3 316.6 888.5 319.8 888.7 322.4 888.9 324.0 889.1 324.4 889.2 324.4 889.2 324.2 889.3 323.9 889.4 323.3 889.5 322.6 889.6 321.9 889.7 321.2 889.8 320.4 889.9 319.6 890.0 319.0 890.1 318.4 890.2 318.0 890.2 317.9 890.3 317.7 890.4 317.6 890.5 318.2 890.6 318.6 890.7 319.3 890.8 320.3 890.9 321.1 891.0 322.2 891.1 323.5 891.2 324.6 891.2 325.3 891.3 326.0 891.4 327.0 891.5 328.2 891.6 329.3 891.7 330.1 891.9 331.8 892.1 333.1 892.2 333.7 892.3 333.6 892.5 334.4 892.7 335.0 892.9 335.2 893.1 335.4 893.2 335.8 893.3 335.9 893.5 336.1 893.7 336.3 893.9 336.4 894.1 336.5 894.2 336.9 894.3 336.6 894.5 336.6 894.7 337.0 894.9 337.2 895.1 337.2 895.2 337.2 895.3 337.3 895.5 337.4 895.7 337.5 895.9 337.4 896.1 337.5 896.2 338.0 896.3 337.8 896.5 338.2 896.7 338.1 896.9 338.1 897.1 338.1 897.2 338.0 897.3 338.0 897.5 338.2 897.7 338.0 897.9 338.0 898.1 338.0 898.2 338.2 898.3 338.1 898.5 338.3 898.7 338.4 898.9 338.3 899.1 338.3 899.2 338.1 899.3 338.4 900.2 338.6 901.2 338.5 902.2 338.7 903.2 338.9 904.2 339.0 905.2 338.8 906.2 339.0 907.2 339.0 908.2 339.2 909.2 339.2 910.2 338.9 911.2 339.0 912.2 338.8 913.2 339.0 914.2 339.0 915.2 339.1 916.2 339.4 917.2 339.1 918.2 339.2 919.2 339.4 920.2 339.3 921.2 339.2 922.2 339.3 923.2 339.1 924.2 339.2 925.2 339.4 926.2 339.4 927.2 339.2 928.2 339.3 929.2 339.3 930.2 339.3 931.2 339.2 932.2 339.5 933.2 339.3 934.2 339.2 935.2 339.5 936.2 339.4 937.2 339.4 938.2 339.5 939.2 339.5 940.2 339.6 941.2 339.5 942.2 339.3 943.2 339.3 944.2 339.2 945.2 339.2 946.2 339.3 947.2 339.2 948.2 338.9 949.2 339.0 950.2 339.2 951.2 339.1 952.2 339.1 953.2 339.1 954.2 339.2 955.2 339.2 956.2 339.4 957.2 339.4 958.2 339.2 959.2 339.2 960.2 339.2 961.2 339.2 962.2 339.2 963.2 339.0 964.2 339.0 965.2 339.3 966.2 339.2 967.2 339.3 968.2 339.3 969.2 339.2 970.2 339.2 971.2 339.1 972.2 339.3 973.2 339.3 974.2 339.2 975.2 339.1 976.2 338.8 977.2 339.1 978.2 339.1 979.2 338.9 980.2 338.6 981.2 338.4 981.8 338.3 982.0 338.5 982.2 338.5 982.2 338.4 982.4 338.7 982.6 338.6 982.8 338.4 983.0 338.4 983.2 338.3 983.2 338.8 983.4 338.8 983.6 338.9 983.8 338.8 984.0 338.7 984.2 338.7 984.2 338.4 984.4 338.3 984.6 338.2 984.8 338.1 985.0 338.2 985.2 338.0 985.2 338.1 985.4 338.2 985.6 338.1 985.8 338.4 986.0 338.1 986.2 338.0 986.2 338.1 986.4 338.1 986.6 337.7 986.8 337.6 987.0 337.6 987.2 337.4 987.2 337.4 987.4 337.2 987.6 337.3 987.8 337.2 988.0 337.3 988.2 337.4 988.2 337.1 988.4 337.1 988.6 336.9 988.8 336.6 989.0 336.6 989.2 336.6 989.2 336.5 989.4 336.4 989.6 336.5 989.8 336.2 990.0 336.0 990.2 335.8 990.2 335.8 990.4 335.4 990.6 335.2 990.8 334.9 991.0 334.2 991.2 334.0 991.2 334.0 991.4 333.5 991.6 332.5 991.8 331.3 992.0 329.3 992.2 326.8 992.2 326.4 992.4 324.0 992.6 319.9 992.8 315.2 993.0 309.8 993.2 304.4 993.2 303.1 993.4 299.8 993.6 296.3 993.8 294.9 994.0 296.0 994.2 299.1 994.2 300.2 994.4 303.8 994.6 308.8 994.8 313.6 995.0 317.8 995.2 321.5 995.2 322.0 995.4 323.8 995.6 325.5 995.8 325.7 996.0 324.9 996.1 324.4 996.2 323.6 996.2 323.2 996.3 322.7 996.4 321.6 996.5 320.7 996.6 319.3 996.7 318.6 996.8 317.3 996.9 316.4 997.0 315.5 997.1 314.8 997.2 314.4 997.2 314.6 997.3 314.8 997.4 315.3 997.5 315.8 997.6 316.5 997.7 317.6 997.8 319.1 997.9 319.8 998.0 321.3 998.1 322.6 998.2 324.0 998.2 325.0 998.3 325.4 998.4 326.9 998.5 328.0 998.6 329.2 998.8 331.1 999.0 332.2 999.2 333.3 999.2 333.4 999.4 333.9 999.6 334.6 999.8 335.2 1000.0 335.4 1000.2 335.7 1000.2 335.8 1000.4 335.9 1000.6 335.9 1000.8 336.2 1001.0 336.5 1001.2 336.8 1001.2 336.9 1001.4 337.1 1001.6 337.2 1001.8 336.9 1002.0 337.2 1002.2 337.4 1002.2 337.4 1002.4 337.7 1002.6 337.7 1002.8 337.7 1003.0 337.6 1003.2 337.5 1003.2 337.7 1003.4 337.9 1003.6 338.0 1003.8 337.9 1004.0 337.9 1004.2 338.0 1004.2 338.0 1004.4 337.9 1004.6 338.1 1004.8 338.2 1005.0 338.5 1005.2 338.5 1005.2 338.4 1005.4 338.3 1005.6 338.2 1005.8 338.3 1006.2 338.3 1007.2 338.7 1008.2 338.6 1009.2 338.8 1010.2 339.1 1011.2 338.9 1012.2 338.8 1013.2 339.1 1014.2 339.1 1015.2 339.4 1016.2 339.3 1017.2 339.1 1018.2 339.3 1019.2 339.2 1020.2 339.3 1021.2 339.4 1022.2 339.6 1023.2 339.5 1024.2 339.3 1025.2 339.1 1026.2 339.0 1027.2 339.2 1028.2 339.4 1029.2 339.1 1030.2 339.2 1031.2 339.2 1032.2 339.1 1033.2 338.9 1034.2 338.9 1035.2 339.1 1036.2 339.3 1037.2 339.3 1038.2 339.4 1039.2 339.2 1040.2 339.0 1041.2 339.0 1042.2 339.3 1043.2 339.1 1044.2 339.2 1045.2 339.1 1046.2 339.3 1047.2 339.1 1048.2 339.1 1049.2 338.9 1050.2 339.1 1051.2 339.2 1052.2 339.2 1053.2 339.1 1054.2 339.1 1055.2 339.1 1056.2 339.4 1057.2 339.5 1058.2 339.4 1059.2 339.3 1060.2 339.1 1061.2 339.2 1062.2 339.2 1063.2 339.1 1064.2 339.0 1065.2 339.0 1066.2 339.0 1067.2 338.5 1068.2 338.2 1069.2 337.7 1070.2 337.2 1071.2 336.7 1072.2 336.3 1073.2 336.2 1074.2 336.3 1075.2 336.9 1076.2 336.8 1077.2 337.3 1078.2 337.6 1079.2 338.4 1080.2 338.5 1081.2 338.5 1082.2 338.4 1083.2 338.3 1084.2 338.2 1085.2 338.1 1085.7 338.4 1085.9 338.6 1086.1 338.2 1086.2 338.3 1086.3 338.3 1086.5 338.4 1086.7 338.1 1086.9 338.1 1087.1 338.2 1087.2 338.4 1087.3 338.3 1087.5 338.0 1087.7 338.0 1087.9 338.2 1088.1 338.1 1088.2 338.1 1088.3 338.2 1088.5 338.2 1088.7 337.9 1088.9 338.1 1089.1 338.1 1089.2 337.9 1089.3 338.1 1089.5 338.2 1089.7 338.4 1089.9 338.4 1090.1 338.1 1090.2 337.8 1090.3 337.8 1090.5 337.8 1090.7 337.7 1090.9 337.5 1091.1 337.3 1091.2 337.1 1091.3 337.2 1091.5 337.3 1091.7 337.2 1091.9 337.2 1092.1 337.1 1092.2 336.9 1092.3 336.9 1092.5 336.7 1092.7 336.5 1092.9 336.4 1093.1 336.3 1093.2 336.3 1093.3 336.2 1093.5 335.6 1093.7 335.6 1093.9 335.6 1094.1 335.3 1094.2 335.1 1094.3 334.9 1094.5 334.5 1094.7 334.4 1094.9 334.0 1095.1 333.6 1095.2 333.0 1095.3 332.9 1095.5 331.8 1095.7 330.1 1095.9 328.0 1096.1 325.2 1096.2 322.5 1096.3 321.3 1096.5 316.5 1096.7 310.7 1096.9 304.5 1097.1 298.2 1097.2 293.8 1097.3 292.7 1097.5 288.6 1097.7 286.9 1097.9 288.1 1098.1 292.0 1098.2 296.0 1098.3 297.5 1098.5 303.7 1098.7 309.8 1098.9 315.1 1099.1 319.5 1099.2 322.5 1099.3 322.8 1099.5 325.4 1099.7 326.4 1099.9 326.6 1100.1 325.8 1100.2 324.7 1100.3 324.4 1100.4 323.7 1100.5 322.1 1100.6 321.3 1100.7 319.4 1100.8 318.5 1100.9 316.7 1101.0 315.7 1101.1 313.9 1101.2 312.9 1101.2 312.1 1101.3 311.9 1101.4 311.2 1101.5 310.8 1101.6 310.8 1101.7 311.4 1101.8 311.9 1101.9 313.1 1102.0 314.1 1102.1 315.8 1102.2 317.0 1102.2 318.2 1102.3 318.9 1102.4 319.9 1102.5 322.0 1102.6 323.3 1102.7 325.1 1102.8 326.1 1102.9 327.8 1103.1 330.0 1103.2 331.2 1103.3 331.7 1103.5 332.9 1103.7 333.9 1103.9 334.7 1104.1 335.0 1104.2 335.3 1104.3 335.5 1104.5 335.9 1104.7 335.7 1104.9 336.1 1105.1 336.2 1105.2 336.5 1105.3 336.5 1105.5 336.7 1105.7 336.7 1105.9 336.9 1106.1 337.3 1106.2 337.2 1106.3 337.2 1106.5 337.3 1106.7 337.6 1106.9 337.5 1107.1 337.6 1107.2 337.4 1107.3 337.6 1107.5 337.6 1107.7 337.4 1107.9 337.5 1108.1 337.7 1108.2 337.7 1108.3 337.6 1108.5 337.7 1108.7 337.7 1108.9 337.9 1109.1 337.8 1109.2 338.0 1109.3 337.9 1109.5 338.3 1109.7 338.1 1110.2 338.3 1111.2 338.3 1111.7 338.3 1111.9 338.3 1112.1 338.3 1112.2 338.2 1112.3 338.3 1112.5 338.5 1112.7 338.3 1112.9 338.1 1113.1 338.5 1113.2 338.3 1113.3 338.2 1113.5 338.3 1113.7 338.4 1113.9 338.6 1114.1 338.6 1114.2 338.7 1114.3 338.7 1114.5 338.6 1114.7 338.4 1114.9 338.5 1115.1 338.2 1115.2 338.4 1115.3 338.7 1115.5 338.6 1115.7 338.7 1115.9 338.6 1116.1 338.4 1116.2 338.4 1116.3 338.2 1116.5 338.3 1116.7 338.2 1116.9 338.2 1117.1 338.1 1117.2 338.4 1117.3 338.3 1117.5 338.4 1117.7 338.2 1117.9 338.2 1118.1 338.1 1118.2 338.0 1118.3 337.9 1118.5 338.1 1118.7 338.0 1118.9 338.0 1119.1 338.2 1119.2 338.1 1119.3 338.2 1119.5 338.0 1119.7 337.9 1119.9 337.9 1120.1 337.7 1120.2 337.8 1120.3 337.8 1120.5 337.3 1120.7 337.5 1120.9 337.4 1121.1 337.4 1121.2 337.4 1121.3 337.3 1121.5 336.8 1121.7 336.4 1121.9 335.6 1122.1 334.5 1122.2 333.8 1122.3 333.6 1122.5 332.2 1122.7 330.8 1122.9 328.8 1123.1 327.0 1123.2 326.1 1123.3 325.6 1123.5 324.6 1123.7 323.9 1123.9 324.2 1124.1 325.6 1124.2 326.4 1124.3 326.8 1124.5 328.4 1124.7 330.2 1124.9 331.6 1125.1 332.9 1125.2 333.6 1125.3 333.8 1125.5 334.6 1125.7 335.1 1125.9 335.2 1126.1 335.0 1126.2 335.0 1126.3 335.1 1126.5 334.4 1126.5 334.3 1126.7 333.7 1126.7 333.5 1126.9 332.8 1126.9 332.7 1127.1 331.8 1127.1 331.6 1127.2 331.3 1127.3 331.2 1127.3 331.2 1127.5 330.7 1127.5 330.9 1127.7 330.8 1127.7 330.7 1127.9 331.0 1127.9 331.2 1128.1 331.6 1128.1 331.8 1128.2 332.6 1128.3 332.6 1128.3 332.8 1128.5 333.4 1128.5 333.6 1128.7 334.4 1128.7 334.6 1128.9 335.6 1128.9 335.6 1129.1 336.2 1129.2 336.4 1129.3 336.7 1129.5 336.9 1129.7 337.2 1129.9 337.6 1130.1 337.5 1130.2 337.5 1130.3 337.6 1130.5 337.9 1130.7 338.1 1130.9 338.2 1131.1 338.1 1131.2 338.3 1131.3 338.4 1131.5 338.6 1131.7 338.6 1131.9 338.5 1132.1 338.5 1132.2 338.4 1132.3 338.7 1132.5 338.6 1132.7 338.3 1132.9 338.3 1133.1 338.5 1133.2 338.5 1133.3 338.7 1133.5 338.6 1133.7 338.6 1133.9 338.7 1134.1 338.7 1134.2 338.7 1134.3 338.6 1134.5 338.7 1134.7 338.9 1134.9 338.9 1135.1 339.2 1135.2 338.9 1135.3 338.7 1135.5 338.8 1135.7 338.6 1136.2 338.6 1137.2 338.8 1138.2 338.8 1139.2 338.9 1140.2 338.8 1141.2 339.1 1142.2 339.1 1143.2 338.9 1144.2 339.2 1145.2 339.1 1146.2 339.2 1147.2 338.9 1148.2 338.9 1149.2 339.1 1150.2 339.3 1151.2 339.4 1152.2 339.2 1153.2 339.2 1154.2 339.5 1155.2 339.3 1156.2 339.3 1157.2 339.2 1158.2 339.1 1158.5 339.1 1158.7 339.0 1158.9 339.1 1159.1 339.2 1159.2 339.1 1159.3 339.1 1159.5 338.8 1159.7 338.9 1159.9 339.1 1160.1 339.0 1160.2 338.9 1160.3 338.9 1160.5 338.9 1160.7 339.3 1160.9 339.2 1161.1 338.9 1161.2 339.0 1161.3 339.0 1161.5 338.7 1161.7 339.1 1161.9 338.8 1162.1 338.8 1162.2 338.8 1162.3 339.0 1162.5 338.9 1162.7 339.1 1162.9 338.9 1163.1 338.7 1163.2 338.6 1163.3 338.6 1163.5 338.5 1163.7 338.8 1163.9 338.7 1164.1 338.7 1164.2 338.6 1164.3 338.6 1164.5 338.5 1164.7 338.5 1164.9 338.5 1165.1 338.1 1165.2 338.1 1165.3 337.9 1165.5 338.2 1165.7 338.1 1165.9 338.1 1166.1 338.2 1166.2 338.0 1166.3 337.9 1166.5 337.7 1166.7 337.8 1166.9 337.8 1167.1 337.7 1167.2 337.7 1167.3 337.9 1167.5 337.5 1167.7 337.4 1167.9 337.1 1168.1 336.9 1168.2 336.7 1168.3 336.4 1168.5 335.8 1168.7 335.5 1168.9 334.6 1169.1 333.6 1169.2 332.5 1169.3 332.2 1169.5 330.5 1169.7 328.8 1169.9 326.8 1170.1 324.9 1170.2 323.8 1170.3 323.7 1170.5 323.3 1170.7 323.6 1170.9 324.9 1171.1 326.6 1171.2 327.8 1171.3 328.2 1171.5 330.1 1171.7 331.8 1171.9 333.2 1172.1 334.1 1172.2 334.6 1172.3 334.9 1172.5 335.4 1172.7 335.6 1172.9 335.7 1173.1 335.4 1173.2 335.0 1173.3 335.0 1173.5 334.5 1173.5 334.4 1173.7 333.9 1173.7 333.8 1173.9 333.1 1173.9 333.1 1174.1 332.2 1174.1 331.8 1174.2 331.1 1174.3 330.8 1174.3 330.6 1174.5 330.3 1174.5 330.3 1174.7 330.4 1174.7 330.6 1174.9 330.9 1174.9 331.2 1175.1 331.7 1175.1 331.7 1175.2 332.4 1175.3 332.5 1175.3 332.5 1175.5 333.3 1175.5 333.6 1175.7 334.3 1175.7 334.7 1175.9 335.4 1175.9 335.6 1176.1 336.2 1176.2 336.5 1176.3 336.4 1176.5 336.8 1176.7 337.3 1176.9 337.5 1177.1 337.7 1177.2 337.5 1177.3 337.6 1177.5 337.8 1177.7 338.0 1177.9 338.0 1178.1 338.1 1178.2 338.3 1178.3 338.4 1178.5 338.5 1178.7 338.7 1178.9 338.5 1179.1 338.6 1179.2 338.7 1179.3 338.6 1179.5 338.6 1179.7 338.7 1179.9 338.6 1180.1 338.9 1180.2 338.9 1180.3 339.0 1180.5 338.8 1180.7 338.8 1180.9 338.8 1181.1 338.6 1181.2 338.8 1181.3 338.6 1181.5 338.8 1181.7 338.8 1181.9 339.0 1182.1 338.8 1182.2 338.9 1182.3 339.0 1182.5 338.9 1183.2 339.0 1184.2 339.1 1185.2 339.0 1186.2 339.1 1187.2 339.3 1188.2 339.2 1189.2 339.1 1190.2 339.1 1191.2 339.1 1192.2 339.2 1193.2 339.1 1194.2 339.3 1195.2 339.2 1196.2 339.3 1197.2 339.1 1198.2 339.2 1199.2 339.3 1200.2 339.3 1201.2 339.6 1202.2 339.5 1203.2 339.2 1204.2 339.3 1205.2 339.5 1206.2 339.4 1207.2 339.4 1208.2 339.4 1209.2 339.5 1210.2 339.5 1211.2 339.6 1212.2 339.4 1213.2 339.4 1214.2 339.3 1215.2 339.3 1216.2 339.1 1217.2 339.2 1218.2 339.2 1219.2 339.5 1220.2 339.5 1221.2 339.8 1222.2 339.6 1223.2 339.6 1224.2 339.6 1225.2 339.7 1226.2 339.5 1227.2 339.4 1228.2 339.6 1229.2 339.5 1230.2 339.5 1231.2 339.3 1232.2 339.1 1233.2 339.2 1234.2 339.2 1235.2 339.3 1236.2 339.5 1237.2 339.3 1238.2 339.3 1239.2 339.3 1240.2 339.4 1241.2 339.4 1242.2 339.3 1243.2 339.3 1244.2 339.0 1245.2 339.4 1246.2 339.3 1247.2 339.6 1248.2 339.4 1249.2 339.3 1250.2 339.2 1251.2 339.4 1252.2 339.4 1253.2 339.4 1254.2 339.1 1255.2 339.2 1256.2 339.3 1257.2 339.3 1258.0 339.4 1258.2 339.4 1258.2 339.6 1258.4 339.6 1258.6 339.3 1258.8 339.3 1259.0 339.4 1259.2 339.3 1259.2 339.3 1259.4 339.4 1259.6 339.3 1259.8 339.4 1260.0 339.3 1260.2 339.4 1260.2 339.0 1260.4 339.1 1260.6 339.2 1260.8 339.2 1261.0 339.4 1261.2 339.2 1261.2 339.3 1261.4 339.2 1261.6 339.0 1261.8 339.1 1262.0 339.0 1262.2 339.1 1262.2 339.5 1262.4 339.5 1262.6 339.5 1262.8 339.2 1263.0 338.9 1263.2 339.0 1263.2 339.0 1263.4 339.1 1263.6 339.0 1263.8 339.0 1264.0 339.4 1264.2 339.2 1264.2 339.4 1264.4 339.4 1264.6 339.7 1264.8 339.3 1265.0 339.2 1265.2 339.1 1265.2 339.2 1265.4 339.2 1265.6 339.4 1265.8 339.3 1266.0 339.1 1266.2 339.2 1266.2 339.4 1266.4 339.3 1266.6 339.2 1266.8 339.3 1267.0 339.1 1267.2 339.1 1267.2 339.2 1267.4 339.2 1267.6 339.1 1267.8 339.1 1268.0 339.1 1268.2 338.9 1268.2 339.1 1268.4 338.7 1268.6 338.1 1268.8 337.9 1269.0 337.5 1269.2 337.2 1269.2 337.4 1269.4 337.0 1269.6 336.6 1269.8 336.3 1270.0 335.9 1270.2 336.0 1270.2 336.1 1270.4 336.5 1270.6 336.9 1270.8 337.2 1271.0 337.6 1271.2 337.8 1271.2 337.8 1271.4 338.0 1271.6 338.3 1271.8 338.5 1272.0 338.8 1272.2 338.8 1272.2 338.8 1272.4 338.6 1272.6 338.8 1272.8 338.5 1273.0 338.5 1273.2 338.4 1273.2 338.3 1273.4 338.4 1273.4 338.4 1273.6 338.6 1273.6 338.4 1273.8 338.0 1273.8 338.2 1274.0 337.9 1274.0 338.0 1274.2 338.0 1274.2 338.1 1274.2 338.0 1274.4 337.7 1274.4 337.7 1274.6 337.7 1274.6 337.4 1274.8 337.4 1274.8 337.5 1275.0 337.8 1275.0 337.8 1275.2 337.9 1275.2 337.6 1275.2 338.1 1275.4 338.0 1275.4 338.1 1275.6 338.6 1275.6 338.4 1275.8 338.7 1275.8 338.5 1276.0 338.7 1276.2 338.6 1276.2 338.7 1276.4 338.9 1276.6 339.0 1276.8 339.2 1277.0 339.2 1277.2 339.0 1277.2 339.1 1277.4 338.9 1277.6 338.8 1277.8 338.9 1278.0 339.1 1278.2 339.1 1278.2 339.1 1278.4 339.3 1278.6 339.2 1278.8 339.2 1279.0 339.3 1279.2 339.3 1279.2 339.4 1279.4 339.2 1279.6 339.3 1279.8 339.3 1280.0 339.2 1280.2 339.3 1280.2 339.5 1280.4 339.3 1280.6 339.4 1280.8 339.4 1281.0 339.6 1281.2 339.2 1281.2 339.3 1281.4 339.4 1281.6 339.5 1281.8 339.5 1282.0 339.5 1282.2 339.4 1283.2 339.6 1284.2 339.6 1285.2 339.7 1286.2 339.6 1287.2 339.4 1288.2 339.7 1289.2 339.6 1290.2 339.7 1291.2 339.4 1292.2 339.6 1293.2 339.7 1294.2 339.8 1295.2 339.5 1296.2 339.2 1297.2 339.3 1298.2 339.4 1299.2 339.3 1300.2 339.3 1301.2 339.2 1302.2 339.3 1303.2 339.3 1304.2 339.2 1305.2 339.4 1306.2 339.3 1307.2 339.5 1308.2 339.4 1309.2 339.4 1310.2 339.4 1311.2 339.7 1312.2 339.6 1313.2 339.6 1314.2 339.5 1315.2 339.4 1316.2 339.2 1317.2 339.3 1318.2 339.6 1319.2 339.5 1320.2 339.6 1321.2 339.6 1322.2 339.6 1323.2 339.3 1324.2 339.5 1325.2 339.4 1326.2 339.4 1327.2 339.5 1328.0 339.5 1328.2 339.4 1328.2 339.2 1328.4 339.1 1328.6 339.5 1328.8 339.6 1329.0 339.8 1329.2 339.3 1329.2 339.3 1329.4 339.3 1329.6 339.2 1329.8 339.4 1330.0 339.2 1330.2 339.2 1330.2 339.3 1330.4 339.2 1330.6 339.1 1330.8 339.2 1331.0 339.3 1331.2 339.3 1331.2 339.3 1331.4 339.3 1331.6 339.3 1331.8 339.3 1332.0 339.6 1332.2 339.2 1332.2 339.3 1332.4 339.1 1332.6 339.4 1332.8 339.0 1333.0 339.1 1333.2 339.3 1333.2 339.3 1333.4 339.3 1333.6 339.2 1333.8 339.2 1334.0 339.0 1334.2 339.1 1334.2 339.0 1334.4 339.3 1334.6 339.3 1334.8 339.3 1335.0 339.2 1335.2 339.3 1335.2 339.2 1335.4 339.0 1335.6 339.0 1335.8 338.9 1336.0 339.0 1336.2 339.1 1336.2 339.1 1336.4 338.9 1336.6 339.0 1336.8 338.9 1337.0 338.8 1337.2 338.7 1337.2 338.7 1337.4 338.6 1337.6 338.5 1337.8 338.7 1338.0 338.4 1338.2 338.2 1338.2 337.9 1338.4 337.6 1338.6 337.2 1338.8 337.0 1339.0 336.4 1339.2 335.9 1339.2 335.6 1339.4 335.1 1339.6 334.5 1339.8 334.4 1340.0 334.0 1340.2 334.2 1340.2 334.1 1340.4 334.7 1340.6 335.2 1340.8 335.8 1341.0 336.6 1341.2 336.9 1341.2 337.1 1341.4 337.6 1341.6 337.9 1341.8 338.1 1342.0 338.2 1342.2 338.5 1342.2 338.6 1342.4 338.4 1342.6 338.5 1342.8 338.5 1343.0 338.5 1343.2 338.5 1343.2 338.5 1343.4 338.1 1343.6 337.9 1343.7 337.6 1343.8 337.5 1343.9 337.3 1344.0 337.3 1344.1 337.1 1344.2 336.8 1344.2 336.9 1344.3 337.0 1344.4 336.9 1344.5 336.8 1344.6 336.4 1344.7 336.6 1344.8 336.6 1344.9 336.7 1345.0 336.6 1345.1 336.6 1345.2 336.6 1345.2 336.8 1345.3 336.7 1345.4 337.0 1345.5 337.3 1345.6 337.1 1345.7 337.4 1345.8 337.6 1345.9 337.9 1346.0 338.0 1346.1 338.1 1346.2 338.1 1346.2 338.1 1346.4 338.7 1346.6 338.9 1346.8 338.8 1347.0 338.8 1347.2 339.0 1347.2 339.0 1347.4 338.9 1347.6 338.9 1347.8 338.9 1348.0 339.2 1348.2 339.3 1348.2 339.1 1348.4 339.3 1348.6 339.0 1348.8 338.9 1349.0 338.9 1349.2 339.0 1349.2 339.2 1349.4 338.9 1349.6 339.0 1349.8 339.1 1350.0 339.3 1350.2 339.1 1350.2 339.2 1350.4 339.4 1350.6 339.4 1350.8 339.3 1351.0 339.3 1351.2 339.6 1351.2 339.3 1351.4 339.2 1351.6 339.3 1351.8 339.5 1352.0 339.5 1352.2 339.5 1353.2 339.5 1354.2 339.3 1355.2 339.5 1356.2 339.3 1357.2 339.2 1358.2 339.2 1359.2 339.3 1360.2 339.1 1361.2 339.1 1362.2 339.1 1363.2 339.2 1364.2 339.2 1365.2 339.1 1366.2 339.4 1367.2 339.5 1368.2 339.5 1369.2 339.4 1370.2 339.5 1371.2 339.5 1372.2 339.3 1373.2 339.3 1374.2 339.4 1375.2 339.5 1376.2 339.7 1377.2 339.6 1378.2 339.8 1379.2 339.6 1380.2 339.4 1381.2 339.7 1382.2 339.6 1383.2 339.7 1384.2 339.3 1385.2 339.5 1386.2 339.6 1387.2 339.8 1388.2 339.9 1389.2 339.6 1390.2 339.4 1391.2 339.3 1392.2 339.7 1393.2 339.8 1394.2 339.7 1395.2 339.8 1396.2 339.8 1397.2 339.4 1398.2 339.6 1399.2 339.4 1400.2 339.6 1401.2 339.6 1402.2 339.5 1403.2 339.4" stroke="#CC9900"/><path d="M89.2 227.5L90.2 227.6 91.2 227.6 92.2 227.6 93.2 227.8 94.2 227.7 95.2 227.6 96.2 227.4 97.2 227.4 98.2 227.4 99.2 227.4 100.2 227.7 101.2 227.6 102.2 227.9 103.2 227.9 104.2 228.1 105.2 228.0 106.2 227.8 107.2 227.8 108.2 227.7 109.2 227.6 110.2 228.0 111.2 228.2 112.2 228.4 113.2 228.2 114.2 228.0 115.2 228.0 116.2 228.0 117.2 228.2 118.2 228.3 119.2 228.2 120.2 228.2 121.2 227.8 122.2 227.8 123.2 227.7 124.2 228.0 125.2 228.1 126.2 228.2 127.2 228.3 128.2 228.3 129.2 228.3 130.2 228.4 131.2 228.4 132.2 228.3 133.2 228.4 134.2 228.4 135.2 228.1 136.2 228.3 137.2 228.1 138.2 228.2 139.2 228.3 140.2 228.6 141.2 228.5 142.2 228.5 143.2 228.7 144.2 228.6 145.2 228.9 146.2 228.6 147.2 228.7 148.2 228.6 149.2 228.8 150.2 228.9 151.2 228.9 152.2 228.8 153.2 228.8 154.2 228.7 155.2 228.5 156.2 228.5 157.2 228.5 158.2 228.5 159.2 228.9 160.2 228.9 161.2 228.8 162.2 228.8 163.2 228.9 164.2 228.9 165.2 229.2 166.2 229.3 167.2 229.2 168.2 229.1 169.2 229.0 170.2 228.7 171.2 228.7 172.2 228.9 173.2 228.9 174.2 229.2 175.2 229.1 176.2 229.2 177.2 229.2 178.2 229.1 179.2 229.0 180.2 229.1 181.2 229.1 182.2 229.2 183.2 229.0 184.2 229.0 185.2 229.3 186.2 229.3 187.2 229.0 188.2 228.9 189.2 229.1 190.2 229.1 191.2 229.3 192.2 229.4 193.2 229.1 194.2 229.0 195.2 229.2 196.2 229.1 197.2 229.2 198.2 229.2 199.2 229.4 200.2 229.2 201.2 229.0 202.2 229.3 203.2 229.3 204.2 229.4 205.2 229.4 206.2 229.5 207.2 229.4 208.2 229.4 209.2 229.3 210.2 229.4 211.2 229.6 212.2 229.3 213.2 229.6 214.2 229.7 215.2 229.7 216.2 229.7 217.2 229.6 218.2 229.5 219.2 229.4 220.2 229.6 221.2 229.9 222.2 229.7 223.2 229.6 224.2 229.7 225.2 229.7 226.2 229.8 227.2 229.9 228.2 230.0 229.2 229.9 230.2 229.7 231.2 229.6 232.2 229.2 233.2 229.1 234.2 229.0 235.2 229.2 236.2 229.4 237.2 229.6 238.2 229.8 239.2 229.9 240.2 229.8 241.2 229.7 242.2 229.6 243.2 229.9 244.2 229.9 245.2 230.0 246.2 230.1 247.2 230.0 248.2 230.2 249.2 230.2 250.2 230.0 251.2 230.1 252.2 229.9 253.2 230.1 254.2 230.0 255.2 230.4 256.2 230.2 257.2 230.0 258.2 230.2 259.2 230.4 260.2 230.6 261.2 230.4 262.2 230.1 263.2 230.0 264.2 230.1 265.2 230.3 266.2 230.2 267.2 230.3 268.2 230.1 269.2 230.3 270.2 230.1 271.2 230.3 272.2 230.4 273.2 230.4 274.2 230.7 275.2 230.6 276.2 230.4 277.2 230.3 278.2 230.4 279.2 230.5 280.2 230.5 281.2 230.4 282.2 230.4 283.2 230.3 284.2 230.5 285.2 230.5 286.2 230.4 287.2 230.5 288.2 230.2 289.2 230.2 290.2 230.3 291.2 230.4 292.2 230.5 293.2 230.5 294.2 230.8 295.2 230.6 296.2 230.3 297.2 230.5 298.2 230.3 299.2 230.3 300.2 230.5 301.2 230.4 302.2 230.3 303.2 230.5 304.2 230.7 305.2 230.7 306.2 230.6 307.2 230.7 308.2 230.5 309.2 230.6 310.2 230.7 311.2 230.9 312.2 230.8 313.2 231.0 314.2 230.8 315.2 230.8 316.2 230.7 317.2 230.4 318.2 230.5 319.2 230.6 320.2 230.4 321.2 230.6 322.2 230.7 323.2 230.7 324.2 230.7 325.2 230.6 326.2 230.6 327.2 230.5 328.2 230.5 329.2 230.8 330.2 230.7 331.2 231.0 332.2 230.8 333.2 230.7 334.2 230.7 335.2 230.9 336.2 231.1 337.2 231.0 338.2 231.0 339.2 231.0 340.2 230.9 341.2 230.9 342.2 231.2 343.2 231.1 344.2 230.9 345.2 230.7 346.2 230.7 347.2 230.9 348.2 230.8 349.2 231.0 350.2 231.1 351.2 231.0 352.2 230.9 353.2 230.9 354.2 231.0 355.2 231.0 356.2 231.1 357.2 231.1 358.2 231.3 359.2 231.2 360.2 231.0 361.2 231.0 362.2 231.1 363.2 231.2 364.2 231.4 365.2 231.4 366.2 231.2 367.2 231.1 368.2 230.8 369.2 230.8 370.2 230.6 371.2 230.8 372.2 231.0 373.2 230.8 374.2 231.0 375.2 230.9 376.2 230.9 377.2 230.9 378.2 231.1 379.2 231.1 380.2 230.9 381.2 231.1 382.2 231.0 383.2 230.8 384.2 231.2 385.2 231.3 386.2 230.9 387.2 230.7 388.2 230.9 389.2 230.9 390.2 231.0 391.2 230.9 392.2 231.0 393.2 230.8 394.2 230.7 395.2 230.7 396.2 230.7 397.2 230.6 398.2 230.6 399.2 230.5 400.2 230.8 401.2 230.8 402.2 230.8 403.2 230.3 403.2 230.4 403.4 230.3 403.6 230.4 403.8 230.4 404.0 230.3 404.2 230.3 404.2 230.4 404.4 230.6 404.6 230.7 404.8 230.4 405.0 230.4 405.2 230.2 405.2 230.3 405.4 230.1 405.6 230.1 405.8 230.0 406.0 230.0 406.2 229.9 406.2 230.1 406.4 230.4 406.6 230.1 406.8 230.1 407.0 229.9 407.2 229.9 407.2 229.7 407.4 229.8 407.6 229.6 407.8 229.8 408.0 230.1 408.2 229.7 408.2 229.7 408.4 229.5 408.6 229.3 408.8 229.1 409.0 229.1 409.2 229.0 409.2 229.3 409.4 229.2 409.6 229.2 409.8 229.1 410.0 228.7 410.2 228.5 410.2 228.5 410.4 228.7 410.6 228.4 410.8 228.2 411.0 227.9 411.2 227.8 411.2 227.9 411.4 227.6 411.6 227.3 411.8 227.2 412.0 227.2 412.2 226.7 412.2 226.5 412.4 226.4 412.6 226.1 412.8 225.6 413.0 224.6 413.2 223.6 413.2 223.4 413.4 222.5 413.6 220.4 413.8 218.0 414.0 214.7 414.2 210.9 414.2 209.8 414.4 206.4 414.6 201.9 414.8 197.9 415.0 194.8 415.2 193.0 415.2 192.8 415.4 193.0 415.6 194.3 415.6 194.4 415.8 195.9 415.8 196.4 416.0 197.9 416.0 198.3 416.2 200.2 416.2 200.5 416.2 200.5 416.4 201.6 416.4 202.1 416.6 203.5 416.6 203.6 416.8 205.2 416.8 205.4 417.0 207.0 417.0 207.8 417.2 209.9 417.2 210.2 417.2 210.1 417.4 212.2 417.4 212.6 417.6 214.8 417.6 215.4 417.8 217.4 417.8 218.2 418.0 219.8 418.0 220.3 418.2 221.9 418.2 222.3 418.4 223.2 418.6 224.4 418.8 225.2 419.0 225.7 419.2 226.4 419.2 226.6 419.4 227.2 419.6 227.4 419.8 227.7 420.0 227.7 420.2 227.9 420.2 228.0 420.4 228.2 420.6 228.4 420.8 228.2 421.0 228.2 421.2 228.5 421.2 228.4 421.4 228.7 421.6 228.9 421.8 229.0 422.0 229.0 422.2 229.2 422.2 229.3 422.4 229.0 422.6 229.5 422.8 229.5 423.0 229.5 423.2 229.5 423.2 229.6 423.4 229.7 423.6 229.9 423.8 229.9 424.0 230.0 424.2 230.0 424.2 230.0 424.4 230.1 424.6 230.2 424.8 230.3 425.0 230.5 425.2 230.5 425.2 230.1 425.4 230.2 425.6 230.3 425.8 230.5 426.0 230.3 426.2 230.2 426.2 230.1 426.4 230.2 426.6 230.5 426.8 230.5 427.0 230.5 427.2 230.6 427.2 230.5 428.2 230.6 429.2 230.6 430.2 230.6 431.2 230.8 432.2 230.8 433.2 230.8 434.2 230.8 435.2 230.8 436.2 230.8 437.2 230.8 438.2 230.6 439.2 230.7 440.2 230.5 441.2 230.7 442.2 230.7 443.2 230.7 444.2 230.2 445.0 230.1 445.2 230.0 445.2 230.2 445.4 230.3 445.6 230.2 445.8 230.3 446.0 230.4 446.2 230.3 446.2 230.1 446.4 230.1 446.6 230.1 446.8 229.8 447.0 230.0 447.2 229.9 447.2 229.8 447.4 229.7 447.6 229.6 447.8 229.4 448.0 229.6 448.2 229.4 448.2 229.4 448.4 229.4 448.6 229.4 448.8 229.0 449.0 229.1 449.2 229.1 449.2 229.1 449.4 228.9 449.6 228.7 449.8 228.7 450.0 228.4 450.2 228.4 450.2 228.5 450.4 228.4 450.6 228.0 450.8 228.0 451.0 227.8 451.2 227.6 451.2 227.6 451.4 227.5 451.6 227.2 451.8 226.9 452.0 226.8 452.2 226.8 452.2 226.7 452.4 226.6 452.6 226.1 452.8 225.6 453.0 225.1 453.2 224.6 453.2 224.5 453.4 224.0 453.6 223.2 453.8 222.5 454.0 221.9 454.2 220.5 454.2 219.9 454.4 219.0 454.6 216.9 454.8 213.5 455.0 208.8 455.2 202.6 455.2 200.7 455.4 193.7 455.6 181.5 455.8 166.3 456.0 147.9 456.2 127.0 456.2 121.9 456.4 106.2 456.6 86.4 456.8 71.1 457.0 62.7 457.2 63.1 457.2 64.4 457.4 69.6 457.6 77.9 457.6 80.1 457.8 89.2 457.8 91.5 458.0 99.3 458.0 101.1 458.2 107.3 458.2 108.7 458.2 110.0 458.4 113.4 458.4 114.7 458.6 119.4 458.6 120.5 458.8 126.3 458.8 128.1 459.0 135.5 459.0 137.7 459.2 146.8 459.2 149.2 459.2 152.2 459.4 159.2 459.4 161.8 459.6 171.5 459.6 173.9 459.8 182.9 459.8 184.8 460.0 192.9 460.0 194.6 460.2 202.6 460.2 204.5 460.4 209.0 460.6 213.6 460.8 216.9 461.0 219.2 461.2 220.9 461.2 221.4 461.4 222.1 461.6 223.2 461.8 223.6 462.0 224.2 462.2 224.9 462.2 225.1 462.4 225.5 462.6 225.8 462.8 226.0 463.0 226.4 463.2 226.6 463.2 226.9 463.4 227.0 463.6 227.4 463.8 228.0 464.0 228.0 464.2 228.2 464.2 227.9 464.4 228.0 464.6 228.1 464.8 228.1 465.0 228.3 465.2 228.3 465.2 228.7 465.4 228.7 465.6 228.9 465.8 229.0 466.0 229.2 466.2 229.4 466.2 229.5 466.4 229.3 466.6 229.5 466.8 229.7 467.0 230.0 467.2 230.2 467.2 230.0 467.4 229.8 467.6 229.8 467.8 229.7 468.0 229.8 468.2 230.0 468.2 229.8 468.4 230.0 468.6 229.9 468.8 230.2 469.0 230.3 469.2 230.3 470.2 230.2 471.2 230.4 472.2 230.5 473.2 230.5 474.2 230.5 475.2 230.6 476.2 230.7 477.2 230.8 478.2 231.0 479.2 230.8 480.2 231.1 481.2 230.9 482.2 230.6 483.2 230.5 484.2 230.6 485.2 230.4 486.2 230.2 486.8 230.1 487.0 230.3 487.2 230.3 487.2 230.0 487.4 230.0 487.6 229.9 487.8 229.9 488.0 230.1 488.2 230.0 488.2 230.1 488.4 229.7 488.6 229.6 488.8 229.7 489.0 229.7 489.2 229.7 489.2 229.7 489.4 229.5 489.6 229.6 489.8 229.6 490.0 229.5 490.2 229.5 490.2 229.1 490.4 229.3 490.6 228.9 490.8 228.7 491.0 228.9 491.2 228.9 491.2 228.8 491.4 228.9 491.6 228.7 491.8 228.4 492.0 228.3 492.2 228.0 492.2 228.0 492.4 227.8 492.6 227.5 492.8 227.4 493.0 227.3 493.2 227.1 493.2 227.1 493.4 226.8 493.6 226.5 493.8 226.1 494.0 225.4 494.2 225.2 494.2 225.3 494.4 225.0 494.6 224.5 494.8 223.9 495.0 223.3 495.2 222.7 495.2 222.5 495.4 221.7 495.6 220.9 495.8 219.7 496.0 218.0 496.2 215.9 496.2 215.4 496.4 213.3 496.6 209.3 496.8 203.1 497.0 194.8 497.2 183.1 497.2 179.4 497.4 166.7 497.6 146.7 497.8 122.7 498.0 95.6 498.2 67.6 498.2 60.9 498.4 42.0 498.6 21.9 498.8 12.0 499.0 13.4 499.2 23.5 499.2 27.3 499.4 38.7 499.5 45.1 499.6 54.4 499.7 60.2 499.8 67.8 499.9 72.2 500.0 77.9 500.1 81.0 500.2 84.8 500.2 86.3 500.3 87.4 500.4 90.5 500.5 92.6 500.6 96.4 500.7 99.5 500.8 105.5 500.9 109.9 501.0 117.5 501.1 123.2 501.2 132.2 501.2 136.2 501.3 138.7 501.4 148.3 501.5 154.4 501.6 163.3 501.7 169.1 501.8 176.9 501.9 181.8 502.0 188.8 502.2 198.0 502.2 200.0 502.4 205.2 502.6 210.2 502.8 213.9 503.0 216.9 503.2 218.5 503.2 219.0 503.4 220.0 503.6 221.0 503.8 221.5 504.0 222.1 504.2 222.5 504.2 222.7 504.4 222.9 504.6 223.4 504.8 223.5 505.0 223.4 505.2 223.7 505.2 223.8 505.4 223.8 505.6 223.8 505.8 223.7 506.0 223.8 506.2 223.6 506.2 223.3 506.4 223.1 506.6 222.9 506.8 222.6 507.0 222.3 507.2 222.2 507.2 222.0 507.4 221.7 507.6 221.5 507.8 221.3 508.0 221.1 508.2 221.2 508.2 221.1 508.4 220.9 508.6 221.2 508.8 221.6 509.0 221.8 509.2 222.0 509.2 222.1 509.4 222.4 509.6 222.9 509.8 223.2 510.0 223.7 510.2 224.2 510.2 224.4 510.4 224.8 510.6 225.1 510.8 225.6 511.2 226.6 512.2 228.2 513.2 229.4 514.2 230.1 515.2 230.6 516.2 230.7 517.2 230.9 518.2 230.9 519.2 230.8 520.2 230.8 521.2 230.8 522.2 231.0 523.2 231.2 524.2 231.3 525.2 231.6 526.2 231.6 527.2 231.7 528.2 231.4 529.2 231.7 530.2 231.9 531.2 232.0 532.2 232.1 533.2 231.9 534.2 231.7 535.2 231.8 536.2 231.9 537.2 231.9 538.2 231.9 539.2 231.9 540.2 231.7 541.2 231.8 542.2 231.7 543.2 231.8 544.2 231.8 545.2 231.8 546.2 231.8 547.2 232.3 548.2 232.2 549.2 232.0 550.2 231.9 551.2 232.1 552.2 232.1 553.2 232.2 554.2 232.2 555.2 232.3 556.2 232.1 557.2 231.9 558.2 231.8 559.2 231.9 560.2 232.0 561.2 231.8 562.2 231.8 563.2 231.8 564.2 231.9 565.2 232.1 566.2 232.1 567.2 232.1 568.2 232.2 569.2 232.1 570.2 232.2 571.2 232.0 572.2 232.1 573.2 232.2 574.2 232.4 575.2 232.3 576.2 232.2 577.2 232.3 578.2 232.2 579.2 232.3 580.2 232.4 581.2 232.3 582.2 232.1 583.2 232.1 584.2 232.4 585.2 232.3 586.2 232.4 587.2 232.3 588.2 232.2 589.2 232.4 590.2 231.9 591.2 232.0 592.2 232.3 593.2 232.1 594.2 232.2 595.2 231.8 596.2 232.2 597.2 232.2 598.2 232.1 599.2 232.3 600.2 232.2 601.2 232.1 602.2 232.1 603.2 232.2 604.2 232.1 605.2 232.3 606.2 232.3 607.2 232.3 608.2 232.1 609.2 232.2 610.2 232.4 611.2 232.3 612.2 232.3 613.2 232.3 614.2 232.4 615.2 232.6 616.2 232.4 617.2 232.3 618.2 232.3 619.2 232.0 620.2 232.2 621.2 232.1 622.2 231.8 623.2 231.8 624.2 232.1 625.2 232.0 626.2 232.2 627.2 232.1 628.2 232.2 629.2 232.5 630.2 232.4 631.2 232.4 632.2 232.4 633.2 232.0 634.2 232.2 635.2 232.1 636.2 232.1 637.2 232.3 638.2 232.3 639.2 232.2 640.2 232.1 641.2 232.3 642.2 232.4 643.2 232.1 644.2 232.2 645.2 232.4 646.2 232.4 647.2 232.2 648.2 232.2 649.2 232.1 650.2 232.2 651.2 232.3 652.2 232.5 653.2 232.4 654.2 232.4 655.2 232.2 656.2 232.3 657.2 232.5 658.2 232.3 659.2 232.3 660.2 232.1 661.2 232.0 662.2 232.1 663.2 232.2 664.2 232.0 665.2 232.2 666.2 232.2 667.2 232.3 668.2 232.3 669.2 232.3 670.2 232.3 671.2 232.2 672.2 232.3 673.2 232.4 674.2 232.4 675.2 232.5 676.2 232.1 677.2 232.0 678.2 232.1 679.2 232.3 680.2 232.5 681.2 232.4 682.2 232.1 683.2 232.2 684.2 232.5 685.2 232.4 686.2 232.5 687.2 232.5 688.2 232.2 689.2 232.5 690.2 232.2 691.2 232.2 692.2 232.0 693.2 231.9 694.2 232.0 695.2 231.9 696.2 231.8 696.7 231.7 696.9 231.7 697.1 231.6 697.2 231.6 697.3 231.4 697.5 231.6 697.7 231.6 697.9 231.7 698.1 231.9 698.2 231.6 698.3 231.6 698.5 231.5 698.7 231.5 698.9 231.2 699.1 231.6 699.2 231.6 699.3 231.5 699.5 231.6 699.7 231.5 699.9 231.5 700.1 231.7 700.2 231.3 700.3 231.2 700.5 231.0 700.7 231.1 700.9 231.1 701.1 231.1 701.2 231.2 701.3 231.0 701.5 230.9 701.7 231.0 701.9 231.0 702.1 230.7 702.2 230.7 702.3 230.5 702.5 230.5 702.7 230.5 702.9 230.5 703.1 230.3 703.2 230.1 703.3 229.9 703.5 230.2 703.7 230.2 703.9 229.8 704.1 229.6 704.2 229.4 704.3 229.3 704.5 229.3 704.7 229.2 704.9 228.8 705.1 228.9 705.2 228.8 705.3 228.6 705.5 228.3 705.7 227.8 705.9 227.4 706.1 227.2 706.2 226.7 706.3 226.4 706.5 225.8 706.7 224.6 706.9 223.0 707.1 221.0 707.2 218.8 707.3 218.1 707.5 214.5 707.7 210.3 707.9 205.7 708.1 201.2 708.2 197.6 708.3 196.3 708.5 193.4 708.7 192.1 708.9 192.5 709.1 195.2 709.2 197.8 709.3 198.9 709.5 202.9 709.7 205.9 709.9 208.7 710.0 210.0 710.1 210.4 710.2 210.7 710.2 210.7 710.3 210.9 710.4 210.8 710.5 210.3 710.6 210.2 710.7 209.9 710.8 209.4 710.9 208.9 711.0 208.6 711.1 208.6 711.2 208.7 711.2 208.8 711.3 209.2 711.4 210.1 711.5 210.6 711.6 211.4 711.7 212.5 711.8 214.0 711.9 215.2 712.0 216.7 712.1 217.6 712.2 219.2 712.2 219.5 712.3 220.1 712.4 221.5 712.5 222.2 712.7 223.9 712.9 225.4 713.1 226.4 713.2 227.2 713.3 227.0 713.5 227.8 713.7 228.1 713.9 228.4 714.1 229.0 714.2 229.1 714.3 229.0 714.5 229.2 714.7 229.4 714.9 229.4 715.1 229.5 715.2 229.7 715.3 229.9 715.5 229.9 715.7 230.2 715.9 230.5 716.1 230.5 716.2 230.6 716.3 230.6 716.5 230.5 716.7 230.6 716.9 230.8 717.1 230.9 717.2 230.7 717.3 230.9 717.5 230.8 717.7 230.8 717.9 230.7 718.1 230.9 718.2 231.1 718.3 231.1 718.5 231.2 718.7 231.3 718.9 231.4 719.1 231.5 719.2 231.6 719.3 231.5 719.5 231.5 719.7 231.4 719.9 231.8 720.1 232.0 720.2 232.0 720.3 231.7 720.5 231.4 720.7 231.6 721.2 231.4 722.2 231.8 723.2 231.9 724.2 232.2 725.2 232.5 726.2 232.5 727.2 232.1 728.2 232.3 729.2 232.4 730.2 232.5 731.2 232.3 732.2 232.4 733.2 232.2 734.2 232.2 735.2 232.3 736.2 232.2 737.2 232.2 738.2 232.4 739.2 232.4 740.2 232.4 741.2 232.4 742.2 232.4 743.2 232.4 744.2 232.4 745.2 232.3 746.2 232.3 747.2 232.5 748.2 232.7 749.2 232.5 750.2 232.6 751.2 232.7 752.2 232.6 753.2 232.4 754.2 232.7 755.2 232.5 756.2 232.6 757.2 232.5 758.2 232.5 759.2 232.4 760.2 232.6 761.2 232.7 762.2 232.9 763.2 232.6 764.2 232.7 765.2 232.8 766.2 232.5 767.2 232.2 768.2 232.3 769.2 232.5 770.2 232.7 771.2 232.5 772.2 232.5 773.2 232.4 774.2 232.1 775.2 232.2 776.2 232.4 777.2 232.6 778.2 232.8 779.2 232.7 780.2 232.5 781.2 232.4 782.2 232.7 783.2 232.8 784.2 232.7 785.2 232.7 786.2 232.6 787.2 232.3 788.2 232.7 789.2 232.8 790.2 232.7 791.2 232.7 792.2 232.7 793.2 232.7 794.2 232.6 795.2 232.6 796.2 232.4 797.2 232.3 798.2 232.2 799.2 232.4 800.2 232.6 801.2 232.6 802.2 232.6 803.2 232.6 804.2 232.7 805.2 232.5 806.2 232.8 807.2 232.6 808.2 232.6 809.2 232.7 810.2 232.6 811.2 232.6 812.2 232.6 813.2 232.9 814.2 232.7 815.2 232.7 816.2 232.8 817.2 232.8 818.2 232.7 819.2 232.8 820.2 232.7 821.2 232.8 822.2 232.9 823.2 232.8 824.2 232.7 825.2 232.5 826.2 232.3 827.2 232.4 828.2 232.6 829.2 232.6 830.2 232.9 831.2 232.7 832.2 232.9 833.2 232.6 834.2 232.6 835.2 232.7 836.2 232.7 837.2 232.7 838.2 232.6 839.2 232.6 840.2 232.7 841.2 232.7 842.2 232.6 843.2 232.6 844.2 232.8 845.2 232.7 846.2 232.7 847.2 232.7 848.2 232.6 849.2 232.6 850.2 232.6 851.2 232.8 852.2 232.9 853.2 232.8 854.2 233.0 855.2 232.9 856.2 232.9 857.2 232.8 858.2 232.6 859.2 232.7 860.2 232.5 861.2 232.6 862.2 232.4 863.2 232.4 864.2 232.7 865.2 232.6 866.2 232.6 867.2 232.7 868.2 232.6 869.2 232.5 870.2 232.5 871.2 232.5 872.2 232.3 873.2 232.4 874.2 232.4 875.2 232.4 875.3 232.4 875.5 232.4 875.7 232.1 875.9 232.1 876.1 232.0 876.2 232.2 876.3 232.5 876.5 232.4 876.7 232.2 876.9 232.1 877.1 232.1 877.2 232.1 877.3 232.1 877.5 232.1 877.7 232.1 877.9 231.9 878.1 231.9 878.2 231.6 878.3 231.9 878.5 232.2 878.7 232.2 878.9 232.2 879.1 232.0 879.2 232.0 879.3 231.9 879.5 231.9 879.7 231.9 879.9 231.7 880.1 231.6 880.2 231.7 880.3 231.5 880.5 231.7 880.7 231.5 880.9 231.5 881.1 231.6 881.2 231.5 881.3 231.6 881.5 231.5 881.7 231.1 881.9 231.3 882.1 231.0 882.2 231.0 882.3 230.9 882.5 230.9 882.7 230.9 882.9 230.9 883.1 230.6 883.2 230.3 883.3 230.2 883.5 230.2 883.7 230.4 883.9 230.1 884.1 229.9 884.2 229.6 884.3 229.8 884.5 229.5 884.7 229.4 884.9 229.1 885.1 228.5 885.2 227.9 885.3 227.7 885.5 226.8 885.7 225.4 885.9 223.6 886.1 222.0 886.2 220.1 886.3 219.2 886.5 216.6 886.7 213.6 886.9 211.0 887.1 209.1 887.2 208.7 887.3 208.5 887.5 209.0 887.7 210.6 887.9 212.8 888.1 215.3 888.2 217.5 888.3 217.7 888.5 219.8 888.7 221.5 888.9 222.4 889.1 223.0 889.2 223.0 889.2 222.9 889.3 222.9 889.4 222.7 889.5 222.3 889.6 221.6 889.7 221.1 889.8 220.7 889.9 220.3 890.0 219.7 890.1 219.5 890.2 219.4 890.2 218.8 890.3 218.9 890.4 218.9 890.5 219.1 890.6 218.9 890.7 219.5 890.8 220.4 890.9 221.3 891.0 222.1 891.1 222.4 891.2 223.1 891.2 223.7 891.3 224.1 891.4 224.6 891.5 225.2 891.6 225.8 891.7 226.4 891.9 227.7 892.1 228.4 892.2 228.9 892.3 229.1 892.5 229.5 892.7 229.6 892.9 230.0 893.1 230.4 893.2 230.5 893.3 230.7 893.5 230.9 893.7 230.7 893.9 231.0 894.1 231.2 894.2 231.0 894.3 231.0 894.5 231.2 894.7 231.4 894.9 231.4 895.1 231.5 895.2 231.7 895.3 231.6 895.5 231.5 895.7 231.5 895.9 231.5 896.1 231.7 896.2 231.8 896.3 231.7 896.5 231.8 896.7 231.7 896.9 231.9 897.1 231.8 897.2 231.9 897.3 232.2 897.5 232.1 897.7 232.1 897.9 232.0 898.1 232.1 898.2 231.9 898.3 232.2 898.5 232.1 898.7 232.1 898.9 232.1 899.1 232.2 899.2 232.1 899.3 232.1 900.2 232.1 901.2 232.3 902.2 232.2 903.2 232.4 904.2 232.5 905.2 232.6 906.2 232.7 907.2 232.7 908.2 232.7 909.2 232.8 910.2 232.7 911.2 232.7 912.2 232.5 913.2 232.7 914.2 232.9 915.2 232.6 916.2 232.7 917.2 232.8 918.2 232.9 919.2 232.9 920.2 232.9 921.2 233.1 922.2 232.6 923.2 232.6 924.2 232.9 925.2 232.8 926.2 232.9 927.2 232.9 928.2 233.0 929.2 232.9 930.2 233.0 931.2 232.9 932.2 233.1 933.2 233.0 934.2 233.0 935.2 232.8 936.2 233.0 937.2 232.8 938.2 233.0 939.2 233.2 940.2 233.2 941.2 233.0 942.2 232.6 943.2 232.4 944.2 232.5 945.2 232.9 946.2 232.7 947.2 232.8 948.2 232.7 949.2 232.6 950.2 232.4 951.2 232.5 952.2 232.6 953.2 232.5 954.2 232.2 955.2 232.3 956.2 232.5 957.2 232.5 958.2 232.7 959.2 232.6 960.2 232.5 961.2 232.4 962.2 232.7 963.2 232.6 964.2 232.6 965.2 232.8 966.2 233.0 967.2 232.8 968.2 232.7 969.2 232.9 970.2 232.6 971.2 232.5 972.2 232.4 973.2 232.4 974.2 232.6 975.2 232.2 976.2 232.3 977.2 232.4 978.2 232.3 979.2 232.3 980.2 232.3 981.2 232.2 981.8 231.9 982.0 232.0 982.2 232.2 982.2 232.0 982.4 232.0 982.6 232.1 982.8 232.1 983.0 231.8 983.2 231.9 983.2 231.9 983.4 231.7 983.6 232.0 983.8 231.8 984.0 231.7 984.2 231.8 984.2 231.9 984.4 232.0 984.6 231.7 984.8 231.8 985.0 231.6 985.2 231.8 985.2 231.5 985.4 231.2 985.6 231.3 985.8 231.1 986.0 231.5 986.2 231.3 986.2 231.6 986.4 231.2 986.6 231.3 986.8 231.2 987.0 231.1 987.2 230.9 987.2 230.9 987.4 230.9 987.6 231.2 987.8 231.0 988.0 230.8 988.2 230.6 988.2 230.7 988.4 230.5 988.6 230.3 988.8 230.2 989.0 230.0 989.2 229.9 989.2 229.8 989.4 229.5 989.6 229.5 989.8 229.2 990.0 228.9 990.2 228.6 990.2 228.6 990.4 228.5 990.6 228.3 990.8 227.9 991.0 227.3 991.2 226.9 991.2 226.9 991.4 226.4 991.6 224.9 991.8 223.5 992.0 221.3 992.2 218.3 992.2 217.4 992.4 214.6 992.6 209.6 992.8 203.7 993.0 196.8 993.2 190.0 993.2 188.5 993.4 184.2 993.6 179.9 993.8 178.1 994.0 179.7 994.2 183.7 994.2 184.8 994.4 189.3 994.6 195.9 994.8 202.0 995.0 207.2 995.2 211.6 995.2 212.4 995.4 214.7 995.6 216.3 995.8 216.7 996.0 216.0 996.1 215.1 996.2 213.8 996.2 213.4 996.3 213.0 996.4 211.6 996.5 210.6 996.6 208.8 996.7 207.8 996.8 206.1 996.9 204.9 997.0 203.8 997.1 203.4 997.2 202.8 997.2 202.6 997.3 202.7 997.4 203.3 997.5 203.9 997.6 205.0 997.7 206.1 997.8 207.9 997.9 209.0 998.0 211.0 998.1 212.5 998.2 214.9 998.2 215.9 998.3 216.2 998.4 218.4 998.5 219.4 998.6 220.8 998.8 222.9 999.0 224.6 999.2 226.2 999.2 226.5 999.4 227.2 999.6 227.8 999.8 228.5 1000.0 228.7 1000.2 228.7 1000.2 228.9 1000.4 229.2 1000.6 229.7 1000.8 229.7 1001.0 230.1 1001.2 230.5 1001.2 230.3 1001.4 230.4 1001.6 230.3 1001.8 230.5 1002.0 230.5 1002.2 230.2 1002.2 230.5 1002.4 230.7 1002.6 230.9 1002.8 231.2 1003.0 231.3 1003.2 231.0 1003.2 231.2 1003.4 231.2 1003.6 231.3 1003.8 231.4 1004.0 231.3 1004.2 231.3 1004.2 231.2 1004.4 231.5 1004.6 231.3 1004.8 231.5 1005.0 231.7 1005.2 231.7 1005.2 231.8 1005.4 231.7 1005.6 231.9 1005.8 231.9 1006.2 232.1 1007.2 232.2 1008.2 232.2 1009.2 232.2 1010.2 232.4 1011.2 232.6 1012.2 232.6 1013.2 232.7 1014.2 232.6 1015.2 232.4 1016.2 232.3 1017.2 232.3 1018.2 232.4 1019.2 232.4 1020.2 232.4 1021.2 232.6 1022.2 232.6 1023.2 232.5 1024.2 232.6 1025.2 232.7 1026.2 232.5 1027.2 232.9 1028.2 233.0 1029.2 233.0 1030.2 232.7 1031.2 232.6 1032.2 232.8 1033.2 233.1 1034.2 232.9 1035.2 232.6 1036.2 232.9 1037.2 232.8 1038.2 232.9 1039.2 232.7 1040.2 232.7 1041.2 232.7 1042.2 232.5 1043.2 232.8 1044.2 232.6 1045.2 232.6 1046.2 232.8 1047.2 232.7 1048.2 232.7 1049.2 232.7 1050.2 232.8 1051.2 232.7 1052.2 232.7 1053.2 232.9 1054.2 232.8 1055.2 232.6 1056.2 232.6 1057.2 232.3 1058.2 232.4 1059.2 232.5 1060.2 232.7 1061.2 232.7 1062.2 232.5 1063.2 232.5 1064.2 232.6 1065.2 232.4 1066.2 232.2 1067.2 231.8 1068.2 231.4 1069.2 231.0 1070.2 230.6 1071.2 230.3 1072.2 230.1 1073.2 229.8 1074.2 230.1 1075.2 230.3 1076.2 230.9 1077.2 231.2 1078.2 231.7 1079.2 231.6 1080.2 231.8 1081.2 232.2 1082.2 232.1 1083.2 231.9 1084.2 231.8 1085.2 231.9 1085.7 231.8 1085.9 231.8 1086.1 231.6 1086.2 231.7 1086.3 231.7 1086.5 231.9 1086.7 232.1 1086.9 232.0 1087.1 232.1 1087.2 232.0 1087.3 232.0 1087.5 231.8 1087.7 231.8 1087.9 231.9 1088.1 231.7 1088.2 231.8 1088.3 231.6 1088.5 231.7 1088.7 231.7 1088.9 231.7 1089.1 231.6 1089.2 231.5 1089.3 231.6 1089.5 231.8 1089.7 231.6 1089.9 231.6 1090.1 231.8 1090.2 231.7 1090.3 231.6 1090.5 231.6 1090.7 231.2 1090.9 231.0 1091.1 230.9 1091.2 231.2 1091.3 231.0 1091.5 230.9 1091.7 230.7 1091.9 230.8 1092.1 230.7 1092.2 230.5 1092.3 230.5 1092.5 230.6 1092.7 230.4 1092.9 230.2 1093.1 229.9 1093.2 230.2 1093.3 229.8 1093.5 229.7 1093.7 229.6 1093.9 229.4 1094.1 229.4 1094.2 228.9 1094.3 228.9 1094.5 228.6 1094.7 228.5 1094.9 228.2 1095.1 227.9 1095.2 227.3 1095.3 227.2 1095.5 226.6 1095.7 225.6 1095.9 224.2 1096.1 222.3 1096.2 220.8 1096.3 220.2 1096.5 217.0 1096.7 213.3 1096.9 209.3 1097.1 205.0 1097.2 201.9 1097.3 201.2 1097.5 198.4 1097.7 197.5 1097.9 198.4 1098.1 200.7 1098.2 203.6 1098.3 204.4 1098.5 208.6 1098.7 212.5 1098.9 216.1 1099.1 218.8 1099.2 220.3 1099.3 220.7 1099.5 222.2 1099.7 223.3 1099.9 223.3 1100.1 222.5 1100.2 222.0 1100.3 221.8 1100.4 221.3 1100.5 220.4 1100.6 219.8 1100.7 218.6 1100.8 217.9 1100.9 216.6 1101.0 216.0 1101.1 214.9 1101.2 214.2 1101.2 214.0 1101.3 213.4 1101.4 213.1 1101.5 213.0 1101.6 213.2 1101.7 213.4 1101.8 213.9 1101.9 214.9 1102.0 215.1 1102.1 216.3 1102.2 217.1 1102.2 217.9 1102.3 218.3 1102.4 219.2 1102.5 220.4 1102.6 221.1 1102.7 222.5 1102.8 223.2 1102.9 224.5 1103.1 225.8 1103.2 226.8 1103.3 227.2 1103.5 228.0 1103.7 228.4 1103.9 228.7 1104.1 229.0 1104.2 229.5 1104.3 229.7 1104.5 229.9 1104.7 229.8 1104.9 230.0 1105.1 230.1 1105.2 230.3 1105.3 230.5 1105.5 230.3 1105.7 230.3 1105.9 230.4 1106.1 230.2 1106.2 230.4 1106.3 230.5 1106.5 230.7 1106.7 230.9 1106.9 230.9 1107.1 231.2 1107.2 231.3 1107.3 231.2 1107.5 231.2 1107.7 231.3 1107.9 231.4 1108.1 231.3 1108.2 231.5 1108.3 231.5 1108.5 231.4 1108.7 231.5 1108.9 231.6 1109.1 231.6 1109.2 231.4 1109.3 231.3 1109.5 231.5 1109.7 231.6 1110.2 231.8 1111.2 231.8 1111.7 231.7 1111.9 232.0 1112.1 232.0 1112.2 231.9 1112.3 232.1 1112.5 231.9 1112.7 232.1 1112.9 231.7 1113.1 231.9 1113.2 231.8 1113.3 231.8 1113.5 232.0 1113.7 232.0 1113.9 232.1 1114.1 232.1 1114.2 232.2 1114.3 232.4 1114.5 232.2 1114.7 232.2 1114.9 232.2 1115.1 232.0 1115.2 231.9 1115.3 231.9 1115.5 231.9 1115.7 232.2 1115.9 232.0 1116.1 232.0 1116.2 232.0 1116.3 231.8 1116.5 231.7 1116.7 231.7 1116.9 231.6 1117.1 231.8 1117.2 231.7 1117.3 231.8 1117.5 231.5 1117.7 231.7 1117.9 231.6 1118.1 231.7 1118.2 231.6 1118.3 231.6 1118.5 231.6 1118.7 231.5 1118.9 231.4 1119.1 231.3 1119.2 231.3 1119.3 231.2 1119.5 231.1 1119.7 230.9 1119.9 230.6 1120.1 230.6 1120.2 231.0 1120.3 230.8 1120.5 230.7 1120.7 230.7 1120.9 230.6 1121.1 230.3 1121.2 230.0 1121.3 229.8 1121.5 229.4 1121.7 228.9 1121.9 228.4 1122.1 227.4 1122.2 226.7 1122.3 226.4 1122.5 225.0 1122.7 222.8 1122.9 220.8 1123.1 218.8 1123.2 217.4 1123.3 217.2 1123.5 215.8 1123.7 215.3 1123.9 215.9 1124.1 217.2 1124.2 218.3 1124.3 218.7 1124.5 220.7 1124.7 222.5 1124.9 224.4 1125.1 225.7 1125.2 226.8 1125.3 227.2 1125.5 227.6 1125.7 228.2 1125.9 228.0 1126.1 228.2 1126.2 228.0 1126.3 227.7 1126.5 227.3 1126.5 226.9 1126.7 226.3 1126.7 226.1 1126.9 225.7 1126.9 225.4 1127.1 224.5 1127.1 224.2 1127.2 223.7 1127.3 223.8 1127.3 223.8 1127.5 223.3 1127.5 223.3 1127.7 223.5 1127.7 223.3 1127.9 223.5 1127.9 223.5 1128.1 224.2 1128.1 224.4 1128.2 225.0 1128.3 225.1 1128.3 225.5 1128.5 226.2 1128.5 226.3 1128.7 227.1 1128.7 227.4 1128.9 228.2 1128.9 228.3 1129.1 228.9 1129.2 229.4 1129.3 229.6 1129.5 229.9 1129.7 230.3 1129.9 230.5 1130.1 230.7 1130.2 231.1 1130.3 231.1 1130.5 231.4 1130.7 231.1 1130.9 231.1 1131.1 231.4 1131.2 231.6 1131.3 231.7 1131.5 231.9 1131.7 231.9 1131.9 232.0 1132.1 231.9 1132.2 232.0 1132.3 231.9 1132.5 231.8 1132.7 231.7 1132.9 231.7 1133.1 232.0 1133.2 232.2 1133.3 232.0 1133.5 232.0 1133.7 232.1 1133.9 232.1 1134.1 232.0 1134.2 232.2 1134.3 232.1 1134.5 232.0 1134.7 231.9 1134.9 232.1 1135.1 232.2 1135.2 232.0 1135.3 232.1 1135.5 232.1 1135.7 232.1 1136.2 232.1 1137.2 231.9 1138.2 232.3 1139.2 232.6 1140.2 232.5 1141.2 232.6 1142.2 232.6 1143.2 232.7 1144.2 233.0 1145.2 233.1 1146.2 232.8 1147.2 233.1 1148.2 232.8 1149.2 232.8 1150.2 232.8 1151.2 233.0 1152.2 232.5 1153.2 232.5 1154.2 232.7 1155.2 232.6 1156.2 232.5 1157.2 232.5 1158.2 232.5 1158.5 232.6 1158.7 232.4 1158.9 232.7 1159.1 232.9 1159.2 233.0 1159.3 232.7 1159.5 232.8 1159.7 232.6 1159.9 232.8 1160.1 232.7 1160.2 232.7 1160.3 233.1 1160.5 232.8 1160.7 232.8 1160.9 232.8 1161.1 232.7 1161.2 232.6 1161.3 232.6 1161.5 232.5 1161.7 232.5 1161.9 232.4 1162.1 232.4 1162.2 232.6 1162.3 232.6 1162.5 232.3 1162.7 232.2 1162.9 232.3 1163.1 232.3 1163.2 232.4 1163.3 232.6 1163.5 232.6 1163.7 232.4 1163.9 232.3 1164.1 232.3 1164.2 232.4 1164.3 232.5 1164.5 232.5 1164.7 232.5 1164.9 232.0 1165.1 232.1 1165.2 231.8 1165.3 231.8 1165.5 231.8 1165.7 231.7 1165.9 231.9 1166.1 231.7 1166.2 232.1 1166.3 232.0 1166.5 232.0 1166.7 231.9 1166.9 232.0 1167.1 231.8 1167.2 232.0 1167.3 231.8 1167.5 231.9 1167.7 231.6 1167.9 231.4 1168.1 231.3 1168.2 231.5 1168.3 231.1 1168.5 230.9 1168.7 230.3 1168.9 229.5 1169.1 229.0 1169.2 228.5 1169.3 228.2 1169.5 227.2 1169.7 226.1 1169.9 224.8 1170.1 223.8 1170.2 223.1 1170.3 223.0 1170.5 222.8 1170.7 222.7 1170.9 223.6 1171.1 224.9 1171.2 225.9 1171.3 226.3 1171.5 227.5 1171.7 228.4 1171.9 229.0 1172.1 229.3 1172.2 229.6 1172.3 229.8 1172.5 230.2 1172.7 230.5 1172.9 230.3 1173.1 230.2 1173.2 229.6 1173.3 229.9 1173.5 229.7 1173.5 229.6 1173.7 229.2 1173.7 229.3 1173.9 228.7 1173.9 228.6 1174.1 228.1 1174.1 228.1 1174.2 227.9 1174.3 227.6 1174.3 227.4 1174.5 227.2 1174.5 227.1 1174.7 227.2 1174.7 227.3 1174.9 227.4 1174.9 227.6 1175.1 228.0 1175.1 228.0 1175.2 228.4 1175.3 228.5 1175.3 228.8 1175.5 229.3 1175.5 229.2 1175.7 229.6 1175.7 229.9 1175.9 230.4 1175.9 230.6 1176.1 230.8 1176.2 231.0 1176.3 231.1 1176.5 231.4 1176.7 231.7 1176.9 231.7 1177.1 232.0 1177.2 232.0 1177.3 231.8 1177.5 231.9 1177.7 231.9 1177.9 232.3 1178.1 232.2 1178.2 232.0 1178.3 232.2 1178.5 232.3 1178.7 232.2 1178.9 232.2 1179.1 232.2 1179.2 232.4 1179.3 232.4 1179.5 232.4 1179.7 232.1 1179.9 232.1 1180.1 232.0 1180.2 232.2 1180.3 232.1 1180.5 232.2 1180.7 232.2 1180.9 232.4 1181.1 232.6 1181.2 232.5 1181.3 232.4 1181.5 232.5 1181.7 232.6 1181.9 232.4 1182.1 232.3 1182.2 232.6 1182.3 232.6 1182.5 232.5 1183.2 232.7 1184.2 232.7 1185.2 232.9 1186.2 233.0 1187.2 232.7 1188.2 232.4 1189.2 232.6 1190.2 232.5 1191.2 232.7 1192.2 232.9 1193.2 232.9 1194.2 233.0 1195.2 233.0 1196.2 233.2 1197.2 233.4 1198.2 233.0 1199.2 232.9 1200.2 233.2 1201.2 232.9 1202.2 232.7 1203.2 232.9 1204.2 233.1 1205.2 233.1 1206.2 233.2 1207.2 232.9 1208.2 232.9 1209.2 232.8 1210.2 233.0 1211.2 233.0 1212.2 233.2 1213.2 233.0 1214.2 233.1 1215.2 233.1 1216.2 232.9 1217.2 233.0 1218.2 232.9 1219.2 232.9 1220.2 233.0 1221.2 233.0 1222.2 233.1 1223.2 233.2 1224.2 233.1 1225.2 232.9 1226.2 233.1 1227.2 232.8 1228.2 232.9 1229.2 232.9 1230.2 232.8 1231.2 232.7 1232.2 232.7 1233.2 232.9 1234.2 233.0 1235.2 233.1 1236.2 233.0 1237.2 232.9 1238.2 232.9 1239.2 233.0 1240.2 233.2 1241.2 233.0 1242.2 233.2 1243.2 233.2 1244.2 233.4 1245.2 233.2 1246.2 233.0 1247.2 233.0 1248.2 233.1 1249.2 233.1 1250.2 233.0 1251.2 232.8 1252.2 232.6 1253.2 232.8 1254.2 232.8 1255.2 233.0 1256.2 232.8 1257.2 232.9 1258.0 233.1 1258.2 233.1 1258.2 233.0 1258.4 233.1 1258.6 233.3 1258.8 233.2 1259.0 233.0 1259.2 233.0 1259.2 232.8 1259.4 233.0 1259.6 232.5 1259.8 232.5 1260.0 232.7 1260.2 232.8 1260.2 232.8 1260.4 232.6 1260.6 232.6 1260.8 232.7 1261.0 232.8 1261.2 232.8 1261.2 232.6 1261.4 232.9 1261.6 233.0 1261.8 233.0 1262.0 232.7 1262.2 232.7 1262.2 232.8 1262.4 232.7 1262.6 232.6 1262.8 232.7 1263.0 232.7 1263.2 232.8 1263.2 232.9 1263.4 232.9 1263.6 232.7 1263.8 232.5 1264.0 232.5 1264.2 232.5 1264.2 232.6 1264.4 232.6 1264.6 232.8 1264.8 232.7 1265.0 232.6 1265.2 232.7 1265.2 232.4 1265.4 232.3 1265.6 232.4 1265.8 232.4 1266.0 232.3 1266.2 232.6 1266.2 232.6 1266.4 232.5 1266.6 232.6 1266.8 232.8 1267.0 232.7 1267.2 232.5 1267.2 232.5 1267.4 232.1 1267.6 232.1 1267.8 232.1 1268.0 232.1 1268.2 232.0 1268.2 231.9 1268.4 231.8 1268.6 231.3 1268.8 230.9 1269.0 230.4 1269.2 230.1 1269.2 229.8 1269.4 229.3 1269.6 228.9 1269.8 228.5 1270.0 228.4 1270.2 228.5 1270.2 228.7 1270.4 228.8 1270.6 229.2 1270.8 229.8 1271.0 230.2 1271.2 230.8 1271.2 230.7 1271.4 231.4 1271.6 231.7 1271.8 231.3 1272.0 231.5 1272.2 231.7 1272.2 232.0 1272.4 232.2 1272.6 232.1 1272.8 231.7 1273.0 231.6 1273.2 231.6 1273.2 231.7 1273.4 231.5 1273.4 231.6 1273.6 231.2 1273.6 231.4 1273.8 231.3 1273.8 231.2 1274.0 231.2 1274.0 230.8 1274.2 230.8 1274.2 230.8 1274.2 230.9 1274.4 230.7 1274.4 230.7 1274.6 230.6 1274.6 230.6 1274.8 230.6 1274.8 230.7 1275.0 230.9 1275.0 230.9 1275.2 231.3 1275.2 231.1 1275.2 231.0 1275.4 231.2 1275.4 231.1 1275.6 231.6 1275.6 231.6 1275.8 231.7 1275.8 231.9 1276.0 232.2 1276.2 232.5 1276.2 232.4 1276.4 232.4 1276.6 232.4 1276.8 232.7 1277.0 232.7 1277.2 232.7 1277.2 232.7 1277.4 232.8 1277.6 233.0 1277.8 232.8 1278.0 232.8 1278.2 232.8 1278.2 232.7 1278.4 232.6 1278.6 232.8 1278.8 232.6 1279.0 232.6 1279.2 232.8 1279.2 232.7 1279.4 232.7 1279.6 232.8 1279.8 232.7 1280.0 233.1 1280.2 233.1 1280.2 233.0 1280.4 233.0 1280.6 233.1 1280.8 232.7 1281.0 232.6 1281.2 232.7 1281.2 232.8 1281.4 232.9 1281.6 233.0 1281.8 232.9 1282.0 233.0 1282.2 232.9 1283.2 232.9 1284.2 233.0 1285.2 233.1 1286.2 233.0 1287.2 233.0 1288.2 233.2 1289.2 233.3 1290.2 233.2 1291.2 233.0 1292.2 233.0 1293.2 233.0 1294.2 233.2 1295.2 233.2 1296.2 233.0 1297.2 233.2 1298.2 233.2 1299.2 233.2 1300.2 233.2 1301.2 233.2 1302.2 233.1 1303.2 232.9 1304.2 232.6 1305.2 233.0 1306.2 232.9 1307.2 233.0 1308.2 233.1 1309.2 233.1 1310.2 233.2 1311.2 233.2 1312.2 233.2 1313.2 233.1 1314.2 232.9 1315.2 232.7 1316.2 232.6 1317.2 232.9 1318.2 232.8 1319.2 232.8 1320.2 232.7 1321.2 232.6 1322.2 232.8 1323.2 233.0 1324.2 232.8 1325.2 232.8 1326.2 232.9 1327.2 232.9 1328.0 232.9 1328.2 232.9 1328.2 233.0 1328.4 232.8 1328.6 232.7 1328.8 232.7 1329.0 232.7 1329.2 232.7 1329.2 232.6 1329.4 232.6 1329.6 232.6 1329.8 232.8 1330.0 232.9 1330.2 232.9 1330.2 233.1 1330.4 232.8 1330.6 232.8 1330.8 232.5 1331.0 232.6 1331.2 232.7 1331.2 232.4 1331.4 232.6 1331.6 232.5 1331.8 232.6 1332.0 232.6 1332.2 232.7 1332.2 233.0 1332.4 232.8 1332.6 233.0 1332.8 232.7 1333.0 232.6 1333.2 232.8 1333.2 232.6 1333.4 232.8 1333.6 232.5 1333.8 232.6 1334.0 232.7 1334.2 232.4 1334.2 232.5 1334.4 232.5 1334.6 232.5 1334.8 232.5 1335.0 232.6 1335.2 232.7 1335.2 232.6 1335.4 232.5 1335.6 232.5 1335.8 232.1 1336.0 232.3 1336.2 232.2 1336.2 232.2 1336.4 232.3 1336.6 232.3 1336.8 232.1 1337.0 232.2 1337.2 232.4 1337.2 232.4 1337.4 232.0 1337.6 231.9 1337.8 231.5 1338.0 231.5 1338.2 231.2 1338.2 231.0 1338.4 230.7 1338.6 230.3 1338.8 229.5 1339.0 228.7 1339.2 227.8 1339.2 227.5 1339.4 226.9 1339.6 226.2 1339.8 225.7 1340.0 225.6 1340.2 225.9 1340.2 225.9 1340.4 226.1 1340.6 226.8 1340.8 227.9 1341.0 229.0 1341.2 229.6 1341.2 229.8 1341.4 230.2 1341.6 230.5 1341.8 231.1 1342.0 231.4 1342.2 231.4 1342.2 231.3 1342.4 231.5 1342.6 231.9 1342.8 231.7 1343.0 231.6 1343.2 231.3 1343.2 231.1 1343.4 231.1 1343.6 231.0 1343.7 230.9 1343.8 230.7 1343.9 230.5 1344.0 230.3 1344.1 230.0 1344.2 229.9 1344.2 229.8 1344.3 229.7 1344.4 229.6 1344.5 229.4 1344.6 229.2 1344.7 228.9 1344.8 228.8 1344.9 228.7 1345.0 229.0 1345.1 228.9 1345.2 229.2 1345.2 229.3 1345.3 229.3 1345.4 229.5 1345.5 229.9 1345.6 230.2 1345.7 230.5 1345.8 230.5 1345.9 230.4 1346.0 230.6 1346.1 230.9 1346.2 231.0 1346.2 231.0 1346.4 231.3 1346.6 231.6 1346.8 231.9 1347.0 232.0 1347.2 232.0 1347.2 232.0 1347.4 231.9 1347.6 232.1 1347.8 232.3 1348.0 232.2 1348.2 232.5 1348.2 232.4 1348.4 232.4 1348.6 232.3 1348.8 232.5 1349.0 232.6 1349.2 232.6 1349.2 232.5 1349.4 232.8 1349.6 232.8 1349.8 232.9 1350.0 232.5 1350.2 232.5 1350.2 232.7 1350.4 232.6 1350.6 232.3 1350.8 232.5 1351.0 232.7 1351.2 232.8 1351.2 232.7 1351.4 232.6 1351.6 232.6 1351.8 232.6 1352.0 232.8 1352.2 232.8 1353.2 232.8 1354.2 232.8 1355.2 232.9 1356.2 232.8 1357.2 232.7 1358.2 232.7 1359.2 232.7 1360.2 232.8 1361.2 233.0 1362.2 232.9 1363.2 232.9 1364.2 232.9 1365.2 232.8 1366.2 232.8 1367.2 233.0 1368.2 232.9 1369.2 232.9 1370.2 232.9 1371.2 232.9 1372.2 232.8 1373.2 233.2 1374.2 233.0 1375.2 233.0 1376.2 232.9 1377.2 232.9 1378.2 232.9 1379.2 232.9 1380.2 232.8 1381.2 232.9 1382.2 232.9 1383.2 233.1 1384.2 233.3 1385.2 233.1 1386.2 233.0 1387.2 233.1 1388.2 233.0 1389.2 233.0 1390.2 233.1 1391.2 233.0 1392.2 232.9 1393.2 233.0 1394.2 233.0 1395.2 233.1 1396.2 233.0 1397.2 232.9 1398.2 232.7 1399.2 232.7 1400.2 233.0 1401.2 233.2 1402.2 232.9 1403.2 233.0" stroke="#00CBCC"/></g>
<path d="M184.8 937.6V919.3 M372.1 937.6V919.3 M559.2 937.6V919.3 M746.5 937.6V919.3 M933.7 937.6V919.3 M1120.8 937.6V919.3 M1308.0 937.6V919.3 M278.4 937.6V928.3 M465.6 937.6V928.3 M652.9 937.6V928.3 M840.0 937.6V928.3 M1027.2 937.6V928.3 M1214.5 937.6V928.3 M1401.7 937.6V928.3 " stroke="#000" stroke-width="4.1" fill="none"/>
<g font-size="41.5" text-anchor="middle"><text x="184.8" y="989">20</text><text x="372.1" y="989">30</text><text x="559.2" y="989">40</text><text x="746.5" y="989">50</text><text x="933.7" y="989">60</text><text x="1120.8" y="989">70</text><text x="1308.0" y="989">80</text></g>
<g font-size="33.7"><text x="1295.1" y="203.8">SEA28</text><text x="1295.1" y="312.2">SEA26</text><text x="1294.8" y="415.0">SEA24</text><text x="1294.0" y="517.3">SEA22</text><text x="1293.7" y="628.6">SEA20</text><text x="1293.7" y="735.8">SEA18</text><text x="1302.1" y="836.9">SE46</text></g>
<g fill="#000"><circle cx="126.2" cy="60.7" r="6.8"/><use href="#club" transform="translate(123.0 108.6) scale(1.000)"/><use href="#heart" transform="translate(122.6 167.6) scale(1.000)"/><circle cx="414.8" cy="188.8" r="6.6"/><circle cx="458.5" cy="67.8" r="6.4"/><use href="#club" transform="translate(464.0 137.0) scale(0.805)"/><circle cx="499.0" cy="41.9" r="6.6"/><use href="#heart" transform="translate(511.9 212.9) scale(0.854)"/><circle cx="710.0" cy="185.3" r="6.6"/><use href="#heart" transform="translate(718.5 205.7) scale(0.781)"/><circle cx="887.1" cy="198.2" r="6.6"/><circle cx="993.9" cy="171.4" r="6.6"/><use href="#heart" transform="translate(1074.7 215.6) scale(0.807)"/><circle cx="1097.7" cy="190.1" r="6.6"/><use href="#club" transform="translate(1114.3 222.8) scale(0.659)"/><circle cx="1123.6" cy="209.4" r="6.6"/><circle cx="1170.5" cy="212.9" r="6.6"/><use href="#club" transform="translate(1269.6 218.0) scale(0.664)"/><use href="#club" transform="translate(1340.8 218.0) scale(0.664)"/><circle cx="416.1" cy="298.0" r="6.6"/><use href="#heart" transform="translate(510.3 313.0) scale(0.833)"/><circle cx="708.6" cy="290.8" r="6.6"/><use href="#heart" transform="translate(714.5 307.6) scale(0.729)"/><circle cx="887.6" cy="294.8" r="6.6"/><use href="#heart" transform="translate(896.2 313.5) scale(0.729)"/><circle cx="993.9" cy="288.9" r="6.6"/><use href="#heart" transform="translate(1074.7 320.2) scale(0.833)"/><circle cx="1096.9" cy="280.0" r="6.6"/><circle cx="1124.5" cy="311.6" r="6.6"/><circle cx="1170.5" cy="312.2" r="6.6"/><circle cx="416.1" cy="409.3" r="6.6"/><use href="#heart" transform="translate(510.3 423.0) scale(0.833)"/><circle cx="707.8" cy="408.8" r="6.6"/><use href="#heart" transform="translate(715.0 423.5) scale(0.729)"/><circle cx="887.1" cy="406.1" r="6.6"/><use href="#heart" transform="translate(892.7 422.7) scale(0.625)"/><circle cx="993.9" cy="403.4" r="6.6"/><circle cx="1097.4" cy="404.3" r="6.6"/><circle cx="1125.0" cy="421.6" r="6.6"/><circle cx="1170.5" cy="426.2" r="6.6"/><circle cx="416.1" cy="512.1" r="6.6"/><use href="#heart" transform="translate(511.1 530.8) scale(0.833)"/><circle cx="709.7" cy="503.5" r="6.6"/><use href="#heart" transform="translate(714.5 521.5) scale(0.729)"/><circle cx="888.2" cy="530.2" r="6.6"/><circle cx="996.0" cy="493.3" r="6.6"/><use href="#heart" transform="translate(1074.1 538.2) scale(0.833)"/><circle cx="1097.4" cy="517.6" r="6.6"/><circle cx="1123.6" cy="530.2" r="6.6"/><circle cx="1173.2" cy="529.4" r="6.6"/><use href="#club" transform="translate(1269.6 540.5) scale(0.664)"/><use href="#club" transform="translate(1339.5 538.0) scale(0.664)"/><circle cx="416.1" cy="624.7" r="6.6"/><use href="#heart" transform="translate(510.3 635.7) scale(0.833)"/><circle cx="708.6" cy="631.4" r="6.6"/><circle cx="886.3" cy="636.7" r="6.6"/><circle cx="993.9" cy="620.1" r="6.6"/><use href="#heart" transform="translate(1072.0 644.8) scale(0.833)"/><circle cx="1097.4" cy="626.0" r="6.6"/><circle cx="1123.6" cy="639.4" r="6.6"/><circle cx="1169.7" cy="641.0" r="6.6"/><circle cx="416.1" cy="727.5" r="6.6"/><use href="#heart" transform="translate(509.8 740.8) scale(0.833)"/><circle cx="709.7" cy="727.5" r="6.6"/><circle cx="889.0" cy="736.8" r="6.6"/><circle cx="995.2" cy="723.4" r="6.6"/><use href="#heart" transform="translate(1072.8 748.9) scale(0.833)"/><circle cx="1098.8" cy="724.3" r="6.6"/><circle cx="1125.0" cy="747.5" r="6.6"/><circle cx="1171.8" cy="743.5" r="6.6"/><circle cx="416.1" cy="833.4" r="6.6"/><use href="#heart" transform="translate(508.4 850.3) scale(0.833)"/><circle cx="709.7" cy="836.1" r="6.6"/><use href="#heart" transform="translate(715.8 850.8) scale(0.729)"/><circle cx="887.6" cy="847.6" r="6.6"/><use href="#heart" transform="translate(894.3 861.0) scale(0.625)"/><circle cx="995.2" cy="826.0" r="6.6"/><circle cx="1099.0" cy="839.6" r="6.6"/><circle cx="1125.0" cy="856.2" r="6.6"/><circle cx="1171.8" cy="847.4" r="6.6"/><use href="#club" transform="translate(1340.8 860.0) scale(0.664)"/></g>
<g font-size="36">
<text x="141.5" y="71.4" font-size="37.5">&#945;-Mg</text>
<text x="144.2" y="118.7">Mg<tspan dy="9.5">3</tspan><tspan dy="-9.5">Y</tspan>Zn<tspan dy="9.5">6</tspan></text>
<text x="144.2" y="177">Mg<tspan dy="9.5">3</tspan><tspan dy="-9.5">Y</tspan><tspan dy="9.5">2</tspan><tspan dy="-9.5">Zn</tspan><tspan dy="9.5">3</tspan></text>
</g>
<text x="688" y="1065" font-size="50.5">2<tspan font-style="italic">&#952;</tspan>/<tspan font-weight="normal" font-size="49" dx="-1.5">(&#176;)</tspan></text>
<text transform="translate(50.8 641.2) rotate(-90) scale(1 1.06)" font-size="48.85">Intensity <tspan font-weight="normal">(</tspan>A.U.<tspan font-weight="normal">)</tspan></text>
</svg>
</body></html>
